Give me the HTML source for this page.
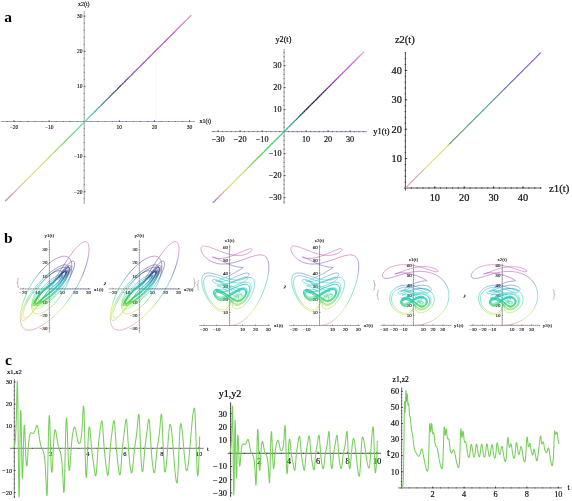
<!DOCTYPE html><html><head><meta charset="utf-8"><style>html,body{margin:0;padding:0;background:#fff;width:572px;height:501px;overflow:hidden} svg{will-change:transform}</style></head><body><svg width="572" height="501" viewBox="0 0 572 501" style="position:absolute;left:0;top:0;font-family:'Liberation Serif',serif">
<rect width="572" height="501" fill="#fff"/>
<text x="4.3" y="22.4" font-size="15.5" text-anchor="start" fill="#000" font-weight="bold" >a</text>
<text x="4" y="243" font-size="15.5" text-anchor="start" fill="#000" font-weight="bold" >b</text>
<text x="5" y="365" font-size="15.5" text-anchor="start" fill="#000" font-weight="bold" >c</text>
<line x1="1" y1="121.5" x2="195" y2="121.5" stroke="#999" stroke-width="0.9" />
<line x1="84.2" y1="121.5" x2="195" y2="121.5" stroke="#a0a0d4" stroke-width="0.9" />
<line x1="84.2" y1="11" x2="84.2" y2="204" stroke="#999" stroke-width="0.9" />
<path d="M6.98 121.9V121.1M14 121.9V121.1M21.02 121.9V121.1M28.04 121.9V121.1M35.06 121.9V121.1M42.08 121.9V121.1M49.1 121.9V121.1M56.12 121.9V121.1M63.14 121.9V121.1M70.16 121.9V121.1M77.18 121.9V121.1M84.2 121.9V121.1M91.22 121.9V121.1M98.24 121.9V121.1M105.26 121.9V121.1M112.28 121.9V121.1M119.3 121.9V121.1M126.32 121.9V121.1M133.34 121.9V121.1M140.36 121.9V121.1M147.38 121.9V121.1M154.4 121.9V121.1M161.42 121.9V121.1M168.44 121.9V121.1M175.46 121.9V121.1M182.48 121.9V121.1M189.5 121.9V121.1M83.8 198.72H84.6M83.8 191.7H84.6M83.8 184.68H84.6M83.8 177.66H84.6M83.8 170.64H84.6M83.8 163.62H84.6M83.8 156.6H84.6M83.8 149.58H84.6M83.8 142.56H84.6M83.8 135.54H84.6M83.8 128.52H84.6M83.8 121.5H84.6M83.8 114.48H84.6M83.8 107.46H84.6M83.8 100.44H84.6M83.8 93.42H84.6M83.8 86.4H84.6M83.8 79.38H84.6M83.8 72.36H84.6M83.8 65.34H84.6M83.8 58.32H84.6M83.8 51.3H84.6M83.8 44.28H84.6M83.8 37.26H84.6M83.8 30.24H84.6M83.8 23.22H84.6M83.8 16.2H84.6M14 121.5V120.2M49.1 121.5V120.2M119.3 121.5V120.2M154.4 121.5V120.2M189.5 121.5V120.2M84.2 191.7H85.5M84.2 156.6H85.5M84.2 86.4H85.5M84.2 51.3H85.5M84.2 16.2H85.5" stroke="#444" stroke-width="0.8" fill="none"/>
<text x="14" y="128.7" font-size="5.5" text-anchor="middle" fill="#111" font-weight="normal" stroke="#111" stroke-width="0.12" >&#8722;20</text>
<text x="49.1" y="128.7" font-size="5.5" text-anchor="middle" fill="#111" font-weight="normal" stroke="#111" stroke-width="0.12" >&#8722;10</text>
<text x="119.3" y="128.7" font-size="5.5" text-anchor="middle" fill="#111" font-weight="normal" stroke="#111" stroke-width="0.12" >10</text>
<text x="154.4" y="128.7" font-size="5.5" text-anchor="middle" fill="#111" font-weight="normal" stroke="#111" stroke-width="0.12" >20</text>
<text x="189.5" y="128.7" font-size="5.5" text-anchor="middle" fill="#111" font-weight="normal" stroke="#111" stroke-width="0.12" >30</text>
<text x="82.4" y="193.51" font-size="5.5" text-anchor="end" fill="#111" font-weight="normal" stroke="#111" stroke-width="0.12" >&#8722;20</text>
<text x="82.4" y="158.41" font-size="5.5" text-anchor="end" fill="#111" font-weight="normal" stroke="#111" stroke-width="0.12" >&#8722;10</text>
<text x="82.4" y="88.22" font-size="5.5" text-anchor="end" fill="#111" font-weight="normal" stroke="#111" stroke-width="0.12" >10</text>
<text x="82.4" y="53.12" font-size="5.5" text-anchor="end" fill="#111" font-weight="normal" stroke="#111" stroke-width="0.12" >20</text>
<text x="82.4" y="18.02" font-size="5.5" text-anchor="end" fill="#111" font-weight="normal" stroke="#111" stroke-width="0.12" >30</text>
<text x="83.8" y="6.2" font-size="6" text-anchor="middle" fill="#000" font-weight="normal" stroke="#000" stroke-width="0.13" >x2(t)</text>
<text x="199.4" y="123.4" font-size="6" text-anchor="start" fill="#000" font-weight="normal" stroke="#000" stroke-width="0.13" >x1(t)</text>
<line x1="5.23" y1="201.18" x2="7.55" y2="198.85" stroke="#c276ae" stroke-width="1.15" stroke-linecap="butt"/>
<line x1="7.55" y1="198.85" x2="9.88" y2="196.53" stroke="#c782ab" stroke-width="1.15" stroke-linecap="butt"/>
<line x1="9.88" y1="196.53" x2="12.2" y2="194.2" stroke="#cb8ea8" stroke-width="1.15" stroke-linecap="butt"/>
<line x1="12.2" y1="194.2" x2="14.53" y2="191.88" stroke="#d09aa5" stroke-width="1.15" stroke-linecap="butt"/>
<line x1="14.53" y1="191.88" x2="16.85" y2="189.55" stroke="#d4a7a2" stroke-width="1.15" stroke-linecap="butt"/>
<line x1="16.85" y1="189.55" x2="19.18" y2="187.22" stroke="#d8b29f" stroke-width="1.15" stroke-linecap="butt"/>
<line x1="19.18" y1="187.22" x2="21.5" y2="184.9" stroke="#daba98" stroke-width="1.15" stroke-linecap="butt"/>
<line x1="21.5" y1="184.9" x2="23.83" y2="182.57" stroke="#dcc391" stroke-width="1.15" stroke-linecap="butt"/>
<line x1="23.83" y1="182.57" x2="26.15" y2="180.25" stroke="#decc8b" stroke-width="1.15" stroke-linecap="butt"/>
<line x1="26.15" y1="180.25" x2="28.48" y2="177.92" stroke="#e0d484" stroke-width="1.15" stroke-linecap="butt"/>
<line x1="28.48" y1="177.92" x2="30.8" y2="175.6" stroke="#e2dd7d" stroke-width="1.15" stroke-linecap="butt"/>
<line x1="30.8" y1="175.6" x2="33.13" y2="173.27" stroke="#e3e477" stroke-width="1.15" stroke-linecap="butt"/>
<line x1="33.13" y1="173.27" x2="35.45" y2="170.95" stroke="#dde374" stroke-width="1.15" stroke-linecap="butt"/>
<line x1="35.45" y1="170.95" x2="37.78" y2="168.62" stroke="#d7e371" stroke-width="1.15" stroke-linecap="butt"/>
<line x1="37.78" y1="168.62" x2="40.11" y2="166.3" stroke="#d1e26e" stroke-width="1.15" stroke-linecap="butt"/>
<line x1="40.11" y1="166.3" x2="42.43" y2="163.97" stroke="#cce26b" stroke-width="1.15" stroke-linecap="butt"/>
<line x1="42.43" y1="163.97" x2="44.76" y2="161.65" stroke="#c6e168" stroke-width="1.15" stroke-linecap="butt"/>
<line x1="44.76" y1="161.65" x2="47.08" y2="159.32" stroke="#c0e164" stroke-width="1.15" stroke-linecap="butt"/>
<line x1="47.08" y1="159.32" x2="49.41" y2="156.99" stroke="#bae061" stroke-width="1.15" stroke-linecap="butt"/>
<line x1="49.41" y1="156.99" x2="51.73" y2="154.67" stroke="#b1df60" stroke-width="1.15" stroke-linecap="butt"/>
<line x1="51.73" y1="154.67" x2="54.06" y2="152.34" stroke="#a5de60" stroke-width="1.15" stroke-linecap="butt"/>
<line x1="54.06" y1="152.34" x2="56.38" y2="150.02" stroke="#99dd60" stroke-width="1.15" stroke-linecap="butt"/>
<line x1="56.38" y1="150.02" x2="58.71" y2="147.69" stroke="#8edc60" stroke-width="1.15" stroke-linecap="butt"/>
<line x1="58.71" y1="147.69" x2="61.03" y2="145.37" stroke="#82db60" stroke-width="1.15" stroke-linecap="butt"/>
<line x1="61.03" y1="145.37" x2="63.36" y2="143.04" stroke="#76da60" stroke-width="1.15" stroke-linecap="butt"/>
<line x1="63.36" y1="143.04" x2="65.68" y2="140.72" stroke="#6bd960" stroke-width="1.15" stroke-linecap="butt"/>
<line x1="65.68" y1="140.72" x2="68.01" y2="138.39" stroke="#60d861" stroke-width="1.15" stroke-linecap="butt"/>
<line x1="68.01" y1="138.39" x2="70.34" y2="136.07" stroke="#5dd869" stroke-width="1.15" stroke-linecap="butt"/>
<line x1="70.34" y1="136.07" x2="72.66" y2="133.74" stroke="#59d872" stroke-width="1.15" stroke-linecap="butt"/>
<line x1="72.66" y1="133.74" x2="74.99" y2="131.42" stroke="#56d87a" stroke-width="1.15" stroke-linecap="butt"/>
<line x1="74.99" y1="131.42" x2="77.31" y2="129.09" stroke="#53d883" stroke-width="1.15" stroke-linecap="butt"/>
<line x1="77.31" y1="129.09" x2="79.64" y2="126.77" stroke="#50d88b" stroke-width="1.15" stroke-linecap="butt"/>
<line x1="79.64" y1="126.77" x2="81.96" y2="124.44" stroke="#4dd894" stroke-width="1.15" stroke-linecap="butt"/>
<line x1="81.96" y1="124.44" x2="84.29" y2="122.11" stroke="#49d89c" stroke-width="1.15" stroke-linecap="butt"/>
<line x1="84.29" y1="122.11" x2="86.61" y2="119.79" stroke="#47d3a1" stroke-width="1.15" stroke-linecap="butt"/>
<line x1="86.61" y1="119.79" x2="88.94" y2="117.46" stroke="#45caa3" stroke-width="1.15" stroke-linecap="butt"/>
<line x1="88.94" y1="117.46" x2="91.26" y2="115.14" stroke="#44c2a4" stroke-width="1.15" stroke-linecap="butt"/>
<line x1="91.26" y1="115.14" x2="93.59" y2="112.81" stroke="#42b9a6" stroke-width="1.15" stroke-linecap="butt"/>
<line x1="93.59" y1="112.81" x2="95.91" y2="110.49" stroke="#40b0a8" stroke-width="1.15" stroke-linecap="butt"/>
<line x1="95.91" y1="110.49" x2="98.24" y2="108.16" stroke="#3ea4a6" stroke-width="1.15" stroke-linecap="butt"/>
<line x1="98.24" y1="108.16" x2="100.57" y2="105.84" stroke="#3c97a4" stroke-width="1.15" stroke-linecap="butt"/>
<line x1="100.57" y1="105.84" x2="102.89" y2="103.51" stroke="#3b8ba3" stroke-width="1.15" stroke-linecap="butt"/>
<line x1="102.89" y1="103.51" x2="105.22" y2="101.19" stroke="#397ea1" stroke-width="1.15" stroke-linecap="butt"/>
<line x1="105.22" y1="101.19" x2="107.54" y2="98.86" stroke="#377098" stroke-width="1.15" stroke-linecap="butt"/>
<line x1="107.54" y1="98.86" x2="109.87" y2="96.54" stroke="#346088" stroke-width="1.15" stroke-linecap="butt"/>
<line x1="109.87" y1="96.54" x2="112.19" y2="94.21" stroke="#315179" stroke-width="1.15" stroke-linecap="butt"/>
<line x1="112.19" y1="94.21" x2="114.52" y2="91.88" stroke="#314470" stroke-width="1.15" stroke-linecap="butt"/>
<line x1="114.52" y1="91.88" x2="116.84" y2="89.56" stroke="#343c70" stroke-width="1.15" stroke-linecap="butt"/>
<line x1="116.84" y1="89.56" x2="119.17" y2="87.23" stroke="#373470" stroke-width="1.15" stroke-linecap="butt"/>
<line x1="119.17" y1="87.23" x2="121.49" y2="84.91" stroke="#3f3277" stroke-width="1.15" stroke-linecap="butt"/>
<line x1="121.49" y1="84.91" x2="123.82" y2="82.58" stroke="#4d3685" stroke-width="1.15" stroke-linecap="butt"/>
<line x1="123.82" y1="82.58" x2="126.14" y2="80.26" stroke="#5c3a94" stroke-width="1.15" stroke-linecap="butt"/>
<line x1="126.14" y1="80.26" x2="128.47" y2="77.93" stroke="#6b3fa3" stroke-width="1.15" stroke-linecap="butt"/>
<line x1="128.47" y1="77.93" x2="130.8" y2="75.61" stroke="#7640ab" stroke-width="1.15" stroke-linecap="butt"/>
<line x1="130.8" y1="75.61" x2="133.12" y2="73.28" stroke="#7f40b0" stroke-width="1.15" stroke-linecap="butt"/>
<line x1="133.12" y1="73.28" x2="135.45" y2="70.96" stroke="#8840b4" stroke-width="1.15" stroke-linecap="butt"/>
<line x1="135.45" y1="70.96" x2="137.77" y2="68.63" stroke="#9140b9" stroke-width="1.15" stroke-linecap="butt"/>
<line x1="137.77" y1="68.63" x2="140.1" y2="66.31" stroke="#9a40bd" stroke-width="1.15" stroke-linecap="butt"/>
<line x1="140.1" y1="66.31" x2="142.42" y2="63.98" stroke="#a140c0" stroke-width="1.15" stroke-linecap="butt"/>
<line x1="142.42" y1="63.98" x2="144.75" y2="61.65" stroke="#a241c0" stroke-width="1.15" stroke-linecap="butt"/>
<line x1="144.75" y1="61.65" x2="147.07" y2="59.33" stroke="#a441c0" stroke-width="1.15" stroke-linecap="butt"/>
<line x1="147.07" y1="59.33" x2="149.4" y2="57" stroke="#a642c0" stroke-width="1.15" stroke-linecap="butt"/>
<line x1="149.4" y1="57" x2="151.72" y2="54.68" stroke="#a843c0" stroke-width="1.15" stroke-linecap="butt"/>
<line x1="151.72" y1="54.68" x2="154.05" y2="52.35" stroke="#aa43c0" stroke-width="1.15" stroke-linecap="butt"/>
<line x1="154.05" y1="52.35" x2="156.37" y2="50.03" stroke="#ab44c0" stroke-width="1.15" stroke-linecap="butt"/>
<line x1="156.37" y1="50.03" x2="158.7" y2="47.7" stroke="#ad44c0" stroke-width="1.15" stroke-linecap="butt"/>
<line x1="158.7" y1="47.7" x2="161.03" y2="45.38" stroke="#af45c0" stroke-width="1.15" stroke-linecap="butt"/>
<line x1="161.03" y1="45.38" x2="163.35" y2="43.05" stroke="#b146c0" stroke-width="1.15" stroke-linecap="butt"/>
<line x1="163.35" y1="43.05" x2="165.68" y2="40.73" stroke="#b246c0" stroke-width="1.15" stroke-linecap="butt"/>
<line x1="165.68" y1="40.73" x2="168" y2="38.4" stroke="#b447c0" stroke-width="1.15" stroke-linecap="butt"/>
<line x1="168" y1="38.4" x2="170.33" y2="36.08" stroke="#b647c0" stroke-width="1.15" stroke-linecap="butt"/>
<line x1="170.33" y1="36.08" x2="172.65" y2="33.75" stroke="#b848c0" stroke-width="1.15" stroke-linecap="butt"/>
<line x1="172.65" y1="33.75" x2="174.98" y2="31.42" stroke="#bc4fc0" stroke-width="1.15" stroke-linecap="butt"/>
<line x1="174.98" y1="31.42" x2="177.3" y2="29.1" stroke="#c158c0" stroke-width="1.15" stroke-linecap="butt"/>
<line x1="177.3" y1="29.1" x2="179.63" y2="26.77" stroke="#c660c0" stroke-width="1.15" stroke-linecap="butt"/>
<line x1="179.63" y1="26.77" x2="181.95" y2="24.45" stroke="#ca69c0" stroke-width="1.15" stroke-linecap="butt"/>
<line x1="181.95" y1="24.45" x2="184.28" y2="22.12" stroke="#cf72c0" stroke-width="1.15" stroke-linecap="butt"/>
<line x1="184.28" y1="22.12" x2="186.6" y2="19.8" stroke="#d47ac0" stroke-width="1.15" stroke-linecap="butt"/>
<line x1="186.6" y1="19.8" x2="188.93" y2="17.47" stroke="#d983c0" stroke-width="1.15" stroke-linecap="butt"/>
<line x1="188.93" y1="17.47" x2="191.25" y2="15.15" stroke="#de8cc0" stroke-width="1.15" stroke-linecap="butt"/>
<line x1="156.3" y1="55" x2="156.3" y2="121" stroke="#e2daf0" stroke-width="0.7" stroke-dasharray="0.7 1.3"/>
<line x1="211.5" y1="131.6" x2="367" y2="131.6" stroke="#999" stroke-width="0.9" />
<line x1="284.1" y1="131.6" x2="367" y2="131.6" stroke="#a0a0d4" stroke-width="0.9" />
<line x1="284.1" y1="48.8" x2="284.1" y2="204" stroke="#999" stroke-width="0.9" />
<path d="M213.7 132.1V131.1M218.1 132.1V131.1M222.5 132.1V131.1M226.9 132.1V131.1M231.3 132.1V131.1M235.7 132.1V131.1M240.1 132.1V131.1M244.5 132.1V131.1M248.9 132.1V131.1M253.3 132.1V131.1M257.7 132.1V131.1M262.1 132.1V131.1M266.5 132.1V131.1M270.9 132.1V131.1M275.3 132.1V131.1M279.7 132.1V131.1M284.1 132.1V131.1M288.5 132.1V131.1M292.9 132.1V131.1M297.3 132.1V131.1M301.7 132.1V131.1M306.1 132.1V131.1M310.5 132.1V131.1M314.9 132.1V131.1M319.3 132.1V131.1M323.7 132.1V131.1M328.1 132.1V131.1M332.5 132.1V131.1M336.9 132.1V131.1M341.3 132.1V131.1M345.7 132.1V131.1M350.1 132.1V131.1M354.5 132.1V131.1M358.9 132.1V131.1M363.3 132.1V131.1M283.6 202H284.6M283.6 197.6H284.6M283.6 193.2H284.6M283.6 188.8H284.6M283.6 184.4H284.6M283.6 180H284.6M283.6 175.6H284.6M283.6 171.2H284.6M283.6 166.8H284.6M283.6 162.4H284.6M283.6 158H284.6M283.6 153.6H284.6M283.6 149.2H284.6M283.6 144.8H284.6M283.6 140.4H284.6M283.6 136H284.6M283.6 131.6H284.6M283.6 127.2H284.6M283.6 122.8H284.6M283.6 118.4H284.6M283.6 114H284.6M283.6 109.6H284.6M283.6 105.2H284.6M283.6 100.8H284.6M283.6 96.4H284.6M283.6 92H284.6M283.6 87.6H284.6M283.6 83.2H284.6M283.6 78.8H284.6M283.6 74.4H284.6M283.6 70H284.6M283.6 65.6H284.6M283.6 61.2H284.6M283.6 56.8H284.6M283.6 52.4H284.6M218.1 131.6V130.1M240.1 131.6V130.1M262.1 131.6V130.1M306.1 131.6V130.1M328.1 131.6V130.1M350.1 131.6V130.1M284.1 197.6H285.6M284.1 175.6H285.6M284.1 153.6H285.6M284.1 109.6H285.6M284.1 87.6H285.6M284.1 65.6H285.6" stroke="#444" stroke-width="0.8" fill="none"/>
<text x="218.1" y="141.8" font-size="8.2" text-anchor="middle" fill="#111" font-weight="normal" stroke="#111" stroke-width="0.18" >&#8722;30</text>
<text x="240.1" y="141.8" font-size="8.2" text-anchor="middle" fill="#111" font-weight="normal" stroke="#111" stroke-width="0.18" >&#8722;20</text>
<text x="262.1" y="141.8" font-size="8.2" text-anchor="middle" fill="#111" font-weight="normal" stroke="#111" stroke-width="0.18" >&#8722;10</text>
<text x="306.1" y="141.8" font-size="8.2" text-anchor="middle" fill="#111" font-weight="normal" stroke="#111" stroke-width="0.18" >10</text>
<text x="328.1" y="141.8" font-size="8.2" text-anchor="middle" fill="#111" font-weight="normal" stroke="#111" stroke-width="0.18" >20</text>
<text x="350.1" y="141.8" font-size="8.2" text-anchor="middle" fill="#111" font-weight="normal" stroke="#111" stroke-width="0.18" >30</text>
<text x="281.5" y="200.31" font-size="8.2" text-anchor="end" fill="#111" font-weight="normal" stroke="#111" stroke-width="0.18" >&#8722;30</text>
<text x="281.5" y="178.31" font-size="8.2" text-anchor="end" fill="#111" font-weight="normal" stroke="#111" stroke-width="0.18" >&#8722;20</text>
<text x="281.5" y="156.31" font-size="8.2" text-anchor="end" fill="#111" font-weight="normal" stroke="#111" stroke-width="0.18" >&#8722;10</text>
<text x="281.5" y="112.31" font-size="8.2" text-anchor="end" fill="#111" font-weight="normal" stroke="#111" stroke-width="0.18" >10</text>
<text x="281.5" y="90.31" font-size="8.2" text-anchor="end" fill="#111" font-weight="normal" stroke="#111" stroke-width="0.18" >20</text>
<text x="281.5" y="68.31" font-size="8.2" text-anchor="end" fill="#111" font-weight="normal" stroke="#111" stroke-width="0.18" >30</text>
<text x="283.4" y="42" font-size="8.2" text-anchor="middle" fill="#000" font-weight="normal" stroke="#000" stroke-width="0.18" >y2(t)</text>
<text x="373.3" y="133.7" font-size="8.4" text-anchor="start" fill="#000" font-weight="normal" stroke="#000" stroke-width="0.18" >y1(t)</text>
<line x1="212.82" y1="202.88" x2="214.71" y2="200.99" stroke="#c070b0" stroke-width="1.35" stroke-linecap="butt"/>
<line x1="214.71" y1="200.99" x2="216.6" y2="199.1" stroke="#c47cad" stroke-width="1.35" stroke-linecap="butt"/>
<line x1="216.6" y1="199.1" x2="218.49" y2="197.21" stroke="#ca8aa9" stroke-width="1.35" stroke-linecap="butt"/>
<line x1="218.49" y1="197.21" x2="220.38" y2="195.32" stroke="#cf99a6" stroke-width="1.35" stroke-linecap="butt"/>
<line x1="220.38" y1="195.32" x2="222.27" y2="193.43" stroke="#d5a7a2" stroke-width="1.35" stroke-linecap="butt"/>
<line x1="222.27" y1="193.43" x2="224.16" y2="191.54" stroke="#d9b49d" stroke-width="1.35" stroke-linecap="butt"/>
<line x1="224.16" y1="191.54" x2="226.04" y2="189.66" stroke="#dcbf94" stroke-width="1.35" stroke-linecap="butt"/>
<line x1="226.04" y1="189.66" x2="227.93" y2="187.77" stroke="#decb8c" stroke-width="1.35" stroke-linecap="butt"/>
<line x1="227.93" y1="187.77" x2="229.82" y2="185.88" stroke="#e1d683" stroke-width="1.35" stroke-linecap="butt"/>
<line x1="229.82" y1="185.88" x2="231.71" y2="183.99" stroke="#e3e17a" stroke-width="1.35" stroke-linecap="butt"/>
<line x1="231.71" y1="183.99" x2="233.6" y2="182.1" stroke="#e0e477" stroke-width="1.35" stroke-linecap="butt"/>
<line x1="233.6" y1="182.1" x2="235.49" y2="180.21" stroke="#dbe376" stroke-width="1.35" stroke-linecap="butt"/>
<line x1="235.49" y1="180.21" x2="237.38" y2="178.32" stroke="#d6e275" stroke-width="1.35" stroke-linecap="butt"/>
<line x1="237.38" y1="178.32" x2="239.27" y2="176.43" stroke="#d1e274" stroke-width="1.35" stroke-linecap="butt"/>
<line x1="239.27" y1="176.43" x2="241.16" y2="174.54" stroke="#cce173" stroke-width="1.35" stroke-linecap="butt"/>
<line x1="241.16" y1="174.54" x2="243.05" y2="172.65" stroke="#c7e171" stroke-width="1.35" stroke-linecap="butt"/>
<line x1="243.05" y1="172.65" x2="244.94" y2="170.76" stroke="#c1e070" stroke-width="1.35" stroke-linecap="butt"/>
<line x1="244.94" y1="170.76" x2="246.83" y2="168.87" stroke="#b6de6d" stroke-width="1.35" stroke-linecap="butt"/>
<line x1="246.83" y1="168.87" x2="248.72" y2="166.98" stroke="#a8dc68" stroke-width="1.35" stroke-linecap="butt"/>
<line x1="248.72" y1="166.98" x2="250.61" y2="165.09" stroke="#9ada63" stroke-width="1.35" stroke-linecap="butt"/>
<line x1="250.61" y1="165.09" x2="252.49" y2="163.21" stroke="#8dd75f" stroke-width="1.35" stroke-linecap="butt"/>
<line x1="252.49" y1="163.21" x2="254.38" y2="161.32" stroke="#7fd55a" stroke-width="1.35" stroke-linecap="butt"/>
<line x1="254.38" y1="161.32" x2="256.27" y2="159.43" stroke="#71d356" stroke-width="1.35" stroke-linecap="butt"/>
<line x1="256.27" y1="159.43" x2="258.16" y2="157.54" stroke="#64d151" stroke-width="1.35" stroke-linecap="butt"/>
<line x1="258.16" y1="157.54" x2="260.05" y2="155.65" stroke="#5dd051" stroke-width="1.35" stroke-linecap="butt"/>
<line x1="260.05" y1="155.65" x2="261.94" y2="153.76" stroke="#59d053" stroke-width="1.35" stroke-linecap="butt"/>
<line x1="261.94" y1="153.76" x2="263.83" y2="151.87" stroke="#55d055" stroke-width="1.35" stroke-linecap="butt"/>
<line x1="263.83" y1="151.87" x2="265.72" y2="149.98" stroke="#51d057" stroke-width="1.35" stroke-linecap="butt"/>
<line x1="265.72" y1="149.98" x2="267.61" y2="148.09" stroke="#4dd059" stroke-width="1.35" stroke-linecap="butt"/>
<line x1="267.61" y1="148.09" x2="269.5" y2="146.2" stroke="#49d05b" stroke-width="1.35" stroke-linecap="butt"/>
<line x1="269.5" y1="146.2" x2="271.39" y2="144.31" stroke="#46d05d" stroke-width="1.35" stroke-linecap="butt"/>
<line x1="271.39" y1="144.31" x2="273.28" y2="142.42" stroke="#42d05f" stroke-width="1.35" stroke-linecap="butt"/>
<line x1="273.28" y1="142.42" x2="275.17" y2="140.53" stroke="#3fd064" stroke-width="1.35" stroke-linecap="butt"/>
<line x1="275.17" y1="140.53" x2="277.05" y2="138.65" stroke="#3ed06b" stroke-width="1.35" stroke-linecap="butt"/>
<line x1="277.05" y1="138.65" x2="278.94" y2="136.76" stroke="#3cd072" stroke-width="1.35" stroke-linecap="butt"/>
<line x1="278.94" y1="136.76" x2="280.83" y2="134.87" stroke="#3bd079" stroke-width="1.35" stroke-linecap="butt"/>
<line x1="280.83" y1="134.87" x2="282.72" y2="132.98" stroke="#3ad080" stroke-width="1.35" stroke-linecap="butt"/>
<line x1="282.72" y1="132.98" x2="284.61" y2="131.09" stroke="#38d086" stroke-width="1.35" stroke-linecap="butt"/>
<line x1="284.61" y1="131.09" x2="286.5" y2="129.2" stroke="#37c88b" stroke-width="1.35" stroke-linecap="butt"/>
<line x1="286.5" y1="129.2" x2="288.39" y2="127.31" stroke="#36bd8f" stroke-width="1.35" stroke-linecap="butt"/>
<line x1="288.39" y1="127.31" x2="290.28" y2="125.42" stroke="#34b293" stroke-width="1.35" stroke-linecap="butt"/>
<line x1="290.28" y1="125.42" x2="292.17" y2="123.53" stroke="#33a798" stroke-width="1.35" stroke-linecap="butt"/>
<line x1="292.17" y1="123.53" x2="294.06" y2="121.64" stroke="#319c9c" stroke-width="1.35" stroke-linecap="butt"/>
<line x1="294.06" y1="121.64" x2="295.95" y2="119.75" stroke="#3091a0" stroke-width="1.35" stroke-linecap="butt"/>
<line x1="295.95" y1="119.75" x2="297.84" y2="117.86" stroke="#2d8092" stroke-width="1.35" stroke-linecap="butt"/>
<line x1="297.84" y1="117.86" x2="299.73" y2="115.97" stroke="#2b6f83" stroke-width="1.35" stroke-linecap="butt"/>
<line x1="299.73" y1="115.97" x2="301.61" y2="114.09" stroke="#285d73" stroke-width="1.35" stroke-linecap="butt"/>
<line x1="301.61" y1="114.09" x2="303.5" y2="112.2" stroke="#254c64" stroke-width="1.35" stroke-linecap="butt"/>
<line x1="303.5" y1="112.2" x2="305.39" y2="110.31" stroke="#223b55" stroke-width="1.35" stroke-linecap="butt"/>
<line x1="305.39" y1="110.31" x2="307.28" y2="108.42" stroke="#202c47" stroke-width="1.35" stroke-linecap="butt"/>
<line x1="307.28" y1="108.42" x2="309.17" y2="106.53" stroke="#202a43" stroke-width="1.35" stroke-linecap="butt"/>
<line x1="309.17" y1="106.53" x2="311.06" y2="104.64" stroke="#20283f" stroke-width="1.35" stroke-linecap="butt"/>
<line x1="311.06" y1="104.64" x2="312.95" y2="102.75" stroke="#20263b" stroke-width="1.35" stroke-linecap="butt"/>
<line x1="312.95" y1="102.75" x2="314.84" y2="100.86" stroke="#202337" stroke-width="1.35" stroke-linecap="butt"/>
<line x1="314.84" y1="100.86" x2="316.73" y2="98.97" stroke="#202133" stroke-width="1.35" stroke-linecap="butt"/>
<line x1="316.73" y1="98.97" x2="318.62" y2="97.08" stroke="#242135" stroke-width="1.35" stroke-linecap="butt"/>
<line x1="318.62" y1="97.08" x2="320.51" y2="95.19" stroke="#322446" stroke-width="1.35" stroke-linecap="butt"/>
<line x1="320.51" y1="95.19" x2="322.4" y2="93.3" stroke="#402858" stroke-width="1.35" stroke-linecap="butt"/>
<line x1="322.4" y1="93.3" x2="324.29" y2="91.41" stroke="#4d2b69" stroke-width="1.35" stroke-linecap="butt"/>
<line x1="324.29" y1="91.41" x2="326.18" y2="89.53" stroke="#5b2f7a" stroke-width="1.35" stroke-linecap="butt"/>
<line x1="326.18" y1="89.53" x2="328.06" y2="87.64" stroke="#673387" stroke-width="1.35" stroke-linecap="butt"/>
<line x1="328.06" y1="87.64" x2="329.95" y2="85.75" stroke="#733893" stroke-width="1.35" stroke-linecap="butt"/>
<line x1="329.95" y1="85.75" x2="331.84" y2="83.86" stroke="#7e3c9e" stroke-width="1.35" stroke-linecap="butt"/>
<line x1="331.84" y1="83.86" x2="333.73" y2="81.97" stroke="#8a41aa" stroke-width="1.35" stroke-linecap="butt"/>
<line x1="333.73" y1="81.97" x2="335.62" y2="80.08" stroke="#9545b5" stroke-width="1.35" stroke-linecap="butt"/>
<line x1="335.62" y1="80.08" x2="337.51" y2="78.19" stroke="#a14ac1" stroke-width="1.35" stroke-linecap="butt"/>
<line x1="337.51" y1="78.19" x2="339.4" y2="76.3" stroke="#ac4ecc" stroke-width="1.35" stroke-linecap="butt"/>
<line x1="339.4" y1="76.3" x2="341.29" y2="74.41" stroke="#b253d0" stroke-width="1.35" stroke-linecap="butt"/>
<line x1="341.29" y1="74.41" x2="343.18" y2="72.52" stroke="#b557d0" stroke-width="1.35" stroke-linecap="butt"/>
<line x1="343.18" y1="72.52" x2="345.07" y2="70.63" stroke="#b85ad0" stroke-width="1.35" stroke-linecap="butt"/>
<line x1="345.07" y1="70.63" x2="346.96" y2="68.74" stroke="#bb5ed0" stroke-width="1.35" stroke-linecap="butt"/>
<line x1="346.96" y1="68.74" x2="348.85" y2="66.85" stroke="#be62d0" stroke-width="1.35" stroke-linecap="butt"/>
<line x1="348.85" y1="66.85" x2="350.74" y2="64.96" stroke="#c166d0" stroke-width="1.35" stroke-linecap="butt"/>
<line x1="350.74" y1="64.96" x2="352.62" y2="63.08" stroke="#c46ad0" stroke-width="1.35" stroke-linecap="butt"/>
<line x1="352.62" y1="63.08" x2="354.51" y2="61.19" stroke="#c76ed0" stroke-width="1.35" stroke-linecap="butt"/>
<line x1="354.51" y1="61.19" x2="356.4" y2="59.3" stroke="#cb75d0" stroke-width="1.35" stroke-linecap="butt"/>
<line x1="356.4" y1="59.3" x2="358.29" y2="57.41" stroke="#d27ed0" stroke-width="1.35" stroke-linecap="butt"/>
<line x1="358.29" y1="57.41" x2="360.18" y2="55.52" stroke="#d888d0" stroke-width="1.35" stroke-linecap="butt"/>
<line x1="360.18" y1="55.52" x2="362.07" y2="53.63" stroke="#de92d0" stroke-width="1.35" stroke-linecap="butt"/>
<line x1="362.07" y1="53.63" x2="363.96" y2="51.74" stroke="#e59bd0" stroke-width="1.35" stroke-linecap="butt"/>
<line x1="404" y1="188" x2="541.6" y2="188" stroke="#555" stroke-width="1" />
<line x1="405.4" y1="52.4" x2="405.4" y2="190.6" stroke="#555" stroke-width="1" />
<path d="M405.4 188.7V187.3M411.28 188.7V187.3M417.16 188.7V187.3M423.04 188.7V187.3M428.92 188.7V187.3M434.8 188.7V187.3M440.68 188.7V187.3M446.56 188.7V187.3M452.44 188.7V187.3M458.32 188.7V187.3M464.2 188.7V187.3M470.08 188.7V187.3M475.96 188.7V187.3M481.84 188.7V187.3M487.72 188.7V187.3M493.6 188.7V187.3M499.48 188.7V187.3M505.36 188.7V187.3M511.24 188.7V187.3M517.12 188.7V187.3M523 188.7V187.3M528.88 188.7V187.3M534.76 188.7V187.3M540.64 188.7V187.3M404.7 188H406.1M404.7 182.12H406.1M404.7 176.24H406.1M404.7 170.36H406.1M404.7 164.48H406.1M404.7 158.6H406.1M404.7 152.72H406.1M404.7 146.84H406.1M404.7 140.96H406.1M404.7 135.08H406.1M404.7 129.2H406.1M404.7 123.32H406.1M404.7 117.44H406.1M404.7 111.56H406.1M404.7 105.68H406.1M404.7 99.8H406.1M404.7 93.92H406.1M404.7 88.04H406.1M404.7 82.16H406.1M404.7 76.28H406.1M404.7 70.4H406.1M404.7 64.52H406.1M404.7 58.64H406.1M404.7 52.76H406.1M434.8 188V186.2M464.2 188V186.2M493.6 188V186.2M523 188V186.2M405.4 158.6H407.2M405.4 129.2H407.2M405.4 99.8H407.2M405.4 70.4H407.2" stroke="#222" stroke-width="0.8" fill="none"/>
<text x="434.8" y="201" font-size="10.3" text-anchor="middle" fill="#111" font-weight="normal" stroke="#111" stroke-width="0.23" >10</text>
<text x="464.2" y="201" font-size="10.3" text-anchor="middle" fill="#111" font-weight="normal" stroke="#111" stroke-width="0.23" >20</text>
<text x="493.6" y="201" font-size="10.3" text-anchor="middle" fill="#111" font-weight="normal" stroke="#111" stroke-width="0.23" >30</text>
<text x="523" y="201" font-size="10.3" text-anchor="middle" fill="#111" font-weight="normal" stroke="#111" stroke-width="0.23" >40</text>
<text x="401.9" y="162" font-size="10.3" text-anchor="end" fill="#111" font-weight="normal" stroke="#111" stroke-width="0.23" >10</text>
<text x="401.9" y="132.6" font-size="10.3" text-anchor="end" fill="#111" font-weight="normal" stroke="#111" stroke-width="0.23" >20</text>
<text x="401.9" y="103.2" font-size="10.3" text-anchor="end" fill="#111" font-weight="normal" stroke="#111" stroke-width="0.23" >30</text>
<text x="401.9" y="73.8" font-size="10.3" text-anchor="end" fill="#111" font-weight="normal" stroke="#111" stroke-width="0.23" >40</text>
<text x="404.8" y="42.8" font-size="10.5" text-anchor="middle" fill="#111" font-weight="normal" stroke="#111" stroke-width="0.23" >z2(t)</text>
<text x="549" y="191.6" font-size="10.8" text-anchor="start" fill="#111" font-weight="normal" stroke="#111" stroke-width="0.24" >z1(t)</text>
<line x1="405.4" y1="188" x2="407.09" y2="186.31" stroke="#e091af" stroke-width="1.1" stroke-linecap="butt"/>
<line x1="407.09" y1="186.31" x2="408.78" y2="184.62" stroke="#e093ad" stroke-width="1.1" stroke-linecap="butt"/>
<line x1="408.78" y1="184.62" x2="410.47" y2="182.93" stroke="#e094ac" stroke-width="1.1" stroke-linecap="butt"/>
<line x1="410.47" y1="182.93" x2="412.16" y2="181.24" stroke="#e096aa" stroke-width="1.1" stroke-linecap="butt"/>
<line x1="412.16" y1="181.24" x2="413.85" y2="179.55" stroke="#e098a8" stroke-width="1.1" stroke-linecap="butt"/>
<line x1="413.85" y1="179.55" x2="415.54" y2="177.86" stroke="#e099a7" stroke-width="1.1" stroke-linecap="butt"/>
<line x1="415.54" y1="177.86" x2="417.23" y2="176.17" stroke="#e09ba5" stroke-width="1.1" stroke-linecap="butt"/>
<line x1="417.23" y1="176.17" x2="418.92" y2="174.48" stroke="#e09da3" stroke-width="1.1" stroke-linecap="butt"/>
<line x1="418.92" y1="174.48" x2="420.61" y2="172.79" stroke="#e09ea2" stroke-width="1.1" stroke-linecap="butt"/>
<line x1="420.61" y1="172.79" x2="422.3" y2="171.09" stroke="#e0a0a0" stroke-width="1.1" stroke-linecap="butt"/>
<line x1="422.3" y1="171.09" x2="424" y2="169.4" stroke="#e0b78f" stroke-width="1.1" stroke-linecap="butt"/>
<line x1="424" y1="169.4" x2="425.69" y2="167.71" stroke="#e0cf7c" stroke-width="1.1" stroke-linecap="butt"/>
<line x1="425.69" y1="167.71" x2="427.38" y2="166.02" stroke="#e0e070" stroke-width="1.1" stroke-linecap="butt"/>
<line x1="427.38" y1="166.02" x2="429.07" y2="164.33" stroke="#dfe06e" stroke-width="1.1" stroke-linecap="butt"/>
<line x1="429.07" y1="164.33" x2="430.76" y2="162.64" stroke="#dfe06d" stroke-width="1.1" stroke-linecap="butt"/>
<line x1="430.76" y1="162.64" x2="432.45" y2="160.95" stroke="#dee06c" stroke-width="1.1" stroke-linecap="butt"/>
<line x1="432.45" y1="160.95" x2="434.14" y2="159.26" stroke="#dde06b" stroke-width="1.1" stroke-linecap="butt"/>
<line x1="434.14" y1="159.26" x2="435.83" y2="157.57" stroke="#dde069" stroke-width="1.1" stroke-linecap="butt"/>
<line x1="435.83" y1="157.57" x2="437.52" y2="155.88" stroke="#dce068" stroke-width="1.1" stroke-linecap="butt"/>
<line x1="437.52" y1="155.88" x2="439.21" y2="154.19" stroke="#dce067" stroke-width="1.1" stroke-linecap="butt"/>
<line x1="439.21" y1="154.19" x2="440.9" y2="152.5" stroke="#dbe066" stroke-width="1.1" stroke-linecap="butt"/>
<line x1="440.9" y1="152.5" x2="442.59" y2="150.81" stroke="#dae065" stroke-width="1.1" stroke-linecap="butt"/>
<line x1="442.59" y1="150.81" x2="444.28" y2="149.12" stroke="#dae063" stroke-width="1.1" stroke-linecap="butt"/>
<line x1="444.28" y1="149.12" x2="445.97" y2="147.43" stroke="#d9e062" stroke-width="1.1" stroke-linecap="butt"/>
<line x1="445.97" y1="147.43" x2="447.66" y2="145.74" stroke="#d8e061" stroke-width="1.1" stroke-linecap="butt"/>
<line x1="447.66" y1="145.74" x2="449.35" y2="144.05" stroke="#b1c156" stroke-width="1.1" stroke-linecap="butt"/>
<line x1="449.35" y1="144.05" x2="451.04" y2="142.36" stroke="#5f8242" stroke-width="1.1" stroke-linecap="butt"/>
<line x1="451.04" y1="142.36" x2="452.73" y2="140.67" stroke="#5d8545" stroke-width="1.1" stroke-linecap="butt"/>
<line x1="452.73" y1="140.67" x2="454.42" y2="138.98" stroke="#5c8949" stroke-width="1.1" stroke-linecap="butt"/>
<line x1="454.42" y1="138.98" x2="456.12" y2="137.28" stroke="#5a8d4d" stroke-width="1.1" stroke-linecap="butt"/>
<line x1="456.12" y1="137.28" x2="457.81" y2="135.59" stroke="#589050" stroke-width="1.1" stroke-linecap="butt"/>
<line x1="457.81" y1="135.59" x2="459.5" y2="133.9" stroke="#569454" stroke-width="1.1" stroke-linecap="butt"/>
<line x1="459.5" y1="133.9" x2="461.19" y2="132.21" stroke="#549858" stroke-width="1.1" stroke-linecap="butt"/>
<line x1="461.19" y1="132.21" x2="462.88" y2="130.52" stroke="#529b5b" stroke-width="1.1" stroke-linecap="butt"/>
<line x1="462.88" y1="130.52" x2="464.57" y2="128.83" stroke="#519f5f" stroke-width="1.1" stroke-linecap="butt"/>
<line x1="464.57" y1="128.83" x2="466.26" y2="127.14" stroke="#4fa064" stroke-width="1.1" stroke-linecap="butt"/>
<line x1="466.26" y1="127.14" x2="467.95" y2="125.45" stroke="#4ea069" stroke-width="1.1" stroke-linecap="butt"/>
<line x1="467.95" y1="125.45" x2="469.64" y2="123.76" stroke="#4ca06e" stroke-width="1.1" stroke-linecap="butt"/>
<line x1="469.64" y1="123.76" x2="471.33" y2="122.07" stroke="#4ba074" stroke-width="1.1" stroke-linecap="butt"/>
<line x1="471.33" y1="122.07" x2="473.02" y2="120.38" stroke="#4aa079" stroke-width="1.1" stroke-linecap="butt"/>
<line x1="473.02" y1="120.38" x2="474.71" y2="118.69" stroke="#48a07e" stroke-width="1.1" stroke-linecap="butt"/>
<line x1="474.71" y1="118.69" x2="476.4" y2="117" stroke="#47a083" stroke-width="1.1" stroke-linecap="butt"/>
<line x1="476.4" y1="117" x2="478.09" y2="115.31" stroke="#46a089" stroke-width="1.1" stroke-linecap="butt"/>
<line x1="478.09" y1="115.31" x2="479.78" y2="113.62" stroke="#45a08e" stroke-width="1.1" stroke-linecap="butt"/>
<line x1="479.78" y1="113.62" x2="481.47" y2="111.93" stroke="#43a093" stroke-width="1.1" stroke-linecap="butt"/>
<line x1="481.47" y1="111.93" x2="483.16" y2="110.24" stroke="#42a098" stroke-width="1.1" stroke-linecap="butt"/>
<line x1="483.16" y1="110.24" x2="484.85" y2="108.55" stroke="#41a09e" stroke-width="1.1" stroke-linecap="butt"/>
<line x1="484.85" y1="108.55" x2="486.54" y2="106.86" stroke="#419ea1" stroke-width="1.1" stroke-linecap="butt"/>
<line x1="486.54" y1="106.86" x2="488.23" y2="105.17" stroke="#4299a2" stroke-width="1.1" stroke-linecap="butt"/>
<line x1="488.23" y1="105.17" x2="489.92" y2="103.47" stroke="#4494a4" stroke-width="1.1" stroke-linecap="butt"/>
<line x1="489.92" y1="103.47" x2="491.62" y2="101.78" stroke="#4590a5" stroke-width="1.1" stroke-linecap="butt"/>
<line x1="491.62" y1="101.78" x2="493.31" y2="100.09" stroke="#478ba7" stroke-width="1.1" stroke-linecap="butt"/>
<line x1="493.31" y1="100.09" x2="495" y2="98.4" stroke="#4987a9" stroke-width="1.1" stroke-linecap="butt"/>
<line x1="495" y1="98.4" x2="496.69" y2="96.71" stroke="#4a82aa" stroke-width="1.1" stroke-linecap="butt"/>
<line x1="496.69" y1="96.71" x2="498.38" y2="95.02" stroke="#4c7dac" stroke-width="1.1" stroke-linecap="butt"/>
<line x1="498.38" y1="95.02" x2="500.07" y2="93.33" stroke="#4d79ad" stroke-width="1.1" stroke-linecap="butt"/>
<line x1="500.07" y1="93.33" x2="501.76" y2="91.64" stroke="#4f74af" stroke-width="1.1" stroke-linecap="butt"/>
<line x1="501.76" y1="91.64" x2="503.45" y2="89.95" stroke="#5070b0" stroke-width="1.1" stroke-linecap="butt"/>
<line x1="503.45" y1="89.95" x2="505.14" y2="88.26" stroke="#546cb2" stroke-width="1.1" stroke-linecap="butt"/>
<line x1="505.14" y1="88.26" x2="506.83" y2="86.57" stroke="#5868b4" stroke-width="1.1" stroke-linecap="butt"/>
<line x1="506.83" y1="86.57" x2="508.52" y2="84.88" stroke="#5b65b6" stroke-width="1.1" stroke-linecap="butt"/>
<line x1="508.52" y1="84.88" x2="510.21" y2="83.19" stroke="#5f61b8" stroke-width="1.1" stroke-linecap="butt"/>
<line x1="510.21" y1="83.19" x2="511.9" y2="81.5" stroke="#635db9" stroke-width="1.1" stroke-linecap="butt"/>
<line x1="511.9" y1="81.5" x2="513.59" y2="79.81" stroke="#665abb" stroke-width="1.1" stroke-linecap="butt"/>
<line x1="513.59" y1="79.81" x2="515.28" y2="78.12" stroke="#6a56bd" stroke-width="1.1" stroke-linecap="butt"/>
<line x1="515.28" y1="78.12" x2="516.97" y2="76.43" stroke="#6e52bf" stroke-width="1.1" stroke-linecap="butt"/>
<line x1="516.97" y1="76.43" x2="518.66" y2="74.74" stroke="#7150c0" stroke-width="1.1" stroke-linecap="butt"/>
<line x1="518.66" y1="74.74" x2="520.35" y2="73.05" stroke="#744fc0" stroke-width="1.1" stroke-linecap="butt"/>
<line x1="520.35" y1="73.05" x2="522.04" y2="71.36" stroke="#764ec0" stroke-width="1.1" stroke-linecap="butt"/>
<line x1="522.04" y1="71.36" x2="523.74" y2="69.66" stroke="#794ec0" stroke-width="1.1" stroke-linecap="butt"/>
<line x1="523.74" y1="69.66" x2="525.43" y2="67.97" stroke="#7b4dc0" stroke-width="1.1" stroke-linecap="butt"/>
<line x1="525.43" y1="67.97" x2="527.12" y2="66.28" stroke="#7e4cc0" stroke-width="1.1" stroke-linecap="butt"/>
<line x1="527.12" y1="66.28" x2="528.81" y2="64.59" stroke="#814cc0" stroke-width="1.1" stroke-linecap="butt"/>
<line x1="528.81" y1="64.59" x2="530.5" y2="62.9" stroke="#834bc0" stroke-width="1.1" stroke-linecap="butt"/>
<line x1="530.5" y1="62.9" x2="532.19" y2="61.21" stroke="#864bc0" stroke-width="1.1" stroke-linecap="butt"/>
<line x1="532.19" y1="61.21" x2="533.88" y2="59.52" stroke="#884ac0" stroke-width="1.1" stroke-linecap="butt"/>
<line x1="533.88" y1="59.52" x2="535.57" y2="57.83" stroke="#8b49c0" stroke-width="1.1" stroke-linecap="butt"/>
<line x1="535.57" y1="57.83" x2="537.26" y2="56.14" stroke="#8e49c0" stroke-width="1.1" stroke-linecap="butt"/>
<line x1="537.26" y1="56.14" x2="538.95" y2="54.45" stroke="#9048c0" stroke-width="1.1" stroke-linecap="butt"/>
<line x1="538.95" y1="54.45" x2="540.64" y2="52.76" stroke="#9048c0" stroke-width="1.1" stroke-linecap="butt"/>
<line x1="10.1" y1="448.3" x2="203.7" y2="448.3" stroke="#606060" stroke-width="0.85" />
<line x1="14.3" y1="379" x2="14.3" y2="498" stroke="#606060" stroke-width="0.85" />
<path d="M13.9 448.7V447.9M23.15 448.7V447.9M32.4 448.7V447.9M41.65 448.7V447.9M50.9 448.7V447.9M60.15 448.7V447.9M69.4 448.7V447.9M78.65 448.7V447.9M87.9 448.7V447.9M97.15 448.7V447.9M106.4 448.7V447.9M115.65 448.7V447.9M124.9 448.7V447.9M134.15 448.7V447.9M143.4 448.7V447.9M152.65 448.7V447.9M161.9 448.7V447.9M171.15 448.7V447.9M180.4 448.7V447.9M189.65 448.7V447.9M198.9 448.7V447.9M13.9 496.92H14.7M13.9 492.5H14.7M13.9 488.08H14.7M13.9 483.66H14.7M13.9 479.24H14.7M13.9 474.82H14.7M13.9 470.4H14.7M13.9 465.98H14.7M13.9 461.56H14.7M13.9 457.14H14.7M13.9 452.72H14.7M13.9 448.3H14.7M13.9 443.88H14.7M13.9 439.46H14.7M13.9 435.04H14.7M13.9 430.62H14.7M13.9 426.2H14.7M13.9 421.78H14.7M13.9 417.36H14.7M13.9 412.94H14.7M13.9 408.52H14.7M13.9 404.1H14.7M13.9 399.68H14.7M13.9 395.26H14.7M13.9 390.84H14.7M13.9 386.42H14.7M13.9 382H14.7M50.9 448.3V447M87.9 448.3V447M124.9 448.3V447M161.9 448.3V447M198.9 448.3V447M14.3 492.5H15.6M14.3 470.4H15.6M14.3 426.2H15.6M14.3 404.1H15.6M14.3 382H15.6" stroke="#222" stroke-width="0.8" fill="none"/>
<text x="50.9" y="455.5" font-size="6.5" text-anchor="middle" fill="#111" font-weight="normal" stroke="#111" stroke-width="0.14" >2</text>
<text x="87.9" y="455.5" font-size="6.5" text-anchor="middle" fill="#111" font-weight="normal" stroke="#111" stroke-width="0.14" >4</text>
<text x="124.9" y="455.5" font-size="6.5" text-anchor="middle" fill="#111" font-weight="normal" stroke="#111" stroke-width="0.14" >6</text>
<text x="161.9" y="455.5" font-size="6.5" text-anchor="middle" fill="#111" font-weight="normal" stroke="#111" stroke-width="0.14" >8</text>
<text x="198.9" y="455.5" font-size="6.5" text-anchor="middle" fill="#111" font-weight="normal" stroke="#111" stroke-width="0.14" >10</text>
<text x="12.3" y="494.64" font-size="6.5" text-anchor="end" fill="#111" font-weight="normal" stroke="#111" stroke-width="0.14" >&#8722;20</text>
<text x="12.3" y="472.55" font-size="6.5" text-anchor="end" fill="#111" font-weight="normal" stroke="#111" stroke-width="0.14" >&#8722;10</text>
<text x="12.3" y="428.34" font-size="6.5" text-anchor="end" fill="#111" font-weight="normal" stroke="#111" stroke-width="0.14" >10</text>
<text x="12.3" y="406.25" font-size="6.5" text-anchor="end" fill="#111" font-weight="normal" stroke="#111" stroke-width="0.14" >20</text>
<text x="12.3" y="384.14" font-size="6.5" text-anchor="end" fill="#111" font-weight="normal" stroke="#111" stroke-width="0.14" >30</text>
<text x="7" y="374.4" font-size="6.5" text-anchor="start" fill="#000" font-weight="normal" stroke="#000" stroke-width="0.14" >x1,x2</text>
<text x="207" y="451" font-size="6.5" text-anchor="start" fill="#000" font-weight="normal" stroke="#000" stroke-width="0.14" >t</text>
<path d="M13.9,448.3 14.0,447.8 14.1,447.4 14.2,447.0 14.3,446.5 14.5,446.0 14.5,445.6 14.6,445.1 14.7,444.6 14.8,444.1 14.9,443.6 15.0,443.1 15.0,442.5 15.1,442.1 15.1,441.6 15.2,441.0 15.3,440.5 15.3,439.9 15.4,439.2 15.4,438.8 15.4,438.3 15.5,437.8 15.5,437.3 15.5,436.8 15.6,436.2 15.6,435.6 15.7,435.0 15.7,434.3 15.7,433.7 15.8,433.0 15.8,432.2 15.8,431.5 15.9,430.7 15.9,429.8 16.0,428.9 16.0,428.5 16.0,428.0 16.0,427.6 16.0,427.1 16.0,426.6 16.1,426.1 16.1,425.6 16.1,425.0 16.1,424.5 16.1,424.0 16.2,423.4 16.2,422.9 16.2,422.3 16.2,421.7 16.2,421.1 16.2,420.5 16.3,419.9 16.3,419.2 16.3,418.6 16.3,418.0 16.3,417.3 16.4,416.6 16.4,415.9 16.4,415.2 16.4,414.5 16.4,413.8 16.5,413.1 16.5,412.4 16.5,411.6 16.5,410.9 16.5,410.1 16.5,409.3 16.6,408.5 16.6,407.8 16.6,407.0 16.6,406.2 16.6,405.3 16.7,404.5 16.7,403.7 16.7,402.9 16.7,402.0 16.7,401.2 16.7,400.4 16.8,399.5 16.8,398.7 16.8,397.9 16.8,397.0 16.8,396.2 16.9,395.4 16.9,394.6 16.9,393.7 16.9,392.9 16.9,392.2 17.0,391.4 17.0,390.6 17.0,389.9 17.0,389.1 17.0,388.4 17.0,387.7 17.1,387.0 17.1,386.4 17.1,385.8 17.1,385.2 17.1,384.6 17.2,384.1 17.2,383.6 17.2,383.1 17.2,382.4 17.3,381.7 17.3,381.2 17.5,381.8 17.5,382.5 17.5,382.9 17.5,383.5 17.5,384.0 17.6,384.7 17.6,385.4 17.6,386.1 17.6,387.0 17.6,387.9 17.7,388.8 17.7,389.8 17.7,390.9 17.7,392.0 17.7,393.2 17.7,394.5 17.8,395.8 17.8,397.1 17.8,398.5 17.8,399.9 17.8,401.4 17.9,403.0 17.9,404.5 17.9,406.1 17.9,407.8 17.9,409.5 18.0,411.2 18.0,412.9 18.0,414.7 18.0,416.5 18.0,418.3 18.0,420.1 18.1,422.0 18.1,423.8 18.1,425.7 18.1,427.6 18.1,429.5 18.2,431.4 18.2,433.3 18.2,435.2 18.2,437.1 18.2,439.0 18.2,440.9 18.3,442.7 18.3,444.6 18.3,446.5 18.3,448.4 18.3,450.2 18.4,452.0 18.4,453.9 18.4,455.7 18.4,457.4 18.4,459.2 18.5,460.9 18.5,462.6 18.5,464.3 18.5,466.0 18.5,467.6 18.5,469.2 18.6,470.8 18.6,472.3 18.6,473.8 18.6,475.3 18.6,476.8 18.7,478.2 18.7,479.5 18.7,480.8 18.7,482.1 18.7,483.4 18.7,484.6 18.8,485.7 18.8,486.8 18.8,487.9 18.8,488.9 18.8,489.8 18.9,490.7 18.9,491.6 18.9,492.4 18.9,493.1 18.9,493.8 19.0,494.4 19.0,495.0 19.0,495.5 19.0,496.3 19.1,496.9 19.2,496.4 19.3,495.6 19.3,495.1 19.3,494.5 19.3,493.9 19.3,493.2 19.4,492.5 19.4,491.7 19.4,490.8 19.4,489.9 19.4,489.0 19.4,488.0 19.5,486.9 19.5,485.8 19.5,484.7 19.5,483.5 19.5,482.3 19.6,481.0 19.6,479.7 19.6,478.4 19.6,477.0 19.6,475.7 19.7,474.2 19.7,472.8 19.7,471.3 19.7,469.9 19.7,468.4 19.7,466.9 19.8,465.3 19.8,463.8 19.8,462.3 19.8,460.7 19.8,459.2 19.9,457.6 19.9,456.1 19.9,454.5 19.9,453.0 19.9,451.4 19.9,449.9 20.0,448.3 20.0,446.8 20.0,445.3 20.0,443.8 20.0,442.4 20.1,440.9 20.1,439.5 20.1,438.0 20.1,436.6 20.1,435.3 20.2,433.9 20.2,432.6 20.2,431.3 20.2,430.0 20.2,428.8 20.2,427.6 20.3,426.4 20.3,425.2 20.3,424.1 20.3,423.1 20.3,422.0 20.4,421.0 20.4,420.0 20.4,419.1 20.4,418.2 20.4,417.4 20.4,416.6 20.5,415.9 20.5,415.1 20.5,414.5 20.5,413.9 20.5,413.3 20.6,412.8 20.6,412.3 20.6,411.5 20.7,410.8 20.7,410.3 20.9,411.0 20.9,411.6 20.9,412.5 20.9,412.9 21.0,413.5 21.0,414.0 21.0,414.6 21.0,415.3 21.0,416.0 21.1,416.7 21.1,417.5 21.1,418.3 21.1,419.1 21.1,419.9 21.2,420.8 21.2,421.8 21.2,422.7 21.2,423.7 21.2,424.7 21.2,425.7 21.3,426.7 21.3,427.8 21.3,428.9 21.3,430.0 21.3,431.1 21.4,432.2 21.4,433.3 21.4,434.5 21.4,435.6 21.4,436.8 21.4,437.9 21.5,439.1 21.5,440.3 21.5,441.4 21.5,442.6 21.5,443.8 21.6,444.9 21.6,446.1 21.6,447.2 21.6,448.4 21.6,449.5 21.7,450.7 21.7,451.8 21.7,452.9 21.7,454.0 21.7,455.1 21.7,456.1 21.8,457.2 21.8,458.2 21.8,459.2 21.8,460.2 21.8,461.2 21.9,462.2 21.9,463.1 21.9,464.0 21.9,464.9 21.9,465.8 21.9,466.6 22.0,467.4 22.0,468.2 22.0,469.0 22.0,469.7 22.0,470.5 22.1,471.1 22.1,471.8 22.1,472.4 22.1,473.0 22.1,473.6 22.2,474.1 22.2,474.6 22.2,475.1 22.2,475.9 22.3,476.6 22.3,477.2 22.3,477.7 22.4,478.2 22.6,477.6 22.6,477.1 22.6,476.5 22.7,475.8 22.7,475.0 22.7,474.1 22.8,473.6 22.8,473.1 22.8,472.6 22.8,472.0 22.8,471.4 22.9,470.8 22.9,470.2 22.9,469.6 22.9,468.9 22.9,468.2 22.9,467.5 23.0,466.8 23.0,466.1 23.0,465.4 23.0,464.6 23.0,463.9 23.1,463.1 23.1,462.3 23.1,461.5 23.1,460.7 23.1,459.9 23.1,459.1 23.2,458.3 23.2,457.5 23.2,456.7 23.2,455.9 23.2,455.1 23.3,454.2 23.3,453.4 23.3,452.6 23.3,451.8 23.3,451.0 23.4,450.1 23.4,449.3 23.4,448.5 23.4,447.7 23.4,446.9 23.4,446.2 23.5,445.4 23.5,444.6 23.5,443.8 23.5,443.1 23.5,442.3 23.6,441.6 23.6,440.9 23.6,440.2 23.6,439.5 23.6,438.8 23.6,438.1 23.7,437.5 23.7,436.8 23.7,436.2 23.7,435.6 23.7,435.0 23.8,434.4 23.8,433.8 23.8,433.2 23.8,432.7 23.8,432.2 23.9,431.7 23.9,431.2 23.9,430.7 23.9,430.3 23.9,429.4 24.0,428.6 24.0,427.9 24.1,427.3 24.1,426.7 24.1,426.3 24.2,425.7 24.3,425.2 24.5,425.7 24.6,426.3 24.6,427.0 24.6,427.5 24.7,428.1 24.7,428.8 24.8,429.5 24.8,430.2 24.8,431.0 24.9,431.8 24.9,432.7 24.9,433.6 25.0,434.1 25.0,434.5 25.0,435.0 25.0,435.5 25.0,436.0 25.1,436.5 25.1,437.0 25.1,437.5 25.1,438.0 25.1,438.5 25.1,439.0 25.2,439.5 25.2,440.0 25.2,440.6 25.2,441.1 25.2,441.6 25.3,442.1 25.3,442.7 25.3,443.2 25.3,443.7 25.3,444.2 25.4,444.8 25.4,445.3 25.4,445.8 25.4,446.3 25.4,446.8 25.4,447.3 25.5,447.8 25.5,448.4 25.5,448.9 25.5,449.4 25.5,449.8 25.6,450.3 25.6,450.8 25.6,451.3 25.6,451.8 25.6,452.2 25.6,452.7 25.7,453.2 25.7,453.6 25.7,454.5 25.8,455.4 25.8,456.2 25.8,457.0 25.9,457.8 25.9,458.5 25.9,459.2 26.0,459.9 26.0,460.6 26.1,461.2 26.1,461.8 26.1,462.3 26.2,462.8 26.2,463.3 26.3,463.9 26.3,464.5 26.4,464.9 26.4,465.4 26.6,465.9 26.9,465.6 27.0,465.0 27.1,464.5 27.1,464.0 27.2,463.5 27.2,462.9 27.3,462.3 27.3,461.7 27.4,461.2 27.4,460.7 27.4,460.3 27.5,459.8 27.5,459.3 27.6,458.8 27.6,458.3 27.6,457.7 27.7,457.2 27.7,456.7 27.7,456.1 27.8,455.6 27.8,455.0 27.8,454.5 27.9,454.0 27.9,453.4 28.0,452.9 28.0,452.3 28.0,451.8 28.1,451.3 28.1,450.7 28.1,450.2 28.2,449.7 28.2,449.2 28.3,448.7 28.3,448.2 28.3,447.7 28.4,447.2 28.4,446.7 28.4,446.3 28.5,445.8 28.5,445.3 28.6,444.7 28.6,444.0 28.7,443.4 28.7,442.8 28.8,442.2 28.8,441.7 28.9,441.1 29.0,440.6 29.0,440.1 29.1,439.7 29.1,439.2 29.2,438.6 29.3,438.1 29.3,437.6 29.4,437.1 29.5,436.6 29.6,436.1 29.7,435.6 29.8,435.1 29.9,434.6 30.1,434.1 30.3,433.7 30.5,433.3 30.8,432.9 31.2,432.8 31.6,432.8 32.0,433.0 32.5,433.2 32.9,433.3 33.3,433.3 33.7,433.0 34.0,432.6 34.2,432.2 34.5,431.8 34.6,431.4 34.8,431.0 35.0,430.5 35.1,430.1 35.3,429.6 35.4,429.2 35.6,428.7 35.7,428.2 35.9,427.7 36.0,427.2 36.2,426.8 36.3,426.4 36.5,426.0 36.8,425.6 37.2,425.6 37.5,426.0 37.6,426.5 37.7,426.9 37.8,427.4 37.9,427.9 38.0,428.4 38.1,428.9 38.2,429.4 38.3,429.8 38.3,430.3 38.4,430.8 38.5,431.3 38.6,431.9 38.6,432.4 38.7,433.0 38.8,433.5 38.9,434.1 38.9,434.7 39.0,435.2 39.1,435.8 39.2,436.3 39.2,436.9 39.3,437.4 39.4,438.0 39.4,438.5 39.5,439.0 39.6,439.5 39.7,440.0 39.7,440.5 39.8,441.0 39.9,441.4 40.0,441.9 40.1,442.5 40.2,443.0 40.3,443.4 40.4,443.9 40.5,444.4 40.6,444.8 40.7,445.3 40.8,445.8 40.9,446.2 41.1,446.7 41.3,447.2 41.4,447.6 41.6,448.0 41.8,448.5 42.0,448.9 42.2,449.3 42.5,449.7 42.7,450.1 42.9,450.6 43.1,451.0 43.2,451.5 43.4,451.9 43.5,452.4 43.6,452.9 43.8,453.3 43.9,453.8 44.0,454.2 44.1,454.7 44.1,455.2 44.2,455.7 44.3,456.1 44.4,456.6 44.4,457.2 44.5,457.8 44.6,458.2 44.6,458.7 44.7,459.2 44.7,459.7 44.8,460.3 44.9,460.9 44.9,461.5 45.0,462.2 45.0,462.8 45.1,463.3 45.1,463.8 45.1,464.3 45.2,464.8 45.2,465.3 45.2,465.9 45.3,466.4 45.3,467.0 45.4,467.6 45.4,468.2 45.4,468.8 45.5,469.5 45.5,470.2 45.5,470.8 45.6,471.5 45.6,472.2 45.6,473.0 45.7,473.7 45.7,474.5 45.8,475.3 45.8,476.1 45.8,476.9 45.9,477.7 45.9,478.5 45.9,479.4 46.0,480.2 46.0,481.1 46.1,481.9 46.1,482.8 46.1,483.7 46.2,484.5 46.2,485.4 46.2,486.2 46.3,487.1 46.3,487.9 46.3,488.7 46.4,489.5 46.4,490.3 46.5,491.0 46.5,491.7 46.5,492.4 46.6,493.0 46.6,493.6 46.6,494.1 46.7,494.6 46.7,495.2 46.8,495.7 47.0,495.2 47.1,494.6 47.1,494.0 47.2,493.4 47.2,492.6 47.2,491.8 47.3,491.3 47.3,490.8 47.3,490.3 47.3,489.7 47.3,489.2 47.3,488.6 47.4,488.0 47.4,487.4 47.4,486.7 47.4,486.0 47.4,485.3 47.5,484.6 47.5,483.9 47.5,483.2 47.5,482.4 47.5,481.6 47.6,480.8 47.6,480.0 47.6,479.1 47.6,478.3 47.6,477.4 47.6,476.6 47.7,475.7 47.7,474.8 47.7,473.9 47.7,473.0 47.7,472.0 47.8,471.1 47.8,470.2 47.8,469.2 47.8,468.2 47.8,467.3 47.8,466.3 47.9,465.3 47.9,464.4 47.9,463.4 47.9,462.4 47.9,461.4 48.0,460.5 48.0,459.5 48.0,458.5 48.0,457.5 48.0,456.5 48.1,455.6 48.1,454.6 48.1,453.6 48.1,452.7 48.1,451.7 48.1,450.7 48.2,449.8 48.2,448.9 48.2,447.9 48.2,447.0 48.2,446.1 48.3,445.1 48.3,444.2 48.3,443.3 48.3,442.4 48.3,441.6 48.3,440.7 48.4,439.8 48.4,439.0 48.4,438.1 48.4,437.3 48.4,436.5 48.5,435.7 48.5,434.9 48.5,434.1 48.5,433.3 48.5,432.6 48.6,431.8 48.6,431.1 48.6,430.4 48.6,429.6 48.6,429.0 48.6,428.3 48.7,427.6 48.7,427.0 48.7,426.3 48.7,425.7 48.7,425.1 48.8,424.5 48.8,423.9 48.8,423.4 48.8,422.8 48.8,422.3 48.8,421.8 48.9,421.3 48.9,420.8 48.9,420.4 48.9,419.5 49.0,418.8 49.0,418.0 49.1,417.4 49.1,416.9 49.1,416.4 49.2,415.8 49.3,415.4 49.5,415.9 49.5,416.4 49.5,416.9 49.6,417.5 49.6,418.1 49.7,418.8 49.7,419.5 49.7,420.4 49.8,421.3 49.8,421.7 49.8,422.2 49.8,422.7 49.8,423.2 49.9,423.7 49.9,424.3 49.9,424.8 49.9,425.4 49.9,425.9 50.0,426.5 50.0,427.1 50.0,427.7 50.0,428.3 50.0,428.9 50.0,429.5 50.1,430.2 50.1,430.8 50.1,431.5 50.1,432.1 50.1,432.8 50.2,433.4 50.2,434.1 50.2,434.7 50.2,435.4 50.2,436.1 50.3,436.8 50.3,437.4 50.3,438.1 50.3,438.8 50.3,439.5 50.3,440.1 50.4,440.8 50.4,441.5 50.4,442.2 50.4,442.9 50.4,443.5 50.5,444.2 50.5,444.9 50.5,445.5 50.5,446.2 50.5,446.9 50.5,447.5 50.6,448.2 50.6,448.8 50.6,449.5 50.6,450.1 50.6,450.7 50.7,451.4 50.7,452.0 50.7,452.6 50.7,453.2 50.7,453.8 50.8,454.4 50.8,455.0 50.8,455.6 50.8,456.1 50.8,456.7 50.8,457.3 50.9,457.8 50.9,458.4 50.9,458.9 50.9,459.4 50.9,459.9 51.0,460.4 51.0,460.9 51.0,461.4 51.0,461.9 51.0,462.4 51.0,462.8 51.1,463.3 51.1,464.2 51.1,465.0 51.2,465.8 51.2,466.5 51.3,467.3 51.3,467.9 51.3,468.5 51.4,469.1 51.4,469.7 51.4,470.2 51.5,470.8 51.5,471.3 51.6,471.9 51.7,472.3 52.0,472.0 52.1,471.5 52.1,471.0 52.2,470.4 52.2,469.8 52.3,469.3 52.3,468.8 52.3,468.3 52.4,467.7 52.4,467.1 52.5,466.5 52.5,465.9 52.5,465.2 52.6,464.5 52.6,463.8 52.6,463.1 52.7,462.4 52.7,461.7 52.8,460.9 52.8,460.2 52.8,459.4 52.9,458.6 52.9,457.8 52.9,457.1 53.0,456.3 53.0,455.5 53.0,454.7 53.1,453.9 53.1,453.2 53.2,452.4 53.2,451.6 53.2,450.9 53.3,450.1 53.3,449.4 53.3,448.6 53.4,447.9 53.4,447.2 53.5,446.5 53.5,445.8 53.5,445.1 53.6,444.5 53.6,443.8 53.6,443.2 53.7,442.5 53.7,441.9 53.7,441.3 53.8,440.8 53.8,440.2 53.9,439.6 53.9,439.1 53.9,438.6 54.0,438.1 54.0,437.6 54.0,437.1 54.1,436.6 54.1,436.0 54.2,435.4 54.2,434.8 54.3,434.2 54.4,433.7 54.4,433.2 54.5,432.7 54.5,432.2 54.6,431.7 54.7,431.2 54.8,430.7 55.0,430.2 55.2,429.8 55.5,430.2 55.7,430.6 55.8,431.1 55.9,431.6 56.0,432.1 56.1,432.6 56.2,433.2 56.3,433.7 56.3,434.1 56.4,434.6 56.5,435.1 56.6,435.6 56.6,436.1 56.7,436.7 56.8,437.2 56.9,437.7 56.9,438.2 57.0,438.7 57.1,439.2 57.2,439.7 57.2,440.2 57.3,440.7 57.4,441.2 57.4,441.7 57.5,442.1 57.6,442.6 57.7,443.2 57.8,443.7 57.9,444.1 58.0,444.6 58.1,445.1 58.2,445.6 58.3,446.1 58.4,446.5 58.6,447.0 58.7,447.5 58.8,448.0 59.0,448.4 59.1,448.8 59.3,449.3 59.5,449.8 59.6,450.2 59.8,450.7 60.0,451.1 60.1,451.6 60.3,452.0 60.4,452.5 60.5,452.9 60.6,453.4 60.8,453.9 60.9,454.4 61.0,454.9 61.1,455.4 61.1,455.9 61.2,456.3 61.3,456.8 61.4,457.3 61.4,457.9 61.5,458.4 61.6,458.9 61.6,459.3 61.7,459.8 61.7,460.3 61.8,460.9 61.9,461.4 61.9,462.0 62.0,462.7 62.0,463.3 62.1,464.0 62.1,464.4 62.1,464.9 62.2,465.4 62.2,465.9 62.3,466.4 62.3,466.9 62.3,467.5 62.4,468.0 62.4,468.6 62.4,469.2 62.5,469.8 62.5,470.4 62.6,471.0 62.6,471.7 62.6,472.3 62.7,473.0 62.7,473.7 62.7,474.4 62.8,475.1 62.8,475.8 62.9,476.5 62.9,477.2 62.9,478.0 63.0,478.7 63.0,479.5 63.0,480.2 63.1,481.0 63.1,481.7 63.1,482.5 63.2,483.2 63.2,484.0 63.3,484.7 63.3,485.4 63.3,486.2 63.4,486.9 63.4,487.5 63.4,488.2 63.5,488.8 63.5,489.4 63.6,489.9 63.6,490.5 63.6,490.9 63.7,491.5 63.7,492.1 63.8,492.5 64.1,492.1 64.1,491.6 64.1,491.1 64.2,490.5 64.2,489.9 64.3,489.2 64.3,488.4 64.3,487.5 64.3,487.0 64.4,486.5 64.4,486.0 64.4,485.5 64.4,484.9 64.4,484.4 64.5,483.8 64.5,483.2 64.5,482.6 64.5,482.0 64.5,481.3 64.6,480.6 64.6,480.0 64.6,479.3 64.6,478.6 64.6,477.9 64.6,477.1 64.7,476.4 64.7,475.6 64.7,474.9 64.7,474.1 64.7,473.3 64.8,472.5 64.8,471.7 64.8,470.9 64.8,470.1 64.8,469.3 64.8,468.5 64.9,467.6 64.9,466.8 64.9,466.0 64.9,465.1 64.9,464.3 65.0,463.4 65.0,462.6 65.0,461.7 65.0,460.9 65.0,460.0 65.1,459.2 65.1,458.3 65.1,457.5 65.1,456.6 65.1,455.8 65.1,454.9 65.2,454.1 65.2,453.2 65.2,452.4 65.2,451.6 65.2,450.7 65.3,449.9 65.3,449.1 65.3,448.3 65.3,447.5 65.3,446.7 65.3,445.9 65.4,445.1 65.4,444.3 65.4,443.5 65.4,442.8 65.4,442.0 65.5,441.3 65.5,440.5 65.5,439.8 65.5,439.1 65.5,438.4 65.6,437.6 65.6,436.9 65.6,436.3 65.6,435.6 65.6,434.9 65.6,434.2 65.7,433.6 65.7,433.0 65.7,432.3 65.7,431.7 65.7,431.1 65.8,430.5 65.8,429.9 65.8,429.4 65.8,428.8 65.8,428.2 65.8,427.7 65.9,427.2 65.9,426.7 65.9,426.2 65.9,425.7 65.9,425.2 66.0,424.8 66.0,423.9 66.0,423.0 66.1,422.3 66.1,421.6 66.1,420.9 66.2,420.3 66.2,419.8 66.3,419.3 66.3,418.7 66.4,418.2 66.5,417.8 66.7,418.3 66.7,418.7 66.8,419.3 66.8,419.8 66.8,420.3 66.9,420.9 66.9,421.5 67.0,422.2 67.0,422.9 67.0,423.7 67.1,424.5 67.1,425.4 67.1,426.3 67.2,426.7 67.2,427.2 67.2,427.7 67.2,428.2 67.2,428.7 67.3,429.2 67.3,429.7 67.3,430.2 67.3,430.7 67.3,431.2 67.3,431.8 67.4,432.3 67.4,432.8 67.4,433.4 67.4,433.9 67.4,434.5 67.5,435.0 67.5,435.6 67.5,436.1 67.5,436.7 67.5,437.2 67.5,437.8 67.6,438.4 67.6,438.9 67.6,439.5 67.6,440.1 67.6,440.6 67.7,441.2 67.7,441.7 67.7,442.3 67.7,442.9 67.7,443.4 67.8,444.0 67.8,444.5 67.8,445.1 67.8,445.6 67.8,446.2 67.8,446.7 67.9,447.3 67.9,447.8 67.9,448.3 67.9,448.9 67.9,449.4 68.0,449.9 68.0,450.4 68.0,450.9 68.0,451.4 68.0,451.9 68.0,452.4 68.1,452.9 68.1,453.4 68.1,453.9 68.1,454.4 68.1,454.9 68.2,455.3 68.2,455.8 68.2,456.2 68.2,457.1 68.3,458.0 68.3,458.8 68.3,459.7 68.4,460.4 68.4,461.2 68.5,461.9 68.5,462.7 68.5,463.3 68.6,464.0 68.6,464.6 68.6,465.2 68.7,465.8 68.7,466.3 68.8,466.8 68.8,467.3 68.8,467.9 68.9,468.5 69.0,469.0 69.0,469.6 69.1,470.1 69.3,470.5 69.5,470.2 69.6,469.7 69.7,469.2 69.8,468.6 69.8,468.1 69.9,467.5 69.9,466.9 70.0,466.3 70.0,465.6 70.1,465.2 70.1,464.7 70.2,464.2 70.2,463.7 70.2,463.2 70.3,462.6 70.3,462.1 70.3,461.5 70.4,461.0 70.4,460.4 70.5,459.9 70.5,459.3 70.5,458.7 70.6,458.2 70.6,457.6 70.6,457.0 70.7,456.4 70.7,455.9 70.8,455.3 70.8,454.7 70.8,454.1 70.9,453.6 70.9,453.0 70.9,452.4 71.0,451.9 71.0,451.3 71.0,450.8 71.1,450.3 71.1,449.7 71.2,449.2 71.2,448.7 71.2,448.2 71.3,447.7 71.3,447.2 71.3,446.7 71.4,446.2 71.4,445.7 71.5,445.3 71.5,444.8 71.5,444.4 71.6,443.7 71.6,443.1 71.7,442.4 71.7,441.8 71.8,441.2 71.9,440.7 71.9,440.1 72.0,439.6 72.0,439.0 72.1,438.5 72.1,438.0 72.2,437.6 72.2,437.1 72.3,436.6 72.4,436.1 72.5,435.5 72.5,435.0 72.6,434.4 72.7,433.9 72.7,433.5 72.8,433.0 72.9,432.5 73.0,432.0 73.1,431.5 73.2,431.0 73.3,430.6 73.4,430.0 73.5,429.6 73.6,429.1 73.7,428.7 73.9,428.2 74.0,427.7 74.3,427.3 74.7,427.1 75.0,427.4 75.2,427.8 75.3,428.3 75.4,428.7 75.6,429.2 75.7,429.7 75.8,430.1 75.9,430.6 75.9,431.1 76.0,431.6 76.1,432.1 76.2,432.6 76.3,433.2 76.4,433.7 76.5,434.3 76.6,434.8 76.7,435.4 76.8,435.9 76.9,436.5 77.0,437.0 77.1,437.5 77.2,438.0 77.2,438.5 77.3,438.9 77.4,439.4 77.5,439.9 77.7,440.4 77.8,440.8 77.9,441.3 78.0,441.8 78.2,442.2 78.4,442.6 78.6,443.1 78.9,443.4 79.3,443.5 79.7,443.3 79.9,442.9 80.1,442.5 80.3,442.0 80.4,441.5 80.6,441.0 80.7,440.6 80.8,440.1 80.9,439.6 80.9,439.1 81.0,438.6 81.1,438.1 81.2,437.6 81.2,437.0 81.3,436.4 81.4,436.0 81.4,435.5 81.5,434.9 81.5,434.4 81.6,433.8 81.6,433.2 81.7,432.6 81.8,432.0 81.8,431.3 81.9,430.8 81.9,430.4 81.9,429.9 82.0,429.4 82.0,428.9 82.0,428.3 82.1,427.8 82.1,427.2 82.1,426.7 82.2,426.1 82.2,425.5 82.3,424.9 82.3,424.3 82.3,423.7 82.4,423.0 82.4,422.4 82.4,421.7 82.5,421.1 82.5,420.4 82.6,419.7 82.6,419.0 82.6,418.3 82.7,417.6 82.7,417.0 82.7,416.3 82.8,415.6 82.8,414.9 82.8,414.2 82.9,413.5 82.9,412.8 83.0,412.2 83.0,411.5 83.0,410.9 83.1,410.3 83.1,409.7 83.1,409.2 83.2,408.6 83.2,408.1 83.3,407.7 83.3,407.0 83.4,406.5 83.4,406.0 83.8,406.5 83.8,407.1 83.8,407.6 83.9,408.2 83.9,408.8 84.0,409.5 84.0,410.3 84.0,411.2 84.1,411.6 84.1,412.1 84.1,412.6 84.1,413.1 84.1,413.6 84.1,414.2 84.2,414.7 84.2,415.3 84.2,415.8 84.2,416.4 84.2,417.0 84.3,417.7 84.3,418.3 84.3,418.9 84.3,419.6 84.3,420.3 84.3,420.9 84.4,421.6 84.4,422.3 84.4,423.0 84.4,423.8 84.4,424.5 84.5,425.2 84.5,425.9 84.5,426.7 84.5,427.4 84.5,428.2 84.6,429.0 84.6,429.7 84.6,430.5 84.6,431.3 84.6,432.0 84.6,432.8 84.7,433.6 84.7,434.4 84.7,435.2 84.7,435.9 84.7,436.7 84.8,437.5 84.8,438.3 84.8,439.1 84.8,439.9 84.8,440.6 84.8,441.4 84.9,442.2 84.9,443.0 84.9,443.7 84.9,444.5 84.9,445.3 85.0,446.0 85.0,446.8 85.0,447.5 85.0,448.3 85.0,449.0 85.1,449.7 85.1,450.5 85.1,451.2 85.1,451.9 85.1,452.6 85.1,453.3 85.2,454.0 85.2,454.7 85.2,455.4 85.2,456.0 85.2,456.7 85.3,457.4 85.3,458.0 85.3,458.7 85.3,459.3 85.3,459.9 85.3,460.5 85.4,461.2 85.4,461.8 85.4,462.3 85.4,462.9 85.4,463.5 85.5,464.1 85.5,464.6 85.5,465.2 85.5,465.7 85.5,466.2 85.6,466.7 85.6,467.2 85.6,467.7 85.6,468.2 85.6,468.7 85.6,469.1 85.7,470.0 85.7,470.9 85.8,471.7 85.8,472.4 85.8,473.1 85.9,473.8 85.9,474.4 85.9,474.9 86.0,475.4 86.0,475.9 86.1,476.5 86.1,476.9 86.2,477.4 86.5,476.9 86.5,476.3 86.6,475.7 86.6,475.2 86.7,474.7 86.7,474.2 86.8,473.6 86.8,473.0 86.8,472.3 86.9,471.6 86.9,470.8 86.9,470.0 87.0,469.2 87.0,468.4 87.0,467.5 87.1,466.6 87.1,466.2 87.1,465.7 87.1,465.3 87.2,464.8 87.2,464.3 87.2,463.8 87.2,463.4 87.2,462.9 87.3,462.4 87.3,461.9 87.3,461.4 87.3,460.9 87.3,460.4 87.3,459.9 87.4,459.4 87.4,458.9 87.4,458.4 87.4,457.9 87.4,457.4 87.5,456.9 87.5,456.4 87.5,455.9 87.5,455.4 87.5,454.9 87.5,454.4 87.6,453.9 87.6,453.5 87.6,453.0 87.6,452.5 87.6,452.0 87.7,451.5 87.7,451.0 87.7,450.5 87.7,450.0 87.7,449.6 87.8,449.1 87.8,448.6 87.8,448.1 87.8,447.7 87.8,447.2 87.8,446.8 87.9,446.3 87.9,445.9 87.9,445.0 88.0,444.1 88.0,443.2 88.0,442.4 88.1,441.6 88.1,440.8 88.1,440.0 88.2,439.2 88.2,438.5 88.3,437.8 88.3,437.1 88.3,436.4 88.4,435.7 88.4,435.1 88.4,434.5 88.5,433.9 88.5,433.4 88.5,432.8 88.6,432.3 88.6,431.8 88.7,431.3 88.7,430.7 88.8,430.1 88.8,429.5 88.9,429.0 89.0,428.4 89.0,427.9 89.1,427.5 89.3,427.0 89.6,427.4 89.7,427.9 89.8,428.4 89.9,429.0 90.0,429.5 90.0,430.0 90.1,430.5 90.1,431.1 90.2,431.6 90.2,432.2 90.3,432.8 90.3,433.4 90.4,434.1 90.5,434.8 90.5,435.4 90.5,435.9 90.6,436.3 90.6,436.8 90.7,437.3 90.7,437.7 90.7,438.2 90.8,438.6 90.8,439.1 90.8,439.6 90.9,440.0 90.9,440.5 91.0,441.0 91.0,441.4 91.0,441.9 91.1,442.3 91.1,442.8 91.2,443.5 91.2,444.1 91.3,444.8 91.3,445.4 91.4,446.0 91.4,446.7 91.5,447.3 91.5,447.9 91.6,448.4 91.7,449.0 91.7,449.6 91.8,450.1 91.8,450.6 91.9,451.2 91.9,451.7 92.0,452.2 92.0,452.7 92.1,453.2 92.2,453.6 92.2,454.1 92.3,454.5 92.3,455.1 92.4,455.7 92.5,456.3 92.6,456.8 92.6,457.3 92.7,457.9 92.8,458.4 92.9,458.9 92.9,459.4 93.0,459.9 93.1,460.5 93.2,461.0 93.2,461.5 93.3,462.0 93.4,462.5 93.5,463.0 93.5,463.5 93.6,464.0 93.7,464.6 93.7,465.1 93.8,465.6 93.9,466.2 94.0,466.7 94.0,467.2 94.1,467.8 94.2,468.3 94.3,468.9 94.3,469.4 94.4,470.0 94.5,470.5 94.6,471.1 94.6,471.6 94.7,472.1 94.8,472.6 94.9,473.1 94.9,473.5 95.0,474.0 95.1,474.5 95.2,475.0 95.4,475.5 95.6,475.8 95.9,475.5 96.0,474.9 96.1,474.4 96.2,473.9 96.2,473.4 96.3,472.9 96.4,472.4 96.4,471.9 96.5,471.3 96.5,470.7 96.6,470.0 96.6,469.4 96.7,468.9 96.7,468.4 96.7,468.0 96.8,467.5 96.8,467.0 96.9,466.5 96.9,465.9 96.9,465.4 97.0,464.9 97.0,464.4 97.0,463.8 97.1,463.3 97.1,462.7 97.2,462.2 97.2,461.6 97.2,461.1 97.3,460.5 97.3,460.0 97.3,459.4 97.4,458.8 97.4,458.3 97.4,457.7 97.5,457.2 97.5,456.7 97.6,456.1 97.6,455.6 97.6,455.0 97.7,454.5 97.7,454.0 97.7,453.5 97.8,453.0 97.8,452.5 97.9,452.0 97.9,451.5 97.9,451.0 98.0,450.5 98.0,450.0 98.0,449.5 98.1,449.1 98.1,448.6 98.1,448.2 98.2,447.5 98.3,446.8 98.3,446.2 98.4,445.6 98.4,445.0 98.5,444.4 98.5,443.8 98.6,443.2 98.6,442.6 98.7,442.1 98.8,441.5 98.8,441.0 98.9,440.5 98.9,440.0 99.0,439.5 99.0,439.0 99.1,438.5 99.1,438.0 99.2,437.5 99.3,437.0 99.3,436.6 99.4,436.1 99.4,435.6 99.5,435.2 99.5,434.7 99.6,434.2 99.6,433.8 99.7,433.3 99.8,432.9 99.8,432.4 99.9,432.0 99.9,431.5 100.0,431.1 100.0,430.6 100.1,430.2 100.1,429.7 100.2,429.3 100.3,428.8 100.3,428.2 100.4,427.6 100.5,427.1 100.6,426.5 100.6,425.9 100.7,425.4 100.8,424.8 100.9,424.3 100.9,423.8 101.0,423.3 101.1,422.9 101.2,422.3 101.3,421.9 101.4,421.4 101.5,421.0 102.0,421.1 102.1,421.6 102.2,422.2 102.3,422.7 102.3,423.2 102.4,423.7 102.4,424.2 102.5,424.8 102.6,425.3 102.6,426.0 102.7,426.6 102.7,427.3 102.8,427.7 102.8,428.2 102.8,428.7 102.9,429.2 102.9,429.7 102.9,430.2 103.0,430.7 103.0,431.3 103.1,431.8 103.1,432.3 103.1,432.9 103.2,433.4 103.2,434.0 103.2,434.5 103.3,435.1 103.3,435.7 103.3,436.2 103.4,436.8 103.4,437.3 103.5,437.9 103.5,438.5 103.5,439.0 103.6,439.6 103.6,440.1 103.6,440.7 103.7,441.2 103.7,441.7 103.8,442.3 103.8,442.8 103.8,443.3 103.9,443.8 103.9,444.3 103.9,444.8 104.0,445.3 104.0,445.8 104.1,446.3 104.1,446.8 104.1,447.3 104.2,447.7 104.2,448.2 104.2,448.7 104.3,449.1 104.3,449.8 104.4,450.4 104.4,451.1 104.5,451.7 104.6,452.3 104.6,452.9 104.7,453.5 104.7,454.0 104.8,454.6 104.8,455.1 104.9,455.7 104.9,456.2 105.0,456.7 105.0,457.2 105.1,457.7 105.2,458.2 105.2,458.7 105.3,459.2 105.3,459.7 105.4,460.2 105.4,460.6 105.5,461.1 105.5,461.6 105.6,462.0 105.7,462.5 105.7,462.9 105.8,463.4 105.8,463.8 105.9,464.3 105.9,464.7 106.0,465.2 106.0,465.6 106.1,466.1 106.2,466.7 106.3,467.3 106.3,467.9 106.4,468.4 106.5,469.0 106.5,469.6 106.6,470.2 106.7,470.7 106.8,471.3 106.8,471.8 106.9,472.3 107.0,472.8 107.1,473.3 107.2,473.8 107.3,474.3 107.4,474.8 107.5,475.2 107.7,475.6 108.0,475.2 108.1,474.7 108.2,474.2 108.3,473.7 108.4,473.2 108.4,472.7 108.5,472.2 108.5,471.7 108.6,471.1 108.7,470.5 108.7,469.9 108.8,469.2 108.8,468.8 108.8,468.3 108.9,467.8 108.9,467.4 109.0,466.9 109.0,466.4 109.0,465.9 109.1,465.3 109.1,464.8 109.1,464.3 109.2,463.8 109.2,463.2 109.2,462.7 109.3,462.1 109.3,461.6 109.4,461.0 109.4,460.5 109.4,460.0 109.5,459.4 109.5,458.9 109.5,458.3 109.6,457.8 109.6,457.2 109.7,456.7 109.7,456.2 109.7,455.6 109.8,455.1 109.8,454.6 109.8,454.1 109.9,453.6 109.9,453.1 110.0,452.6 110.0,452.1 110.0,451.6 110.1,451.1 110.1,450.6 110.1,450.1 110.2,449.7 110.2,449.2 110.2,448.8 110.3,448.1 110.4,447.4 110.4,446.8 110.5,446.2 110.5,445.6 110.6,445.0 110.6,444.4 110.7,443.8 110.7,443.2 110.8,442.7 110.9,442.1 110.9,441.6 111.0,441.1 111.0,440.6 111.1,440.1 111.1,439.6 111.2,439.1 111.2,438.6 111.3,438.1 111.4,437.6 111.4,437.2 111.5,436.7 111.5,436.2 111.6,435.8 111.6,435.3 111.7,434.9 111.7,434.4 111.8,434.0 111.9,433.5 111.9,433.1 112.0,432.6 112.0,432.2 112.1,431.7 112.1,431.3 112.2,430.8 112.2,430.4 112.3,429.9 112.4,429.4 112.4,429.0 112.5,428.5 112.5,428.1 112.6,427.6 112.7,427.1 112.7,426.5 112.8,425.9 112.9,425.3 112.9,424.8 113.0,424.2 113.1,423.7 113.2,423.2 113.2,422.7 113.3,422.2 113.4,421.7 113.5,421.2 113.7,420.8 114.1,420.8 114.3,421.3 114.4,421.9 114.4,422.4 114.5,422.9 114.6,423.4 114.6,423.9 114.7,424.5 114.7,425.1 114.8,425.7 114.8,426.4 114.9,426.8 114.9,427.3 114.9,427.8 115.0,428.2 115.0,428.8 115.1,429.3 115.1,429.8 115.1,430.3 115.2,430.9 115.2,431.4 115.2,432.0 115.3,432.5 115.3,433.1 115.4,433.6 115.4,434.2 115.4,434.8 115.5,435.3 115.5,435.9 115.5,436.5 115.6,437.1 115.6,437.6 115.7,438.2 115.7,438.8 115.7,439.3 115.8,439.9 115.8,440.5 115.8,441.0 115.9,441.6 115.9,442.1 115.9,442.7 116.0,443.2 116.0,443.7 116.1,444.3 116.1,444.8 116.1,445.3 116.2,445.8 116.2,446.3 116.2,446.8 116.3,447.3 116.3,447.8 116.4,448.3 116.4,448.7 116.4,449.2 116.5,449.7 116.5,450.1 116.6,450.8 116.6,451.4 116.7,452.1 116.7,452.7 116.8,453.3 116.8,453.9 116.9,454.5 116.9,455.0 117.0,455.6 117.1,456.2 117.1,456.7 117.2,457.2 117.2,457.7 117.3,458.3 117.3,458.8 117.4,459.3 117.4,459.7 117.5,460.2 117.6,460.7 117.6,461.2 117.7,461.7 117.7,462.1 117.8,462.6 117.8,463.1 117.9,463.5 117.9,464.0 118.0,464.4 118.1,464.9 118.1,465.3 118.2,465.9 118.3,466.5 118.3,467.1 118.4,467.7 118.5,468.2 118.6,468.8 118.6,469.4 118.7,469.9 118.8,470.4 118.9,471.0 118.9,471.5 119.0,472.0 119.1,472.4 119.2,473.0 119.3,473.5 119.4,473.9 119.5,474.4 119.6,474.8 120.1,474.8 120.2,474.3 120.3,473.9 120.4,473.3 120.5,472.8 120.5,472.2 120.6,471.7 120.6,471.2 120.7,470.7 120.8,470.1 120.8,469.5 120.9,468.9 120.9,468.2 121.0,467.5 121.0,467.1 121.1,466.6 121.1,466.1 121.1,465.7 121.2,465.2 121.2,464.7 121.2,464.2 121.3,463.7 121.3,463.2 121.3,462.7 121.4,462.1 121.4,461.6 121.5,461.1 121.5,460.6 121.5,460.1 121.6,459.6 121.6,459.0 121.6,458.5 121.7,458.0 121.7,457.5 121.8,457.0 121.8,456.5 121.8,456.0 121.9,455.5 121.9,455.0 121.9,454.5 122.0,454.0 122.0,453.5 122.1,453.1 122.1,452.6 122.1,452.1 122.2,451.7 122.2,451.2 122.3,450.5 122.3,449.9 122.4,449.2 122.4,448.6 122.5,448.0 122.5,447.4 122.6,446.8 122.6,446.2 122.7,445.6 122.8,445.1 122.8,444.5 122.9,444.0 122.9,443.5 123.0,443.0 123.0,442.5 123.1,442.0 123.1,441.5 123.2,441.0 123.3,440.5 123.3,440.1 123.4,439.6 123.4,439.1 123.5,438.7 123.5,438.2 123.6,437.8 123.7,437.2 123.7,436.6 123.8,436.0 123.9,435.4 124.0,434.8 124.0,434.2 124.1,433.8 124.1,433.3 124.2,432.9 124.3,432.4 124.3,432.0 124.4,431.5 124.4,431.0 124.5,430.6 124.5,430.1 124.6,429.6 124.6,429.2 124.7,428.7 124.8,428.2 124.8,427.7 124.9,427.3 124.9,426.8 125.0,426.3 125.0,425.8 125.1,425.4 125.1,424.9 125.2,424.4 125.3,424.0 125.3,423.4 125.4,422.8 125.5,422.3 125.5,421.8 125.6,421.3 125.7,420.7 125.8,420.3 125.9,419.8 126.1,419.4 126.4,419.7 126.5,420.2 126.6,420.7 126.7,421.2 126.8,421.7 126.8,422.2 126.9,422.8 126.9,423.4 127.0,424.0 127.0,424.5 127.0,425.0 127.1,425.4 127.1,426.0 127.2,426.5 127.2,427.0 127.2,427.6 127.3,428.1 127.3,428.7 127.3,429.3 127.4,429.9 127.4,430.5 127.5,431.1 127.5,431.7 127.5,432.3 127.6,432.9 127.6,433.6 127.6,434.2 127.7,434.8 127.7,435.5 127.7,436.1 127.8,436.8 127.8,437.4 127.9,438.1 127.9,438.7 127.9,439.3 128.0,440.0 128.0,440.6 128.0,441.2 128.1,441.8 128.1,442.5 128.2,443.1 128.2,443.7 128.2,444.3 128.3,444.9 128.3,445.5 128.3,446.0 128.4,446.6 128.4,447.2 128.5,447.7 128.5,448.3 128.5,448.8 128.6,449.4 128.6,449.9 128.6,450.4 128.7,450.9 128.7,451.4 128.7,451.9 128.8,452.4 128.8,452.9 128.9,453.4 128.9,453.8 128.9,454.3 129.0,454.7 129.0,455.4 129.1,456.1 129.1,456.7 129.2,457.3 129.2,457.9 129.3,458.5 129.4,459.1 129.4,459.7 129.5,460.2 129.5,460.7 129.6,461.3 129.6,461.8 129.7,462.3 129.7,462.8 129.8,463.3 129.9,463.8 129.9,464.3 130.0,464.7 130.0,465.2 130.1,465.6 130.2,466.2 130.2,466.8 130.3,467.4 130.4,467.9 130.4,468.4 130.5,468.9 130.6,469.4 130.7,469.9 130.8,470.4 130.9,470.9 130.9,471.4 131.1,471.9 131.2,472.4 131.4,472.9 131.8,473.0 132.0,472.5 132.1,472.0 132.2,471.6 132.3,471.0 132.4,470.5 132.4,470.0 132.5,469.4 132.6,468.9 132.6,468.4 132.7,467.9 132.7,467.4 132.8,466.9 132.8,466.3 132.9,465.7 132.9,465.2 133.0,464.6 133.1,464.0 133.1,463.4 133.2,462.7 133.2,462.1 133.3,461.5 133.3,460.9 133.4,460.2 133.4,459.6 133.5,459.0 133.6,458.4 133.6,457.8 133.7,457.2 133.7,456.6 133.8,456.0 133.8,455.4 133.9,454.8 133.9,454.2 134.0,453.7 134.1,453.1 134.1,452.6 134.2,452.0 134.2,451.5 134.3,451.0 134.3,450.5 134.4,450.0 134.4,449.6 134.5,449.1 134.6,448.6 134.6,448.2 134.7,447.6 134.8,447.0 134.8,446.5 134.9,445.9 135.0,445.4 135.1,444.9 135.1,444.4 135.2,443.9 135.3,443.4 135.4,442.9 135.4,442.4 135.5,442.0 135.6,441.5 135.6,441.0 135.7,440.5 135.8,440.0 135.9,439.6 135.9,439.1 136.0,438.6 136.1,438.0 136.2,437.5 136.2,437.0 136.3,436.4 136.4,435.9 136.5,435.3 136.5,434.8 136.6,434.4 136.6,433.9 136.7,433.4 136.7,433.0 136.8,432.4 136.9,431.9 136.9,431.4 137.0,430.9 137.0,430.3 137.1,429.7 137.1,429.2 137.2,428.6 137.2,428.0 137.3,427.4 137.4,426.8 137.4,426.1 137.5,425.5 137.5,424.8 137.6,424.2 137.6,423.5 137.7,422.9 137.7,422.2 137.8,421.6 137.8,420.9 137.9,420.3 138.0,419.6 138.0,419.0 138.1,418.4 138.1,417.8 138.2,417.3 138.2,416.8 138.3,416.3 138.3,415.8 138.4,415.3 138.5,414.8 138.6,414.3 138.9,414.7 139.0,415.1 139.1,415.7 139.1,416.3 139.2,416.9 139.2,417.4 139.3,417.9 139.3,418.4 139.3,419.0 139.4,419.6 139.4,420.3 139.5,421.0 139.5,421.7 139.5,422.4 139.6,423.2 139.6,423.9 139.6,424.8 139.7,425.6 139.7,426.4 139.8,427.3 139.8,428.2 139.8,429.1 139.8,429.6 139.9,430.0 139.9,430.5 139.9,430.9 139.9,431.4 139.9,431.9 140.0,432.4 140.0,432.8 140.0,433.3 140.0,433.8 140.0,434.3 140.1,434.7 140.1,435.2 140.1,435.7 140.1,436.2 140.1,436.7 140.1,437.1 140.2,437.6 140.2,438.1 140.2,438.6 140.2,439.0 140.2,439.5 140.3,440.0 140.3,440.5 140.3,441.0 140.3,441.4 140.3,441.9 140.3,442.4 140.4,442.8 140.4,443.3 140.4,443.8 140.4,444.2 140.4,444.7 140.5,445.1 140.5,445.6 140.5,446.1 140.5,446.5 140.6,447.4 140.6,448.3 140.6,449.1 140.7,450.0 140.7,450.8 140.7,451.7 140.8,452.5 140.8,453.3 140.8,454.1 140.9,454.8 140.9,455.6 141.0,456.3 141.0,457.1 141.0,457.8 141.1,458.5 141.1,459.1 141.1,459.8 141.2,460.4 141.2,461.1 141.3,461.7 141.3,462.3 141.3,462.8 141.4,463.4 141.4,464.0 141.4,464.5 141.5,465.0 141.5,465.5 141.6,466.0 141.6,466.4 141.6,467.1 141.7,467.7 141.8,468.3 141.8,468.8 141.9,469.3 141.9,469.8 142.0,470.3 142.1,470.8 142.2,471.3 142.3,471.8 142.7,471.6 142.8,471.1 142.9,470.6 143.0,470.1 143.1,469.6 143.1,469.1 143.2,468.6 143.3,468.1 143.3,467.6 143.4,467.0 143.4,466.4 143.5,465.8 143.5,465.1 143.6,464.5 143.6,463.8 143.7,463.3 143.7,462.9 143.8,462.4 143.8,462.0 143.8,461.5 143.9,461.0 143.9,460.5 143.9,460.1 144.0,459.6 144.0,459.1 144.0,458.6 144.1,458.2 144.1,457.7 144.2,457.2 144.2,456.7 144.2,456.3 144.3,455.8 144.3,455.3 144.3,454.9 144.4,454.4 144.4,454.0 144.5,453.5 144.5,452.8 144.6,452.2 144.6,451.5 144.7,450.9 144.7,450.3 144.8,449.7 144.8,449.1 144.9,448.5 145.0,447.9 145.0,447.4 145.1,446.8 145.1,446.3 145.2,445.8 145.2,445.2 145.3,444.7 145.3,444.2 145.4,443.8 145.5,443.3 145.5,442.8 145.6,442.4 145.6,441.9 145.7,441.3 145.8,440.7 145.8,440.2 145.9,439.6 146.0,439.0 146.1,438.5 146.1,437.9 146.2,437.4 146.3,436.8 146.4,436.3 146.4,435.8 146.5,435.2 146.6,434.7 146.7,434.1 146.7,433.5 146.8,433.0 146.9,432.4 147.0,431.8 147.0,431.2 147.1,430.8 147.1,430.3 147.2,429.8 147.2,429.4 147.3,428.9 147.4,428.5 147.4,428.0 147.5,427.5 147.5,427.0 147.6,426.6 147.6,426.1 147.7,425.6 147.7,425.2 147.8,424.7 147.9,424.3 147.9,423.8 148.0,423.2 148.1,422.6 148.1,422.1 148.2,421.6 148.3,421.1 148.4,420.6 148.5,420.1 148.6,419.6 148.8,419.2 149.1,419.6 149.2,420.1 149.3,420.5 149.3,421.0 149.4,421.5 149.4,422.0 149.5,422.6 149.6,423.2 149.6,423.8 149.7,424.3 149.7,424.7 149.7,425.2 149.8,425.7 149.8,426.3 149.8,426.8 149.9,427.3 149.9,427.9 149.9,428.5 150.0,429.1 150.0,429.7 150.1,430.3 150.1,430.9 150.1,431.5 150.2,432.1 150.2,432.8 150.2,433.4 150.3,434.1 150.3,434.7 150.4,435.3 150.4,436.0 150.4,436.6 150.5,437.3 150.5,437.9 150.5,438.6 150.6,439.2 150.6,439.9 150.7,440.5 150.7,441.1 150.7,441.8 150.8,442.4 150.8,443.0 150.8,443.6 150.9,444.2 150.9,444.8 150.9,445.4 151.0,446.0 151.0,446.6 151.1,447.2 151.1,447.7 151.1,448.3 151.2,448.8 151.2,449.4 151.2,449.9 151.3,450.4 151.3,451.0 151.4,451.5 151.4,452.0 151.4,452.5 151.5,453.0 151.5,453.4 151.5,453.9 151.6,454.4 151.6,454.8 151.7,455.3 151.7,455.9 151.8,456.6 151.8,457.2 151.9,457.8 151.9,458.4 152.0,459.0 152.0,459.6 152.1,460.2 152.2,460.7 152.2,461.3 152.3,461.8 152.3,462.3 152.4,462.8 152.4,463.3 152.5,463.8 152.5,464.3 152.6,464.7 152.7,465.2 152.7,465.7 152.8,466.3 152.9,466.8 152.9,467.4 153.0,467.9 153.1,468.4 153.1,468.9 153.2,469.4 153.3,469.9 153.4,470.4 153.5,470.9 153.6,471.4 153.7,471.9 153.8,472.3 154.0,472.8 154.4,472.8 154.6,472.3 154.7,471.8 154.8,471.3 154.9,470.8 155.0,470.3 155.1,469.7 155.1,469.2 155.2,468.7 155.2,468.2 155.3,467.7 155.4,467.2 155.4,466.6 155.5,466.1 155.5,465.5 155.6,464.9 155.6,464.4 155.7,463.8 155.7,463.2 155.8,462.5 155.9,461.9 155.9,461.3 156.0,460.7 156.0,460.1 156.1,459.5 156.1,458.9 156.2,458.3 156.2,457.7 156.3,457.1 156.4,456.5 156.4,455.9 156.5,455.3 156.5,454.7 156.6,454.2 156.6,453.6 156.7,453.1 156.7,452.6 156.8,452.0 156.8,451.5 156.9,451.0 157.0,450.5 157.0,450.1 157.1,449.6 157.1,449.1 157.2,448.7 157.3,448.1 157.3,447.5 157.4,447.0 157.5,446.5 157.6,445.9 157.6,445.4 157.7,444.9 157.8,444.4 157.8,443.9 157.9,443.5 158.0,443.0 158.1,442.5 158.1,442.0 158.2,441.6 158.3,441.1 158.4,440.6 158.4,440.2 158.5,439.7 158.6,439.2 158.7,438.7 158.7,438.2 158.8,437.7 158.9,437.1 159.0,436.6 159.0,436.0 159.1,435.5 159.2,434.9 159.2,434.4 159.3,433.9 159.3,433.4 159.4,432.9 159.5,432.4 159.5,431.9 159.6,431.4 159.6,430.8 159.7,430.3 159.7,429.7 159.8,429.1 159.8,428.5 159.9,427.9 160.0,427.3 160.0,426.7 160.1,426.0 160.1,425.4 160.2,424.7 160.2,424.0 160.3,423.4 160.3,422.7 160.4,422.3 160.4,421.6 160.5,420.9 160.5,420.3 160.6,419.6 160.7,419.0 160.7,418.3 160.8,417.7 160.8,417.2 160.9,416.6 160.9,416.1 161.0,415.6 161.1,415.1 161.1,414.6 161.2,414.1 161.6,414.5 161.7,415.0 161.8,415.5 161.8,416.0 161.9,416.7 161.9,417.2 161.9,417.7 162.0,418.3 162.0,418.9 162.0,419.5 162.1,420.2 162.1,420.9 162.2,421.6 162.2,422.4 162.2,423.2 162.3,424.0 162.3,424.8 162.3,425.7 162.4,426.6 162.4,427.5 162.4,427.9 162.5,428.4 162.5,428.8 162.5,429.3 162.5,429.8 162.5,430.3 162.5,430.7 162.6,431.2 162.6,431.7 162.6,432.2 162.6,432.7 162.6,433.1 162.7,433.6 162.7,434.1 162.7,434.6 162.7,435.1 162.7,435.6 162.8,436.1 162.8,436.6 162.8,437.1 162.8,437.6 162.8,438.1 162.8,438.5 162.9,439.0 162.9,439.5 162.9,440.0 162.9,440.5 162.9,441.0 163.0,441.5 163.0,442.0 163.0,442.4 163.0,442.9 163.0,443.4 163.0,443.9 163.1,444.3 163.1,444.8 163.1,445.3 163.1,445.7 163.1,446.2 163.2,446.7 163.2,447.1 163.2,447.6 163.2,448.0 163.3,448.9 163.3,449.8 163.3,450.7 163.4,451.5 163.4,452.4 163.4,453.2 163.5,454.0 163.5,454.8 163.5,455.6 163.6,456.3 163.6,457.1 163.7,457.8 163.7,458.5 163.7,459.2 163.8,459.9 163.8,460.6 163.8,461.2 163.9,461.8 163.9,462.5 164.0,463.1 164.0,463.6 164.0,464.2 164.1,464.7 164.1,465.3 164.1,465.8 164.2,466.2 164.2,466.7 164.2,467.2 164.3,467.8 164.4,468.4 164.4,469.0 164.5,469.5 164.5,470.0 164.6,470.5 164.7,471.0 164.8,471.5 164.9,472.0 165.3,471.7 165.5,471.2 165.6,470.4 165.8,469.5 165.9,468.3 166.1,467.1 166.2,465.6 166.4,464.1 166.5,462.4 166.7,460.6 166.8,458.8 167.0,456.9 167.1,454.9 167.3,452.8 167.4,450.8 167.6,448.7 167.7,446.6 167.9,444.5 168.0,442.5 168.2,440.5 168.3,438.5 168.5,436.6 168.6,434.8 168.8,433.1 168.9,431.5 169.1,430.0 169.2,428.7 169.4,427.5 169.5,426.5 169.7,425.7 169.8,425.0 170.0,424.6 170.4,424.6 170.7,425.5 170.9,426.1 171.0,426.9 171.2,427.8 171.3,428.8 171.5,430.0 171.6,431.2 171.8,432.6 171.9,434.0 172.1,435.5 172.2,437.1 172.4,438.8 172.5,440.5 172.7,442.3 172.8,444.1 173.0,446.0 173.1,447.9 173.3,449.8 173.4,451.7 173.6,453.6 173.7,455.6 173.9,457.5 174.0,459.4 174.2,461.3 174.3,463.2 174.5,465.0 174.6,466.8 174.8,468.5 174.9,470.2 175.1,471.8 175.2,473.3 175.4,474.7 175.5,476.1 175.7,477.4 175.8,478.5 176.0,479.5 176.1,480.5 176.3,481.2 176.4,481.9 176.6,482.4 176.9,483.0 177.2,482.5 177.3,481.5 177.5,480.1 177.6,478.2 177.8,476.0 177.9,473.4 178.1,470.5 178.2,467.3 178.4,464.0 178.5,460.6 178.7,457.0 178.8,453.4 179.0,449.8 179.1,446.3 179.3,442.8 179.4,439.5 179.6,436.3 179.7,433.4 179.9,430.8 180.0,428.5 180.2,426.6 180.3,425.1 180.5,424.1 180.6,423.6 181.1,424.2 181.2,424.7 181.4,425.3 181.5,426.1 181.7,427.1 181.8,428.1 182.0,429.2 182.1,430.5 182.3,431.8 182.4,433.2 182.6,434.7 182.7,436.3 182.9,437.9 183.0,439.6 183.2,441.3 183.3,443.0 183.5,444.7 183.6,446.5 183.8,448.3 183.9,450.0 184.1,451.8 184.2,453.5 184.4,455.2 184.5,456.8 184.7,458.4 184.8,460.0 185.0,461.5 185.1,462.8 185.3,464.2 185.4,465.4 185.6,466.5 185.7,467.5 185.9,468.4 186.0,469.1 186.2,469.8 186.3,470.2 186.6,470.7 187.1,470.2 187.4,469.3 187.5,468.7 187.7,467.9 187.8,467.0 188.0,466.1 188.1,465.0 188.3,463.9 188.4,462.7 188.6,461.4 188.7,460.0 188.9,458.6 189.0,457.1 189.2,455.6 189.3,454.0 189.5,452.3 189.6,450.6 189.8,448.9 189.9,447.2 190.1,445.4 190.2,443.6 190.4,441.8 190.5,440.0 190.7,438.2 190.8,436.4 191.0,434.6 191.1,432.8 191.3,431.1 191.4,429.3 191.6,427.6 191.7,425.9 191.9,424.3 192.0,422.7 192.2,421.2 192.3,419.7 192.5,418.3 192.6,417.0 192.8,415.7 192.9,414.5 193.1,413.4 193.2,412.3 193.4,411.4 193.5,410.6 193.7,409.9 193.8,409.3 194.0,408.8 194.3,408.1 194.7,409.1 194.9,410.9 195.0,413.2 195.2,416.2 195.3,419.7 195.5,423.6 195.6,427.9 195.8,432.4 195.9,437.1 196.1,441.8 196.2,446.6 196.4,451.3 196.5,455.8 196.7,460.1 196.8,464.0 197.0,467.6 197.1,470.6 197.3,473.0 197.4,474.8 197.6,475.8 198.0,474.6 198.2,473.2 198.3,471.4 198.5,469.1 198.6,466.3 198.8,463.2 198.9,459.6 199.1,455.7 199.2,451.4 199.4,446.8 199.5,441.9 199.7,436.6" fill="none" stroke="#74d058" stroke-width="1.05" stroke-linejoin="round"/>
<line x1="227.6" y1="453.3" x2="381" y2="453.3" stroke="#454545" stroke-width="0.9" />
<line x1="230.6" y1="402.7" x2="230.6" y2="497" stroke="#454545" stroke-width="0.9" />
<path d="M230 453.8V452.8M237.35 453.8V452.8M244.7 453.8V452.8M252.05 453.8V452.8M259.4 453.8V452.8M266.75 453.8V452.8M274.1 453.8V452.8M281.45 453.8V452.8M288.8 453.8V452.8M296.15 453.8V452.8M303.5 453.8V452.8M310.85 453.8V452.8M318.2 453.8V452.8M325.55 453.8V452.8M332.9 453.8V452.8M340.25 453.8V452.8M347.6 453.8V452.8M354.95 453.8V452.8M362.3 453.8V452.8M369.65 453.8V452.8M377 453.8V452.8M230.1 495.54H231.1M230.1 492.9H231.1M230.1 490.26H231.1M230.1 487.62H231.1M230.1 484.98H231.1M230.1 482.34H231.1M230.1 479.7H231.1M230.1 477.06H231.1M230.1 474.42H231.1M230.1 471.78H231.1M230.1 469.14H231.1M230.1 466.5H231.1M230.1 463.86H231.1M230.1 461.22H231.1M230.1 458.58H231.1M230.1 455.94H231.1M230.1 453.3H231.1M230.1 450.66H231.1M230.1 448.02H231.1M230.1 445.38H231.1M230.1 442.74H231.1M230.1 440.1H231.1M230.1 437.46H231.1M230.1 434.82H231.1M230.1 432.18H231.1M230.1 429.54H231.1M230.1 426.9H231.1M230.1 424.26H231.1M230.1 421.62H231.1M230.1 418.98H231.1M230.1 416.34H231.1M230.1 413.7H231.1M230.1 411.06H231.1M230.1 408.42H231.1M230.1 405.78H231.1M230.1 403.14H231.1M259.4 453.3V451.7M288.8 453.3V451.7M318.2 453.3V451.7M347.6 453.3V451.7M377 453.3V451.7M230.6 492.9H232.2M230.6 479.7H232.2M230.6 466.5H232.2M230.6 440.1H232.2M230.6 426.9H232.2M230.6 413.7H232.2" stroke="#222" stroke-width="0.8" fill="none"/>
<text x="259.4" y="463.6" font-size="8.5" text-anchor="middle" fill="#111" font-weight="normal" stroke="#111" stroke-width="0.19" >2</text>
<text x="288.8" y="463.6" font-size="8.5" text-anchor="middle" fill="#111" font-weight="normal" stroke="#111" stroke-width="0.19" >4</text>
<text x="318.2" y="463.6" font-size="8.5" text-anchor="middle" fill="#111" font-weight="normal" stroke="#111" stroke-width="0.19" >6</text>
<text x="347.6" y="463.6" font-size="8.5" text-anchor="middle" fill="#111" font-weight="normal" stroke="#111" stroke-width="0.19" >8</text>
<text x="377" y="463.6" font-size="8.5" text-anchor="middle" fill="#111" font-weight="normal" stroke="#111" stroke-width="0.19" >10</text>
<text x="227" y="495.71" font-size="8.5" text-anchor="end" fill="#111" font-weight="normal" stroke="#111" stroke-width="0.19" >&#8722;&#8202;30</text>
<text x="227" y="482.5" font-size="8.5" text-anchor="end" fill="#111" font-weight="normal" stroke="#111" stroke-width="0.19" >&#8722;&#8202;20</text>
<text x="227" y="469.31" font-size="8.5" text-anchor="end" fill="#111" font-weight="normal" stroke="#111" stroke-width="0.19" >&#8722;&#8202;10</text>
<text x="227" y="442.91" font-size="8.5" text-anchor="end" fill="#111" font-weight="normal" stroke="#111" stroke-width="0.19" >10</text>
<text x="227" y="429.71" font-size="8.5" text-anchor="end" fill="#111" font-weight="normal" stroke="#111" stroke-width="0.19" >20</text>
<text x="227" y="416.5" font-size="8.5" text-anchor="end" fill="#111" font-weight="normal" stroke="#111" stroke-width="0.19" >30</text>
<text x="230" y="397" font-size="10" text-anchor="middle" fill="#000" font-weight="normal" stroke="#000" stroke-width="0.22" >y1,y2</text>
<text x="387" y="456" font-size="10.5" text-anchor="start" fill="#000" font-weight="normal" stroke="#000" stroke-width="0.23" >t</text>
<path d="M230.0,452.0 230.2,451.5 230.3,451.1 230.4,450.6 230.5,450.1 230.6,449.6 230.7,449.1 230.7,448.6 230.8,448.1 230.9,447.6 230.9,447.0 231.0,446.6 231.0,446.1 231.1,445.5 231.1,444.9 231.1,444.3 231.2,443.7 231.2,443.2 231.2,442.7 231.3,442.2 231.3,441.7 231.3,441.1 231.4,440.6 231.4,440.0 231.4,439.3 231.5,438.7 231.5,438.0 231.5,437.3 231.5,436.5 231.6,435.7 231.6,434.9 231.6,434.1 231.7,433.2 231.7,432.3 231.7,431.9 231.7,431.4 231.7,430.9 231.7,430.4 231.8,429.9 231.8,429.4 231.8,428.9 231.8,428.4 231.8,427.9 231.8,427.3 231.9,426.8 231.9,426.2 231.9,425.7 231.9,425.1 231.9,424.6 231.9,424.0 231.9,423.4 232.0,422.8 232.0,422.2 232.0,421.6 232.0,421.0 232.0,420.4 232.0,419.8 232.0,419.2 232.1,418.6 232.1,418.0 232.1,417.4 232.1,416.8 232.1,416.1 232.1,415.5 232.1,414.9 232.2,414.3 232.2,413.8 232.2,413.2 232.2,412.6 232.2,412.0 232.2,411.5 232.2,410.9 232.3,410.4 232.3,409.9 232.3,409.4 232.3,408.9 232.3,408.5 232.4,407.7 232.4,406.9 232.4,406.3 232.4,405.9 232.6,406.6 232.6,407.4 232.6,407.9 232.7,408.5 232.7,409.1 232.7,409.8 232.7,410.5 232.7,411.3 232.7,412.2 232.7,413.1 232.8,414.1 232.8,415.1 232.8,416.2 232.8,417.4 232.8,418.6 232.8,419.8 232.9,421.1 232.9,422.5 232.9,423.9 232.9,425.3 232.9,426.8 232.9,428.3 232.9,429.8 233.0,431.4 233.0,433.0 233.0,434.6 233.0,436.2 233.0,437.8 233.0,439.5 233.0,441.1 233.1,442.8 233.1,444.5 233.1,446.1 233.1,447.8 233.1,449.4 233.1,451.1 233.1,452.7 233.2,454.3 233.2,455.9 233.2,457.5 233.2,459.0 233.2,460.6 233.2,462.1 233.2,463.6 233.3,465.0 233.3,466.4 233.3,467.8 233.3,469.2 233.3,470.6 233.3,471.9 233.4,473.1 233.4,474.4 233.4,475.6 233.4,476.8 233.4,477.9 233.4,479.0 233.4,480.1 233.5,481.1 233.5,482.1 233.5,483.1 233.5,484.1 233.5,485.0 233.5,485.8 233.5,486.7 233.6,487.4 233.6,488.2 233.6,488.9 233.6,489.6 233.6,490.3 233.6,490.9 233.6,491.4 233.7,492.0 233.7,492.5 233.7,492.9 233.7,493.7 233.7,494.3 233.8,494.9 233.9,494.3 233.9,493.6 234.0,492.7 234.0,492.2 234.0,491.7 234.0,491.0 234.0,490.4 234.0,489.7 234.1,488.9 234.1,488.1 234.1,487.2 234.1,486.3 234.1,485.3 234.1,484.3 234.1,483.2 234.2,482.1 234.2,481.0 234.2,479.8 234.2,478.6 234.2,477.4 234.2,476.1 234.2,474.8 234.3,473.5 234.3,472.1 234.3,470.8 234.3,469.4 234.3,468.0 234.3,466.6 234.4,465.2 234.4,463.7 234.4,462.3 234.4,460.9 234.4,459.5 234.4,458.0 234.4,456.6 234.5,455.2 234.5,453.8 234.5,452.4 234.5,451.1 234.5,449.7 234.5,448.4 234.5,447.1 234.6,445.8 234.6,444.5 234.6,443.2 234.6,442.0 234.6,440.8 234.6,439.7 234.6,438.5 234.7,437.4 234.7,436.3 234.7,435.3 234.7,434.3 234.7,433.3 234.7,432.3 234.7,431.4 234.8,430.5 234.8,429.7 234.8,428.9 234.8,428.1 234.8,427.3 234.8,426.6 234.9,425.9 234.9,425.3 234.9,424.7 234.9,424.1 234.9,423.6 234.9,423.1 234.9,422.6 235.0,421.9 235.0,421.2 235.0,420.7 235.1,420.2 235.2,420.7 235.2,421.1 235.2,421.8 235.3,422.6 235.3,423.0 235.3,423.5 235.3,424.0 235.3,424.6 235.3,425.2 235.4,425.8 235.4,426.5 235.4,427.2 235.4,427.9 235.4,428.7 235.4,429.5 235.4,430.3 235.5,431.2 235.5,432.0 235.5,432.9 235.5,433.9 235.5,434.8 235.5,435.8 235.5,436.7 235.6,437.7 235.6,438.7 235.6,439.8 235.6,440.8 235.6,441.8 235.6,442.9 235.6,443.9 235.7,445.0 235.7,446.0 235.7,447.1 235.7,448.2 235.7,449.2 235.7,450.3 235.7,451.3 235.8,452.3 235.8,453.4 235.8,454.4 235.8,455.4 235.8,456.4 235.8,457.4 235.9,458.3 235.9,459.3 235.9,460.2 235.9,461.1 235.9,462.0 235.9,462.9 235.9,463.8 236.0,464.6 236.0,465.4 236.0,466.2 236.0,467.0 236.0,467.7 236.0,468.5 236.0,469.2 236.1,469.8 236.1,470.5 236.1,471.1 236.1,471.7 236.1,472.3 236.1,472.9 236.1,473.4 236.2,473.9 236.2,474.4 236.2,474.9 236.2,475.7 236.2,476.4 236.3,477.0 236.3,477.5 236.4,478.1 236.6,477.5 236.6,477.0 236.6,476.4 236.6,475.8 236.7,475.0 236.7,474.1 236.7,473.6 236.7,473.1 236.7,472.6 236.8,472.1 236.8,471.6 236.8,471.0 236.8,470.4 236.8,469.9 236.8,469.3 236.9,468.6 236.9,468.0 236.9,467.4 236.9,466.7 236.9,466.1 236.9,465.4 236.9,464.7 237.0,464.0 237.0,463.3 237.0,462.6 237.0,461.9 237.0,461.2 237.0,460.5 237.0,459.8 237.1,459.1 237.1,458.4 237.1,457.7 237.1,457.0 237.1,456.3 237.1,455.6 237.1,454.9 237.2,454.2 237.2,453.5 237.2,452.9 237.2,452.2 237.2,451.5 237.2,450.9 237.2,450.2 237.3,449.6 237.3,449.0 237.3,448.3 237.3,447.7 237.3,447.1 237.3,446.6 237.3,446.0 237.4,445.4 237.4,444.9 237.4,444.3 237.4,443.8 237.4,443.3 237.4,442.8 237.5,442.3 237.5,441.9 237.5,441.4 237.5,440.6 237.5,439.8 237.6,439.0 237.6,438.3 237.6,437.7 237.7,437.1 237.7,436.6 237.7,436.0 237.8,435.5 237.8,435.0 238.0,435.4 238.1,436.0 238.1,436.6 238.2,437.1 238.2,437.6 238.2,438.1 238.3,438.7 238.3,439.3 238.3,440.0 238.3,440.7 238.4,441.4 238.4,442.1 238.4,442.9 238.5,443.7 238.5,444.5 238.5,445.3 238.6,446.1 238.6,447.0 238.6,447.8 238.6,448.6 238.7,449.5 238.7,450.3 238.7,451.1 238.8,452.0 238.8,452.8 238.8,453.6 238.8,454.3 238.9,455.1 238.9,455.8 238.9,456.5 239.0,457.2 239.0,457.9 239.0,458.6 239.1,459.2 239.1,459.8 239.1,460.4 239.1,460.9 239.2,461.4 239.2,461.9 239.2,462.4 239.3,463.0 239.3,463.6 239.4,464.2 239.4,464.6 239.5,465.1 239.5,465.6 239.7,466.1 239.9,465.6 240.0,465.1 240.1,464.6 240.1,464.1 240.2,463.6 240.2,463.1 240.3,462.6 240.3,462.1 240.4,461.5 240.4,461.0 240.5,460.4 240.5,459.8 240.5,459.3 240.6,458.7 240.6,458.1 240.7,457.5 240.7,456.9 240.8,456.3 240.8,455.7 240.8,455.2 240.9,454.6 240.9,454.1 241.0,453.6 241.0,453.0 241.1,452.5 241.1,452.0 241.2,451.6 241.2,451.1 241.3,450.5 241.3,450.0 241.4,449.5 241.4,449.0 241.5,448.5 241.6,448.0 241.6,447.5 241.7,447.1 241.8,446.6 241.9,446.1 242.0,445.6 242.2,445.1 242.3,444.7 242.5,444.3 242.8,443.9 243.3,443.8 243.7,444.0 244.1,444.2 244.5,444.4 245.0,444.4 245.4,444.2 245.7,443.9 246.0,443.5 246.2,443.1 246.4,442.7 246.6,442.3 246.7,441.8 246.9,441.4 247.1,441.0 247.2,440.5 247.4,440.1 247.6,439.7 247.9,439.3 248.3,439.6 248.5,440.1 248.6,440.5 248.8,441.0 248.9,441.5 248.9,441.9 249.0,442.4 249.1,442.9 249.2,443.4 249.3,443.9 249.4,444.3 249.4,444.8 249.5,445.2 249.6,445.7 249.7,446.2 249.7,446.6 249.8,447.1 249.9,447.6 250.0,448.1 250.1,448.6 250.2,449.0 250.3,449.5 250.4,450.0 250.5,450.5 250.6,450.9 250.7,451.4 250.9,451.8 251.1,452.2 251.3,452.7 251.5,453.1 251.7,453.4 252.0,453.8 252.3,454.2 252.5,454.6 252.8,455.0 253.0,455.4 253.2,455.8 253.4,456.3 253.5,456.7 253.6,457.2 253.7,457.6 253.8,458.1 253.9,458.6 254.0,459.1 254.1,459.6 254.2,460.1 254.2,460.6 254.3,461.1 254.3,461.6 254.4,462.2 254.5,462.8 254.5,463.2 254.5,463.7 254.6,464.2 254.6,464.8 254.7,465.3 254.7,465.9 254.8,466.5 254.8,467.2 254.9,467.8 254.9,468.3 254.9,468.8 254.9,469.2 255.0,469.7 255.0,470.2 255.0,470.8 255.1,471.3 255.1,471.8 255.1,472.4 255.2,472.9 255.2,473.5 255.2,474.1 255.2,474.6 255.3,475.2 255.3,475.8 255.3,476.4 255.4,477.0 255.4,477.6 255.4,478.2 255.4,478.8 255.5,479.4 255.5,479.9 255.5,480.5 255.6,481.0 255.6,481.6 255.6,482.1 255.7,482.6 255.7,483.0 255.7,483.6 255.8,484.2 255.8,484.7 255.9,485.2 256.0,484.7 256.1,484.2 256.1,483.5 256.2,482.9 256.2,482.2 256.2,481.5 256.3,480.7 256.3,479.8 256.3,479.3 256.3,478.8 256.3,478.3 256.3,477.7 256.4,477.2 256.4,476.6 256.4,476.0 256.4,475.4 256.4,474.8 256.4,474.2 256.4,473.5 256.5,472.9 256.5,472.2 256.5,471.5 256.5,470.8 256.5,470.1 256.5,469.4 256.5,468.7 256.6,467.9 256.6,467.2 256.6,466.5 256.6,465.7 256.6,465.0 256.6,464.2 256.7,463.4 256.7,462.7 256.7,461.9 256.7,461.2 256.7,460.4 256.7,459.6 256.7,458.9 256.8,458.1 256.8,457.4 256.8,456.6 256.8,455.9 256.8,455.2 256.8,454.4 256.8,453.7 256.9,453.0 256.9,452.3 256.9,451.6 256.9,450.9 256.9,450.2 256.9,449.5 256.9,448.8 257.0,448.2 257.0,447.5 257.0,446.9 257.0,446.3 257.0,445.6 257.0,445.0 257.0,444.4 257.1,443.8 257.1,443.2 257.1,442.7 257.1,442.1 257.1,441.6 257.1,441.0 257.2,440.5 257.2,440.0 257.2,439.5 257.2,439.0 257.2,438.5 257.2,438.0 257.2,437.6 257.3,436.7 257.3,435.9 257.3,435.1 257.4,434.3 257.4,433.6 257.4,432.9 257.4,432.3 257.5,431.8 257.5,431.3 257.5,430.8 257.6,430.2 257.6,429.7 257.7,429.2 257.9,429.7 258.0,430.2 258.0,430.8 258.0,431.3 258.1,431.8 258.1,432.4 258.1,433.1 258.2,433.8 258.2,434.5 258.2,435.3 258.2,436.2 258.3,437.1 258.3,437.5 258.3,438.0 258.3,438.4 258.3,438.9 258.3,439.4 258.4,439.9 258.4,440.4 258.4,440.9 258.4,441.4 258.4,441.9 258.4,442.4 258.4,442.9 258.5,443.4 258.5,444.0 258.5,444.5 258.5,445.0 258.5,445.5 258.5,446.1 258.5,446.6 258.6,447.1 258.6,447.6 258.6,448.2 258.6,448.7 258.6,449.2 258.6,449.7 258.7,450.2 258.7,450.8 258.7,451.3 258.7,451.8 258.7,452.3 258.7,452.8 258.7,453.3 258.8,453.8 258.8,454.3 258.8,454.7 258.8,455.2 258.8,455.7 258.8,456.1 258.8,456.6 258.9,457.0 258.9,457.9 258.9,458.8 258.9,459.6 259.0,460.4 259.0,461.2 259.0,461.9 259.1,462.7 259.1,463.3 259.1,464.0 259.2,464.6 259.2,465.2 259.2,465.8 259.2,466.3 259.3,466.8 259.3,467.3 259.3,467.9 259.4,468.5 259.4,469.0 259.5,469.5 259.6,470.1 259.7,470.5 259.9,470.0 260.0,469.5 260.0,469.0 260.1,468.5 260.1,468.0 260.1,467.4 260.2,466.8 260.2,466.1 260.3,465.6 260.3,465.1 260.3,464.6 260.4,464.1 260.4,463.6 260.4,463.1 260.4,462.5 260.5,462.0 260.5,461.4 260.5,460.8 260.6,460.3 260.6,459.7 260.6,459.1 260.6,458.6 260.7,458.0 260.7,457.4 260.7,456.9 260.8,456.3 260.8,455.7 260.8,455.2 260.9,454.7 260.9,454.1 260.9,453.6 260.9,453.1 261.0,452.6 261.0,452.1 261.0,451.6 261.1,451.2 261.1,450.7 261.1,450.0 261.2,449.4 261.2,448.8 261.3,448.2 261.3,447.6 261.4,447.1 261.4,446.6 261.4,446.1 261.5,445.7 261.5,445.1 261.6,444.6 261.7,444.1 261.7,443.6 261.8,443.1 261.9,442.6 262.0,442.2 262.1,441.7 262.6,441.6 262.8,442.0 262.9,442.5 263.0,443.0 263.1,443.5 263.2,443.9 263.3,444.4 263.4,444.9 263.5,445.4 263.6,445.9 263.6,446.5 263.7,447.0 263.8,447.5 263.9,448.0 264.0,448.5 264.1,449.0 264.2,449.4 264.3,449.9 264.4,450.4 264.5,450.9 264.6,451.3 264.8,451.8 264.9,452.2 265.1,452.7 265.2,453.1 265.4,453.6 265.6,454.0 265.9,454.4 266.1,454.8 266.3,455.2 266.5,455.6 266.7,456.0 266.8,456.5 267.0,457.0 267.1,457.5 267.2,458.0 267.3,458.5 267.4,458.9 267.5,459.4 267.6,459.9 267.6,460.4 267.7,460.9 267.8,461.4 267.8,461.8 267.9,462.4 268.0,462.9 268.0,463.5 268.1,463.9 268.1,464.4 268.1,464.9 268.2,465.4 268.2,466.0 268.3,466.5 268.3,467.1 268.4,467.7 268.4,468.4 268.5,469.0 268.5,469.7 268.5,470.1 268.6,470.6 268.6,471.1 268.6,471.6 268.6,472.0 268.7,472.5 268.7,473.0 268.7,473.5 268.8,474.0 268.8,474.6 268.8,475.1 268.9,475.6 268.9,476.1 268.9,476.6 268.9,477.1 269.0,477.6 269.0,478.1 269.0,478.6 269.1,479.0 269.1,479.5 269.1,480.1 269.2,480.7 269.2,481.3 269.3,481.8 269.3,482.3 269.4,482.7 269.6,482.2 269.6,481.8 269.7,481.2 269.7,480.7 269.7,480.1 269.7,479.5 269.8,478.8 269.8,478.1 269.8,477.3 269.9,476.4 269.9,475.9 269.9,475.5 269.9,475.0 269.9,474.5 269.9,473.9 270.0,473.4 270.0,472.9 270.0,472.3 270.0,471.8 270.0,471.2 270.0,470.6 270.0,470.0 270.1,469.4 270.1,468.8 270.1,468.2 270.1,467.6 270.1,467.0 270.1,466.3 270.1,465.7 270.2,465.1 270.2,464.4 270.2,463.8 270.2,463.1 270.2,462.5 270.2,461.9 270.2,461.2 270.3,460.6 270.3,459.9 270.3,459.3 270.3,458.6 270.3,458.0 270.3,457.3 270.4,456.7 270.4,456.1 270.4,455.5 270.4,454.8 270.4,454.2 270.4,453.6 270.4,453.0 270.5,452.4 270.5,451.8 270.5,451.2 270.5,450.6 270.5,450.1 270.5,449.5 270.5,448.9 270.6,448.4 270.6,447.8 270.6,447.3 270.6,446.8 270.6,446.3 270.6,445.7 270.6,445.2 270.7,444.7 270.7,444.3 270.7,443.8 270.7,443.3 270.7,442.9 270.7,442.4 270.8,441.5 270.8,440.7 270.8,439.9 270.9,439.1 270.9,438.4 270.9,437.7 270.9,437.0 271.0,436.4 271.0,435.8 271.0,435.2 271.1,434.7 271.1,434.2 271.1,433.7 271.2,433.1 271.2,432.6 271.3,432.1 271.3,431.6 271.6,432.0 271.6,432.6 271.7,433.2 271.7,433.8 271.8,434.3 271.8,434.8 271.8,435.3 271.9,435.9 271.9,436.6 271.9,437.2 271.9,437.9 272.0,438.6 272.0,439.4 272.0,440.1 272.1,440.9 272.1,441.7 272.1,442.5 272.1,443.3 272.2,444.2 272.2,445.0 272.2,445.8 272.3,446.7 272.3,447.5 272.3,448.4 272.4,449.2 272.4,450.1 272.4,450.9 272.4,451.7 272.5,452.5 272.5,453.3 272.5,454.0 272.6,454.8 272.6,455.5 272.6,456.3 272.6,457.0 272.7,457.6 272.7,458.3 272.7,459.0 272.8,459.6 272.8,460.2 272.8,460.8 272.9,461.3 272.9,461.9 272.9,462.4 272.9,462.9 273.0,463.4 273.0,463.8 273.0,464.4 273.1,465.0 273.1,465.6 273.2,466.1 273.2,466.5 273.3,467.1 273.3,467.5 273.4,468.0 273.6,468.5 273.8,468.1 273.9,467.6 274.0,467.1 274.0,466.6 274.1,466.1 274.2,465.5 274.2,465.0 274.2,464.5 274.3,464.0 274.3,463.4 274.4,462.9 274.4,462.3 274.5,461.7 274.5,461.1 274.6,460.5 274.6,459.9 274.6,459.3 274.7,458.7 274.7,458.1 274.8,457.5 274.8,456.9 274.9,456.3 274.9,455.8 275.0,455.2 275.0,454.6 275.0,454.1 275.1,453.6 275.1,453.1 275.2,452.6 275.2,452.1 275.3,451.6 275.3,451.2 275.4,450.6 275.4,450.1 275.5,449.5 275.5,449.0 275.6,448.5 275.7,448.1 275.7,447.6 275.8,447.0 275.9,446.6 276.0,446.1 276.0,445.6 276.1,445.1 276.2,444.7 276.3,444.2 276.4,443.7 276.5,443.2 276.7,442.8 276.8,442.3 276.9,441.9 277.1,441.5 277.2,441.0 277.5,440.6 277.8,440.3 278.2,440.5 278.4,440.9 278.5,441.4 278.7,441.8 278.8,442.3 278.9,442.7 279.0,443.2 279.1,443.7 279.2,444.2 279.3,444.7 279.4,445.2 279.5,445.7 279.6,446.2 279.7,446.7 279.8,447.1 279.9,447.6 280.1,448.1 280.2,448.6 280.3,449.0 280.5,449.5 280.7,449.9 280.9,450.3 281.3,450.6 281.7,450.6 282.1,450.3 282.3,449.9 282.5,449.4 282.6,449.0 282.8,448.5 282.9,448.1 283.0,447.6 283.1,447.1 283.2,446.6 283.2,446.2 283.3,445.7 283.4,445.2 283.4,444.7 283.5,444.2 283.6,443.7 283.6,443.2 283.7,442.6 283.7,442.1 283.8,441.7 283.8,441.2 283.8,440.7 283.9,440.2 283.9,439.6 284.0,439.0 284.0,438.5 284.1,437.9 284.1,437.2 284.2,436.6 284.2,435.9 284.2,435.3 284.3,434.8 284.3,434.4 284.3,433.9 284.4,433.4 284.4,433.0 284.4,432.5 284.4,432.0 284.5,431.6 284.5,431.1 284.5,430.6 284.6,430.2 284.6,429.7 284.6,429.1 284.7,428.4 284.7,427.8 284.8,427.3 284.8,426.8 284.9,426.3 284.9,425.8 285.0,425.3 285.2,425.8 285.3,426.3 285.3,426.8 285.3,427.3 285.4,427.8 285.4,428.4 285.4,429.1 285.4,429.8 285.5,430.5 285.5,431.3 285.5,432.2 285.6,433.1 285.6,433.5 285.6,434.0 285.6,434.5 285.6,435.0 285.6,435.5 285.7,436.0 285.7,436.6 285.7,437.1 285.7,437.6 285.7,438.2 285.7,438.7 285.7,439.3 285.8,439.9 285.8,440.4 285.8,441.0 285.8,441.6 285.8,442.2 285.8,442.8 285.8,443.3 285.9,443.9 285.9,444.5 285.9,445.1 285.9,445.7 285.9,446.3 285.9,446.9 285.9,447.5 286.0,448.0 286.0,448.6 286.0,449.2 286.0,449.8 286.0,450.3 286.0,450.9 286.1,451.5 286.1,452.0 286.1,452.6 286.1,453.1 286.1,453.7 286.1,454.2 286.1,454.8 286.2,455.3 286.2,455.8 286.2,456.3 286.2,456.8 286.2,457.3 286.2,457.8 286.2,458.3 286.3,458.8 286.3,459.3 286.3,459.8 286.3,460.2 286.3,460.7 286.3,461.6 286.4,462.4 286.4,463.3 286.4,464.1 286.5,464.8 286.5,465.6 286.5,466.3 286.6,467.0 286.6,467.6 286.6,468.2 286.6,468.8 286.7,469.4 286.7,469.9 286.7,470.4 286.8,470.9 286.8,471.5 286.8,472.1 286.9,472.6 286.9,473.1 287.0,473.6 287.3,473.2 287.4,472.6 287.4,472.1 287.5,471.5 287.5,470.9 287.6,470.4 287.6,469.9 287.6,469.4 287.6,468.8 287.7,468.2 287.7,467.6 287.7,467.0 287.8,466.3 287.8,465.6 287.8,464.9 287.8,464.2 287.9,463.5 287.9,462.8 287.9,462.1 288.0,461.3 288.0,460.6 288.0,459.9 288.1,459.1 288.1,458.4 288.1,457.6 288.1,456.9 288.2,456.2 288.2,455.5 288.2,454.8 288.3,454.1 288.3,453.4 288.3,452.7 288.3,452.1 288.4,451.5 288.4,450.8 288.4,450.2 288.5,449.6 288.5,449.0 288.5,448.5 288.6,447.9 288.6,447.4 288.6,446.9 288.6,446.4 288.7,445.9 288.7,445.5 288.7,444.8 288.8,444.2 288.8,443.6 288.9,443.0 288.9,442.5 289.0,442.1 289.0,441.5 289.1,441.0 289.1,440.5 289.2,440.0 289.3,439.6 289.4,439.2 289.8,439.5 289.9,440.0 290.0,440.5 290.0,441.0 290.1,441.5 290.2,442.0 290.2,442.5 290.3,443.1 290.3,443.6 290.4,444.1 290.4,444.6 290.5,445.0 290.5,445.5 290.5,446.0 290.6,446.5 290.6,446.9 290.7,447.4 290.7,447.9 290.8,448.4 290.8,448.8 290.9,449.3 290.9,449.8 290.9,450.2 291.0,450.8 291.1,451.4 291.1,451.9 291.2,452.5 291.2,453.0 291.3,453.5 291.4,454.0 291.4,454.4 291.5,455.0 291.6,455.5 291.6,456.0 291.7,456.5 291.8,456.9 291.9,457.5 292.0,458.0 292.0,458.4 292.1,458.9 292.2,459.3 292.3,459.8 292.4,460.3 292.5,460.8 292.6,461.3 292.7,461.8 292.8,462.4 292.9,462.8 293.0,463.3 293.1,463.7 293.2,464.2 293.3,464.7 293.4,465.2 293.5,465.7 293.5,466.2 293.6,466.7 293.7,467.2 293.8,467.7 293.9,468.2 294.0,468.6 294.1,469.1 294.2,469.6 294.3,470.1 294.5,470.5 294.8,470.1 295.0,469.6 295.0,469.1 295.1,468.6 295.2,468.2 295.2,467.7 295.3,467.1 295.4,466.5 295.4,466.1 295.4,465.6 295.5,465.1 295.5,464.5 295.6,464.0 295.6,463.5 295.7,462.9 295.7,462.4 295.8,461.8 295.8,461.3 295.8,460.7 295.9,460.1 295.9,459.6 296.0,459.0 296.0,458.5 296.1,457.9 296.1,457.4 296.1,456.9 296.2,456.4 296.2,455.9 296.3,455.4 296.3,454.9 296.4,454.4 296.4,454.0 296.5,453.4 296.5,452.8 296.6,452.3 296.6,451.7 296.7,451.2 296.8,450.7 296.8,450.3 296.9,449.8 297.0,449.3 297.0,448.7 297.1,448.2 297.2,447.8 297.3,447.3 297.3,446.8 297.4,446.4 297.5,445.9 297.6,445.3 297.7,444.8 297.8,444.3 297.8,443.8 297.9,443.3 298.0,442.7 298.1,442.2 298.2,441.7 298.3,441.2 298.4,440.7 298.4,440.3 298.5,439.7 298.6,439.2 298.7,438.7 298.8,438.2 298.9,437.8 299.0,437.3 299.1,436.8 299.2,436.3 299.7,436.4 299.8,436.9 299.9,437.4 300.0,438.0 300.0,438.4 300.1,438.9 300.1,439.5 300.2,440.1 300.2,440.6 300.3,441.1 300.3,441.6 300.4,442.1 300.4,442.6 300.5,443.2 300.5,443.7 300.5,444.3 300.6,444.8 300.6,445.4 300.7,446.0 300.7,446.5 300.8,447.1 300.8,447.7 300.9,448.2 300.9,448.8 300.9,449.3 301.0,449.8 301.0,450.3 301.1,450.9 301.1,451.4 301.2,451.8 301.2,452.3 301.3,452.8 301.3,453.4 301.4,453.9 301.4,454.5 301.5,455.0 301.5,455.5 301.6,456.0 301.7,456.5 301.7,456.9 301.8,457.5 301.9,458.0 301.9,458.5 302.0,459.0 302.1,459.5 302.2,459.9 302.2,460.4 302.3,460.9 302.4,461.4 302.5,462.0 302.6,462.5 302.7,463.0 302.8,463.5 302.9,464.0 302.9,464.5 303.0,465.1 303.1,465.6 303.2,466.1 303.3,466.6 303.4,467.2 303.5,467.7 303.6,468.1 303.6,468.6 303.7,469.1 303.9,469.5 304.0,470.0 304.2,470.4 304.5,470.0 304.6,469.5 304.7,469.0 304.8,468.5 304.8,468.1 304.9,467.6 304.9,467.0 305.0,466.4 305.0,466.0 305.1,465.5 305.1,465.0 305.2,464.5 305.2,464.0 305.3,463.4 305.3,462.9 305.4,462.3 305.4,461.8 305.4,461.2 305.5,460.7 305.5,460.1 305.6,459.6 305.6,459.0 305.7,458.5 305.7,458.0 305.7,457.4 305.8,456.9 305.8,456.4 305.9,455.9 305.9,455.4 306.0,455.0 306.0,454.5 306.1,454.1 306.1,453.5 306.2,452.9 306.2,452.4 306.3,451.8 306.4,451.3 306.4,450.9 306.5,450.4 306.5,450.0 306.6,449.4 306.7,448.9 306.7,448.4 306.8,447.9 306.9,447.5 307.0,447.0 307.1,446.5 307.1,446.0 307.2,445.4 307.3,444.9 307.4,444.4 307.5,443.9 307.6,443.4 307.7,442.9 307.8,442.3 307.9,441.8 307.9,441.4 308.0,440.9 308.1,440.5 308.1,440.0 308.2,439.6 308.3,439.0 308.4,438.5 308.5,438.0 308.6,437.5 308.7,437.0 308.8,436.6 308.9,436.1 309.4,436.3 309.5,436.7 309.6,437.2 309.6,437.8 309.7,438.2 309.7,438.7 309.8,439.3 309.9,439.8 309.9,440.2 309.9,440.7 310.0,441.3 310.0,441.8 310.1,442.3 310.1,442.9 310.2,443.5 310.2,444.0 310.2,444.6 310.3,445.2 310.3,445.8 310.4,446.4 310.4,446.9 310.5,447.5 310.5,448.1 310.6,448.6 310.6,449.2 310.6,449.7 310.7,450.3 310.7,450.8 310.8,451.3 310.8,451.8 310.9,452.3 310.9,452.8 311.0,453.2 311.0,453.7 311.1,454.3 311.1,454.8 311.2,455.4 311.2,455.9 311.3,456.4 311.3,456.9 311.4,457.3 311.5,457.9 311.6,458.4 311.6,458.9 311.7,459.4 311.8,459.9 311.8,460.4 311.9,460.8 312.0,461.3 312.1,461.8 312.2,462.3 312.3,462.8 312.3,463.3 312.4,463.9 312.5,464.4 312.6,464.9 312.7,465.4 312.8,465.9 312.9,466.4 313.0,466.9 313.1,467.4 313.1,467.9 313.2,468.3 313.3,468.8 313.5,469.3 313.6,469.7 314.1,469.8 314.2,469.3 314.3,468.8 314.3,468.4 314.4,467.8 314.5,467.4 314.5,466.8 314.6,466.3 314.7,465.7 314.7,465.3 314.7,464.8 314.8,464.3 314.8,463.8 314.9,463.3 314.9,462.8 315.0,462.3 315.0,461.8 315.1,461.3 315.1,460.7 315.1,460.2 315.2,459.7 315.2,459.2 315.3,458.7 315.3,458.2 315.4,457.7 315.4,457.2 315.5,456.7 315.5,456.2 315.5,455.8 315.6,455.3 315.6,454.7 315.7,454.2 315.8,453.6 315.8,453.1 315.9,452.6 315.9,452.1 316.0,451.6 316.1,451.2 316.1,450.6 316.2,450.1 316.3,449.6 316.3,449.2 316.4,448.7 316.5,448.2 316.6,447.7 316.7,447.2 316.8,446.7 316.8,446.2 316.9,445.7 317.0,445.2 317.1,444.7 317.2,444.2 317.3,443.7 317.4,443.2 317.5,442.7 317.5,442.3 317.6,441.8 317.7,441.3 317.7,440.8 317.8,440.4 317.9,439.9 318.0,439.4 318.0,438.9 318.1,438.4 318.2,437.9 318.3,437.5 318.3,436.9 318.4,436.5 318.5,435.9 318.7,435.5 318.9,435.1 319.1,435.5 319.2,436.0 319.3,436.5 319.4,436.9 319.4,437.4 319.5,438.0 319.5,438.5 319.6,438.9 319.6,439.5 319.7,440.0 319.7,440.6 319.7,441.2 319.8,441.8 319.8,442.4 319.9,443.0 319.9,443.7 320.0,444.3 320.0,445.0 320.1,445.6 320.1,446.3 320.1,446.9 320.2,447.6 320.2,448.2 320.3,448.9 320.3,449.5 320.4,450.1 320.4,450.7 320.4,451.3 320.5,451.9 320.5,452.5 320.6,453.0 320.6,453.5 320.7,454.1 320.7,454.6 320.8,455.1 320.8,455.5 320.8,456.0 320.9,456.6 321.0,457.1 321.0,457.7 321.1,458.2 321.1,458.7 321.2,459.2 321.3,459.7 321.3,460.1 321.4,460.7 321.5,461.2 321.5,461.7 321.6,462.2 321.7,462.6 321.8,463.1 321.8,463.5 321.9,464.1 322.0,464.6 322.1,465.0 322.2,465.5 322.3,466.0 322.4,466.5 322.5,467.0 322.6,467.4 322.7,467.8 322.8,468.3 323.1,468.7 323.4,468.4 323.6,467.9 323.7,467.5 323.8,467.0 323.8,466.5 323.9,466.0 324.0,465.5 324.1,465.0 324.1,464.5 324.2,464.0 324.2,463.5 324.3,462.9 324.3,462.4 324.4,461.8 324.5,461.3 324.5,460.7 324.6,460.2 324.6,459.6 324.7,459.1 324.8,458.5 324.8,458.0 324.9,457.5 324.9,457.0 325.0,456.5 325.1,456.0 325.1,455.6 325.2,455.0 325.3,454.5 325.3,454.0 325.4,453.5 325.5,453.1 325.6,452.6 325.7,452.1 325.7,451.6 325.8,451.1 325.9,450.6 326.0,450.2 326.1,449.7 326.2,449.2 326.3,448.8 326.4,448.3 326.5,447.8 326.7,447.3 326.8,446.8 326.8,446.4 326.9,445.9 327.0,445.4 327.1,444.9 327.2,444.4 327.3,443.9 327.3,443.4 327.4,442.9 327.5,442.4 327.5,441.9 327.6,441.4 327.7,440.9 327.7,440.4 327.8,439.9 327.8,439.4 327.9,438.8 327.9,438.3 328.0,437.7 328.1,437.2 328.1,436.6 328.2,436.0 328.2,435.5 328.3,434.9 328.4,434.4 328.4,433.9 328.5,433.4 328.5,432.9 328.6,432.4 328.7,431.9 328.8,431.5 329.1,431.9 329.1,432.4 329.2,432.9 329.2,433.3 329.3,433.8 329.3,434.4 329.4,435.1 329.4,435.5 329.4,436.0 329.5,436.5 329.5,437.0 329.5,437.6 329.5,438.1 329.6,438.7 329.6,439.3 329.6,439.9 329.7,440.6 329.7,441.2 329.7,441.9 329.8,442.5 329.8,443.2 329.8,443.9 329.8,444.5 329.9,445.2 329.9,445.9 329.9,446.6 330.0,447.3 330.0,447.9 330.0,448.6 330.0,449.3 330.1,449.9 330.1,450.6 330.1,451.2 330.2,451.8 330.2,452.5 330.2,453.1 330.3,453.7 330.3,454.2 330.3,454.8 330.3,455.4 330.4,455.9 330.4,456.5 330.4,457.0 330.5,457.5 330.5,458.0 330.5,458.5 330.5,459.0 330.6,459.4 330.6,460.1 330.7,460.7 330.7,461.4 330.8,461.9 330.8,462.5 330.8,463.0 330.9,463.5 330.9,464.0 331.0,464.5 331.0,465.1 331.1,465.6 331.2,466.1 331.2,466.5 331.3,467.0 331.4,467.6 331.5,468.1 331.6,468.5 332.0,468.3 332.1,467.8 332.2,467.3 332.3,466.8 332.4,466.2 332.4,465.7 332.5,465.2 332.5,464.7 332.6,464.1 332.7,463.5 332.7,463.0 332.7,462.6 332.8,462.1 332.8,461.6 332.9,461.1 332.9,460.6 333.0,460.2 333.0,459.7 333.0,459.2 333.1,458.7 333.1,458.2 333.2,457.8 333.2,457.3 333.3,456.9 333.3,456.3 333.4,455.7 333.4,455.1 333.5,454.6 333.6,454.1 333.6,453.6 333.7,453.1 333.7,452.6 333.8,452.1 333.9,451.6 333.9,451.1 334.0,450.6 334.1,450.1 334.2,449.7 334.3,449.2 334.3,448.7 334.4,448.2 334.5,447.7 334.6,447.2 334.7,446.8 334.8,446.3 334.9,445.9 335.0,445.4 335.0,444.9 335.1,444.5 335.2,444.0 335.3,443.5 335.4,443.0 335.5,442.4 335.6,442.0 335.6,441.5 335.7,441.0 335.8,440.6 335.9,440.1 335.9,439.6 336.0,439.1 336.1,438.6 336.1,438.1 336.2,437.6 336.3,437.2 336.4,436.7 336.5,436.2 336.6,435.7 336.7,435.3 337.1,435.4 337.2,435.9 337.3,436.4 337.4,436.9 337.4,437.4 337.5,438.0 337.5,438.5 337.6,439.0 337.6,439.5 337.7,440.1 337.7,440.6 337.8,441.2 337.8,441.8 337.8,442.5 337.9,443.1 337.9,443.8 338.0,444.4 338.0,445.1 338.1,445.8 338.1,446.4 338.1,447.1 338.2,447.7 338.2,448.4 338.3,449.0 338.3,449.7 338.4,450.3 338.4,450.9 338.5,451.5 338.5,452.1 338.5,452.6 338.6,453.2 338.6,453.7 338.7,454.2 338.7,454.8 338.8,455.2 338.8,455.7 338.9,456.2 338.9,456.8 339.0,457.3 339.0,457.9 339.1,458.4 339.1,458.9 339.2,459.4 339.3,459.9 339.3,460.3 339.4,460.9 339.5,461.4 339.5,461.9 339.6,462.4 339.7,462.8 339.8,463.3 339.9,463.8 339.9,464.3 340.0,464.8 340.1,465.3 340.2,465.8 340.3,466.2 340.4,466.7 340.5,467.2 340.6,467.6 340.7,468.1 340.9,468.5 341.4,468.4 341.5,467.9 341.6,467.5 341.7,467.0 341.8,466.6 341.9,466.1 341.9,465.5 342.0,465.1 342.1,464.6 342.1,464.1 342.2,463.6 342.2,463.0 342.3,462.5 342.4,462.0 342.4,461.4 342.5,460.9 342.5,460.3 342.6,459.8 342.6,459.3 342.7,458.7 342.8,458.2 342.8,457.7 342.9,457.2 342.9,456.7 343.0,456.3 343.1,455.8 343.1,455.3 343.2,454.7 343.3,454.2 343.4,453.8 343.4,453.3 343.5,452.8 343.6,452.3 343.7,451.8 343.8,451.4 343.9,450.9 344.0,450.4 344.1,449.9 344.2,449.5 344.3,449.0 344.4,448.6 344.5,448.1 344.6,447.6 344.7,447.1 344.8,446.6 344.9,446.2 345.0,445.7 345.1,445.2 345.1,444.7 345.2,444.2 345.3,443.7 345.4,443.2 345.4,442.7 345.5,442.2 345.6,441.8 345.6,441.3 345.7,440.8 345.7,440.3 345.8,439.7 345.9,439.2 345.9,438.6 346.0,438.1 346.0,437.5 346.1,436.9 346.1,436.3 346.2,435.7 346.3,435.2 346.3,434.6 346.4,434.0 346.4,433.5 346.5,433.0 346.6,432.6 346.6,432.1 346.7,431.6 346.9,431.2 347.1,431.7 347.1,432.2 347.2,432.7 347.2,433.2 347.3,433.7 347.3,434.3 347.4,435.0 347.4,435.4 347.4,435.9 347.5,436.5 347.5,437.0 347.5,437.6 347.6,438.2 347.6,438.8 347.6,439.4 347.6,440.0 347.7,440.7 347.7,441.3 347.7,442.0 347.8,442.7 347.8,443.4 347.8,444.1 347.8,444.8 347.9,445.5 347.9,446.2 347.9,446.9 348.0,447.6 348.0,448.3 348.0,448.9 348.1,449.6 348.1,450.3 348.1,450.9 348.1,451.6 348.2,452.2 348.2,452.9 348.2,453.5 348.3,454.1 348.3,454.7 348.3,455.3 348.3,455.8 348.4,456.4 348.4,457.0 348.4,457.5 348.5,458.0 348.5,458.5 348.5,459.0 348.6,459.5 348.6,459.9 348.6,460.4 348.7,461.0 348.7,461.7 348.7,462.3 348.8,462.8 348.8,463.4 348.9,463.9 348.9,464.4 349.0,464.8 349.0,465.4 349.1,466.0 349.1,466.5 349.2,466.9 349.3,467.4 349.4,467.9 349.5,468.3 349.6,468.8 350.0,468.4 350.1,468.0 350.1,467.4 350.2,466.9 350.3,466.5 350.3,466.0 350.4,465.5 350.5,464.9 350.5,464.3 350.7,462.5 350.8,460.9 351.0,459.3 351.1,457.6 351.3,455.8 351.4,454.1 351.6,452.4 351.7,450.6 351.9,449.0 352.0,447.4 352.2,445.8 352.3,444.4 352.5,443.0 352.6,441.8 352.8,440.8 352.9,439.9 353.1,439.2 353.2,438.7 353.5,438.3 353.8,438.7 354.1,439.6 354.3,440.2 354.4,441.0 354.6,441.8 354.7,442.8 354.9,443.8 355.0,444.9 355.2,446.1 355.3,447.4 355.5,448.7 355.6,450.0 355.8,451.4 355.9,452.9 356.1,454.3 356.2,455.8 356.4,457.3 356.5,458.7 356.7,460.2 356.8,461.7 357.0,463.1 357.1,464.5 357.3,465.8 357.4,467.2 357.6,468.4 357.7,469.6 357.9,470.7 358.0,471.8 358.2,472.7 358.3,473.6 358.5,474.4 358.6,475.0 358.8,475.6 359.1,476.3 359.5,475.7 359.7,474.7 359.8,473.2 360.0,471.4 360.1,469.3 360.3,466.9 360.4,464.3 360.6,461.6 360.7,458.7 360.9,455.9 361.0,453.0 361.2,450.3 361.3,447.6 361.5,445.1 361.6,442.9 361.8,440.9 361.9,439.3 362.1,438.0 362.2,437.2 362.7,437.1 363.0,437.6 363.3,438.4 363.4,439.0 363.6,439.6 363.7,440.2 363.9,440.9 364.0,441.7 364.2,442.5 364.3,443.4 364.5,444.3 364.6,445.2 364.8,446.2 364.9,447.2 365.1,448.2 365.2,449.2 365.4,450.3 365.5,451.3 365.7,452.4 365.8,453.4 366.0,454.5 366.1,455.5 366.3,456.6 366.4,457.6 366.6,458.6 366.7,459.6 366.9,460.5 367.0,461.4 367.2,462.3 367.3,463.1 367.5,463.9 367.6,464.6 367.8,465.2 367.9,465.9 368.1,466.4 368.2,466.9 368.5,467.6 368.8,467.9 369.3,467.4 369.4,466.7 369.6,465.8 369.7,464.6 369.9,463.2 370.0,461.7 370.2,459.9 370.3,458.1 370.5,456.1 370.6,454.0 370.8,451.9 370.9,449.7 371.1,447.5 371.2,445.3 371.4,443.1 371.5,441.0 371.7,438.9 371.8,436.9 372.0,435.0 372.1,433.3 372.3,431.7 372.4,430.3 372.6,429.1 372.7,428.1 372.9,427.3 373.0,426.9 373.3,427.3 373.5,429.1 373.6,431.9 373.8,435.6 373.9,439.8 374.1,444.5 374.2,449.4 374.4,454.3 374.5,459.1 374.7,463.4 374.8,467.1 375.0,470.1 375.1,472.0 375.3,472.8 375.6,472.3 375.7,471.6 375.9,470.6 376.0,469.3 376.2,467.7 376.3,465.7 376.5,463.4 376.6,460.7 376.8,457.5 376.9,454.0 377.1,450.1 377.2,445.7 377.4,440.8" fill="none" stroke="#74d058" stroke-width="1.05" stroke-linejoin="round"/>
<line x1="398.1" y1="487.9" x2="562" y2="487.9" stroke="#8a8a8a" stroke-width="1.2" />
<line x1="401.6" y1="388" x2="401.6" y2="488" stroke="#8a8a8a" stroke-width="1.2" />
<path d="M401.3 488.35V487.45M409.15 488.35V487.45M417 488.35V487.45M424.85 488.35V487.45M432.7 488.35V487.45M440.55 488.35V487.45M448.4 488.35V487.45M456.25 488.35V487.45M464.1 488.35V487.45M471.95 488.35V487.45M479.8 488.35V487.45M487.65 488.35V487.45M495.5 488.35V487.45M503.35 488.35V487.45M511.2 488.35V487.45M519.05 488.35V487.45M526.9 488.35V487.45M534.75 488.35V487.45M542.6 488.35V487.45M550.45 488.35V487.45M558.3 488.35V487.45M401.15 487.9H402.05M401.15 484.68H402.05M401.15 481.46H402.05M401.15 478.24H402.05M401.15 475.02H402.05M401.15 471.8H402.05M401.15 468.58H402.05M401.15 465.36H402.05M401.15 462.14H402.05M401.15 458.92H402.05M401.15 455.7H402.05M401.15 452.48H402.05M401.15 449.26H402.05M401.15 446.04H402.05M401.15 442.82H402.05M401.15 439.6H402.05M401.15 436.38H402.05M401.15 433.16H402.05M401.15 429.94H402.05M401.15 426.72H402.05M401.15 423.5H402.05M401.15 420.28H402.05M401.15 417.06H402.05M401.15 413.84H402.05M401.15 410.62H402.05M401.15 407.4H402.05M401.15 404.18H402.05M401.15 400.96H402.05M401.15 397.74H402.05M401.15 394.52H402.05M401.15 391.3H402.05M401.15 388.08H402.05M432.7 487.9V486.6M464.1 487.9V486.6M495.5 487.9V486.6M526.9 487.9V486.6M558.3 487.9V486.6M401.6 471.8H402.9M401.6 455.7H402.9M401.6 439.6H402.9M401.6 423.5H402.9M401.6 407.4H402.9M401.6 391.3H402.9" stroke="#222" stroke-width="0.8" fill="none"/>
<text x="432.7" y="496.7" font-size="8.3" text-anchor="middle" fill="#111" font-weight="normal" stroke="#111" stroke-width="0.18" >2</text>
<text x="464.1" y="496.7" font-size="8.3" text-anchor="middle" fill="#111" font-weight="normal" stroke="#111" stroke-width="0.18" >4</text>
<text x="495.5" y="496.7" font-size="8.3" text-anchor="middle" fill="#111" font-weight="normal" stroke="#111" stroke-width="0.18" >6</text>
<text x="526.9" y="496.7" font-size="8.3" text-anchor="middle" fill="#111" font-weight="normal" stroke="#111" stroke-width="0.18" >8</text>
<text x="558.3" y="496.7" font-size="8.3" text-anchor="middle" fill="#111" font-weight="normal" stroke="#111" stroke-width="0.18" >10</text>
<text x="399.1" y="474.54" font-size="8.3" text-anchor="end" fill="#111" font-weight="normal" stroke="#111" stroke-width="0.18" >10</text>
<text x="399.1" y="458.44" font-size="8.3" text-anchor="end" fill="#111" font-weight="normal" stroke="#111" stroke-width="0.18" >20</text>
<text x="399.1" y="442.34" font-size="8.3" text-anchor="end" fill="#111" font-weight="normal" stroke="#111" stroke-width="0.18" >30</text>
<text x="399.1" y="426.24" font-size="8.3" text-anchor="end" fill="#111" font-weight="normal" stroke="#111" stroke-width="0.18" >40</text>
<text x="399.1" y="410.14" font-size="8.3" text-anchor="end" fill="#111" font-weight="normal" stroke="#111" stroke-width="0.18" >50</text>
<text x="399.1" y="394.04" font-size="8.3" text-anchor="end" fill="#111" font-weight="normal" stroke="#111" stroke-width="0.18" >60</text>
<text x="392.6" y="382.3" font-size="7.6" text-anchor="start" fill="#000" font-weight="normal" stroke="#000" stroke-width="0.17" >z1,z2</text>
<text x="567.6" y="490" font-size="7.5" text-anchor="start" fill="#000" font-weight="normal" stroke="#000" stroke-width="0.16" >t</text>
<path d="M401.3,487.9 401.8,487.9 402.2,487.7 402.4,487.3 402.6,486.8 402.7,486.3 402.8,485.8 402.9,485.2 403.0,484.7 403.0,484.2 403.1,483.6 403.1,483.0 403.1,482.5 403.2,482.0 403.2,481.4 403.2,480.8 403.3,480.1 403.3,479.3 403.3,478.5 403.4,477.6 403.4,477.2 403.4,476.7 403.4,476.2 403.4,475.6 403.4,475.1 403.5,474.5 403.5,473.9 403.5,473.3 403.5,472.6 403.5,472.0 403.5,471.3 403.5,470.6 403.6,469.8 403.6,469.0 403.6,468.2 403.6,467.4 403.6,466.5 403.6,465.7 403.7,464.7 403.7,463.8 403.7,462.8 403.7,461.8 403.7,460.8 403.7,459.7 403.7,458.6 403.8,457.5 403.8,456.3 403.8,455.1 403.8,453.9 403.8,452.7 403.8,451.4 403.9,450.1 403.9,448.8 403.9,447.4 403.9,446.0 403.9,444.6 403.9,443.2 404.0,441.8 404.0,440.3 404.0,438.9 404.0,437.4 404.0,435.9 404.0,434.4 404.0,432.9 404.1,431.4 404.1,429.9 404.1,428.4 404.1,427.0 404.1,425.5 404.1,424.0 404.2,422.6 404.2,421.2 404.2,419.8 404.2,418.4 404.2,417.1 404.2,415.8 404.3,414.5 404.3,413.3 404.3,412.2 404.3,411.0 404.3,410.0 404.3,409.0 404.3,408.0 404.4,407.1 404.4,406.3 404.4,405.5 404.4,404.8 404.4,404.1 404.4,403.5 404.5,403.0 404.5,402.6 404.5,401.9 404.5,401.4 404.7,402.1 404.7,402.7 404.7,403.4 404.8,404.3 404.8,405.2 404.8,405.7 404.8,406.1 404.8,406.6 404.9,407.1 404.9,407.6 404.9,408.0 404.9,408.5 404.9,409.3 405.0,410.1 405.0,410.8 405.0,411.4 405.1,411.9 405.1,412.3 405.2,411.7 405.3,411.2 405.3,410.5 405.3,409.7 405.4,409.2 405.4,408.7 405.4,408.2 405.4,407.6 405.4,407.0 405.4,406.4 405.4,405.8 405.5,405.2 405.5,404.5 405.5,403.8 405.5,403.2 405.5,402.5 405.5,401.8 405.6,401.1 405.6,400.4 405.6,399.7 405.6,399.0 405.6,398.3 405.6,397.6 405.6,397.0 405.7,396.3 405.7,395.7 405.7,395.1 405.7,394.5 405.7,394.0 405.7,393.5 405.8,393.0 405.8,392.1 405.8,391.4 405.9,390.9 405.9,390.4 406.0,390.9 406.1,391.4 406.1,392.0 406.1,392.7 406.2,393.5 406.2,394.3 406.2,395.2 406.3,396.0 406.3,396.9 406.3,397.7 406.4,398.5 406.4,399.2 406.4,399.8 406.4,400.4 406.5,400.9 406.5,401.4 406.7,400.9 406.8,400.2 406.8,399.7 406.9,399.1 406.9,398.5 406.9,397.9 407.0,397.2 407.0,396.6 407.0,396.0 407.0,395.5 407.1,395.0 407.1,394.3 407.2,393.9 407.4,394.4 407.4,395.1 407.5,395.6 407.5,396.2 407.5,396.8 407.6,397.5 407.6,398.1 407.6,398.8 407.7,399.5 407.7,400.2 407.7,400.9 407.8,401.6 407.8,402.2 407.8,402.8 407.8,403.3 407.9,403.8 407.9,404.4 408.0,404.9 408.1,405.4 408.3,404.9 408.4,404.4 408.4,403.9 408.6,403.5 408.8,403.9 408.8,404.4 408.9,405.0 408.9,405.6 408.9,406.0 409.0,406.5 409.0,407.0 409.0,407.6 409.1,408.1 409.1,408.7 409.1,409.2 409.2,409.8 409.2,410.3 409.2,410.9 409.3,411.4 409.3,411.9 409.3,412.4 409.4,412.9 409.4,413.5 409.4,414.1 409.5,414.6 409.6,415.2 409.6,415.6 409.7,416.1 410.0,416.5 410.2,416.9 410.3,417.4 410.4,417.9 410.5,418.4 410.5,419.0 410.6,419.5 410.6,420.0 410.7,420.6 410.7,421.2 410.8,421.8 410.8,422.4 410.9,423.1 410.9,423.7 411.0,424.3 411.0,424.9 411.0,425.6 411.1,426.1 411.1,426.7 411.2,427.2 411.2,427.7 411.3,428.2 411.3,428.8 411.4,429.3 411.5,429.7 411.6,430.2 411.6,430.7 411.8,431.2 411.9,431.7 412.0,432.2 412.1,432.6 412.3,433.1 412.4,433.6 412.4,434.1 412.5,434.6 412.6,435.2 412.7,435.6 412.7,436.1 412.8,436.7 412.9,437.2 412.9,437.8 413.0,438.3 413.0,438.9 413.1,439.5 413.2,440.1 413.2,440.7 413.3,441.3 413.4,441.8 413.4,442.4 413.5,443.0 413.5,443.5 413.6,444.0 413.7,444.5 413.7,445.0 413.8,445.5 413.9,446.0 414.0,446.5 414.0,447.0 414.1,447.5 414.2,448.0 414.3,448.4 414.4,448.9 414.5,449.4 414.6,449.8 414.8,450.3 414.9,450.7 415.1,451.1 415.3,451.5 415.5,452.0 415.8,452.4 416.0,452.7 416.2,453.1 416.5,453.5 416.7,453.9 417.0,454.3 417.2,454.7 417.4,455.1 417.7,455.5 418.0,455.9 418.3,456.2 418.7,456.3 419.1,456.1 419.4,455.8 419.6,455.3 419.8,454.9 419.9,454.5 420.1,454.0 420.2,453.5 420.3,453.0 420.4,452.6 420.5,452.1 420.7,451.6 420.8,451.2 420.9,450.7 421.0,450.3 421.1,449.8 421.3,449.4 421.5,449.0 422.0,449.1 422.2,449.5 422.3,450.0 422.4,450.4 422.6,450.9 422.7,451.4 422.8,451.8 422.9,452.3 423.0,452.8 423.0,453.3 423.1,453.9 423.2,454.4 423.3,454.8 423.4,455.3 423.5,455.7 423.5,456.2 423.6,456.6 423.7,457.1 423.8,457.5 423.9,458.1 424.0,458.6 424.1,459.1 424.2,459.6 424.3,460.1 424.3,460.6 424.4,461.1 424.5,461.6 424.6,462.0 424.7,462.5 424.8,463.0 424.9,463.4 425.0,463.9 425.1,464.4 425.2,464.9 425.4,465.4 425.5,465.8 425.6,466.3 425.7,466.7 425.8,467.2 425.9,467.7 426.1,468.1 426.2,468.6 426.3,469.0 426.5,469.5 426.6,469.9 426.8,470.3 427.0,470.8 427.3,471.1 427.7,470.8 427.8,470.3 427.9,469.8 428.0,469.3 428.0,468.8 428.1,468.2 428.1,467.7 428.2,467.1 428.2,466.4 428.3,466.0 428.3,465.5 428.3,465.0 428.4,464.4 428.4,463.8 428.4,463.2 428.5,462.5 428.5,461.8 428.5,461.1 428.6,460.3 428.6,459.5 428.6,458.6 428.6,458.1 428.6,457.7 428.7,457.2 428.7,456.7 428.7,456.2 428.7,455.7 428.7,455.2 428.7,454.7 428.8,454.2 428.8,453.6 428.8,453.1 428.8,452.5 428.8,451.9 428.8,451.4 428.9,450.8 428.9,450.2 428.9,449.6 428.9,449.0 428.9,448.3 428.9,447.7 428.9,447.1 429.0,446.5 429.0,445.8 429.0,445.2 429.0,444.5 429.0,443.9 429.0,443.2 429.1,442.6 429.1,441.9 429.1,441.2 429.1,440.6 429.1,439.9 429.1,439.3 429.2,438.6 429.2,438.0 429.2,437.3 429.2,436.7 429.2,436.0 429.2,435.4 429.2,434.8 429.3,434.2 429.3,433.6 429.3,433.0 429.3,432.4 429.3,431.8 429.3,431.3 429.4,430.7 429.4,430.2 429.4,429.7 429.4,429.2 429.4,428.7 429.4,428.3 429.5,427.4 429.5,426.6 429.5,425.9 429.6,425.3 429.6,424.7 429.6,424.3 429.7,423.8 429.8,423.3 429.9,423.8 430.0,424.4 430.0,425.0 430.0,425.6 430.1,426.1 430.1,426.5 430.1,427.0 430.2,427.5 430.2,428.0 430.2,428.5 430.3,429.0 430.3,429.4 430.3,430.0 430.4,430.6 430.4,431.1 430.5,431.6 430.6,432.1 430.8,431.7 430.9,431.2 430.9,430.7 431.0,430.2 431.0,429.6 431.1,429.0 431.1,428.4 431.1,427.7 431.2,427.1 431.2,426.4 431.3,425.8 431.3,425.2 431.4,424.7 431.4,424.2 431.5,423.6 431.8,424.1 431.9,424.6 431.9,425.1 432.0,425.6 432.0,426.1 432.1,426.7 432.1,427.4 432.2,428.0 432.2,428.6 432.3,429.2 432.3,429.8 432.4,430.4 432.4,431.0 432.4,431.5 432.5,431.9 432.6,432.5 432.6,432.9 432.7,433.4 432.9,433.9 433.2,433.5 433.3,433.0 433.5,432.6 433.8,433.0 433.9,433.5 434.0,434.0 434.1,434.4 434.1,434.9 434.2,435.5 434.3,436.0 434.3,436.5 434.4,436.9 434.4,437.4 434.5,437.9 434.5,438.4 434.6,438.8 434.6,439.3 434.6,439.8 434.7,440.2 434.8,440.8 434.8,441.4 434.9,441.9 434.9,442.4 435.0,442.9 435.1,443.4 435.2,443.9 435.3,444.4 435.4,444.9 435.5,445.3 435.7,445.8 435.9,446.1 436.3,446.4 436.7,446.7 436.9,447.1 437.0,447.5 437.2,448.0 437.3,448.5 437.4,449.0 437.5,449.5 437.6,449.9 437.7,450.4 437.8,450.9 437.8,451.4 437.9,451.8 438.0,452.3 438.1,452.8 438.2,453.2 438.2,453.7 438.3,454.2 438.4,454.7 438.5,455.1 438.6,455.6 438.6,456.1 438.7,456.5 438.8,457.0 438.9,457.5 438.9,457.9 439.0,458.3 439.1,458.9 439.2,459.4 439.3,459.9 439.4,460.4 439.5,460.9 439.6,461.4 439.7,461.9 439.8,462.3 439.9,462.8 440.0,463.2 440.1,463.7 440.2,464.2 440.3,464.7 440.4,465.1 440.5,465.6 440.6,466.0 440.8,466.5 440.9,467.0 441.1,467.4 441.2,467.9 441.4,468.3 441.6,468.7 442.1,468.5 442.2,468.1 442.3,467.6 442.4,467.1 442.5,466.6 442.5,466.0 442.6,465.6 442.6,465.1 442.7,464.5 442.7,463.8 442.7,463.4 442.8,462.9 442.8,462.4 442.8,461.8 442.9,461.3 442.9,460.7 442.9,460.0 443.0,459.3 443.0,458.6 443.0,457.9 443.1,457.1 443.1,456.3 443.1,455.5 443.2,454.6 443.2,453.7 443.2,453.2 443.2,452.8 443.2,452.3 443.3,451.8 443.3,451.3 443.3,450.8 443.3,450.3 443.3,449.8 443.3,449.3 443.3,448.7 443.4,448.2 443.4,447.7 443.4,447.1 443.4,446.6 443.4,446.1 443.4,445.5 443.5,445.0 443.5,444.4 443.5,443.9 443.5,443.3 443.5,442.7 443.5,442.2 443.5,441.6 443.6,441.1 443.6,440.5 443.6,440.0 443.6,439.4 443.6,438.9 443.6,438.4 443.7,437.8 443.7,437.3 443.7,436.8 443.7,436.3 443.7,435.7 443.7,435.3 443.8,434.8 443.8,434.3 443.8,433.8 443.8,433.4 443.8,432.5 443.9,431.7 443.9,430.9 443.9,430.2 444.0,429.5 444.0,428.9 444.0,428.4 444.1,428.0 444.1,427.4 444.2,426.9 444.4,427.4 444.5,428.0 444.5,428.5 444.6,429.1 444.6,429.8 444.6,430.4 444.7,431.1 444.7,431.7 444.8,432.4 444.8,433.0 444.9,433.5 444.9,434.0 445.0,434.6 445.1,435.1 445.4,434.8 445.5,434.3 445.6,433.7 445.6,433.3 445.7,432.8 445.7,432.3 445.7,431.8 445.8,431.3 445.8,430.8 445.9,430.3 446.0,429.7 446.0,429.2 446.1,428.8 446.5,429.1 446.5,429.6 446.6,430.2 446.6,430.6 446.7,431.1 446.7,431.7 446.8,432.2 446.8,432.8 446.9,433.3 446.9,433.9 447.0,434.4 447.0,434.9 447.1,435.4 447.1,435.9 447.2,436.4 447.2,437.0 447.3,437.5 447.4,438.0 447.5,438.5 447.6,439.0 448.0,439.0 448.3,438.6 448.7,438.8 448.9,439.3 448.9,439.7 449.0,440.2 449.1,440.7 449.2,441.2 449.2,441.7 449.3,442.2 449.4,442.7 449.4,443.2 449.5,443.8 449.6,444.3 449.6,444.8 449.7,445.4 449.8,445.9 449.8,446.4 449.9,446.9 449.9,447.4 450.0,447.9 450.1,448.4 450.1,448.9 450.2,449.4 450.3,449.9 450.4,450.4 450.5,450.9 450.6,451.3 450.7,451.8 450.8,452.2 451.0,452.7 451.2,453.1 451.6,453.2 451.9,452.8 452.1,452.4 452.3,452.0 452.5,451.5 452.7,451.1 452.8,450.6 453.0,450.2 453.3,449.9 453.8,449.9 454.0,450.3 454.2,450.7 454.3,451.2 454.4,451.6 454.6,452.1 454.7,452.6 454.8,453.1 454.9,453.6 455.0,454.1 455.1,454.5 455.2,455.0 455.3,455.5 455.4,456.0 455.5,456.4 455.6,456.9 455.7,457.4 455.7,457.9 455.8,458.4 455.9,458.8 456.0,459.3 456.1,459.8 456.2,460.2 456.3,460.7 456.4,461.1 456.5,461.6 456.6,462.1 456.7,462.6 456.8,463.1 457.0,463.5 457.1,464.0 457.2,464.5 457.3,464.9 457.4,465.4 457.6,465.9 457.7,466.3 457.9,466.7 458.1,467.2 458.3,467.5 458.7,467.4 458.9,466.9 459.0,466.4 459.1,465.9 459.2,465.4 459.2,464.9 459.3,464.4 459.3,463.9 459.4,463.4 459.4,462.8 459.5,462.1 459.5,461.6 459.5,461.1 459.5,460.6 459.6,460.1 459.6,459.5 459.6,458.9 459.7,458.2 459.7,457.5 459.7,456.8 459.8,456.1 459.8,455.4 459.8,454.6 459.9,453.7 459.9,452.9 459.9,452.0 460.0,451.1 460.0,450.7 460.0,450.2 460.0,449.8 460.0,449.3 460.0,448.8 460.0,448.3 460.1,447.8 460.1,447.4 460.1,446.9 460.1,446.4 460.1,445.9 460.1,445.4 460.2,444.9 460.2,444.4 460.2,443.9 460.2,443.4 460.2,442.9 460.2,442.4 460.3,441.9 460.3,441.4 460.3,440.9 460.3,440.4 460.3,439.9 460.3,439.4 460.3,438.9 460.4,438.5 460.4,438.0 460.4,437.5 460.4,437.1 460.4,436.6 460.5,435.7 460.5,434.9 460.5,434.1 460.6,433.3 460.6,432.6 460.6,432.0 460.6,431.4 460.7,430.8 460.7,430.3 460.8,429.7 460.8,429.2 460.9,428.7 461.1,429.2 461.2,429.7 461.2,430.2 461.3,430.8 461.3,431.3 461.4,432.0 461.4,432.6 461.4,433.2 461.5,433.8 461.5,434.4 461.6,434.9 461.6,435.4 461.7,435.9 461.7,436.4 461.8,437.0 461.9,437.4 462.2,436.9 462.3,436.5 462.3,436.0 462.4,435.5 462.5,434.9 462.5,434.4 462.6,433.8 462.6,433.2 462.7,432.7 462.8,432.2 462.8,431.7 463.0,431.3 463.3,431.7 463.3,432.2 463.4,432.7 463.5,433.2 463.5,433.8 463.6,434.3 463.6,434.8 463.7,435.3 463.7,435.8 463.8,436.3 463.8,436.8 463.8,437.3 463.9,437.8 463.9,438.3 464.0,438.8 464.1,439.3 464.1,439.9 464.2,440.3 464.3,440.9 464.3,441.3 464.4,441.8 464.6,442.2 465.1,442.2 465.4,441.8 465.7,442.0 465.9,442.5 466.0,443.0 466.1,443.4 466.2,443.9 466.3,444.4 466.4,444.9 466.4,445.5 466.5,445.9 466.6,446.4 466.6,446.9 466.7,447.3 466.8,447.8 466.8,448.3 466.9,448.8 466.9,449.3 467.0,449.7 467.1,450.2 467.1,450.7 467.2,451.1 467.3,451.7 467.3,452.2 467.4,452.7 467.5,453.2 467.6,453.7 467.7,454.1 467.8,454.6 467.9,455.1 468.0,455.6 468.1,456.0 468.2,456.5 468.4,456.9 468.6,457.3 469.0,457.4 469.2,457.0 469.4,456.6 469.5,456.2 469.6,455.7 469.7,455.2 469.8,454.7 469.8,454.2 469.9,453.6 470.0,453.2 470.0,452.7 470.1,452.2 470.2,451.6 470.2,451.1 470.3,450.5 470.3,450.0 470.4,449.4 470.5,448.8 470.5,448.3 470.6,447.7 470.7,447.2 470.7,446.7 470.8,446.2 470.9,445.7 470.9,445.2 471.0,444.8 471.2,444.3 471.6,444.4 471.7,444.9 471.8,445.4 471.9,445.9 472.0,446.3 472.1,446.9 472.2,447.4 472.2,447.9 472.3,448.4 472.3,448.8 472.4,449.3 472.5,449.8 472.5,450.2 472.6,450.7 472.7,451.2 472.7,451.6 472.8,452.2 472.9,452.7 473.0,453.2 473.0,453.7 473.1,454.1 473.2,454.6 473.3,455.1 473.4,455.6 473.5,456.0 473.7,456.5 473.9,456.9 474.4,456.8 474.5,456.4 474.7,455.9 474.8,455.4 474.9,454.9 474.9,454.4 475.0,453.9 475.1,453.4 475.2,452.9 475.2,452.4 475.3,451.9 475.3,451.3 475.4,450.8 475.5,450.2 475.5,449.7 475.6,449.1 475.7,448.5 475.7,448.0 475.8,447.5 475.8,446.9 475.9,446.5 476.0,446.0 476.0,445.5 476.1,445.0 476.2,444.5 476.4,444.1 476.8,444.3 476.9,444.8 477.0,445.2 477.1,445.7 477.1,446.2 477.2,446.7 477.3,447.3 477.4,447.7 477.4,448.2 477.5,448.7 477.6,449.1 477.6,449.6 477.7,450.1 477.7,450.6 477.8,451.0 477.9,451.5 477.9,452.0 478.0,452.5 478.1,453.0 478.2,453.5 478.3,454.0 478.4,454.5 478.4,454.9 478.6,455.4 478.7,455.9 478.8,456.3 479.1,456.7 479.5,456.6 479.7,456.2 479.8,455.7 479.9,455.2 480.0,454.7 480.1,454.2 480.2,453.7 480.2,453.2 480.3,452.7 480.4,452.2 480.4,451.7 480.5,451.2 480.6,450.6 480.6,450.1 480.7,449.6 480.7,449.0 480.8,448.5 480.9,447.9 480.9,447.4 481.0,446.9 481.1,446.5 481.1,445.9 481.2,445.4 481.3,444.9 481.4,444.5 481.6,444.1 481.9,444.5 482.0,445.0 482.1,445.4 482.2,445.9 482.3,446.4 482.4,447.0 482.5,447.5 482.5,448.0 482.6,448.4 482.6,448.9 482.7,449.4 482.8,449.9 482.8,450.3 482.9,450.8 483.0,451.2 483.0,451.7 483.1,452.2 483.2,452.8 483.3,453.3 483.3,453.7 483.4,454.2 483.5,454.7 483.6,455.2 483.7,455.7 483.8,456.1 484.0,456.6 484.2,457.0 484.6,457.1 484.8,456.7 484.9,456.2 485.1,455.7 485.2,455.3 485.2,454.8 485.3,454.3 485.4,453.7 485.5,453.3 485.5,452.8 485.6,452.2 485.6,451.7 485.7,451.2 485.8,450.6 485.8,450.0 485.9,449.4 486.0,448.8 486.0,448.3 486.1,447.7 486.1,447.2 486.2,446.6 486.3,446.1 486.3,445.7 486.4,445.1 486.5,444.7 486.6,444.2 486.7,443.8 487.1,444.1 487.2,444.6 487.3,445.1 487.4,445.5 487.5,446.0 487.6,446.6 487.6,447.0 487.7,447.5 487.8,448.0 487.8,448.5 487.9,448.9 487.9,449.4 488.0,449.9 488.1,450.4 488.1,450.8 488.2,451.3 488.3,451.8 488.4,452.3 488.4,452.8 488.5,453.3 488.6,453.8 488.7,454.3 488.8,454.7 488.9,455.2 489.0,455.6 489.2,456.0 489.4,456.4 489.8,456.1 490.0,455.6 490.1,455.1 490.2,454.6 490.3,454.1 490.4,453.7 490.5,453.1 490.6,452.6 490.6,452.1 490.7,451.7 490.7,451.2 490.8,450.7 490.9,450.2 490.9,449.7 491.0,449.2 491.1,448.7 491.1,448.2 491.2,447.7 491.2,447.2 491.3,446.7 491.4,446.2 491.5,445.7 491.6,445.2 491.8,444.7 492.2,445.0 492.3,445.4 492.4,445.9 492.5,446.4 492.6,446.9 492.6,447.4 492.7,447.9 492.8,448.5 492.9,448.9 492.9,449.4 493.0,449.9 493.1,450.3 493.1,450.8 493.2,451.2 493.2,451.7 493.3,452.2 493.4,452.8 493.5,453.3 493.6,453.8 493.6,454.3 493.7,454.7 493.8,455.3 493.9,455.7 494.0,456.2 494.1,456.6 494.2,457.1 494.4,457.6 494.6,458.0 495.1,457.9 495.2,457.4 495.4,457.0 495.5,456.5 495.5,456.0 495.6,455.5 495.7,454.9 495.8,454.5 495.8,454.0 495.9,453.4 496.0,452.8 496.0,452.2 496.1,451.8 496.1,451.3 496.2,450.8 496.2,450.3 496.3,449.8 496.3,449.3 496.3,448.8 496.4,448.3 496.4,447.8 496.5,447.3 496.5,446.8 496.6,446.4 496.6,445.9 496.7,445.3 496.8,444.8 496.8,444.3 496.9,443.8 497.0,443.3 497.1,442.8 497.5,443.0 497.6,443.4 497.7,444.0 497.8,444.5 497.9,445.0 497.9,445.5 498.0,446.0 498.1,446.5 498.1,447.0 498.2,447.5 498.3,448.0 498.3,448.5 498.4,449.0 498.5,449.4 498.5,449.9 498.6,450.4 498.7,450.9 498.7,451.4 498.8,451.9 498.9,452.4 499.0,452.9 499.1,453.4 499.2,453.8 499.4,454.3 499.8,454.5 500.1,454.1 500.2,453.6 500.3,453.1 500.4,452.6 500.5,452.1 500.6,451.6 500.7,451.1 500.8,450.6 500.9,450.2 501.0,449.7 501.0,449.2 501.1,448.8 501.2,448.3 501.3,447.8 501.4,447.3 501.5,446.8 501.7,446.4 502.2,446.5 502.3,447.0 502.4,447.5 502.5,447.9 502.6,448.4 502.7,448.9 502.8,449.3 502.8,449.8 502.9,450.3 503.0,450.9 503.1,451.4 503.2,451.9 503.2,452.5 503.3,453.0 503.4,453.5 503.5,454.0 503.6,454.5 503.6,455.1 503.7,455.5 503.8,456.0 503.9,456.5 503.9,456.9 504.0,457.5 504.1,458.0 504.2,458.4 504.3,458.9 504.4,459.4 504.5,459.8 504.7,460.3 504.8,460.8 505.0,461.2 505.2,461.6 505.6,461.3 505.8,460.9 505.9,460.4 506.0,459.9 506.1,459.3 506.1,458.8 506.2,458.3 506.3,457.7 506.3,457.2 506.4,456.7 506.4,456.2 506.5,455.6 506.5,455.0 506.6,454.4 506.6,453.7 506.6,453.2 506.7,452.7 506.7,452.3 506.7,451.8 506.8,451.3 506.8,450.7 506.8,450.2 506.9,449.7 506.9,449.1 506.9,448.6 506.9,448.0 507.0,447.5 507.0,446.9 507.0,446.4 507.1,445.8 507.1,445.3 507.1,444.8 507.2,444.2 507.2,443.7 507.2,443.2 507.3,442.7 507.3,442.2 507.3,441.7 507.4,441.3 507.4,440.6 507.4,440.0 507.5,439.5 507.5,439.0 507.6,438.5 507.7,438.0 507.8,437.5 508.1,437.9 508.2,438.5 508.2,438.9 508.3,439.4 508.3,440.0 508.4,440.6 508.5,441.0 508.5,441.5 508.5,441.9 508.6,442.4 508.6,442.8 508.7,443.4 508.8,444.0 508.8,444.5 508.9,445.0 509.0,445.5 509.0,446.0 509.1,446.5 509.2,446.9 509.4,447.3 509.8,447.0 509.9,446.6 510.0,446.1 510.1,445.7 510.3,445.2 510.4,444.8 510.5,444.3 510.7,443.9 511.1,444.0 511.2,444.5 511.4,445.0 511.5,445.5 511.5,445.9 511.6,446.4 511.7,446.9 511.8,447.5 511.8,447.9 511.9,448.4 512.0,448.8 512.0,449.3 512.1,449.8 512.1,450.2 512.2,450.7 512.3,451.1 512.3,451.6 512.4,452.1 512.5,452.7 512.6,453.2 512.6,453.7 512.7,454.2 512.8,454.6 512.9,455.2 513.0,455.7 513.1,456.1 513.2,456.6 513.3,457.1 513.5,457.6 513.6,458.0 513.9,458.4 514.3,458.1 514.4,457.7 514.6,457.2 514.7,456.7 514.8,456.2 514.8,455.7 514.9,455.1 515.0,454.6 515.0,454.1 515.1,453.6 515.2,453.0 515.2,452.6 515.3,452.1 515.3,451.6 515.4,451.1 515.4,450.6 515.5,450.1 515.5,449.6 515.5,449.1 515.6,448.6 515.6,448.1 515.7,447.6 515.7,447.1 515.8,446.6 515.8,446.1 515.9,445.7 515.9,445.1 516.0,444.6 516.1,444.1 516.1,443.6 516.2,443.0 516.4,442.6 516.8,442.9 516.9,443.4 517.0,443.9 517.0,444.4 517.1,445.0 517.2,445.5 517.2,445.9 517.3,446.4 517.4,446.9 517.4,447.5 517.5,448.0 517.6,448.5 517.6,449.0 517.7,449.4 517.7,449.9 517.8,450.4 517.9,450.9 518.0,451.4 518.0,451.9 518.1,452.4 518.2,452.8 518.3,453.3 518.5,453.8 518.7,454.2 519.1,454.2 519.3,453.7 519.5,453.3 519.6,452.8 519.7,452.3 519.8,451.8 519.9,451.3 520.0,450.8 520.0,450.3 520.1,449.9 520.2,449.4 520.3,449.0 520.4,448.5 520.5,448.0 520.6,447.5 520.7,447.0 520.9,446.6 521.3,446.6 521.5,447.0 521.6,447.5 521.7,448.0 521.8,448.5 521.9,449.0 522.0,449.4 522.0,449.9 522.1,450.4 522.2,450.9 522.3,451.4 522.3,452.0 522.4,452.5 522.5,453.0 522.6,453.6 522.7,454.1 522.7,454.6 522.8,455.1 522.9,455.6 523.0,456.1 523.1,456.5 523.1,457.0 523.2,457.5 523.3,458.0 523.4,458.5 523.5,459.0 523.6,459.5 523.7,459.9 523.9,460.4 524.0,460.9 524.2,461.3 524.4,461.7 524.8,461.7 525.0,461.2 525.1,460.7 525.2,460.2 525.3,459.7 525.3,459.3 525.4,458.7 525.5,458.2 525.5,457.7 525.6,457.2 525.6,456.6 525.7,456.1 525.7,455.5 525.8,454.8 525.8,454.2 525.8,453.7 525.9,453.2 525.9,452.7 525.9,452.2 526.0,451.7 526.0,451.2 526.0,450.7 526.1,450.1 526.1,449.6 526.1,449.0 526.1,448.4 526.2,447.9 526.2,447.3 526.2,446.7 526.3,446.2 526.3,445.6 526.3,445.1 526.4,444.5 526.4,444.0 526.4,443.4 526.5,442.9 526.5,442.4 526.5,441.9 526.6,441.4 526.6,440.9 526.6,440.3 526.7,439.7 526.7,439.1 526.8,438.6 526.8,438.1 526.9,437.6 527.0,437.1 527.3,437.5 527.4,438.1 527.4,438.5 527.5,439.1 527.6,439.6 527.6,440.2 527.7,440.7 527.7,441.1 527.8,441.6 527.8,442.0 527.9,442.5 527.9,443.1 528.0,443.7 528.0,444.2 528.1,444.7 528.2,445.1 528.3,445.6 528.3,446.1 528.5,446.6 528.9,446.6 529.1,446.2 529.2,445.7 529.3,445.2 529.4,444.7 529.5,444.3 529.7,443.8 529.8,443.4 530.3,444.3 530.5,445.5 530.6,446.7 530.8,448.0 530.9,449.2 531.1,450.1 531.2,450.7 531.4,451.3 531.5,451.9 531.7,452.5 531.8,453.0 532.0,453.6 532.1,454.0 532.4,454.7 532.9,454.9 533.0,454.4 533.2,453.5 533.3,452.4 533.5,451.3 533.6,450.3 533.8,449.5 533.9,449.0 534.4,449.8 534.5,450.5 534.7,451.2 534.8,452.0 535.0,452.8 535.1,453.5 535.3,454.2 535.4,454.9 535.6,455.7 535.7,456.6 535.9,457.4 536.0,458.2 536.2,459.0 536.3,459.7 536.5,460.3 536.6,460.7 537.1,460.8 537.2,460.3 537.4,459.6 537.5,458.7 537.7,457.7 537.8,456.6 538.0,455.3 538.1,454.0 538.3,452.7 538.4,451.4 538.6,450.1 538.7,448.9 538.9,447.8 539.0,446.7 539.2,445.4 539.3,444.0 539.5,442.6 539.6,441.2 539.8,439.8 539.9,438.6 540.1,437.5 540.2,436.6 540.4,436.0 540.8,436.5 541.0,437.7 541.1,439.2 541.3,440.8 541.4,442.3 541.6,443.4 541.7,444.0 542.2,443.6 542.5,442.9 542.8,442.2 543.1,441.7 543.5,442.5 543.7,443.2 543.8,444.0 544.0,445.0 544.1,446.0 544.3,447.1 544.4,448.0 544.6,448.9 544.7,449.6 544.9,450.1 545.2,450.7 545.5,451.4 545.8,451.9 546.1,452.3 546.5,452.6 547.0,452.1 547.1,451.6 547.3,451.1 547.4,450.6 547.6,450.0 547.7,449.4 547.9,448.9 548.0,448.4 548.3,447.8 548.8,448.2 548.9,448.9 549.1,449.7 549.2,450.7 549.4,451.8 549.5,453.0 549.7,454.2 549.8,455.4 550.0,456.6 550.1,457.7 550.3,458.7 550.4,459.5 550.6,460.2 550.7,460.9 550.9,461.7 551.0,462.4 551.2,463.1 551.3,463.8 551.5,464.4 551.6,464.9 551.8,465.3 552.1,465.9 552.5,465.0 552.7,464.1 552.8,462.9 553.0,461.6 553.1,460.1 553.3,458.6 553.4,456.9 553.6,454.2 553.7,450.3 553.9,445.9 554.0,441.3 554.2,437.0 554.3,433.5 554.5,431.3 554.6,430.8 554.9,431.5 555.1,432.1 555.2,432.8 555.4,433.4 555.5,434.0 555.8,434.4 556.1,433.9 556.4,433.1 556.6,432.6 556.9,432.1 557.2,432.5 557.3,433.3 557.5,434.5 557.6,435.9 557.8,437.4 557.9,438.7 558.1,439.9 558.2,440.7 558.4,441.4 558.5,442.0 558.7,442.7 558.8,443.2 559.0,443.8 559.1,444.2" fill="none" stroke="#74d058" stroke-width="1.05" stroke-linejoin="round"/>
<line x1="19.6" y1="288.9" x2="90.4" y2="288.9" stroke="#999" stroke-width="0.7" />
<line x1="49.3" y1="288.9" x2="90.4" y2="288.9" stroke="#a0a0d4" stroke-width="0.7" />
<line x1="49.3" y1="240" x2="49.3" y2="333" stroke="#999" stroke-width="0.7" />
<path d="M20.59 289.2V288.6M23.2 289.2V288.6M25.81 289.2V288.6M28.42 289.2V288.6M31.03 289.2V288.6M33.64 289.2V288.6M36.25 289.2V288.6M38.86 289.2V288.6M41.47 289.2V288.6M44.08 289.2V288.6M46.69 289.2V288.6M49.3 289.2V288.6M51.91 289.2V288.6M54.52 289.2V288.6M57.13 289.2V288.6M59.74 289.2V288.6M62.35 289.2V288.6M64.96 289.2V288.6M67.57 289.2V288.6M70.18 289.2V288.6M72.79 289.2V288.6M75.4 289.2V288.6M78.01 289.2V288.6M80.62 289.2V288.6M83.23 289.2V288.6M85.84 289.2V288.6M88.45 289.2V288.6M49 330.66H49.6M49 328.05H49.6M49 325.44H49.6M49 322.83H49.6M49 320.22H49.6M49 317.61H49.6M49 315H49.6M49 312.39H49.6M49 309.78H49.6M49 307.17H49.6M49 304.56H49.6M49 301.95H49.6M49 299.34H49.6M49 296.73H49.6M49 294.12H49.6M49 291.51H49.6M49 288.9H49.6M49 286.29H49.6M49 283.68H49.6M49 281.07H49.6M49 278.46H49.6M49 275.85H49.6M49 273.24H49.6M49 270.63H49.6M49 268.02H49.6M49 265.41H49.6M49 262.8H49.6M49 260.19H49.6M49 257.58H49.6M49 254.97H49.6M49 252.36H49.6M49 249.75H49.6M49 247.14H49.6M49 244.53H49.6M49 241.92H49.6M23.2 288.9V287.9M36.25 288.9V287.9M62.35 288.9V287.9M75.4 288.9V287.9M88.45 288.9V287.9M49.3 328.05H50.3M49.3 315H50.3M49.3 301.95H50.3M49.3 275.85H50.3M49.3 262.8H50.3M49.3 249.75H50.3" stroke="#444" stroke-width="0.6" fill="none"/>
<text x="23.2" y="294.2" font-size="5" text-anchor="middle" fill="#111" font-weight="normal" stroke="#111" stroke-width="0.11" >&#8722;20</text>
<text x="36.25" y="294.2" font-size="5" text-anchor="middle" fill="#111" font-weight="normal" stroke="#111" stroke-width="0.11" >&#8722;10</text>
<text x="62.35" y="294.2" font-size="5" text-anchor="middle" fill="#111" font-weight="normal" stroke="#111" stroke-width="0.11" >10</text>
<text x="75.4" y="294.2" font-size="5" text-anchor="middle" fill="#111" font-weight="normal" stroke="#111" stroke-width="0.11" >20</text>
<text x="88.45" y="294.2" font-size="5" text-anchor="middle" fill="#111" font-weight="normal" stroke="#111" stroke-width="0.11" >30</text>
<text x="47.6" y="329.7" font-size="5" text-anchor="end" fill="#111" font-weight="normal" stroke="#111" stroke-width="0.11" >&#8722;30</text>
<text x="47.6" y="316.65" font-size="5" text-anchor="end" fill="#111" font-weight="normal" stroke="#111" stroke-width="0.11" >&#8722;20</text>
<text x="47.6" y="303.6" font-size="5" text-anchor="end" fill="#111" font-weight="normal" stroke="#111" stroke-width="0.11" >&#8722;10</text>
<text x="47.6" y="277.5" font-size="5" text-anchor="end" fill="#111" font-weight="normal" stroke="#111" stroke-width="0.11" >10</text>
<text x="47.6" y="264.45" font-size="5" text-anchor="end" fill="#111" font-weight="normal" stroke="#111" stroke-width="0.11" >20</text>
<text x="47.6" y="251.4" font-size="5" text-anchor="end" fill="#111" font-weight="normal" stroke="#111" stroke-width="0.11" >30</text>
<text x="49.3" y="236.9" font-size="5" text-anchor="middle" fill="#111" font-weight="normal" stroke="#111" stroke-width="0.11" >y1(t)</text>
<text x="94.1" y="290.55" font-size="4.8" text-anchor="start" fill="#111" font-weight="normal" stroke="#111" stroke-width="0.11" >x1(t)</text>
<defs><g id="b1" fill="none" stroke-width="0.55" stroke-linejoin="round"><path d="M-0.0,-1.3 0.5,-1.7 0.9,-2.2 1.3,-2.7 1.6,-3.1M27.7,-2.2 26.8,-0.6M-19.3,-2.2 -18.6,-3.6M17.3,-3.0 16.7,-2.0 16.2,-1.0M-10.5,-1.8 -10.1,-2.4 -9.6,-3.0M10.0,-2.9 9.5,-2.1 8.9,-1.3 8.7,-0.9M-3.3,-1.2 -2.9,-1.7 -2.4,-2.1 -1.9,-2.6 -1.4,-3.0 -1.3,-3.1M5.1,-3.0 4.6,-2.6 4.1,-2.2 3.6,-1.8 3.0,-1.5 2.7,-1.2M-14.0,-1.7 -13.5,-2.4 -12.9,-3.1M12.9,-3.0 12.5,-2.5 12.2,-2.0 11.8,-1.5 11.4,-1.0M-5.2,-1.4 -4.7,-1.9 -4.3,-2.3 -3.8,-2.8 -3.3,-3.2M5.1,-3.0 4.6,-2.6 4.1,-2.2 3.7,-1.8 3.2,-1.4 2.9,-1.2M-12.4,-1.5 -11.9,-2.1 -11.4,-2.6 -10.9,-3.2M11.3,-2.8 10.7,-2.0 10.1,-1.2 9.8,-0.8M-3.6,-1.2 -3.1,-1.7 -2.6,-2.1 -2.1,-2.5 -1.6,-2.9 -1.5,-3.1M4.1,-3.0 3.5,-2.7 2.9,-2.6 2.8,-3.0M14.9,-2.9 14.5,-2.4 14.1,-1.8 13.6,-1.2 13.2,-0.7M-7.2,-1.2 -6.6,-1.8 -6.0,-2.4 -5.4,-3.0M6.8,-2.9 6.3,-2.3 5.7,-1.8 5.2,-1.2 5.0,-1.1M-3.1,-1.3 -2.5,-1.8 -1.9,-2.3 -1.3,-2.8 -0.9,-3.1M7.6,-2.9 7.1,-2.4 6.6,-1.9 6.1,-1.4 5.8,-1.1M-3.0,-1.3 -2.4,-1.8 -1.8,-2.3 -1.2,-2.8 -0.8,-3.1M7.8,-3.0 7.3,-2.5 6.8,-2.0 6.3,-1.5 6.0,-1.1M-2.7,-1.3 -2.1,-1.8 -1.6,-2.2 -1.1,-2.6 -0.6,-3.0M8.3,-2.9 7.8,-2.3 7.2,-1.8 6.6,-1.2 6.4,-1.0M-1.6,-1.2 -1.1,-1.6 -0.7,-2.0 -0.1,-2.4 0.4,-2.8 0.7,-3.0M10.8,-3.0 10.2,-2.4 9.7,-1.8 9.1,-1.1M-2.4,-1.2 -1.9,-1.7 -1.4,-2.1 -0.9,-2.5 -0.5,-2.9 -0.2,-3.0M8.4,-3.0 7.8,-2.4 7.3,-1.8 6.7,-1.2 6.5,-1.0M-1.5,-1.2 -1.0,-1.6 -0.5,-2.0 0.0,-2.5 0.5,-2.9 0.8,-3.1M10.9,-3.0 10.4,-2.3 9.8,-1.7 9.2,-1.0M-2.6,-1.3 -2.0,-1.7 -1.5,-2.2 -1.0,-2.6 -0.5,-3.0 -0.4,-3.1M8.0,-3.0 7.4,-2.5 6.9,-2.0 6.4,-1.5 6.1,-1.1M-2.5,-1.2 -2.0,-1.7 -1.5,-2.1 -1.0,-2.5 -0.5,-2.8 -0.2,-3.1M8.8,-2.9 8.4,-2.5 8.0,-2.0 7.6,-1.6 7.1,-1.2M-1.1,-1.2 -0.6,-1.6 -0.1,-2.0 0.4,-2.4 0.9,-2.8 1.2,-3.0M12.1,-3.0 11.4,-2.3 10.8,-1.5 10.5,-1.1" stroke="#27c1ba"/><path d="M1.6,-3.1 2.0,-3.7 2.3,-4.2 2.7,-4.8 2.8,-4.9M28.6,-3.8 27.7,-2.2M-18.6,-3.6 -17.8,-4.9 -17.0,-6.2M17.7,-4.0 17.3,-3.0M-9.6,-3.0 -9.2,-3.7 -8.7,-4.3 -8.3,-4.9M10.9,-4.6 10.5,-3.8 10.0,-2.9M-1.3,-3.1 -0.8,-3.5 -0.2,-4.0 0.4,-4.5 0.9,-4.9M7.1,-4.8 6.7,-4.4 6.2,-3.9 5.7,-3.5 5.2,-3.1 5.1,-3.0M-12.9,-3.1 -12.3,-3.7 -11.8,-4.4 -11.2,-5.1M13.9,-4.6 13.5,-4.0 13.2,-3.5 12.9,-3.0M-3.3,-3.2 -2.9,-3.6 -2.4,-4.1 -2.0,-4.5 -1.3,-5.0M7.0,-4.8 6.6,-4.4 6.1,-3.9 5.6,-3.5 5.2,-3.1 5.1,-3.0M-10.9,-3.2 -10.4,-3.8 -9.9,-4.3 -9.4,-4.9 -8.9,-5.4M12.7,-4.9 12.2,-4.0 11.6,-3.2 11.3,-2.8M-1.5,-3.1 -1.0,-3.5 -0.5,-3.9 0.1,-4.3 0.7,-4.8 0.8,-4.9M6.6,-4.8 6.1,-4.4 5.6,-4.0 5.1,-3.7 4.6,-3.3 4.1,-3.0M2.8,-3.0 3.1,-3.6 3.4,-4.2 3.7,-4.7 3.8,-4.9M16.2,-4.6 15.7,-4.1 15.3,-3.5 14.9,-2.9M-5.4,-3.0 -4.8,-3.6 -4.2,-4.2 -3.6,-4.8 -3.3,-5.0M8.4,-4.7 8.0,-4.3 7.6,-3.8 7.2,-3.4 6.8,-2.9M-0.9,-3.1 -0.3,-3.6 0.2,-4.0 0.7,-4.4 1.2,-4.8 1.4,-4.9M9.4,-4.8 8.9,-4.3 8.4,-3.8 8.0,-3.3 7.6,-2.9M-0.8,-3.1 -0.3,-3.5 0.3,-3.9 0.8,-4.3 1.3,-4.7 1.5,-4.9M9.5,-4.8 9.0,-4.2 8.5,-3.7 8.0,-3.2 7.8,-3.0M-0.6,-3.0 -0.1,-3.4 0.4,-3.8 1.0,-4.3 1.6,-4.7 1.8,-4.9M10.0,-4.8 9.4,-4.2 8.9,-3.5 8.3,-2.9M0.7,-3.0 1.2,-3.4 1.6,-3.8 2.1,-4.2 2.6,-4.7 2.8,-4.9M12.1,-4.6 11.6,-4.0 11.1,-3.3 10.8,-3.0M-0.2,-3.0 0.3,-3.5 0.9,-3.9 1.4,-4.3 1.9,-4.8 2.1,-4.9M10.1,-4.9 9.5,-4.2 9.0,-3.6 8.4,-3.0M0.8,-3.1 1.2,-3.5 1.8,-3.9 2.3,-4.4 2.8,-4.8 2.9,-4.9M12.3,-4.7 11.8,-4.0 11.2,-3.3 10.9,-3.0M-0.4,-3.1 0.1,-3.5 0.7,-3.9 1.2,-4.4 1.8,-4.8 1.9,-4.9M9.5,-4.7 9.0,-4.1 8.5,-3.6 8.0,-3.0M-0.2,-3.1 0.4,-3.6 0.9,-4.0 1.5,-4.4 2.0,-4.8 2.1,-4.9M10.4,-4.7 10.0,-4.3 9.6,-3.8 9.2,-3.4 8.8,-2.9M1.2,-3.0 1.7,-3.5 2.2,-3.9 2.7,-4.4 3.2,-4.9M13.3,-4.6 12.7,-3.8 12.1,-3.0" stroke="#29b9be"/><path d="M2.8,-4.9 3.2,-5.5 3.5,-6.1 3.9,-6.7 4.0,-6.8M29.4,-5.5 28.6,-3.8M-17.0,-6.2 -16.2,-7.5M18.7,-6.1 18.2,-5.1 17.7,-4.0M-8.3,-4.9 -7.8,-5.5 -7.4,-6.1 -6.9,-6.7 -6.4,-7.2M11.9,-6.7 11.5,-5.8 11.1,-5.0 10.9,-4.6M0.9,-4.9 1.5,-5.3 2.0,-5.7 2.5,-6.1 3.1,-6.5 3.6,-6.8M9.1,-6.7 8.6,-6.3 8.1,-5.8 7.6,-5.3 7.1,-4.8M-11.2,-5.1 -10.6,-5.7 -10.1,-6.3 -9.5,-7.0M15.1,-6.6 14.8,-6.1 14.5,-5.6 14.2,-5.1 13.9,-4.6M-1.3,-5.0 -0.6,-5.6 0.0,-6.1 0.6,-6.6 0.9,-6.8M8.7,-6.7 8.2,-6.2 7.8,-5.6 7.3,-5.2 7.0,-4.8M-8.9,-5.4 -8.4,-5.9 -7.9,-6.4 -7.4,-7.0M13.8,-6.5 13.3,-5.7 12.7,-4.9M0.8,-4.9 1.4,-5.4 1.9,-5.8 2.5,-6.2 3.0,-6.6 3.2,-6.7M8.5,-6.7 8.1,-6.2 7.6,-5.8 7.2,-5.4 6.7,-4.9 6.6,-4.8M3.8,-4.9 4.2,-5.4 4.6,-6.0 5.0,-6.6 5.1,-6.8M17.3,-6.4 16.9,-5.8 16.6,-5.2 16.2,-4.6M-3.3,-5.0 -2.8,-5.6 -2.2,-6.1 -1.6,-6.6 -1.3,-6.8M9.8,-6.6 9.4,-6.0 8.9,-5.3 8.5,-4.9 8.4,-4.7M1.4,-4.9 1.9,-5.3 2.3,-5.7 2.9,-6.1 3.5,-6.6 3.7,-6.8M11.0,-6.7 10.5,-6.1 10.1,-5.6 9.6,-5.0 9.4,-4.8M1.5,-4.9 2.0,-5.3 2.5,-5.8 3.1,-6.2 3.6,-6.7 3.7,-6.7M11.1,-6.7 10.6,-6.1 10.1,-5.5 9.7,-5.0 9.5,-4.8M1.8,-4.9 2.3,-5.3 2.8,-5.8 3.3,-6.2 3.8,-6.6 4.0,-6.8M11.6,-6.7 11.1,-6.1 10.5,-5.4 10.0,-4.8M2.8,-4.9 3.3,-5.3 3.8,-5.8 4.3,-6.3 4.7,-6.8M13.7,-6.6 13.2,-6.0 12.7,-5.3 12.1,-4.6M2.1,-4.9 2.6,-5.3 3.1,-5.7 3.6,-6.1 4.1,-6.6 4.3,-6.7M11.5,-6.6 11.0,-5.9 10.5,-5.3 10.1,-4.9M2.9,-4.9 3.4,-5.4 3.9,-5.9 4.4,-6.4 4.7,-6.7M13.9,-6.7 13.4,-6.0 12.8,-5.3 12.3,-4.7M1.9,-4.9 2.4,-5.3 2.9,-5.7 3.4,-6.1 3.9,-6.5 4.1,-6.7M11.1,-6.6 10.7,-6.0 10.2,-5.5 9.7,-4.9 9.5,-4.7M2.1,-4.9 2.6,-5.3 3.0,-5.7 3.5,-6.1 4.1,-6.6 4.2,-6.7M12.0,-6.6 11.6,-6.2 11.2,-5.7 10.8,-5.2 10.4,-4.7M3.2,-4.9 3.6,-5.3 4.0,-5.8 4.5,-6.3 4.8,-6.7M14.8,-6.6 14.2,-5.8 13.6,-5.0 13.3,-4.6" stroke="#2bacba"/><path d="M4.0,-6.8 4.4,-7.5 4.7,-8.1 5.1,-8.7M30.2,-7.1 29.4,-5.5M-16.2,-7.5 -15.3,-8.7M19.5,-8.2 19.1,-7.2 18.7,-6.1M-6.4,-7.2 -5.9,-7.8 -5.4,-8.3 -5.0,-8.9M12.6,-8.3 12.3,-7.5 11.9,-6.7M3.6,-6.8 4.1,-7.1 4.7,-7.5 5.3,-7.8 5.9,-8.2 6.5,-8.5 6.7,-8.6M10.6,-8.5 10.2,-8.0 9.7,-7.4 9.3,-7.0 9.1,-6.7M-9.5,-7.0 -8.9,-7.6 -8.3,-8.2 -7.8,-8.8M16.0,-8.2 15.4,-7.2 15.1,-6.6M0.9,-6.8 1.5,-7.2 2.1,-7.7 2.6,-8.1 3.2,-8.5 3.4,-8.6M10.0,-8.5 9.6,-8.0 9.2,-7.4 8.9,-6.9 8.7,-6.7M-7.4,-7.0 -6.9,-7.5 -6.4,-8.0 -5.9,-8.5 -5.4,-8.9M14.8,-8.2 14.3,-7.4 13.8,-6.5M3.2,-6.7 3.7,-7.1 4.3,-7.5 4.8,-7.9 5.4,-8.3 5.8,-8.6M10.2,-8.5 9.8,-8.0 9.3,-7.5 8.9,-7.0 8.5,-6.7M5.1,-6.8 5.4,-7.3 5.8,-7.8 6.2,-8.4 6.3,-8.6M18.5,-8.1 18.1,-7.5 17.7,-6.9 17.3,-6.4M-1.3,-6.8 -0.7,-7.3 -0.2,-7.8 0.4,-8.2 0.9,-8.6M11.1,-8.5 10.7,-7.9 10.3,-7.2 9.8,-6.6M3.7,-6.8 4.2,-7.2 4.7,-7.6 5.2,-8.0 5.7,-8.5 5.9,-8.6M12.4,-8.5 12.0,-8.0 11.6,-7.4 11.1,-6.9 11.0,-6.7M3.7,-6.7 4.3,-7.2 4.8,-7.6 5.3,-8.0 5.7,-8.4 5.9,-8.6M12.4,-8.4 12.0,-7.8 11.5,-7.3 11.1,-6.7M4.0,-6.8 4.5,-7.2 5.0,-7.6 5.4,-8.0 5.9,-8.4 6.1,-8.6M12.9,-8.4 12.4,-7.8 11.9,-7.1 11.6,-6.7M4.7,-6.8 5.2,-7.2 5.6,-7.7 6.1,-8.2 6.4,-8.6M14.8,-8.3 14.4,-7.6 13.9,-7.0 13.7,-6.6M4.3,-6.7 4.8,-7.2 5.3,-7.7 5.8,-8.1 6.3,-8.6M13.0,-8.6 12.5,-7.9 12.0,-7.2 11.5,-6.6M4.7,-6.7 5.2,-7.2 5.6,-7.7 6.0,-8.2 6.4,-8.6M15.1,-8.4 14.6,-7.7 14.1,-7.0 13.9,-6.7M4.1,-6.7 4.7,-7.2 5.2,-7.7 5.7,-8.1 6.2,-8.6M12.5,-8.4 12.1,-7.8 11.6,-7.2 11.1,-6.6M4.2,-6.7 4.8,-7.2 5.3,-7.7 5.8,-8.2 6.2,-8.6M13.2,-8.3 12.7,-7.6 12.3,-7.1 12.0,-6.6M4.8,-6.7 5.3,-7.2 5.7,-7.8 6.1,-8.3 6.4,-8.6M15.9,-8.2 15.4,-7.4 14.8,-6.6" stroke="#2d9eb6"/><path d="M5.1,-8.7 5.5,-9.3 5.9,-10.0 6.2,-10.4M31.8,-10.4 31.0,-8.7 30.2,-7.1M-15.3,-8.7 -14.5,-9.9 -13.6,-11.2M20.2,-10.3 19.9,-9.3 19.5,-8.2M-5.0,-8.9 -4.5,-9.4 -4.0,-9.9 -3.5,-10.4 -3.0,-10.8M13.2,-10.3 13.0,-9.5 12.7,-8.7 12.6,-8.3M6.7,-8.6 7.2,-8.8 7.8,-9.1 8.4,-9.3 9.0,-9.4 9.4,-9.9 9.7,-10.4 9.7,-10.4M12.0,-10.4 11.6,-9.9 11.3,-9.3 10.8,-8.8 10.6,-8.5M-7.8,-8.8 -7.2,-9.4 -6.6,-9.9 -6.0,-10.5M17.0,-10.3 16.5,-9.2 16.0,-8.2M3.4,-8.6 3.9,-9.0 4.5,-9.3 5.1,-9.7 5.7,-10.1 6.3,-10.4M10.8,-10.3 10.6,-9.7 10.3,-9.1 10.0,-8.5M-5.4,-8.9 -4.9,-9.4 -4.4,-9.9 -3.9,-10.3 -3.4,-10.8M15.8,-10.3 15.4,-9.4 15.0,-8.6 14.8,-8.2M5.8,-8.6 6.3,-9.0 6.9,-9.4 7.4,-9.8 8.0,-10.2 8.3,-10.4M11.6,-10.4 11.2,-9.8 10.8,-9.3 10.4,-8.8 10.2,-8.5M6.3,-8.6 6.7,-9.2 7.1,-9.7 7.5,-10.3 7.6,-10.4M19.5,-9.8 19.2,-9.3 18.8,-8.7 18.5,-8.1M0.9,-8.6 1.4,-9.0 2.0,-9.4 2.5,-9.8 3.0,-10.1 3.5,-10.5M12.1,-10.4 11.8,-9.8 11.5,-9.2 11.2,-8.6 11.1,-8.5M5.9,-8.6 6.4,-9.1 6.8,-9.5 7.3,-9.9 7.8,-10.3 7.8,-10.4M13.7,-10.4 13.3,-9.8 12.9,-9.3 12.6,-8.7 12.4,-8.5M5.9,-8.6 6.4,-9.0 6.8,-9.5 7.3,-9.9 7.8,-10.3 7.9,-10.5M13.7,-10.3 13.3,-9.7 13.0,-9.2 12.6,-8.6 12.4,-8.4M6.1,-8.6 6.6,-9.1 7.0,-9.5 7.4,-9.9 7.9,-10.4 8.0,-10.5M14.2,-10.4 13.8,-9.7 13.3,-9.1 12.9,-8.4M6.4,-8.6 6.8,-9.1 7.2,-9.5 7.6,-10.1 7.9,-10.5M16.1,-10.3 15.7,-9.7 15.3,-9.0 14.8,-8.3M6.3,-8.6 6.8,-9.1 7.2,-9.6 7.7,-10.1 8.1,-10.5M14.2,-10.3 13.8,-9.6 13.3,-9.0 13.0,-8.6M6.4,-8.6 6.7,-9.1 7.2,-9.5 7.6,-10.1 7.9,-10.5M16.2,-10.1 15.7,-9.5 15.3,-8.8 15.1,-8.4M6.2,-8.6 6.7,-9.1 7.2,-9.5 7.7,-10.0 8.1,-10.4M13.8,-10.3 13.5,-9.8 13.1,-9.2 12.6,-8.6 12.5,-8.4M6.2,-8.6 6.7,-9.1 7.1,-9.6 7.6,-10.0 8.0,-10.5M14.5,-10.2 14.1,-9.5 13.6,-8.8 13.2,-8.3M6.4,-8.6 6.8,-9.1 7.2,-9.6 7.6,-10.2 7.8,-10.4M17.2,-10.2 16.7,-9.4 16.2,-8.6 15.9,-8.2" stroke="#2f91b1"/><path d="M6.2,-10.4 6.6,-11.2 7.0,-11.7 7.3,-12.3M32.5,-12.0 31.8,-10.4M-13.6,-11.2 -12.7,-12.3M20.6,-11.3 20.2,-10.3M-3.0,-10.8 -2.5,-11.3 -2.1,-11.7 -1.6,-12.2 -1.1,-12.6M13.6,-12.1 13.5,-11.4 13.3,-10.7 13.2,-10.3M9.7,-10.4 10.1,-10.9 10.5,-11.4 10.9,-11.9 11.3,-12.3M13.1,-12.2 12.8,-11.7 12.5,-11.1 12.1,-10.5 12.0,-10.4M-6.0,-10.5 -5.4,-11.1 -4.9,-11.6 -4.3,-12.1 -3.7,-12.6M17.6,-11.8 17.2,-10.8 17.0,-10.3M6.3,-10.4 6.9,-10.7 7.5,-11.0 8.1,-11.3 8.7,-11.5 9.4,-11.7 10.0,-11.8 10.6,-11.6 10.9,-11.1 10.9,-10.5 10.8,-10.3M-3.4,-10.8 -2.9,-11.2 -2.4,-11.6 -1.9,-12.1 -1.4,-12.5M16.5,-11.9 16.2,-11.1 15.8,-10.3M8.3,-10.4 8.8,-10.8 9.4,-11.2 9.9,-11.5 10.4,-11.9 10.9,-12.2 10.9,-12.3M12.5,-12.2 12.3,-11.6 12.0,-11.0 11.6,-10.5 11.6,-10.4M7.6,-10.4 8.0,-11.0 8.4,-11.6 8.9,-12.3M20.8,-12.1 20.5,-11.6 20.2,-11.0 19.8,-10.4 19.5,-9.8M3.5,-10.5 4.2,-11.0 4.9,-11.4 5.6,-11.8 6.2,-12.2 6.4,-12.3M12.6,-12.2 12.5,-11.6 12.3,-10.9 12.1,-10.4M7.8,-10.4 8.3,-10.9 8.7,-11.3 9.2,-11.7 9.6,-12.2 9.7,-12.3M14.7,-12.1 14.3,-11.4 14.0,-10.9 13.7,-10.4M7.9,-10.5 8.4,-10.9 8.8,-11.4 9.3,-11.8 9.7,-12.2 9.8,-12.3M14.9,-12.2 14.5,-11.6 14.2,-11.0 13.8,-10.5 13.7,-10.3M8.0,-10.5 8.4,-10.9 8.8,-11.4 9.3,-11.8 9.7,-12.3M15.3,-12.2 15.0,-11.6 14.6,-11.0 14.2,-10.4M7.9,-10.5 8.4,-11.0 8.9,-11.6 9.3,-12.1 9.5,-12.3M17.1,-11.9 16.7,-11.3 16.3,-10.6 16.1,-10.3M8.1,-10.5 8.6,-10.9 9.0,-11.4 9.4,-11.8 9.8,-12.3M15.3,-12.1 15.0,-11.5 14.6,-10.9 14.2,-10.3M7.9,-10.5 8.4,-11.1 8.8,-11.5 9.2,-12.0 9.4,-12.3M17.4,-12.1 17.0,-11.5 16.6,-10.8 16.2,-10.1M8.1,-10.4 8.6,-10.9 9.1,-11.5 9.5,-11.9 9.9,-12.3M14.9,-12.2 14.6,-11.6 14.3,-11.1 14.0,-10.5 13.8,-10.3M8.0,-10.5 8.4,-10.9 8.9,-11.4 9.3,-11.9 9.7,-12.3M15.6,-12.1 15.2,-11.4 14.8,-10.7 14.5,-10.2M7.8,-10.4 8.2,-10.9 8.6,-11.4 9.0,-12.0 9.3,-12.4M18.3,-12.2 17.9,-11.4 17.4,-10.6 17.2,-10.2" stroke="#2f7ea6"/><path d="M7.3,-12.3 7.7,-12.9 8.0,-13.5 8.4,-14.1M33.2,-13.7 32.5,-12.0M-12.7,-12.3 -11.9,-13.5 -11.0,-14.6M21.2,-13.4 20.9,-12.4 20.6,-11.3M-1.1,-12.6 -0.6,-13.0 -0.1,-13.4 0.3,-13.8 0.8,-14.1M13.7,-13.8 13.7,-13.2 13.7,-12.5 13.6,-12.1M11.3,-12.3 11.7,-12.7 12.2,-13.2 12.6,-13.5 13.2,-13.8 13.5,-13.3 13.3,-12.7 13.1,-12.2M-3.7,-12.6 -3.1,-13.2 -2.6,-13.7 -2.0,-14.1M18.4,-13.8 18.0,-12.8 17.6,-11.8M-1.4,-12.5 -1.0,-12.9 -0.5,-13.3 0.0,-13.7 0.5,-14.0 1.0,-14.4M17.2,-13.8 17.0,-13.0 16.7,-12.3 16.5,-11.9M10.9,-12.3 11.4,-12.6 12.0,-12.8 12.5,-12.5 12.5,-12.2M8.9,-12.3 9.3,-12.8 9.6,-13.4 10.0,-13.9 10.3,-14.3M21.7,-13.8 21.4,-13.3 21.1,-12.7 20.8,-12.1M6.4,-12.3 7.0,-12.6 7.6,-12.9 8.1,-13.2 8.8,-13.5 9.5,-13.7 10.2,-13.9 10.8,-14.0 11.4,-14.0 12.0,-13.9 12.5,-13.4 12.6,-12.7 12.6,-12.2M9.7,-12.3 10.2,-12.7 10.6,-13.1 11.1,-13.6 11.5,-14.0 11.7,-14.2M15.7,-14.1 15.4,-13.5 15.1,-12.9 14.8,-12.3 14.7,-12.1M9.8,-12.3 10.2,-12.8 10.7,-13.2 11.1,-13.7 11.6,-14.1M15.7,-14.0 15.5,-13.4 15.2,-12.7 14.9,-12.2M9.7,-12.3 10.2,-12.8 10.6,-13.3 11.1,-13.8 11.5,-14.2M16.2,-14.0 15.9,-13.3 15.6,-12.8 15.3,-12.2M9.5,-12.3 9.9,-12.8 10.3,-13.4 10.7,-13.9 11.0,-14.2M18.1,-13.8 17.8,-13.2 17.5,-12.6 17.1,-11.9M9.8,-12.3 10.3,-12.8 10.7,-13.3 11.2,-13.8 11.5,-14.2M16.3,-14.0 15.9,-13.3 15.6,-12.7 15.3,-12.1M9.4,-12.3 9.8,-12.8 10.2,-13.3 10.6,-13.8 11.0,-14.2M18.4,-14.1 18.1,-13.4 17.7,-12.8 17.4,-12.1M9.9,-12.3 10.3,-12.8 10.8,-13.2 11.2,-13.7 11.6,-14.1M15.8,-14.0 15.6,-13.3 15.2,-12.7 14.9,-12.2M9.7,-12.3 10.1,-12.8 10.6,-13.3 11.1,-13.9 11.4,-14.2M16.6,-13.9 16.3,-13.3 16.0,-12.7 15.6,-12.1M9.3,-12.4 9.7,-12.9 10.2,-13.5 10.7,-14.1M19.1,-13.7 18.7,-13.0 18.3,-12.2" stroke="#2d6998"/><path d="M8.4,-14.1 8.8,-14.8 9.3,-15.5 9.7,-16.2M33.9,-15.3 33.2,-13.7M-11.0,-14.6 -10.1,-15.7 -9.2,-16.8M21.7,-15.4 21.4,-14.4 21.2,-13.4M0.8,-14.1 1.7,-14.8 2.6,-15.4 3.5,-16.0M13.4,-15.8 13.6,-15.0 13.7,-14.1 13.7,-13.8M-2.0,-14.1 -1.4,-14.6 -0.9,-15.1 -0.3,-15.5 0.2,-16.0M18.9,-15.6 18.7,-14.7 18.4,-13.8M1.0,-14.4 1.9,-15.1 2.8,-15.8 3.3,-16.1M17.8,-15.9 17.7,-15.2 17.5,-14.5 17.2,-13.8M10.3,-14.3 10.7,-14.9 11.2,-15.5 11.6,-16.1M22.4,-15.5 21.9,-14.4 21.7,-13.8M11.7,-14.2 12.1,-14.6 12.6,-15.1 13.1,-15.5 13.6,-15.9 13.7,-16.0M16.2,-15.9 16.1,-15.2 15.9,-14.6 15.7,-14.1M11.6,-14.1 12.0,-14.5 12.5,-15.0 13.0,-15.4 13.5,-15.9 13.7,-16.0M16.4,-15.9 16.2,-15.3 16.0,-14.7 15.7,-14.0M11.5,-14.2 12.0,-14.6 12.4,-15.1 12.9,-15.6 13.4,-16.0M16.9,-15.8 16.7,-15.1 16.4,-14.5 16.2,-14.0M11.0,-14.2 11.4,-14.7 11.9,-15.3 12.4,-15.8 12.5,-16.0M19.0,-15.8 18.7,-15.0 18.4,-14.4 18.1,-13.8M11.5,-14.2 12.0,-14.6 12.5,-15.1 12.9,-15.6 13.4,-16.0M17.0,-15.8 16.7,-15.1 16.5,-14.5 16.3,-14.0M11.0,-14.2 11.4,-14.8 11.9,-15.4 12.4,-15.9 12.5,-16.1M19.2,-15.8 18.9,-15.3 18.7,-14.7 18.4,-14.1M11.6,-14.1 12.1,-14.5 12.5,-15.0 13.0,-15.5 13.5,-15.9 13.6,-16.0M16.5,-15.9 16.3,-15.2 16.1,-14.5 15.8,-14.0M11.4,-14.2 11.9,-14.7 12.4,-15.2 12.9,-15.7 13.1,-16.0M17.4,-15.9 17.2,-15.2 16.9,-14.5 16.6,-13.9M10.7,-14.1 11.2,-14.7 11.5,-15.2 11.9,-15.7 12.2,-16.0M20.1,-15.9 19.8,-15.2 19.5,-14.5 19.1,-13.7" stroke="#2a5589"/><path d="M9.7,-16.2 10.2,-17.0 10.7,-17.7 10.9,-18.1M34.5,-16.9 33.9,-15.3M-9.2,-16.8 -8.2,-17.8M22.0,-17.3 21.9,-16.4 21.7,-15.4M3.5,-16.0 4.4,-16.5 5.2,-16.9 6.0,-17.3 6.8,-17.6 7.5,-17.8M12.0,-17.7 12.6,-17.2 13.0,-16.7 13.4,-16.0 13.4,-15.8M0.2,-16.0 0.8,-16.4 1.3,-16.8 1.9,-17.3 2.4,-17.6 2.9,-18.0M19.4,-17.8 19.2,-16.9 19.0,-16.1 18.9,-15.6M3.3,-16.1 4.2,-16.8 5.0,-17.3 5.9,-17.9M18.0,-17.8 18.0,-16.9 17.9,-16.2 17.8,-15.9M11.6,-16.1 12.1,-16.7 12.6,-17.4 12.9,-17.8M23.3,-17.6 22.9,-16.5 22.4,-15.5M13.7,-16.0 14.2,-16.4 14.8,-16.8 15.4,-17.0 16.0,-17.0 16.3,-16.4 16.2,-15.9M13.7,-16.0 14.1,-16.4 14.7,-16.8 15.2,-17.1 15.8,-17.2 16.4,-16.9 16.4,-16.2 16.4,-15.9M13.4,-16.0 13.8,-16.4 14.4,-16.9 14.9,-17.3 15.4,-17.7 15.7,-17.8M17.0,-17.8 17.1,-17.1 17.1,-16.4 16.9,-15.8M12.5,-16.0 13.0,-16.5 13.5,-17.1 14.0,-17.6 14.2,-17.9M19.7,-17.6 19.4,-16.9 19.1,-16.1 19.0,-15.8M13.4,-16.0 13.8,-16.4 14.4,-16.9 14.9,-17.3 15.5,-17.7 15.6,-17.8M17.1,-17.8 17.2,-17.2 17.1,-16.5 17.0,-15.8M12.5,-16.1 13.0,-16.7 13.5,-17.2 14.1,-17.8M19.8,-17.7 19.6,-16.9 19.3,-16.1 19.2,-15.8M13.6,-16.0 14.1,-16.4 14.6,-16.8 15.2,-17.2 15.8,-17.4 16.4,-17.3 16.6,-16.7 16.5,-16.0 16.5,-15.9M13.1,-16.0 13.6,-16.4 14.1,-16.9 14.6,-17.3 15.0,-17.7 15.1,-17.8M17.8,-17.7 17.7,-17.0 17.5,-16.4 17.4,-15.9M12.2,-16.0 12.6,-16.5 13.0,-17.0 13.5,-17.5 13.7,-17.9M20.8,-17.6 20.5,-16.9 20.3,-16.3 20.1,-15.9" stroke="#28407b"/><path d="M10.9,-18.1 11.4,-19.0 12.0,-19.8M35.1,-18.5 34.5,-16.9M-8.2,-17.8 -7.3,-18.8 -6.4,-19.8M22.3,-19.2 22.2,-18.3 22.0,-17.3M7.5,-17.8 8.2,-18.0 8.9,-18.1 9.5,-18.2 10.4,-18.2 11.2,-18.1 11.8,-17.8 12.0,-17.7M2.9,-18.0 3.5,-18.4 4.0,-18.8 4.5,-19.1 5.0,-19.5 5.5,-19.8M19.5,-19.3 19.5,-18.5 19.4,-17.8M5.9,-17.9 6.7,-18.4 7.5,-18.9 8.3,-19.3 9.1,-19.7M17.9,-19.5 18.0,-18.8 18.1,-18.0 18.0,-17.8M12.9,-17.8 13.5,-18.5 14.0,-19.2 14.5,-19.9M24.0,-19.5 23.7,-18.6 23.3,-17.6M15.7,-17.8 16.3,-18.0 16.9,-17.8 17.0,-17.8M14.2,-17.9 14.8,-18.5 15.3,-19.0 15.8,-19.5 16.0,-19.7M20.1,-19.6 20.0,-18.9 19.9,-18.3 19.7,-17.6M15.6,-17.8 16.2,-18.1 16.8,-18.1 17.1,-17.8M14.1,-17.8 14.6,-18.4 15.1,-18.9 15.6,-19.4 15.9,-19.7M20.3,-19.6 20.2,-18.8 20.0,-18.1 19.8,-17.7M15.1,-17.8 15.7,-18.2 16.3,-18.6 16.9,-18.8 17.5,-18.7 17.8,-18.1 17.8,-17.7M13.7,-17.9 14.2,-18.4 14.6,-18.9 15.1,-19.3 15.4,-19.7M21.4,-19.6 21.2,-18.8 21.0,-18.2 20.8,-17.6" stroke="#313b80"/><path d="M12.0,-19.8 12.5,-20.7 13.1,-21.7M35.7,-20.1 35.1,-18.5M-6.4,-19.8 -5.5,-20.7 -4.6,-21.6M22.5,-21.0 22.4,-20.1 22.3,-19.2M5.5,-19.8 6.5,-20.4 7.5,-21.0 8.4,-21.5M19.3,-21.2 19.4,-20.6 19.5,-20.0 19.5,-19.3M9.1,-19.7 9.8,-20.1 10.5,-20.5 11.2,-20.7 11.8,-21.0 12.5,-21.2 13.1,-21.4 13.6,-21.5M16.2,-21.5 16.9,-21.1 17.4,-20.6 17.8,-19.9 17.9,-19.5M14.5,-19.9 15.1,-20.6 15.5,-21.0 15.9,-21.5M24.6,-21.3 24.3,-20.4 24.0,-19.5M16.0,-19.7 16.6,-20.1 17.1,-20.5 17.6,-21.0 18.2,-21.3 18.7,-21.5M19.7,-21.4 20.1,-20.9 20.2,-20.2 20.1,-19.6M15.9,-19.7 16.4,-20.1 16.9,-20.6 17.4,-21.0 18.0,-21.4 18.3,-21.5M20.1,-21.5 20.3,-20.8 20.4,-20.1 20.3,-19.6M15.4,-19.7 15.8,-20.1 16.3,-20.6 16.7,-21.0 17.2,-21.5 17.3,-21.6M21.7,-21.4 21.6,-20.8 21.5,-20.1 21.4,-19.6" stroke="#3c3a89"/><path d="M13.1,-21.7 13.7,-22.6 14.4,-23.6M36.7,-23.2 36.2,-21.7 35.7,-20.1M-4.6,-21.6 -3.7,-22.5 -2.7,-23.4M22.5,-22.7 22.5,-21.9 22.5,-21.0M8.4,-21.5 9.3,-22.0 10.2,-22.5 11.0,-22.8 11.8,-23.2 12.6,-23.5M18.2,-23.2 18.7,-22.7 19.1,-22.0 19.3,-21.2M13.6,-21.5 14.4,-21.6 15.1,-21.7 15.8,-21.6 16.2,-21.5M15.9,-21.5 16.3,-21.9 16.7,-22.4 17.1,-22.9 17.5,-23.3 17.7,-23.5M25.0,-23.3 24.9,-22.5 24.7,-21.7 24.6,-21.3M18.7,-21.5 19.3,-21.6 19.7,-21.4M18.3,-21.5 18.9,-21.8 19.5,-21.8 20.1,-21.5 20.1,-21.5M17.3,-21.6 17.9,-22.1 18.5,-22.5 19.0,-22.9 19.7,-23.2 19.9,-23.3M21.1,-23.3 21.5,-22.7 21.7,-22.1 21.7,-21.4" stroke="#473992"/><path d="M14.4,-23.6 14.7,-24.1 15.0,-24.6 15.4,-25.1 15.7,-25.7M37.2,-24.7 36.7,-23.2M-2.7,-23.4 -1.8,-24.2 -0.9,-24.9 -0.0,-25.7M22.4,-25.1 22.4,-24.3 22.5,-23.5 22.5,-22.7M12.6,-23.5 13.3,-23.7 14.1,-23.9 14.7,-24.0 15.3,-24.0 16.2,-24.0 17.0,-23.9 17.7,-23.6 18.2,-23.2M17.7,-23.5 18.3,-24.2 18.9,-24.8 19.3,-25.2M25.2,-24.9 25.2,-24.3 25.1,-23.6 25.0,-23.3M19.9,-23.3 20.6,-23.5 21.1,-23.3" stroke="#52389b"/><path d="M15.7,-25.7 16.1,-26.2 16.4,-26.8 16.8,-27.3M37.6,-26.2 37.2,-24.7M-0.0,-25.7 0.9,-26.4 1.8,-27.1M22.1,-26.5 22.3,-25.8 22.4,-25.1M19.3,-25.2 19.9,-25.7 20.5,-26.2 21.1,-26.7 21.7,-27.1M24.9,-26.9 25.1,-26.2 25.2,-25.4 25.2,-24.9" stroke="#6239a3"/><path d="M16.8,-27.3 17.2,-27.9 17.5,-28.4 17.9,-29.0M37.9,-27.7 37.6,-26.2M1.8,-27.1 2.6,-27.7 3.5,-28.3 4.4,-28.8 5.2,-29.4M21.5,-28.4 21.7,-27.8 21.9,-27.2 22.1,-26.5M21.7,-27.1 22.3,-27.4 23.0,-27.7 23.6,-27.8 24.2,-27.6 24.8,-27.2 24.9,-26.9" stroke="#773ba9"/><path d="M17.9,-29.0 18.3,-29.6 18.7,-30.1 19.1,-30.7M38.6,-30.5 38.3,-29.1 37.9,-27.7M5.2,-29.4 6.1,-29.9 6.9,-30.3 7.7,-30.7M20.3,-30.4 21.0,-29.5 21.5,-28.4" stroke="#8c3db0"/><path d="M19.1,-30.7 19.5,-31.3 19.9,-31.9 20.4,-32.5 20.8,-33.1M38.9,-31.8 38.6,-30.5M7.7,-30.7 8.5,-31.1 9.3,-31.4 10.1,-31.7 10.8,-32.0 11.5,-32.2 12.2,-32.4 12.9,-32.5 13.6,-32.6M17.2,-32.4 18.2,-32.1 19.2,-31.5 20.0,-30.8 20.3,-30.4" stroke="#a13fb6"/><path d="M20.8,-33.1 21.2,-33.7 21.7,-34.3 22.1,-34.9M39.3,-34.3 39.1,-33.1 38.9,-31.8M13.6,-32.6 14.3,-32.7 14.9,-32.7 15.5,-32.7 16.7,-32.6 17.2,-32.4" stroke="#ad42b7"/><path d="M22.1,-34.9 22.6,-35.5 23.0,-36.1 23.5,-36.7M39.4,-35.5 39.3,-34.3" stroke="#b446b5"/><path d="M23.5,-36.7 23.9,-37.3 24.4,-37.9 24.9,-38.5M39.6,-37.7 39.6,-36.6 39.4,-35.5" stroke="#bc4ab3"/><path d="M24.9,-38.5 25.4,-39.1 25.8,-39.7 26.3,-40.2M39.7,-39.7 39.7,-38.8 39.6,-37.7" stroke="#c34eb1"/><path d="M26.3,-40.2 26.8,-40.8 27.3,-41.4 27.8,-41.9M39.6,-41.5 39.7,-40.6 39.7,-39.7" stroke="#c952af"/><path d="M27.8,-41.9 28.3,-42.4 28.8,-42.9 29.3,-43.4 29.8,-43.9M39.4,-43.0 39.6,-42.3 39.6,-41.5" stroke="#cb57ad"/><path d="M29.8,-43.9 30.3,-44.3 30.8,-44.7 31.2,-45.1 31.7,-45.5M38.7,-45.4 39.1,-44.3 39.3,-43.7 39.4,-43.0" stroke="#cd5cab"/><path d="M31.7,-45.5 32.7,-46.2 33.6,-46.7 34.5,-47.1 35.4,-47.3 36.2,-47.3 36.9,-47.1 37.6,-46.8 38.2,-46.2 38.7,-45.4" stroke="#cf61a9"/><path d="M26.8,-0.6 25.8,1.0M-20.8,0.5 -20.1,-0.9 -19.3,-2.2M16.2,-1.0 15.7,0.1 15.1,1.1M-11.8,0.2 -11.4,-0.4 -10.9,-1.1 -10.5,-1.8M8.7,-0.9 8.1,-0.1 7.6,0.6 7.3,1.0M-5.1,0.6 -4.6,0.1 -4.1,-0.4 -3.7,-0.9 -3.3,-1.2M2.7,-1.2 2.1,-0.8 1.6,-0.5 1.1,-0.1 0.6,0.2 0.1,0.6 -0.0,0.7M-15.6,0.4 -15.1,-0.3 -14.6,-1.0 -14.0,-1.7M11.4,-1.0 11.1,-0.5 10.7,-0.0 10.3,0.5 9.9,0.9M-7.0,0.6 -6.5,0.1 -6.1,-0.4 -5.6,-0.9 -5.2,-1.4M2.9,-1.2 2.3,-0.8 1.8,-0.4 1.3,-0.0 0.8,0.3 0.3,0.7M-13.8,0.3 -13.4,-0.3 -12.9,-0.9 -12.4,-1.5M9.8,-0.8 9.1,-0.0 8.5,0.7M-5.5,0.6 -5.0,0.1 -4.5,-0.4 -4.0,-0.9 -3.6,-1.2M13.2,-0.7 12.8,-0.2 12.3,0.4 11.9,0.9M-8.6,0.4 -8.0,-0.2 -7.5,-0.9 -7.2,-1.2M5.0,-1.1 4.5,-0.6 3.9,-0.1 3.4,0.4 3.0,0.8M-5.3,0.7 -4.8,0.2 -4.3,-0.2 -3.8,-0.6 -3.4,-1.0 -3.1,-1.3M5.8,-1.1 5.3,-0.7 4.8,-0.2 4.4,0.2 3.9,0.6 3.7,0.8M-5.1,0.6 -4.6,0.2 -4.2,-0.3 -3.7,-0.7 -3.3,-1.1 -3.0,-1.3M6.0,-1.1 5.5,-0.7 5.0,-0.2 4.5,0.2 4.0,0.7M-4.8,0.6 -4.2,0.1 -3.7,-0.5 -3.1,-0.9 -2.7,-1.3M6.4,-1.0 5.9,-0.5 5.3,0.1 4.7,0.6 4.5,0.8M-3.8,0.6 -3.3,0.1 -2.7,-0.3 -2.2,-0.7 -1.7,-1.1 -1.6,-1.2M9.1,-1.1 8.6,-0.5 8.0,0.1 7.4,0.7 7.2,0.9M-4.6,0.6 -4.0,0.1 -3.5,-0.3 -2.9,-0.8 -2.4,-1.2M6.5,-1.0 5.9,-0.5 5.4,0.1 4.8,0.6 4.6,0.8M-3.8,0.6 -3.3,0.2 -2.7,-0.3 -2.2,-0.7 -1.7,-1.1 -1.5,-1.2M9.2,-1.0 8.7,-0.4 8.1,0.2 7.5,0.8M-4.7,0.6 -4.1,0.0 -3.5,-0.5 -3.0,-0.9 -2.6,-1.3M6.1,-1.1 5.5,-0.6 5.0,-0.2 4.5,0.3 4.0,0.8M-4.7,0.6 -4.1,0.1 -3.6,-0.3 -3.0,-0.8 -2.5,-1.2M7.1,-1.2 6.5,-0.6 5.9,0.1 5.3,0.6 5.1,0.8M-3.4,0.7 -2.9,0.3 -2.4,-0.2 -1.9,-0.6 -1.4,-1.0 -1.1,-1.2M10.5,-1.1 9.8,-0.4 9.1,0.4 8.8,0.7" stroke="#25c3ad"/><path d="M25.8,1.0 24.9,2.6M-21.5,1.9 -20.8,0.5M15.1,1.1 14.5,2.1 14.0,3.0M-12.9,2.3 -12.6,1.6 -12.2,0.9 -11.8,0.2M7.3,1.0 6.7,1.8 6.1,2.5 5.8,2.9M-6.6,2.4 -6.2,1.9 -5.7,1.3 -5.3,0.8 -5.1,0.6M-0.0,0.7 -0.5,1.1 -0.9,1.5 -1.3,2.0 -1.7,2.5 -1.7,2.5M-16.7,1.8 -16.2,1.1 -15.6,0.4M9.9,0.9 9.6,1.4 9.2,1.9 8.8,2.3 8.4,2.8M-8.5,2.4 -8.1,1.9 -7.7,1.4 -7.2,0.8 -7.0,0.6M0.3,0.7 -0.1,1.1 -0.6,1.5 -1.0,1.9 -1.5,2.3 -1.6,2.5M-15.2,2.1 -14.8,1.5 -14.3,0.9 -13.8,0.3M8.5,0.7 7.8,1.5 7.2,2.2 6.9,2.6M-7.2,2.4 -6.7,1.9 -6.2,1.3 -5.6,0.8 -5.5,0.6M11.9,0.9 11.4,1.4 11.0,2.0 10.5,2.5 10.1,3.0M-10.0,2.2 -9.5,1.5 -8.9,0.8 -8.6,0.4M3.0,0.8 2.5,1.2 2.0,1.7 1.5,2.1 1.0,2.5 0.9,2.6M-7.0,2.4 -6.6,1.9 -6.1,1.4 -5.6,1.0 -5.3,0.7M3.7,0.8 3.3,1.2 2.8,1.6 2.2,2.1 1.6,2.6M-7.0,2.4 -6.6,2.0 -6.1,1.5 -5.6,1.0 -5.1,0.6M4.0,0.7 3.5,1.1 3.0,1.5 2.5,1.9 2.1,2.3 1.8,2.6M-6.8,2.4 -6.3,2.0 -5.9,1.6 -5.4,1.1 -5.0,0.7 -4.8,0.6M4.5,0.8 4.0,1.3 3.4,1.7 2.9,2.2 2.6,2.5M-6.0,2.5 -5.5,2.0 -5.0,1.6 -4.5,1.2 -4.1,0.8 -3.8,0.6M7.2,0.9 6.6,1.5 6.0,2.1 5.5,2.6M-6.5,2.5 -6.0,1.9 -5.4,1.4 -4.8,0.9 -4.6,0.6M4.6,0.8 4.0,1.3 3.5,1.8 2.9,2.2 2.6,2.5M-5.9,2.5 -5.4,2.0 -4.9,1.6 -4.5,1.2 -3.9,0.7 -3.8,0.6M7.5,0.8 6.9,1.4 6.3,2.0 5.8,2.5M-6.6,2.4 -6.1,2.0 -5.7,1.5 -5.3,1.1 -4.7,0.6M4.0,0.8 3.5,1.2 3.0,1.6 2.5,2.0 2.1,2.4 1.9,2.6M-6.5,2.4 -6.1,2.0 -5.5,1.4 -4.9,0.9 -4.7,0.6M5.1,0.8 4.4,1.4 3.8,2.0 3.2,2.5 3.0,2.7M-5.5,2.4 -4.9,1.9 -4.4,1.5 -3.9,1.1 -3.4,0.7M8.8,0.7 8.1,1.4 7.5,2.1 6.8,2.8" stroke="#23c5a1"/><path d="M24.9,2.6 23.9,4.1 22.9,5.7M-22.2,3.3 -21.5,1.9M14.0,3.0 13.4,4.0 12.7,5.0M-13.7,3.7 -13.3,3.0 -12.9,2.3M5.8,2.9 5.2,3.6 4.6,4.2 4.3,4.6M-8.0,4.3 -7.6,3.8 -7.2,3.2 -6.8,2.6 -6.6,2.4M-1.7,2.5 -2.1,3.0 -2.4,3.5 -2.8,4.1 -3.0,4.4M-18.2,4.0 -17.7,3.3 -17.2,2.6 -16.7,1.8M8.4,2.8 7.6,3.7 6.8,4.6M-9.8,4.1 -9.4,3.5 -9.0,3.0 -8.5,2.4M-1.6,2.5 -2.0,3.0 -2.4,3.5 -2.8,4.0 -3.1,4.4M-16.6,4.0 -16.1,3.4 -15.7,2.7 -15.2,2.1M6.9,2.6 6.2,3.3 5.5,4.0 4.9,4.6M-8.6,4.2 -8.1,3.6 -7.7,3.0 -7.2,2.4M10.1,3.0 9.6,3.5 9.1,4.0 8.7,4.5M-11.6,4.3 -11.1,3.6 -10.6,2.9 -10.0,2.2M0.9,2.6 0.4,3.0 -0.2,3.4 -0.7,3.9 -1.3,4.3 -1.4,4.4M-8.8,4.2 -8.4,3.7 -7.9,3.2 -7.4,2.7 -7.0,2.4M1.6,2.6 1.0,3.0 0.5,3.5 -0.1,3.9 -0.6,4.4M-8.8,4.3 -8.3,3.8 -7.8,3.3 -7.4,2.8 -7.0,2.4M1.8,2.6 1.2,3.1 0.6,3.5 0.0,4.0 -0.5,4.4M-8.6,4.3 -8.2,3.8 -7.7,3.4 -7.3,2.9 -6.8,2.4M2.6,2.5 2.0,3.0 1.5,3.4 1.0,3.8 0.5,4.2 0.2,4.5M-7.8,4.3 -7.3,3.8 -6.8,3.3 -6.3,2.8 -6.0,2.5M5.5,2.6 4.9,3.1 4.3,3.7 3.8,4.2 3.5,4.4M-8.2,4.3 -7.8,3.8 -7.4,3.4 -6.9,2.9 -6.5,2.5M2.6,2.5 2.0,3.0 1.5,3.4 1.0,3.9 0.5,4.3 0.3,4.4M-7.8,4.3 -7.3,3.9 -6.8,3.4 -6.4,2.9 -5.9,2.5M5.8,2.5 5.2,3.1 4.6,3.6 4.0,4.1 3.7,4.4M-8.3,4.2 -7.9,3.8 -7.4,3.3 -7.0,2.8 -6.6,2.4M1.9,2.6 1.4,3.0 0.8,3.4 0.2,3.9 -0.3,4.4M-8.4,4.3 -8.0,3.8 -7.5,3.4 -7.1,2.9 -6.7,2.5 -6.5,2.4M3.0,2.7 2.4,3.2 1.9,3.7 1.3,4.1 0.9,4.5M-7.4,4.3 -7.0,3.8 -6.5,3.4 -6.0,2.9 -5.5,2.4M6.8,2.8 6.1,3.5 5.5,4.1 5.1,4.4" stroke="#21c794"/><path d="M22.9,5.7 21.9,7.2M-23.4,6.1 -22.8,4.7 -22.2,3.3M12.7,5.0 12.1,5.9 11.5,6.8M-14.7,5.7 -14.3,5.0 -14.0,4.4 -13.7,3.7M4.3,4.6 3.6,5.2 3.0,5.8 2.4,6.4M-9.1,6.1 -8.7,5.5 -8.4,4.9 -8.0,4.3M-3.0,4.4 -3.4,4.9 -3.8,5.5 -4.1,6.0 -4.3,6.3M-19.2,5.5 -18.7,4.8 -18.2,4.0M6.8,4.6 6.0,5.4 5.2,6.2M-11.1,6.0 -10.8,5.5 -10.4,4.9 -10.0,4.4 -9.8,4.1M-3.1,4.4 -3.5,4.9 -3.8,5.4 -4.2,6.0 -4.4,6.2M-17.9,5.9 -17.5,5.3 -17.0,4.6 -16.6,4.0M4.9,4.6 4.2,5.3 3.5,5.9 3.2,6.2M-10.1,6.1 -9.7,5.5 -9.2,4.9 -8.8,4.4 -8.6,4.2M8.7,4.5 8.2,5.0 7.8,5.5 7.3,5.9 6.8,6.4M-12.8,6.1 -12.4,5.4 -11.9,4.7 -11.6,4.3M-1.4,4.4 -1.9,4.8 -2.4,5.2 -2.9,5.5 -3.4,6.0 -3.8,6.3M-10.4,6.0 -10.0,5.5 -9.5,4.9 -9.0,4.4 -8.8,4.2M-0.6,4.4 -1.1,4.8 -1.6,5.2 -2.1,5.5 -2.6,5.9 -2.9,6.2M-10.4,6.0 -9.9,5.5 -9.4,5.0 -9.0,4.4 -8.8,4.3M-0.5,4.4 -1.1,4.8 -1.6,5.3 -2.1,5.7 -2.6,6.0 -2.8,6.2M-10.3,6.1 -9.8,5.6 -9.4,5.1 -8.9,4.6 -8.6,4.3M0.2,4.5 -0.3,4.9 -0.8,5.2 -1.4,5.7 -2.0,6.2 -2.1,6.3M-9.5,6.1 -9.0,5.6 -8.5,5.0 -8.0,4.5 -7.8,4.3M3.5,4.4 3.0,4.9 2.4,5.4 1.9,5.8 1.3,6.3M-9.8,6.1 -9.4,5.7 -9.0,5.2 -8.6,4.7 -8.2,4.3M0.3,4.4 -0.2,4.8 -0.6,5.2 -1.3,5.7 -1.9,6.1 -2.0,6.3M-9.5,6.1 -9.0,5.6 -8.5,5.1 -8.1,4.6 -7.8,4.3M3.7,4.4 3.2,4.9 2.6,5.4 2.1,5.9 1.5,6.3M-10.0,6.2 -9.6,5.7 -9.2,5.2 -8.7,4.7 -8.3,4.2M-0.3,4.4 -0.9,4.8 -1.4,5.3 -2.0,5.7 -2.5,6.1 -2.7,6.3M-10.1,6.2 -9.7,5.7 -9.3,5.2 -8.8,4.8 -8.4,4.3M0.9,4.5 0.3,4.9 -0.2,5.3 -0.7,5.8 -1.3,6.2 -1.4,6.3M-9.2,6.1 -8.7,5.6 -8.3,5.2 -7.9,4.7 -7.4,4.3M5.1,4.4 4.5,5.0 3.8,5.7 3.1,6.2" stroke="#24c984"/><path d="M21.9,7.2 20.9,8.7M-24.0,7.5 -23.4,6.1M11.5,6.8 10.8,7.7 10.2,8.6M-15.5,7.8 -15.2,7.1 -15.0,6.4 -14.7,5.7M2.4,6.4 1.8,7.0 1.2,7.5 0.6,8.0M-10.0,8.0 -9.6,7.2 -9.4,6.7 -9.1,6.1M-4.3,6.3 -4.7,6.8 -5.1,7.4 -5.5,8.0 -5.6,8.1M-20.6,7.8 -20.1,7.0 -19.7,6.3 -19.2,5.5M5.2,6.2 4.4,7.0 3.6,7.8 3.2,8.2M-12.3,8.0 -12.0,7.4 -11.6,6.9 -11.3,6.3 -11.1,6.0M-4.4,6.2 -4.8,6.8 -5.2,7.3 -5.6,7.9 -5.7,8.1M-19.1,7.8 -18.7,7.2 -18.3,6.5 -17.9,5.9M3.2,6.2 2.6,6.8 1.9,7.4 1.3,7.9 0.9,8.2M-11.2,7.9 -10.9,7.3 -10.5,6.7 -10.1,6.1M6.8,6.4 6.4,6.8 5.9,7.3 5.4,7.7 5.0,8.2M-14.0,7.9 -13.5,7.2 -13.1,6.5 -12.8,6.1M-3.8,6.3 -4.3,6.7 -4.8,7.1 -5.3,7.5 -5.7,8.0 -5.9,8.1M-11.9,7.9 -11.5,7.3 -11.0,6.8 -10.6,6.2 -10.4,6.0M-2.9,6.2 -3.5,6.6 -4.0,7.1 -4.6,7.5 -5.1,8.0 -5.2,8.0M-12.0,8.0 -11.5,7.5 -11.1,6.9 -10.7,6.4 -10.4,6.0M-2.8,6.2 -3.3,6.6 -3.9,7.1 -4.4,7.5 -5.0,8.0 -5.1,8.0M-11.8,8.0 -11.4,7.5 -11.0,7.0 -10.5,6.5 -10.3,6.1M-2.1,6.3 -2.7,6.7 -3.3,7.2 -3.8,7.6 -4.3,8.0 -4.5,8.1M-11.1,8.0 -10.6,7.5 -10.2,6.9 -9.7,6.4 -9.5,6.1M1.3,6.3 0.8,6.7 0.3,7.1 -0.2,7.6 -0.8,8.0 -1.0,8.2M-11.1,7.9 -10.7,7.3 -10.3,6.8 -9.9,6.3 -9.8,6.1M-2.0,6.3 -2.6,6.7 -3.2,7.2 -3.7,7.6 -4.3,8.0 -4.4,8.1M-11.0,8.0 -10.6,7.5 -10.2,7.0 -9.7,6.4 -9.5,6.1M1.5,6.3 1.0,6.8 0.4,7.2 -0.1,7.7 -0.6,8.1M-11.3,8.0 -11.0,7.5 -10.6,7.0 -10.2,6.5 -10.0,6.2M-2.7,6.3 -3.2,6.7 -3.7,7.0 -4.3,7.5 -4.8,8.0 -4.9,8.0M-11.6,8.0 -11.2,7.5 -10.8,7.0 -10.4,6.5 -10.1,6.2M-1.4,6.3 -1.9,6.7 -2.4,7.1 -2.9,7.5 -3.5,7.9 -3.7,8.0M-10.7,7.9 -10.3,7.5 -9.9,7.0 -9.5,6.5 -9.2,6.1M3.1,6.2 2.5,6.8 1.8,7.4 1.2,7.9 0.9,8.2" stroke="#29cb71"/><path d="M20.9,8.7 19.9,10.1M-24.6,8.9 -24.0,7.5M10.2,8.6 9.5,9.5 8.8,10.3M-16.0,9.2 -15.8,8.5 -15.5,7.8M0.6,8.0 -0.0,8.5 -0.6,9.0 -1.2,9.4 -1.8,9.8 -2.1,10.0M-10.5,9.8 -10.3,9.2 -10.1,8.5 -10.0,8.0M-5.6,8.1 -6.0,8.6 -6.3,9.2 -6.8,9.8 -6.9,10.0M-21.5,9.3 -21.0,8.5 -20.6,7.8M3.2,8.2 2.4,8.9 1.6,9.6 1.2,9.9M-13.1,9.7 -12.7,8.8 -12.4,8.3 -12.3,8.0M-5.7,8.1 -6.2,8.7 -6.5,9.2 -6.9,9.8 -7.0,9.9M-20.2,9.7 -19.9,9.1 -19.5,8.5 -19.1,7.8M0.9,8.2 0.3,8.7 -0.3,9.2 -0.9,9.7 -1.3,9.9M-12.2,9.8 -12.0,9.3 -11.7,8.7 -11.4,8.1 -11.2,7.9M5.0,8.2 4.5,8.6 4.1,9.0 3.6,9.4 3.2,9.8 2.7,10.2M-14.9,9.7 -14.6,9.0 -14.2,8.3 -14.0,7.9M-5.9,8.1 -6.3,8.5 -6.8,9.0 -7.3,9.4 -7.7,9.8 -7.8,9.9M-13.2,9.7 -12.8,9.2 -12.4,8.6 -12.0,8.1 -11.9,7.9M-5.2,8.0 -5.7,8.5 -6.2,8.9 -6.6,9.3 -7.1,9.7 -7.3,9.9M-13.2,9.8 -12.9,9.3 -12.5,8.8 -12.1,8.2 -12.0,8.0M-5.1,8.0 -5.6,8.5 -6.1,8.9 -6.6,9.3 -7.0,9.8 -7.2,9.9M-13.0,9.7 -12.6,9.2 -12.3,8.7 -11.9,8.2 -11.8,8.0M-4.5,8.1 -5.0,8.5 -5.4,8.9 -6.0,9.3 -6.6,9.8 -6.8,9.9M-12.4,9.8 -12.0,9.2 -11.6,8.7 -11.2,8.2 -11.1,8.0M-1.0,8.2 -1.5,8.5 -2.0,8.9 -2.5,9.3 -3.2,9.8 -3.4,10.0M-12.4,9.8 -12.0,9.2 -11.6,8.5 -11.1,7.9M-4.4,8.1 -4.9,8.5 -5.4,8.9 -5.9,9.2 -6.4,9.7 -6.8,10.0M-12.3,9.8 -11.9,9.2 -11.6,8.7 -11.1,8.2 -11.0,8.0M-0.6,8.1 -1.2,8.5 -1.7,8.9 -2.2,9.2 -2.7,9.6 -3.1,10.0M-12.5,9.8 -12.1,9.2 -11.7,8.5 -11.3,8.0M-4.9,8.0 -5.5,8.5 -6.0,8.9 -6.5,9.4 -7.0,9.8 -7.2,10.0M-12.9,9.8 -12.4,9.1 -12.1,8.6 -11.7,8.1 -11.6,8.0M-3.7,8.0 -4.3,8.5 -4.9,8.9 -5.4,9.3 -6.0,9.7 -6.2,9.9M-12.1,9.9 -11.7,9.3 -11.3,8.7 -10.9,8.2 -10.7,7.9M0.9,8.2 0.2,8.7 -0.4,9.2 -1.0,9.6 -1.6,10.1" stroke="#2fcd5f"/><path d="M19.9,10.1 18.8,11.6 17.7,13.0M-25.1,10.3 -24.6,8.9M8.8,10.3 8.2,11.2 7.5,12.0M-16.7,11.3 -16.5,10.6 -16.3,9.9 -16.0,9.2M-2.1,10.0 -2.6,10.4 -3.1,10.7 -3.7,11.0 -4.4,11.5 -5.1,11.8M-10.3,11.7 -10.5,11.0 -10.5,10.3 -10.5,9.8M-6.9,10.0 -7.3,10.6 -7.7,11.2 -8.0,11.7 -8.2,11.9M-22.7,11.5 -22.3,10.8 -21.9,10.0 -21.5,9.3M1.2,9.9 0.5,10.6 -0.3,11.2 -1.1,11.8M-13.8,11.7 -13.6,11.0 -13.3,10.2 -13.1,9.7M-7.0,9.9 -7.4,10.5 -7.9,11.2 -8.2,11.7 -8.4,11.8M-21.3,11.6 -21.0,11.0 -20.6,10.4 -20.2,9.7M-1.3,9.9 -1.9,10.4 -2.4,10.8 -3.0,11.2 -3.6,11.6 -3.9,11.8M-12.9,11.6 -12.7,10.9 -12.4,10.2 -12.2,9.8M2.7,10.2 1.8,11.0 0.9,11.8M-15.8,11.5 -15.5,10.8 -15.1,10.1 -14.9,9.7M-7.8,9.9 -8.2,10.4 -8.7,10.9 -9.1,11.3 -9.5,11.7M-14.4,11.6 -14.0,10.9 -13.7,10.4 -13.3,9.9 -13.2,9.7M-7.3,9.9 -7.7,10.3 -8.2,10.8 -8.6,11.2 -9.1,11.6 -9.3,11.8M-14.4,11.7 -14.0,11.1 -13.7,10.5 -13.4,10.0 -13.2,9.8M-7.2,9.9 -7.7,10.4 -8.2,10.8 -8.6,11.2 -9.1,11.6 -9.2,11.8M-14.2,11.7 -13.8,11.0 -13.4,10.4 -13.0,9.7M-6.8,9.9 -7.4,10.4 -7.9,10.8 -8.4,11.2 -8.9,11.6 -9.1,11.8M-13.5,11.7 -13.2,11.1 -12.8,10.4 -12.5,9.9 -12.4,9.8M-3.4,10.0 -4.1,10.4 -4.7,10.9 -5.4,11.3 -6.0,11.8M-13.4,11.6 -13.1,11.1 -12.8,10.5 -12.5,9.9 -12.4,9.8M-6.8,10.0 -7.3,10.4 -7.9,10.8 -8.4,11.2 -8.9,11.6 -9.1,11.8M-13.5,11.6 -13.1,11.0 -12.7,10.4 -12.4,9.9 -12.3,9.8M-3.1,10.0 -3.8,10.5 -4.5,11.0 -5.2,11.4 -5.8,11.9M-13.4,11.6 -13.2,11.0 -12.8,10.4 -12.5,9.8M-7.2,10.0 -7.7,10.4 -8.1,10.8 -8.6,11.2 -9.1,11.6 -9.2,11.8M-14.0,11.6 -13.7,11.0 -13.3,10.4 -12.9,9.8M-6.2,9.9 -6.7,10.3 -7.2,10.7 -7.8,11.1 -8.4,11.5 -8.7,11.8M-13.2,11.6 -12.8,11.0 -12.5,10.5 -12.1,9.9M-1.6,10.1 -2.2,10.6 -2.8,11.0 -3.3,11.4 -3.9,11.8" stroke="#34cf4c"/><path d="M17.7,13.0 16.6,14.4M-26.1,13.1 -25.6,11.7 -25.1,10.3M7.5,12.0 6.8,12.8 6.1,13.5 5.4,14.3M-17.2,13.3 -17.0,12.6 -16.9,11.9 -16.7,11.3M-5.1,11.8 -5.8,12.1 -6.5,12.3 -7.1,12.5 -7.8,12.7 -8.4,12.7 -9.1,12.6 -9.7,12.3 -10.2,11.9 -10.3,11.7M-8.2,11.9 -8.6,12.5 -9.0,13.1 -9.4,13.7M-23.4,13.0 -23.1,12.3 -22.7,11.5M-1.1,11.8 -1.8,12.3 -2.5,12.9 -3.2,13.3 -3.6,13.6M-14.2,13.5 -14.1,12.9 -14.0,12.2 -13.8,11.7M-8.4,11.8 -8.7,12.4 -9.1,12.9 -9.5,13.5 -9.7,13.7M-22.3,13.5 -22.0,12.9 -21.6,12.3 -21.3,11.6M-3.9,11.8 -4.4,12.1 -5.0,12.5 -5.5,12.8 -6.2,13.2 -6.9,13.6M-13.1,13.5 -13.1,12.9 -13.1,12.2 -12.9,11.6M0.9,11.8 0.0,12.5 -0.8,13.2 -1.7,13.8M-16.5,13.5 -16.3,12.9 -16.1,12.2 -15.8,11.5M-9.5,11.7 -10.0,12.2 -10.5,12.7 -10.9,13.2 -11.3,13.7M-15.4,13.5 -15.1,12.9 -14.8,12.3 -14.4,11.6M-9.3,11.8 -9.7,12.2 -10.1,12.7 -10.6,13.1 -11.0,13.5 -11.1,13.6M-15.4,13.6 -15.1,13.0 -14.8,12.4 -14.4,11.7M-9.2,11.8 -9.7,12.2 -10.1,12.6 -10.6,13.1 -11.1,13.5 -11.2,13.6M-15.2,13.5 -14.8,12.9 -14.5,12.3 -14.2,11.7M-9.1,11.8 -9.5,12.2 -10.1,12.6 -10.6,13.0 -11.1,13.4 -11.3,13.6M-14.4,13.5 -14.2,12.9 -13.8,12.2 -13.5,11.7M-6.0,11.8 -6.6,12.2 -7.2,12.5 -7.7,12.9 -8.2,13.2 -8.9,13.6M-14.0,13.5 -13.8,12.9 -13.6,12.3 -13.4,11.6M-9.1,11.8 -9.5,12.2 -10.1,12.6 -10.6,13.0 -11.1,13.4 -11.3,13.6M-14.4,13.5 -14.1,12.9 -13.8,12.3 -13.5,11.7 -13.5,11.6M-5.8,11.9 -6.5,12.3 -7.1,12.6 -7.6,13.0 -8.2,13.3 -8.7,13.7M-14.1,13.5 -13.9,12.8 -13.7,12.2 -13.4,11.6M-9.2,11.8 -9.7,12.2 -10.1,12.6 -10.6,13.1 -11.2,13.6 -11.2,13.6M-15.0,13.5 -14.7,12.8 -14.4,12.3 -14.1,11.7 -14.0,11.6M-8.7,11.8 -9.2,12.2 -9.7,12.5 -10.3,12.9 -10.8,13.3 -11.3,13.6M-14.0,13.5 -13.8,12.9 -13.5,12.3 -13.2,11.7 -13.2,11.6M-3.9,11.8 -4.4,12.2 -5.0,12.5 -5.5,12.9 -6.0,13.2 -6.8,13.7" stroke="#41d13f"/><path d="M16.6,14.4 15.6,15.7M-26.5,14.5 -26.1,13.1M5.4,14.3 4.7,15.0 4.1,15.7M-17.5,15.2 -17.4,14.5 -17.3,13.9 -17.2,13.3M-9.4,13.7 -9.9,14.4 -10.4,15.1 -10.7,15.5M-24.5,15.2 -24.1,14.5 -23.8,13.7 -23.4,13.0M-3.6,13.6 -4.3,14.0 -5.0,14.4 -5.6,14.8 -6.3,15.2 -6.9,15.5M-14.2,15.4 -14.3,14.7 -14.3,13.9 -14.2,13.5M-9.7,13.7 -10.1,14.3 -10.5,14.9 -11.0,15.5M-23.1,15.4 -22.9,14.7 -22.6,14.1 -22.3,13.5M-6.9,13.6 -7.6,14.0 -8.3,14.2 -8.9,14.5 -9.4,14.7 -10.1,14.9 -10.8,15.0 -11.5,15.0 -12.1,14.9 -12.7,14.6 -13.0,14.0 -13.1,13.5M-1.7,13.8 -2.5,14.4 -3.4,15.0 -4.2,15.6M-17.0,15.3 -16.8,14.4 -16.6,13.8 -16.5,13.5M-11.3,13.7 -11.8,14.1 -12.3,14.6 -12.8,15.1 -13.2,15.5M-16.1,15.4 -15.9,14.7 -15.7,14.1 -15.4,13.5M-11.1,13.6 -11.6,14.0 -12.1,14.5 -12.6,15.0 -13.1,15.4M-16.0,15.4 -15.8,14.7 -15.6,14.1 -15.4,13.6M-11.2,13.6 -11.7,14.1 -12.2,14.6 -12.7,15.0 -13.2,15.4 -13.2,15.4M-15.8,15.3 -15.6,14.7 -15.4,14.0 -15.2,13.5M-11.3,13.6 -11.9,14.1 -12.4,14.4 -12.9,14.8 -13.5,15.1 -14.1,15.3 -14.6,15.0 -14.6,14.4 -14.5,13.7 -14.4,13.5M-8.9,13.6 -9.6,13.9 -10.1,14.3 -10.7,14.5 -11.3,14.8 -11.9,15.0 -12.5,15.1 -13.2,15.2 -13.7,14.9 -14.0,14.4 -14.0,13.7 -14.0,13.5M-11.3,13.6 -11.8,14.0 -12.3,14.4 -12.9,14.7 -13.4,15.0 -14.0,15.2 -14.5,14.9 -14.6,14.3 -14.4,13.6 -14.4,13.5M-8.7,13.7 -9.4,14.0 -10.0,14.4 -10.6,14.6 -11.3,14.9 -11.9,15.1 -12.5,15.3 -13.1,15.3 -13.7,15.1 -14.1,14.6 -14.1,14.0 -14.1,13.5M-11.2,13.6 -11.7,14.1 -12.2,14.5 -12.7,14.9 -13.2,15.3 -13.4,15.4M-15.6,15.4 -15.4,14.7 -15.2,14.1 -15.0,13.6 -15.0,13.5M-11.3,13.6 -11.8,13.9 -12.4,14.3 -12.9,14.5 -13.5,14.6 -14.0,14.2 -14.0,13.6 -14.0,13.5M-6.8,13.7 -7.5,14.1 -8.2,14.5 -8.8,14.9 -9.4,15.2 -9.8,15.4" stroke="#5ad63d"/><path d="M15.6,15.7 14.5,17.1 13.3,18.3M-26.9,15.9 -26.5,14.5M4.1,15.7 3.4,16.4 2.7,17.0 2.0,17.6M-17.6,17.0 -17.6,15.8 -17.5,15.2M-10.7,15.5 -11.2,16.2 -11.6,16.7 -11.9,17.3 -12.1,17.5M-25.1,16.6 -24.8,15.9 -24.5,15.2M-6.9,15.5 -7.5,15.8 -8.0,16.1 -8.9,16.4 -9.6,16.7 -10.3,16.9 -11.0,17.0 -11.6,17.0 -12.3,17.0 -12.9,16.8 -13.5,16.5 -13.9,15.9 -14.2,15.4M-11.0,15.5 -11.5,16.2 -12.0,16.9 -12.3,17.3M-23.9,17.1 -23.7,16.5 -23.4,15.9 -23.1,15.4M-4.2,15.6 -5.0,16.1 -5.7,16.7 -6.5,17.1 -6.9,17.4M-17.3,17.1 -17.2,16.4 -17.1,15.6 -17.0,15.3M-13.2,15.5 -13.7,15.9 -14.2,16.3 -14.8,16.7 -15.3,16.9 -15.9,17.0 -16.3,16.4 -16.2,15.8 -16.1,15.4M-13.1,15.4 -13.6,15.8 -14.1,16.2 -14.7,16.6 -15.2,16.8 -15.8,16.8 -16.1,16.3 -16.1,15.6 -16.0,15.4M-13.2,15.4 -13.8,15.8 -14.3,16.2 -14.9,16.5 -15.5,16.5 -15.8,16.0 -15.8,15.3M-13.4,15.4 -13.9,15.8 -14.5,16.1 -15.1,16.3 -15.5,15.8 -15.6,15.4M-9.8,15.4 -10.4,15.7 -11.1,16.0 -11.8,16.2 -12.4,16.4 -13.0,16.5 -13.1,16.5" stroke="#73da3b"/><path d="M13.3,18.3 12.2,19.6M-27.6,18.6 -27.3,17.3 -26.9,15.9M2.0,17.6 1.3,18.2 0.6,18.8 -0.1,19.4M-17.6,18.6 -17.7,17.5 -17.6,17.0M-12.1,17.5 -12.5,18.0 -12.9,18.6 -13.3,19.1M-25.9,18.7 -25.7,18.0 -25.4,17.3 -25.1,16.6M-12.3,17.3 -12.9,18.0 -13.2,18.5 -13.6,19.0 -13.8,19.3M-24.6,18.8 -24.1,17.7 -23.9,17.1M-6.9,17.4 -7.6,17.8 -8.3,18.2 -9.0,18.5 -9.6,18.9 -10.3,19.2M-16.9,19.1 -17.1,18.4 -17.2,17.8 -17.3,17.1" stroke="#8bde39"/><path d="M12.2,19.6 11.1,20.8 10.0,22.0M-27.9,20.0 -27.6,18.6M-0.1,19.4 -0.7,19.9 -1.4,20.4 -2.1,20.9 -2.7,21.3M-17.3,20.6 -17.5,19.6 -17.6,18.6M-13.3,19.1 -13.7,19.7 -14.1,20.2 -14.6,20.8 -14.8,21.1M-26.6,20.6 -26.4,20.0 -26.2,19.3 -25.9,18.7M-13.8,19.3 -14.2,19.8 -14.6,20.3 -15.0,20.8 -15.2,21.0M-25.3,20.9 -24.9,19.9 -24.6,18.8M-10.3,19.2 -10.9,19.5 -11.5,19.7 -12.3,20.0 -13.1,20.2 -13.8,20.3 -14.4,20.4 -15.2,20.3 -15.9,20.1 -16.4,19.8 -16.8,19.3 -16.9,19.1" stroke="#a0df3a"/><path d="M10.0,22.0 8.9,23.2M-28.4,22.5 -28.2,21.3 -27.9,20.0M-2.7,21.3 -3.4,21.7 -4.0,22.1 -4.6,22.5 -5.2,22.8M-16.5,22.6 -16.9,21.8 -17.2,21.0 -17.3,20.6M-14.8,21.1 -15.2,21.7 -15.7,22.3 -16.2,22.8M-27.2,22.5 -27.0,21.9 -26.8,21.3 -26.6,20.6M-15.2,21.0 -15.6,21.5 -16.0,22.0 -16.4,22.5 -16.9,23.0M-25.7,22.4 -25.4,21.4 -25.3,20.9" stroke="#b1dd3e"/><path d="M8.9,23.2 7.8,24.3 6.6,25.4M-28.6,23.8 -28.4,22.5M-5.2,22.8 -5.9,23.2 -6.5,23.5 -7.0,23.7 -7.6,24.0 -8.2,24.2 -9.3,24.5 -9.8,24.7M-14.2,24.5 -14.9,24.2 -15.5,23.7 -16.1,23.2 -16.5,22.6M-16.2,22.8 -16.6,23.4 -17.1,24.0 -17.6,24.6 -17.8,24.9M-27.6,24.2 -27.3,23.0 -27.2,22.5M-16.9,23.0 -17.3,23.5 -17.7,24.0 -18.2,24.5 -18.4,24.8M-26.1,24.5 -26.0,23.7 -25.8,22.8 -25.7,22.4" stroke="#c2db42"/><path d="M6.6,25.4 5.5,26.5M-28.8,26.2 -28.7,25.0 -28.6,23.8M-9.8,24.7 -10.8,24.8 -11.8,24.9 -12.7,24.9 -13.5,24.8 -14.2,24.5M-17.8,24.9 -18.3,25.5 -18.8,26.0 -19.3,26.6M-28.0,26.2 -27.8,25.2 -27.6,24.2M-18.4,24.8 -18.9,25.2 -19.3,25.7 -19.7,26.1 -20.2,26.5M-26.2,26.2 -26.2,25.6 -26.2,24.9 -26.1,24.5" stroke="#d2d947"/><path d="M5.5,26.5 4.4,27.5 3.3,28.5M-28.9,27.4 -28.8,26.2M-19.3,26.6 -19.9,27.2 -20.4,27.7 -20.9,28.2 -21.1,28.4M-28.1,28.3 -28.1,27.5 -28.0,26.6 -28.0,26.2M-20.2,26.5 -20.9,27.1 -21.5,27.7 -22.1,28.1 -22.6,28.4M-25.8,28.3 -26.1,27.6 -26.2,26.8 -26.2,26.2" stroke="#d8ce4d"/><path d="M3.3,28.5 2.2,29.5 1.1,30.4M-29.0,29.6 -29.0,28.5 -28.9,27.4M-21.1,28.4 -21.6,28.9 -22.2,29.4 -22.7,29.8 -23.2,30.2 -23.4,30.4M-27.9,30.1 -28.0,29.3 -28.1,28.6 -28.1,28.3M-22.6,28.4 -23.2,28.7 -23.7,29.0 -24.4,29.1 -25.0,29.0 -25.6,28.6 -25.8,28.3" stroke="#d8bf54"/><path d="M1.1,30.4 -0.0,31.3 -1.1,32.2M-28.8,31.6 -28.9,30.6 -29.0,29.6M-23.4,30.4 -24.1,30.8 -24.8,31.2 -25.4,31.4 -26.1,31.5 -26.8,31.4 -27.3,31.0 -27.7,30.5 -27.9,30.1" stroke="#d8b15c"/><path d="M-1.1,32.2 -2.2,33.0 -3.3,33.8 -4.3,34.5M-28.6,33.5 -28.7,32.6 -28.8,31.6" stroke="#d8a263"/><path d="M-4.3,34.5 -5.4,35.2 -6.4,35.9M-28.1,35.2 -28.4,34.4 -28.6,33.5" stroke="#d7936e"/><path d="M-6.4,35.9 -7.5,36.5 -8.5,37.1 -9.5,37.7M-27.2,37.3 -27.6,36.7 -27.9,35.9 -28.1,35.2" stroke="#d5867e"/><path d="M-9.5,37.7 -10.4,38.2 -11.4,38.7 -12.4,39.2 -13.3,39.6M-26.0,39.0 -26.5,38.5 -26.9,37.9 -27.2,37.3" stroke="#d3788f"/><path d="M-13.3,39.6 -14.2,39.9 -15.1,40.3 -16.0,40.5 -16.8,40.8 -17.6,41.0 -18.4,41.1 -19.2,41.2 -20.0,41.2 -20.7,41.3 -21.4,41.2 -22.1,41.1 -22.7,41.0 -23.4,40.8 -24.0,40.5 -24.5,40.2 -25.1,39.9 -25.6,39.5 -26.0,39.0" stroke="#d16ba0"/></g></defs>
<use href="#b1" transform="translate(49.3,288.9)"/>
<line x1="108.4" y1="288.9" x2="180.4" y2="288.9" stroke="#999" stroke-width="0.7" />
<line x1="139.3" y1="288.9" x2="180.4" y2="288.9" stroke="#a0a0d4" stroke-width="0.7" />
<line x1="139.3" y1="240" x2="139.3" y2="333" stroke="#999" stroke-width="0.7" />
<path d="M110.59 289.2V288.6M113.2 289.2V288.6M115.81 289.2V288.6M118.42 289.2V288.6M121.03 289.2V288.6M123.64 289.2V288.6M126.25 289.2V288.6M128.86 289.2V288.6M131.47 289.2V288.6M134.08 289.2V288.6M136.69 289.2V288.6M139.3 289.2V288.6M141.91 289.2V288.6M144.52 289.2V288.6M147.13 289.2V288.6M149.74 289.2V288.6M152.35 289.2V288.6M154.96 289.2V288.6M157.57 289.2V288.6M160.18 289.2V288.6M162.79 289.2V288.6M165.4 289.2V288.6M168.01 289.2V288.6M170.62 289.2V288.6M173.23 289.2V288.6M175.84 289.2V288.6M178.45 289.2V288.6M139 330.66H139.6M139 328.05H139.6M139 325.44H139.6M139 322.83H139.6M139 320.22H139.6M139 317.61H139.6M139 315H139.6M139 312.39H139.6M139 309.78H139.6M139 307.17H139.6M139 304.56H139.6M139 301.95H139.6M139 299.34H139.6M139 296.73H139.6M139 294.12H139.6M139 291.51H139.6M139 288.9H139.6M139 286.29H139.6M139 283.68H139.6M139 281.07H139.6M139 278.46H139.6M139 275.85H139.6M139 273.24H139.6M139 270.63H139.6M139 268.02H139.6M139 265.41H139.6M139 262.8H139.6M139 260.19H139.6M139 257.58H139.6M139 254.97H139.6M139 252.36H139.6M139 249.75H139.6M139 247.14H139.6M139 244.53H139.6M139 241.92H139.6M113.2 288.9V287.9M126.25 288.9V287.9M152.35 288.9V287.9M165.4 288.9V287.9M178.45 288.9V287.9M139.3 328.05H140.3M139.3 315H140.3M139.3 301.95H140.3M139.3 275.85H140.3M139.3 262.8H140.3M139.3 249.75H140.3" stroke="#444" stroke-width="0.6" fill="none"/>
<text x="113.2" y="294.2" font-size="5" text-anchor="middle" fill="#111" font-weight="normal" stroke="#111" stroke-width="0.11" >&#8722;20</text>
<text x="126.25" y="294.2" font-size="5" text-anchor="middle" fill="#111" font-weight="normal" stroke="#111" stroke-width="0.11" >&#8722;10</text>
<text x="152.35" y="294.2" font-size="5" text-anchor="middle" fill="#111" font-weight="normal" stroke="#111" stroke-width="0.11" >10</text>
<text x="165.4" y="294.2" font-size="5" text-anchor="middle" fill="#111" font-weight="normal" stroke="#111" stroke-width="0.11" >20</text>
<text x="178.45" y="294.2" font-size="5" text-anchor="middle" fill="#111" font-weight="normal" stroke="#111" stroke-width="0.11" >30</text>
<text x="137.6" y="329.7" font-size="5" text-anchor="end" fill="#111" font-weight="normal" stroke="#111" stroke-width="0.11" >&#8722;30</text>
<text x="137.6" y="316.65" font-size="5" text-anchor="end" fill="#111" font-weight="normal" stroke="#111" stroke-width="0.11" >&#8722;20</text>
<text x="137.6" y="303.6" font-size="5" text-anchor="end" fill="#111" font-weight="normal" stroke="#111" stroke-width="0.11" >&#8722;10</text>
<text x="137.6" y="277.5" font-size="5" text-anchor="end" fill="#111" font-weight="normal" stroke="#111" stroke-width="0.11" >10</text>
<text x="137.6" y="264.45" font-size="5" text-anchor="end" fill="#111" font-weight="normal" stroke="#111" stroke-width="0.11" >20</text>
<text x="137.6" y="251.4" font-size="5" text-anchor="end" fill="#111" font-weight="normal" stroke="#111" stroke-width="0.11" >30</text>
<text x="139.3" y="236.9" font-size="5" text-anchor="middle" fill="#111" font-weight="normal" stroke="#111" stroke-width="0.11" >y2(t)</text>
<text x="184.1" y="290.55" font-size="4.8" text-anchor="start" fill="#111" font-weight="normal" stroke="#111" stroke-width="0.11" >x2(t)</text>
<use href="#b1" transform="translate(139.3,288.9)"/>
<line x1="199" y1="325.5" x2="270.2" y2="325.5" stroke="#999" stroke-width="0.7" />
<line x1="229.6" y1="244.7" x2="229.6" y2="326" stroke="#999" stroke-width="0.7" />
<path d="M201.22 325.8V325.2M203.8 325.8V325.2M206.38 325.8V325.2M208.96 325.8V325.2M211.54 325.8V325.2M214.12 325.8V325.2M216.7 325.8V325.2M219.28 325.8V325.2M221.86 325.8V325.2M224.44 325.8V325.2M227.02 325.8V325.2M229.6 325.8V325.2M232.18 325.8V325.2M234.76 325.8V325.2M237.34 325.8V325.2M239.92 325.8V325.2M242.5 325.8V325.2M245.08 325.8V325.2M247.66 325.8V325.2M250.24 325.8V325.2M252.82 325.8V325.2M255.4 325.8V325.2M257.98 325.8V325.2M260.56 325.8V325.2M263.14 325.8V325.2M265.72 325.8V325.2M268.3 325.8V325.2M229.3 325.5H229.9M229.3 322.88H229.9M229.3 320.26H229.9M229.3 317.64H229.9M229.3 315.02H229.9M229.3 312.4H229.9M229.3 309.78H229.9M229.3 307.16H229.9M229.3 304.54H229.9M229.3 301.92H229.9M229.3 299.3H229.9M229.3 296.68H229.9M229.3 294.06H229.9M229.3 291.44H229.9M229.3 288.82H229.9M229.3 286.2H229.9M229.3 283.58H229.9M229.3 280.96H229.9M229.3 278.34H229.9M229.3 275.72H229.9M229.3 273.1H229.9M229.3 270.48H229.9M229.3 267.86H229.9M229.3 265.24H229.9M229.3 262.62H229.9M229.3 260H229.9M229.3 257.38H229.9M229.3 254.76H229.9M229.3 252.14H229.9M229.3 249.52H229.9M229.3 246.9H229.9M203.8 325.5V324.5M216.7 325.5V324.5M242.5 325.5V324.5M255.4 325.5V324.5M268.3 325.5V324.5M229.6 312.4H230.6M229.6 299.3H230.6M229.6 286.2H230.6M229.6 273.1H230.6M229.6 260H230.6M229.6 246.9H230.6" stroke="#444" stroke-width="0.6" fill="none"/>
<text x="203.8" y="330.8" font-size="5" text-anchor="middle" fill="#111" font-weight="normal" stroke="#111" stroke-width="0.11" >&#8722;20</text>
<text x="216.7" y="330.8" font-size="5" text-anchor="middle" fill="#111" font-weight="normal" stroke="#111" stroke-width="0.11" >&#8722;10</text>
<text x="242.5" y="330.8" font-size="5" text-anchor="middle" fill="#111" font-weight="normal" stroke="#111" stroke-width="0.11" >10</text>
<text x="255.4" y="330.8" font-size="5" text-anchor="middle" fill="#111" font-weight="normal" stroke="#111" stroke-width="0.11" >20</text>
<text x="268.3" y="330.8" font-size="5" text-anchor="middle" fill="#111" font-weight="normal" stroke="#111" stroke-width="0.11" >30</text>
<text x="227.9" y="314.05" font-size="5" text-anchor="end" fill="#111" font-weight="normal" stroke="#111" stroke-width="0.11" >10</text>
<text x="227.9" y="300.95" font-size="5" text-anchor="end" fill="#111" font-weight="normal" stroke="#111" stroke-width="0.11" >20</text>
<text x="227.9" y="287.85" font-size="5" text-anchor="end" fill="#111" font-weight="normal" stroke="#111" stroke-width="0.11" >30</text>
<text x="227.9" y="274.75" font-size="5" text-anchor="end" fill="#111" font-weight="normal" stroke="#111" stroke-width="0.11" >40</text>
<text x="227.9" y="261.65" font-size="5" text-anchor="end" fill="#111" font-weight="normal" stroke="#111" stroke-width="0.11" >50</text>
<text x="227.9" y="248.55" font-size="5" text-anchor="end" fill="#111" font-weight="normal" stroke="#111" stroke-width="0.11" >60</text>
<text x="229.6" y="241.6" font-size="5" text-anchor="middle" fill="#111" font-weight="normal" stroke="#111" stroke-width="0.11" >z1(t)</text>
<text x="273.9" y="327.15" font-size="4.8" text-anchor="start" fill="#111" font-weight="normal" stroke="#111" stroke-width="0.11" >x1(t)</text>
<defs><g id="b3" fill="none" stroke-width="0.55" stroke-linejoin="round"><path d="M-0.0,-0.0 0.6,-0.0 1.2,-0.0 1.9,-0.1 2.5,-0.1 3.1,-0.2 3.7,-0.3 4.3,-0.5 5.0,-0.6 5.7,-0.8 6.3,-1.0 6.9,-1.2 7.6,-1.5 8.1,-1.7" stroke="#d8708b"/><path d="M8.1,-1.7 8.7,-2.0 9.4,-2.3 10.1,-2.6 10.8,-3.0 11.6,-3.5" stroke="#d87c80"/><path d="M11.6,-3.5 12.1,-3.8 12.7,-4.2 13.3,-4.6 13.9,-5.1" stroke="#d88876"/><path d="M13.9,-5.1 14.5,-5.5 15.2,-6.1 15.9,-6.7" stroke="#d8946c"/><path d="M15.9,-6.7 16.6,-7.3 17.3,-8.0 17.7,-8.4" stroke="#d8a263"/><path d="M17.7,-8.4 18.5,-9.1 19.3,-10.0" stroke="#d8b15c"/><path d="M19.3,-10.0 19.7,-10.4 20.1,-10.9 20.5,-11.4 21.0,-11.9" stroke="#d8bf54"/><path d="M21.0,-11.9 21.4,-12.4 21.9,-13.0 22.3,-13.5" stroke="#d8ce4d"/><path d="M22.3,-13.5 22.7,-14.1 23.2,-14.7 23.7,-15.3M-2.6,-14.9 -3.1,-14.5 -3.6,-14.2 -4.2,-13.9 -4.9,-13.8 -5.5,-13.7 -6.2,-13.7 -6.8,-13.7 -7.5,-13.8 -8.1,-13.9 -8.8,-14.1 -9.3,-14.3 -9.9,-14.6 -10.6,-14.9 -10.8,-15.0" stroke="#d2d847"/><path d="M23.7,-15.3 24.1,-16.0 24.6,-16.7M-1.4,-16.6 -1.7,-16.0 -2.0,-15.5 -2.5,-15.0 -2.6,-14.9M-10.8,-15.0 -11.4,-15.4 -12.0,-15.7 -12.6,-16.1 -13.2,-16.5 -13.4,-16.6M-3.4,-16.5 -3.9,-16.2 -4.5,-15.9 -5.1,-15.7 -5.7,-15.6 -6.4,-15.6 -7.0,-15.6 -7.7,-15.7 -8.4,-15.8 -9.0,-16.0 -9.7,-16.2 -10.3,-16.5 -10.6,-16.6M5.9,-16.6 6.6,-16.5 7.2,-16.5 7.8,-16.6" stroke="#bfd845"/><path d="M24.6,-16.7 25.1,-17.4 25.6,-18.1 26.0,-18.8M-0.6,-18.2 -0.9,-17.6 -1.1,-17.0 -1.4,-16.6M-13.4,-16.6 -14.0,-17.1 -14.6,-17.6 -15.3,-18.2M-1.9,-18.2 -2.3,-17.6 -2.7,-17.1 -3.2,-16.7 -3.4,-16.5M-10.6,-16.6 -11.2,-16.9 -11.9,-17.3 -12.4,-17.7 -12.9,-18.0 -13.3,-18.3M3.4,-18.2 3.8,-17.7 4.2,-17.3 4.8,-16.9 5.4,-16.7 5.9,-16.6M7.8,-16.6 8.4,-16.7 9.0,-16.9 9.7,-17.1 10.3,-17.4 10.9,-17.7 11.5,-18.0 12.0,-18.3" stroke="#acd843"/><path d="M26.0,-18.8 26.5,-19.6 27.0,-20.4M-0.0,-19.9 -0.2,-19.3 -0.4,-18.7 -0.6,-18.2M-15.3,-18.2 -15.7,-18.7 -16.2,-19.1 -16.7,-19.6 -17.2,-20.1M-1.0,-19.9 -1.3,-19.3 -1.6,-18.7 -1.9,-18.2 -1.9,-18.2M-13.3,-18.3 -13.8,-18.7 -14.4,-19.2 -15.0,-19.8 -15.2,-19.9M2.8,-19.8 2.9,-19.2 3.1,-18.6 3.4,-18.2M12.0,-18.3 12.6,-18.7 13.1,-19.1 13.7,-19.5 14.2,-19.9" stroke="#99d841"/><path d="M27.0,-20.4 27.5,-21.2 28.0,-22.1M0.7,-21.5 0.4,-20.9 0.2,-20.4 -0.0,-19.9M-17.2,-20.1 -17.6,-20.6 -18.1,-21.2 -18.6,-21.8M-0.2,-21.5 -0.4,-20.9 -0.7,-20.4 -1.0,-19.9M-15.2,-19.9 -15.8,-20.5 -16.3,-21.0 -16.7,-21.4 -16.9,-21.7M2.8,-21.5 2.8,-20.9 2.8,-20.3 2.8,-19.8M14.2,-19.9 14.8,-20.4 15.3,-21.0 15.9,-21.6M6.5,-21.5 7.2,-21.4 7.9,-21.4 8.5,-21.4 9.2,-21.5 9.4,-21.6M5.9,-21.5 6.5,-21.3 7.2,-21.2 7.8,-21.2 8.5,-21.2 9.2,-21.3 9.8,-21.5 10.0,-21.6M3.5,-21.5 4.0,-21.1 4.5,-20.8 5.1,-20.5 5.6,-20.3 6.2,-20.1 6.8,-20.0 7.4,-19.9 8.1,-20.0 8.8,-20.1 9.4,-20.2 10.1,-20.4 10.7,-20.7 11.3,-21.0 11.9,-21.4 12.2,-21.6" stroke="#86d746"/><path d="M28.0,-22.1 28.5,-22.9 28.9,-23.8M1.5,-23.2 1.2,-22.6 0.9,-22.1 0.7,-21.5M-18.6,-21.8 -19.1,-22.5 -19.6,-23.1 -19.9,-23.5M0.7,-23.1 0.4,-22.6 0.1,-22.0 -0.2,-21.5M-16.9,-21.7 -17.3,-22.2 -17.8,-22.7 -18.2,-23.2M3.2,-23.1 3.0,-22.5 2.9,-21.9 2.8,-21.5M15.9,-21.6 16.5,-22.2 16.9,-22.7 17.3,-23.1 17.5,-23.4M3.5,-23.1 4.0,-22.8 4.5,-22.4 5.1,-22.1 5.7,-21.8 6.3,-21.6 6.5,-21.5M9.4,-21.6 10.0,-21.7 10.6,-22.0 11.2,-22.3 11.7,-22.6 12.3,-23.0 12.7,-23.3M3.2,-23.2 3.7,-22.8 4.2,-22.4 4.7,-22.1 5.3,-21.8 5.9,-21.5M10.0,-21.6 10.6,-21.8 11.2,-22.1 11.8,-22.4 12.4,-22.8 12.9,-23.2M1.9,-23.1 2.3,-22.7 2.8,-22.2 3.2,-21.8 3.5,-21.5M12.2,-21.6 12.7,-21.9 13.3,-22.4 13.9,-22.9 14.3,-23.3" stroke="#71d553"/><path d="M28.9,-23.8 29.4,-24.8 29.9,-25.7M2.5,-24.8 2.2,-24.3 1.8,-23.7 1.5,-23.2M-19.9,-23.5 -20.4,-24.2 -20.9,-25.0M1.7,-24.8 1.3,-24.3 1.0,-23.7 0.7,-23.1M-18.2,-23.2 -18.6,-23.8 -19.1,-24.4 -19.5,-25.0M4.0,-24.8 3.7,-24.2 3.4,-23.7 3.2,-23.1M17.5,-23.4 17.9,-23.9 18.3,-24.4 18.7,-25.0M-7.5,-24.8 -8.1,-24.7 -8.7,-24.7 -9.3,-24.8 -9.9,-24.9M5.8,-24.8 6.4,-24.6 7.0,-24.4 7.6,-24.3 8.2,-24.2 8.8,-24.3 9.4,-24.3 10.1,-24.5 10.7,-24.7 11.1,-24.9M1.5,-24.8 2.0,-24.4 2.5,-24.0 3.0,-23.5 3.5,-23.1M12.7,-23.3 13.2,-23.6 13.7,-24.1 14.2,-24.6 14.6,-24.9M5.5,-24.8 6.0,-24.5 6.7,-24.3 7.3,-24.1 8.0,-24.0 8.6,-24.0 9.3,-24.1 9.9,-24.2 10.5,-24.4 11.1,-24.7 11.5,-24.9M1.4,-24.8 1.8,-24.4 2.3,-23.9 2.8,-23.5 3.2,-23.2M12.9,-23.2 13.4,-23.6 13.9,-24.1 14.4,-24.6 14.7,-24.9M7.0,-24.8 7.6,-24.7 8.3,-24.6 8.9,-24.6 9.6,-24.7 10.1,-24.8 10.3,-24.9M4.4,-24.8 5.0,-24.5 5.6,-24.2 6.2,-24.0 6.8,-23.8 7.4,-23.7 8.0,-23.6 8.6,-23.6 9.2,-23.7 9.8,-23.8 10.5,-24.0 11.1,-24.3 11.6,-24.6 12.1,-24.9M0.3,-24.8 0.8,-24.3 1.2,-23.8 1.7,-23.3 1.9,-23.1M14.3,-23.3 14.7,-23.7 15.2,-24.1 15.6,-24.6 15.9,-25.0" stroke="#5cd35f"/><path d="M29.9,-25.7 30.4,-26.7M8.7,-26.5 8.9,-25.9 9.5,-25.7 10.1,-25.8 10.7,-26.0 11.2,-26.4 11.3,-26.5M3.8,-26.5 3.4,-26.0 3.0,-25.4 2.6,-24.9 2.5,-24.8M-20.9,-25.0 -21.4,-25.8 -21.9,-26.6M2.8,-26.4 2.4,-25.9 2.1,-25.4 1.7,-24.8 1.7,-24.8M-19.5,-25.0 -20.0,-25.7 -20.4,-26.4 -20.6,-26.7M5.1,-26.4 4.7,-25.9 4.3,-25.4 4.0,-24.9 4.0,-24.8M18.7,-25.0 19.1,-25.6 19.5,-26.2 19.9,-26.8M-4.2,-26.5 -4.8,-26.1 -5.4,-25.8 -5.9,-25.5 -6.5,-25.2 -7.1,-25.0 -7.5,-24.8M-9.9,-24.9 -10.5,-25.1 -11.1,-25.3 -11.6,-25.6 -12.2,-26.0 -12.7,-26.4 -12.8,-26.5M4.3,-26.5 4.9,-26.2 5.5,-25.9 6.0,-25.7 6.7,-25.4 7.3,-25.3 7.9,-25.2 8.6,-25.1 9.2,-25.2 9.8,-25.3 10.4,-25.4 11.0,-25.7 11.6,-26.0 12.1,-26.3 12.4,-26.5M-4.5,-26.5 -5.1,-26.2 -5.7,-25.9 -6.3,-25.7 -6.9,-25.5 -7.6,-25.4 -8.2,-25.3 -8.8,-25.3 -9.4,-25.3 -10.0,-25.4 -10.6,-25.6 -11.2,-25.9 -11.8,-26.3 -12.3,-26.5M4.0,-26.5 4.6,-26.1 5.2,-25.8 5.8,-25.6 6.4,-25.3 7.0,-25.2 7.7,-25.0 8.3,-25.0 8.9,-25.0 9.5,-25.0 10.1,-25.2 10.7,-25.4 11.4,-25.7 11.9,-26.0 12.4,-26.4 12.7,-26.6M-5.2,-26.5 -5.8,-26.2 -6.4,-26.0 -7.1,-25.8 -7.7,-25.7 -8.3,-25.6 -9.0,-25.6 -9.6,-25.7 -10.2,-25.8 -10.8,-26.0 -11.4,-26.3 -11.8,-26.5M2.8,-26.5 3.4,-26.1 4.0,-25.8 4.5,-25.4 5.1,-25.1 5.7,-24.9 5.8,-24.8M11.1,-24.9 11.6,-25.2 12.2,-25.5 12.7,-26.0 13.2,-26.4 13.4,-26.5M-0.3,-26.5 0.2,-26.0 0.7,-25.6 1.2,-25.1 1.5,-24.8M14.6,-24.9 15.1,-25.5 15.6,-26.1 16.0,-26.6M2.8,-26.5 3.4,-26.1 3.9,-25.7 4.4,-25.4 5.0,-25.1 5.5,-24.8M11.5,-24.9 12.0,-25.2 12.6,-25.6 13.0,-26.0 13.5,-26.5 13.6,-26.6M-0.4,-26.4 0.1,-26.0 0.6,-25.5 1.1,-25.1 1.4,-24.8M14.7,-24.9 15.2,-25.4 15.6,-25.9 16.0,-26.4 16.1,-26.6M3.7,-26.5 4.3,-26.1 4.8,-25.8 5.4,-25.5 6.0,-25.2 6.6,-25.0 7.0,-24.8M10.3,-24.9 10.9,-25.1 11.5,-25.4 12.0,-25.8 12.5,-26.1 13.0,-26.5M-6.0,-26.5 -6.6,-26.3 -7.2,-26.1 -7.9,-26.0 -8.5,-25.9 -9.1,-26.0 -9.7,-26.0 -10.3,-26.2 -10.9,-26.4 -11.3,-26.5M2.1,-26.4 2.6,-26.0 3.2,-25.6 3.7,-25.3 4.3,-24.9 4.4,-24.8M12.1,-24.9 12.6,-25.3 13.1,-25.7 13.6,-26.2 14.0,-26.6M-1.3,-26.5 -0.9,-26.0 -0.4,-25.5 0.0,-25.1 0.3,-24.8M15.9,-25.0 16.4,-25.5 16.8,-26.1 17.1,-26.5" stroke="#47d16c"/><path d="M30.4,-26.7 30.9,-27.7 31.4,-28.7M9.0,-28.2 8.9,-27.6 8.8,-27.0 8.7,-26.5M11.3,-26.5 11.8,-27.0 12.2,-27.5 12.6,-28.0 12.7,-28.2M5.4,-28.1 5.0,-27.7 4.6,-27.3 4.1,-26.8 3.8,-26.5M-21.9,-26.6 -22.4,-27.5 -22.9,-28.3M4.2,-28.1 3.8,-27.7 3.4,-27.2 3.0,-26.7 2.8,-26.4M-20.6,-26.7 -21.0,-27.5 -21.5,-28.2M6.5,-28.1 6.1,-27.7 5.6,-27.2 5.2,-26.6 5.1,-26.4M19.9,-26.8 20.3,-27.5 20.7,-28.1 20.9,-28.5M-2.1,-28.1 -2.6,-27.7 -3.1,-27.3 -3.6,-26.9 -4.1,-26.5 -4.2,-26.5M-12.8,-26.5 -13.3,-27.0 -13.7,-27.5 -14.2,-28.1 -14.2,-28.2M1.6,-28.1 2.2,-27.7 2.8,-27.3 3.3,-27.0 3.8,-26.7 4.3,-26.5M12.4,-26.5 12.9,-26.9 13.4,-27.4 13.9,-27.9 14.1,-28.2M-1.7,-28.1 -2.3,-27.8 -2.9,-27.4 -3.5,-27.1 -4.0,-26.8 -4.5,-26.5M-12.3,-26.5 -12.8,-26.9 -13.2,-27.4 -13.7,-27.9 -13.9,-28.2M1.4,-28.1 1.9,-27.7 2.5,-27.4 3.1,-27.0 3.6,-26.7 4.0,-26.5M12.7,-26.6 13.2,-27.0 13.7,-27.5 14.1,-28.0 14.2,-28.2M-2.2,-28.1 -2.8,-27.8 -3.4,-27.4 -3.9,-27.1 -4.5,-26.8 -5.1,-26.5 -5.2,-26.5M-11.8,-26.5 -12.4,-26.9 -12.8,-27.3 -13.3,-27.8 -13.7,-28.2M0.4,-28.2 1.0,-27.7 1.6,-27.4 2.1,-27.0 2.6,-26.6 2.8,-26.5M13.4,-26.5 13.8,-27.0 14.3,-27.5 14.7,-28.1 14.8,-28.2M-4.9,-28.1 -5.5,-27.9 -6.1,-27.7 -6.7,-27.5 -7.4,-27.3 -8.0,-27.2 -8.7,-27.2 -9.3,-27.2 -10.0,-27.2 -10.6,-27.4 -11.1,-27.6 -11.7,-27.9 -12.1,-28.2M-2.2,-28.1 -1.7,-27.7 -1.2,-27.3 -0.7,-26.9 -0.3,-26.5M16.0,-26.6 16.4,-27.1 16.7,-27.7 17.1,-28.2M0.7,-28.2 1.2,-27.7 1.7,-27.4 2.2,-27.0 2.7,-26.6 2.8,-26.5M13.6,-26.6 14.0,-27.1 14.5,-27.6 14.9,-28.2 15.0,-28.3M-5.2,-28.2 -5.8,-27.9 -6.4,-27.7 -7.0,-27.5 -7.7,-27.4 -8.3,-27.3 -9.0,-27.3 -9.6,-27.3 -10.2,-27.4 -10.8,-27.6 -11.4,-27.8 -11.9,-28.1 -12.0,-28.2M-2.3,-28.1 -1.8,-27.7 -1.3,-27.3 -0.8,-26.9 -0.4,-26.4M16.1,-26.6 16.5,-27.1 16.9,-27.6 17.2,-28.2M1.3,-28.2 1.9,-27.8 2.4,-27.4 2.9,-27.0 3.4,-26.6 3.7,-26.5M13.0,-26.5 13.5,-27.0 13.9,-27.4 14.3,-27.9 14.5,-28.2M-2.7,-28.1 -3.3,-27.8 -3.9,-27.5 -4.4,-27.2 -5.0,-26.9 -5.6,-26.6 -6.0,-26.5M-11.3,-26.5 -11.8,-26.9 -12.4,-27.3 -12.9,-27.6 -13.3,-28.1 -13.4,-28.2M-0.2,-28.1 0.4,-27.7 0.9,-27.3 1.5,-26.9 2.0,-26.5 2.1,-26.4M14.0,-26.6 14.5,-27.1 14.9,-27.6 15.2,-28.1 15.3,-28.2M-3.1,-28.1 -2.6,-27.7 -2.2,-27.3 -1.7,-26.8 -1.3,-26.5M17.1,-26.5 17.6,-27.2 18.0,-27.9 18.3,-28.3" stroke="#3bd079"/><path d="M31.4,-28.7 31.8,-29.7 32.3,-30.8M8.5,-29.8 8.9,-29.3 9.1,-28.7 9.0,-28.2M12.7,-28.2 13.0,-28.8 13.2,-29.3 13.3,-29.8M7.4,-29.8 6.9,-29.4 6.4,-29.0 6.0,-28.6 5.5,-28.2 5.4,-28.1M-22.9,-28.3 -23.4,-29.3 -23.8,-30.2M5.8,-29.8 5.4,-29.3 4.9,-28.9 4.5,-28.4 4.2,-28.1M-21.5,-28.2 -21.9,-29.0 -22.3,-29.8 -22.5,-30.2M4.9,-29.8 5.5,-29.5 6.1,-29.2 6.6,-28.9 7.2,-28.7 7.9,-28.5 8.5,-28.3 9.1,-28.2 9.7,-28.2 10.3,-28.3 10.9,-28.4 11.4,-28.7 11.9,-29.2 12.2,-29.7 12.3,-29.8M8.5,-29.8 8.0,-29.4 7.5,-29.0 7.0,-28.6 6.5,-28.1M20.9,-28.5 21.3,-29.2 21.6,-29.9M0.0,-29.8 -0.5,-29.3 -1.1,-28.9 -1.6,-28.5 -2.1,-28.1M-14.2,-28.2 -14.6,-28.7 -14.9,-29.2 -15.2,-29.7 -15.2,-29.9M-1.0,-29.8 -0.4,-29.4 0.1,-29.1 0.6,-28.7 1.1,-28.4 1.6,-28.1M14.1,-28.2 14.4,-28.7 14.8,-29.2 15.1,-29.8 15.2,-29.9M0.7,-29.7 0.2,-29.4 -0.3,-29.0 -0.9,-28.7 -1.5,-28.3 -1.7,-28.1M-13.9,-28.2 -14.4,-28.7 -14.7,-29.2 -15.0,-29.8 -15.1,-29.9M-1.1,-29.7 -0.5,-29.4 -0.0,-29.0 0.5,-28.7 1.1,-28.3 1.4,-28.1M14.2,-28.2 14.6,-28.7 14.9,-29.2 15.2,-29.8 15.3,-29.9M0.4,-29.8 -0.1,-29.4 -0.7,-29.1 -1.2,-28.8 -1.7,-28.4 -2.2,-28.1M-13.7,-28.2 -14.1,-28.7 -14.5,-29.3 -14.8,-29.9M-1.8,-29.7 -1.3,-29.4 -0.8,-29.0 -0.3,-28.7 0.3,-28.2 0.4,-28.2M14.8,-28.2 15.2,-28.8 15.6,-29.4 15.8,-29.9M-1.7,-29.8 -2.3,-29.4 -2.8,-29.1 -3.4,-28.9 -4.0,-28.5 -4.7,-28.3 -4.9,-28.1M-12.1,-28.2 -12.6,-28.5 -13.0,-29.0 -13.4,-29.4 -13.7,-29.9M-4.2,-29.8 -3.7,-29.4 -3.1,-28.9 -2.6,-28.5 -2.2,-28.1M17.1,-28.2 17.4,-28.8 17.8,-29.4 18.0,-29.8M-1.4,-29.7 -0.9,-29.4 -0.3,-28.9 0.2,-28.5 0.7,-28.2M15.0,-28.3 15.4,-28.9 15.7,-29.5 15.9,-29.9M-1.9,-29.8 -2.4,-29.5 -3.0,-29.2 -3.5,-28.9 -4.2,-28.6 -4.8,-28.3 -5.2,-28.2M-12.0,-28.2 -12.5,-28.6 -12.9,-29.0 -13.3,-29.4 -13.6,-29.8M-4.3,-29.7 -3.8,-29.3 -3.2,-28.9 -2.7,-28.5 -2.3,-28.1M17.2,-28.2 17.6,-28.8 18.0,-29.4 18.2,-29.9M-0.9,-29.8 -0.4,-29.4 0.2,-29.0 0.8,-28.6 1.3,-28.2M14.5,-28.2 14.8,-28.8 15.2,-29.3 15.5,-29.9M-0.0,-29.7 -0.6,-29.4 -1.2,-29.0 -1.7,-28.7 -2.3,-28.3 -2.7,-28.1M-13.4,-28.2 -13.8,-28.6 -14.1,-29.2 -14.5,-29.7 -14.6,-29.9M-2.5,-29.8 -2.0,-29.4 -1.5,-29.0 -0.9,-28.6 -0.3,-28.2 -0.2,-28.1M15.3,-28.2 15.7,-28.8 16.0,-29.3 16.3,-29.9M-4.1,-29.8 -4.7,-29.5 -5.4,-29.3 -6.0,-29.0 -6.7,-28.9 -7.3,-28.7 -8.0,-28.6 -8.6,-28.5 -9.2,-28.5 -9.9,-28.6 -10.6,-28.7 -11.1,-28.9 -11.8,-29.2 -12.3,-29.5 -12.7,-29.8M-5.1,-29.8 -4.6,-29.4 -4.1,-29.0 -3.6,-28.6 -3.1,-28.1M18.3,-28.3 18.7,-29.0 19.1,-29.8 19.2,-30.0" stroke="#34d086"/><path d="M32.3,-30.8 32.8,-31.8M6.6,-31.5 7.1,-31.1 7.6,-30.7 8.0,-30.3 8.5,-29.9 8.5,-29.8M13.3,-29.8 13.3,-30.4 13.2,-31.0 12.8,-31.5M10.4,-31.4 9.7,-31.2 9.2,-30.9 8.6,-30.6 8.0,-30.2 7.5,-29.8 7.4,-29.8M-23.8,-30.2 -24.3,-31.2 -24.5,-31.7M7.7,-31.5 7.2,-31.0 6.7,-30.6 6.3,-30.2 5.8,-29.8M-22.5,-30.2 -22.9,-31.0 -23.3,-31.9M2.2,-31.5 2.7,-31.1 3.3,-30.7 3.9,-30.4 4.5,-30.1 4.9,-29.8M12.3,-29.8 12.4,-30.5 12.0,-30.9 11.4,-31.0 10.8,-30.9 10.2,-30.7 9.6,-30.4 9.0,-30.1 8.5,-29.8M21.6,-29.9 22.0,-30.7 22.4,-31.4 22.5,-31.8M2.2,-31.4 1.7,-31.1 1.2,-30.7 0.7,-30.3 0.1,-29.8 0.0,-29.8M-15.2,-29.9 -15.5,-30.4 -15.7,-31.0 -15.9,-31.6M-3.5,-31.4 -2.9,-31.0 -2.3,-30.6 -1.7,-30.3 -1.1,-29.9 -1.0,-29.8M15.2,-29.9 15.4,-30.4 15.7,-31.0 15.8,-31.6M3.4,-31.4 2.8,-31.1 2.2,-30.7 1.6,-30.3 1.0,-29.9 0.7,-29.7M-15.1,-29.9 -15.3,-30.4 -15.6,-31.1 -15.7,-31.5M-3.7,-31.4 -3.1,-31.1 -2.5,-30.7 -1.9,-30.3 -1.4,-29.9 -1.1,-29.7M15.3,-29.9 15.6,-30.5 15.8,-31.1 16.0,-31.5M3.0,-31.4 2.3,-31.0 1.7,-30.6 1.2,-30.3 0.6,-29.9 0.4,-29.8M-14.8,-29.9 -15.1,-30.5 -15.3,-31.1 -15.5,-31.5M-4.3,-31.4 -3.8,-31.1 -3.2,-30.7 -2.6,-30.3 -2.1,-29.9 -1.8,-29.7M15.8,-29.9 16.1,-30.6 16.4,-31.3 16.5,-31.5M1.2,-31.4 0.5,-31.0 -0.2,-30.6 -0.8,-30.3 -1.4,-29.9 -1.7,-29.8M-13.7,-29.9 -14.0,-30.4 -14.3,-31.0 -14.4,-31.5M-6.6,-31.4 -6.0,-31.1 -5.4,-30.6 -4.8,-30.2 -4.2,-29.8M18.0,-29.8 18.3,-30.5 18.6,-31.1 18.8,-31.5M-3.7,-31.4 -3.2,-31.0 -2.7,-30.7 -2.1,-30.3 -1.6,-29.9 -1.4,-29.7M15.9,-29.9 16.2,-30.6 16.5,-31.3 16.6,-31.6M1.0,-31.4 0.3,-31.0 -0.3,-30.6 -0.9,-30.3 -1.6,-29.9 -1.9,-29.8M-13.6,-29.8 -14.0,-30.4 -14.2,-31.0 -14.4,-31.5M-6.8,-31.5 -6.2,-31.1 -5.6,-30.7 -5.0,-30.3 -4.4,-29.8 -4.3,-29.7M18.2,-29.9 18.5,-30.5 18.8,-31.2 19.0,-31.6M-3.1,-31.4 -2.5,-31.0 -2.0,-30.6 -1.5,-30.2 -1.0,-29.9 -0.9,-29.8M15.5,-29.9 15.8,-30.5 16.0,-31.1 16.1,-31.5M2.7,-31.4 2.0,-31.0 1.4,-30.7 0.8,-30.3 0.2,-29.9 -0.0,-29.7M-14.6,-29.9 -14.9,-30.5 -15.1,-31.1 -15.2,-31.5M-4.9,-31.4 -4.3,-31.1 -3.8,-30.7 -3.2,-30.3 -2.7,-29.9 -2.5,-29.8M16.3,-29.9 16.6,-30.5 16.9,-31.1 17.0,-31.6M-0.7,-31.4 -1.4,-31.0 -2.1,-30.7 -2.7,-30.4 -3.3,-30.1 -3.9,-29.8 -4.1,-29.8M-12.7,-29.8 -13.1,-30.3 -13.5,-30.8 -13.7,-31.4 -13.8,-31.5M-7.4,-31.5 -6.9,-31.1 -6.4,-30.7 -5.8,-30.4 -5.3,-30.0 -5.1,-29.8M19.2,-30.0 19.6,-30.8 19.9,-31.6" stroke="#2cd092"/><path d="M32.8,-31.8 33.2,-32.9 33.7,-34.1M4.4,-33.1 4.9,-32.8 5.4,-32.4 5.9,-32.0 6.4,-31.6 6.6,-31.5M12.8,-31.5 12.2,-31.7 11.6,-31.8 11.0,-31.6 10.4,-31.4M-24.5,-31.7 -24.9,-32.7 -25.2,-33.2M9.9,-33.1 9.4,-32.8 8.9,-32.4 8.3,-32.0 7.8,-31.6 7.7,-31.5M-23.3,-31.9 -23.6,-32.7 -23.8,-33.2M-0.2,-33.0 0.4,-32.6 0.9,-32.3 1.5,-31.9 2.0,-31.5 2.2,-31.5M22.5,-31.8 22.8,-32.6 23.2,-33.4M4.4,-33.1 3.9,-32.7 3.3,-32.3 2.8,-31.9 2.3,-31.5 2.2,-31.4M-15.9,-31.6 -16.0,-32.2 -16.1,-32.9 -16.1,-33.2M-6.3,-33.1 -5.7,-32.7 -5.0,-32.4 -4.4,-32.0 -3.8,-31.6 -3.5,-31.4M15.8,-31.6 16.0,-32.2 16.1,-32.9 16.1,-33.2M6.1,-33.1 5.4,-32.7 4.8,-32.3 4.1,-31.9 3.5,-31.5 3.4,-31.4M-15.7,-31.5 -15.9,-32.2 -15.9,-32.8 -16.0,-33.1M-6.3,-33.0 -5.7,-32.7 -5.1,-32.3 -4.4,-31.9 -3.8,-31.5 -3.7,-31.4M16.0,-31.5 16.1,-32.1 16.2,-32.8 16.2,-33.2M5.7,-33.1 5.1,-32.7 4.4,-32.3 3.8,-31.9 3.1,-31.5 3.0,-31.4M-15.5,-31.5 -15.6,-32.1 -15.6,-32.8 -15.6,-33.2M-7.0,-33.0 -6.4,-32.7 -5.8,-32.3 -5.2,-32.0 -4.6,-31.6 -4.3,-31.4M16.5,-31.5 16.7,-32.2 16.8,-32.9 16.9,-33.1M4.1,-33.1 3.6,-32.8 3.1,-32.5 2.5,-32.2 2.0,-31.9 1.3,-31.5 1.2,-31.4M-14.4,-31.5 -14.5,-32.2 -14.4,-32.8 -14.3,-33.2M-9.6,-33.1 -9.0,-32.8 -8.4,-32.5 -7.8,-32.2 -7.2,-31.8 -6.6,-31.4M18.8,-31.5 19.0,-32.2 19.3,-32.9 19.4,-33.3M-7.4,-33.1 -8.2,-33.0 -8.8,-33.0 -9.4,-33.0 -10.2,-33.0 -10.8,-33.1 -11.0,-33.1M-6.2,-33.1 -5.6,-32.7 -5.1,-32.3 -4.5,-32.0 -4.0,-31.6 -3.7,-31.4M16.6,-31.6 16.8,-32.3 16.9,-32.9 17.0,-33.2M4.0,-33.1 3.4,-32.8 2.9,-32.5 2.4,-32.2 1.8,-31.9 1.2,-31.5 1.0,-31.4M-14.4,-31.5 -14.4,-32.2 -14.3,-32.8 -14.1,-33.1M-9.7,-33.1 -9.1,-32.8 -8.6,-32.5 -8.0,-32.2 -7.4,-31.8 -6.8,-31.5M19.0,-31.6 19.2,-32.3 19.5,-33.0 19.5,-33.3M-5.6,-33.1 -5.1,-32.7 -4.5,-32.3 -3.9,-32.0 -3.4,-31.6 -3.1,-31.4M16.1,-31.5 16.3,-32.1 16.4,-32.7 16.4,-33.2M5.5,-33.1 4.8,-32.7 4.1,-32.3 3.5,-31.9 2.8,-31.5 2.7,-31.4M-15.2,-31.5 -15.4,-32.2 -15.4,-32.8 -15.3,-33.2M-7.7,-33.1 -7.2,-32.8 -6.6,-32.5 -6.0,-32.1 -5.5,-31.8 -4.9,-31.4M17.0,-31.6 17.2,-32.2 17.4,-32.8 17.5,-33.3M2.4,-33.1 1.8,-32.8 1.3,-32.5 0.7,-32.2 0.2,-31.9 -0.4,-31.6 -0.7,-31.4M-13.8,-31.5 -13.9,-32.1 -13.7,-32.7 -13.4,-33.2M-10.8,-33.1 -10.2,-32.9 -9.6,-32.7 -9.0,-32.3 -8.4,-32.1 -7.9,-31.7 -7.4,-31.5M19.9,-31.6 20.3,-32.4 20.5,-33.2" stroke="#25d09f"/><path d="M33.7,-34.1 34.1,-35.2M2.2,-34.7 2.7,-34.4 3.3,-33.9 3.9,-33.5 4.4,-33.1M-25.2,-33.2 -25.6,-34.2 -25.9,-35.3M7.2,-34.8 7.8,-34.6 8.4,-34.4 9.1,-34.2 9.7,-34.1 10.3,-34.0 10.2,-33.3 9.9,-33.1M-23.8,-33.2 -24.1,-34.0 -24.5,-34.9M-2.7,-34.7 -2.1,-34.3 -1.5,-33.9 -0.8,-33.4 -0.2,-33.0M23.2,-33.4 23.4,-34.2 23.7,-35.0M6.7,-34.7 6.2,-34.3 5.6,-34.0 5.1,-33.6 4.6,-33.2 4.4,-33.1M-16.1,-33.2 -16.0,-33.9 -15.8,-34.5 -15.6,-34.8M-9.7,-34.8 -9.1,-34.5 -8.4,-34.2 -7.8,-33.9 -7.1,-33.6 -6.5,-33.2 -6.3,-33.1M16.1,-33.2 16.0,-33.8 15.9,-34.4 15.7,-34.8M9.3,-34.7 8.7,-34.4 8.0,-34.1 7.4,-33.8 6.7,-33.4 6.1,-33.1M-16.0,-33.1 -15.9,-33.8 -15.7,-34.4 -15.4,-34.8M-9.8,-34.8 -9.2,-34.5 -8.6,-34.2 -7.9,-33.9 -7.3,-33.6 -6.6,-33.2 -6.3,-33.0M16.2,-33.2 16.2,-33.8 16.1,-34.5 15.9,-34.8M9.1,-34.8 8.4,-34.5 7.7,-34.1 7.1,-33.8 6.4,-33.4 5.7,-33.1M-15.6,-33.2 -15.5,-33.8 -15.2,-34.4 -14.8,-34.8M-10.7,-34.8 -10.0,-34.5 -9.4,-34.2 -8.8,-34.0 -8.2,-33.7 -7.6,-33.4 -7.0,-33.0M16.9,-33.1 16.9,-33.8 16.9,-34.4 16.8,-34.9M7.1,-34.7 6.5,-34.4 6.0,-34.1 5.4,-33.8 4.9,-33.5 4.3,-33.2 4.1,-33.1M-14.3,-33.2 -13.8,-33.6 -13.2,-33.9 -12.6,-33.9 -11.9,-33.9 -11.3,-33.7 -10.6,-33.5 -10.0,-33.3 -9.6,-33.1M19.4,-33.3 19.6,-34.0 19.7,-34.7 19.8,-34.9M-1.7,-34.7 -2.4,-34.4 -3.1,-34.2 -3.8,-34.0 -4.5,-33.8 -5.1,-33.6 -5.7,-33.4 -6.3,-33.3 -7.1,-33.2 -7.4,-33.1M-11.0,-33.1 -11.6,-33.3 -12.2,-33.5 -12.8,-33.9 -13.3,-34.3 -13.7,-34.8 -13.7,-34.8M-9.0,-34.7 -8.5,-34.5 -8.0,-34.2 -7.4,-33.8 -6.9,-33.5 -6.3,-33.2 -6.2,-33.1M17.0,-33.2 17.0,-33.9 17.0,-34.5 16.9,-34.8M7.0,-34.7 6.4,-34.4 5.9,-34.1 5.3,-33.8 4.7,-33.5 4.2,-33.2 4.0,-33.1M-14.1,-33.1 -13.7,-33.6 -13.1,-33.8 -12.4,-33.8 -11.8,-33.8 -11.1,-33.6 -10.5,-33.4 -9.8,-33.1 -9.7,-33.1M19.5,-33.3 19.7,-33.9 19.9,-34.6 19.9,-34.9M-2.6,-34.7 -3.3,-34.5 -4.0,-34.3 -4.7,-34.1 -5.3,-33.9 -6.0,-33.7 -6.6,-33.6 -7.4,-33.5 -8.1,-33.4 -8.8,-33.4 -9.4,-33.3 -10.0,-33.4 -10.8,-33.5 -11.4,-33.6 -12.0,-33.8 -12.6,-34.1 -13.1,-34.4 -13.5,-34.8M-8.4,-34.7 -7.8,-34.4 -7.2,-34.1 -6.6,-33.7 -6.1,-33.4 -5.6,-33.1M16.4,-33.2 16.4,-33.8 16.3,-34.5 16.1,-34.8M8.6,-34.7 7.9,-34.4 7.2,-34.0 6.5,-33.7 5.8,-33.3 5.5,-33.1M-15.3,-33.2 -15.2,-33.8 -14.8,-34.3 -14.3,-34.7 -14.0,-34.8M-11.8,-34.8 -11.2,-34.6 -10.5,-34.4 -9.9,-34.1 -9.3,-33.9 -8.7,-33.6 -8.2,-33.4 -7.7,-33.1M17.5,-33.3 17.6,-34.0 17.6,-34.7 17.6,-34.8M5.6,-34.8 5.0,-34.5 4.4,-34.1 3.8,-33.8 3.2,-33.5 2.6,-33.2 2.4,-33.1M-13.4,-33.2 -12.8,-33.4 -12.2,-33.4 -11.6,-33.3 -11.0,-33.2 -10.8,-33.1M20.5,-33.2 20.8,-34.1 21.0,-34.9" stroke="#20cfaa"/><path d="M34.1,-35.2 34.5,-36.3 35.0,-37.5M0.1,-36.3 0.6,-35.9 1.2,-35.5 1.7,-35.1 2.2,-34.7M-25.9,-35.3 -26.3,-36.4 -26.5,-36.9M3.4,-36.4 4.1,-36.0 4.7,-35.7 5.4,-35.5 6.0,-35.2 6.5,-35.0 7.2,-34.8M-24.5,-34.9 -24.7,-35.8 -25.0,-36.7M-5.2,-36.3 -4.6,-35.9 -3.9,-35.5 -3.2,-35.0 -2.7,-34.7M23.7,-35.0 24.0,-35.8 24.2,-36.6M9.5,-36.4 8.9,-36.1 8.3,-35.7 7.8,-35.4 7.3,-35.0 6.7,-34.7M-15.6,-34.8 -15.1,-35.3 -14.5,-35.5 -13.9,-35.7 -13.2,-35.7 -12.6,-35.6 -11.9,-35.5 -11.2,-35.3 -10.6,-35.1 -10.0,-34.9 -9.7,-34.8M15.7,-34.8 15.2,-35.3 14.6,-35.6 14.0,-35.8 13.3,-35.8 12.7,-35.8 12.0,-35.6 11.3,-35.5 10.7,-35.3 10.1,-35.0 9.5,-34.8 9.3,-34.7M-15.4,-34.8 -14.9,-35.3 -14.4,-35.5 -13.7,-35.6 -13.0,-35.6 -12.4,-35.5 -11.7,-35.4 -11.0,-35.2 -10.4,-35.0 -9.8,-34.8M15.9,-34.8 15.6,-35.3 15.1,-35.7 14.4,-35.9 13.8,-36.0 13.1,-36.0 12.4,-35.9 11.7,-35.7 11.1,-35.6 10.5,-35.4 9.9,-35.1 9.2,-34.9 9.1,-34.8M-14.8,-34.8 -14.2,-35.1 -13.6,-35.2 -13.0,-35.2 -12.3,-35.2 -11.6,-35.0 -11.0,-34.8 -10.7,-34.8M16.8,-34.9 16.6,-35.5 16.3,-36.0 15.9,-36.4 15.8,-36.5M11.1,-36.4 10.4,-36.2 9.7,-35.9 9.0,-35.6 8.4,-35.3 7.9,-35.1 7.3,-34.8 7.1,-34.7M19.8,-34.9 19.9,-35.5 19.9,-36.2 19.9,-36.6M2.4,-36.4 1.6,-36.1 0.8,-35.7 0.0,-35.4 -0.7,-35.1 -1.5,-34.8 -1.7,-34.7M-13.7,-34.8 -13.8,-35.4 -13.4,-35.9 -12.8,-36.0 -12.1,-35.9 -11.6,-35.8 -10.9,-35.5 -10.3,-35.3 -9.7,-35.0 -9.0,-34.7M16.9,-34.8 16.7,-35.5 16.4,-36.0 16.0,-36.4 15.9,-36.5M10.9,-36.4 10.2,-36.1 9.4,-35.9 8.9,-35.6 8.3,-35.4 7.8,-35.1 7.2,-34.8 7.0,-34.7M19.9,-34.9 20.0,-35.5 20.1,-36.2 20.1,-36.6M1.5,-36.3 0.7,-36.0 -0.1,-35.7 -0.9,-35.4 -1.6,-35.1 -2.4,-34.8 -2.6,-34.7M-13.5,-34.8 -13.9,-35.3 -13.9,-36.0 -13.3,-36.3 -12.7,-36.3 -12.1,-36.2 -11.4,-36.1 -10.8,-35.9 -10.2,-35.6 -9.6,-35.3 -8.9,-35.0 -8.4,-34.7M16.1,-34.8 15.8,-35.4 15.3,-35.8 14.7,-36.1 14.0,-36.2 13.4,-36.2 12.8,-36.1 12.1,-36.0 11.5,-35.8 10.9,-35.7 10.2,-35.4 9.6,-35.2 8.9,-34.9 8.6,-34.7M-14.0,-34.8 -13.4,-34.9 -12.7,-34.9 -12.0,-34.8 -11.8,-34.8M17.6,-34.8 17.5,-35.5 17.3,-36.1 17.1,-36.5M9.1,-36.4 8.5,-36.2 7.9,-35.9 7.3,-35.6 6.6,-35.3 6.0,-35.0 5.6,-34.8M21.0,-34.9 21.2,-35.7 21.3,-36.5M-3.8,-36.4 -4.7,-36.2 -5.4,-36.0 -6.2,-35.9 -6.9,-35.8 -7.6,-35.7 -8.3,-35.6 -8.9,-35.6 -9.5,-35.6 -10.3,-35.7 -11.0,-35.8 -11.6,-35.9 -12.2,-36.1 -12.9,-36.3 -13.0,-36.4" stroke="#20cdb0"/><path d="M35.0,-37.5 35.4,-38.7M-2.2,-38.1 -1.6,-37.6 -1.0,-37.1 -0.4,-36.7 0.1,-36.3M-26.5,-36.9 -26.8,-38.0 -26.9,-38.5M0.0,-38.1 0.6,-37.8 1.3,-37.4 1.8,-37.1 2.4,-36.8 3.0,-36.5 3.4,-36.4M-25.0,-36.7 -25.2,-37.6 -25.4,-38.1M-8.0,-38.1 -7.4,-37.7 -6.8,-37.3 -6.1,-36.9 -5.4,-36.4 -5.2,-36.3M24.2,-36.6 24.4,-37.4 24.6,-38.3M4.8,-38.0 5.5,-37.8 6.1,-37.7 6.8,-37.5 7.5,-37.3 8.2,-37.2 8.9,-37.1 9.5,-37.1 10.2,-37.0 10.9,-37.1 11.5,-37.1 12.1,-37.3 11.4,-37.3 10.9,-37.1 10.3,-36.8 9.7,-36.5 9.5,-36.4M15.8,-36.5 15.2,-36.7 14.5,-36.9 13.9,-36.9 13.2,-36.9 12.6,-36.8 11.9,-36.7 11.3,-36.5 11.1,-36.4M19.9,-36.6 19.9,-37.4 19.8,-38.1M6.0,-38.0 5.4,-37.8 4.8,-37.5 4.3,-37.3 3.7,-37.0 3.2,-36.8 2.4,-36.4M15.9,-36.5 15.3,-36.8 14.7,-37.0 14.0,-37.0 13.3,-37.0 12.7,-36.9 12.1,-36.8 11.4,-36.6 10.9,-36.4M20.1,-36.6 20.1,-37.2 20.0,-38.0 20.0,-38.2M5.4,-38.1 4.8,-37.8 4.3,-37.6 3.7,-37.3 3.1,-37.1 2.6,-36.8 2.0,-36.6 1.5,-36.3M17.1,-36.5 16.7,-37.0 16.1,-37.4 15.6,-37.6 14.9,-37.8 14.2,-37.8 13.6,-37.8 12.9,-37.7 12.2,-37.5 11.5,-37.3 10.7,-37.1 10.1,-36.8 9.5,-36.6 9.1,-36.4M21.3,-36.5 21.4,-37.3 21.5,-38.1 21.5,-38.3M0.9,-38.0 0.2,-37.7 -0.4,-37.5 -1.0,-37.3 -1.6,-37.1 -2.2,-36.9 -2.7,-36.7 -3.6,-36.5 -3.8,-36.4" stroke="#20cbb7"/><path d="M35.4,-38.7 35.8,-39.9M-4.4,-39.7 -3.8,-39.3 -3.1,-38.8 -2.5,-38.3 -2.2,-38.1M-26.9,-38.5 -27.2,-39.6 -27.3,-40.1M-2.8,-39.7 -2.2,-39.3 -1.5,-38.9 -0.8,-38.6 -0.2,-38.2 0.0,-38.1M-25.4,-38.1 -25.5,-39.0 -25.7,-39.9M-8.2,-39.7 -8.8,-39.7 -9.5,-39.6 -10.2,-39.6 -10.8,-39.6 -11.4,-39.6 -12.1,-39.8M-11.3,-39.7 -10.8,-39.5 -10.1,-39.2 -9.6,-38.9 -9.0,-38.6 -8.4,-38.2 -8.0,-38.1M24.6,-38.3 24.7,-39.1 24.8,-39.8M0.4,-39.7 1.2,-39.4 1.9,-39.1 2.7,-38.8 3.4,-38.5 4.2,-38.3 4.8,-38.0M19.8,-38.1 19.6,-38.8 19.3,-39.4 19.0,-39.8M9.9,-39.7 9.0,-39.3 8.2,-39.0 7.6,-38.8 7.1,-38.5 6.5,-38.3 6.0,-38.0M20.0,-38.2 19.8,-38.9 19.5,-39.5 19.4,-39.8M9.4,-39.7 8.8,-39.5 8.3,-39.3 7.7,-39.1 7.1,-38.8 6.6,-38.6 6.0,-38.3 5.4,-38.1M21.5,-38.3 21.4,-39.0 21.3,-39.7 21.3,-39.9M5.1,-39.7 4.4,-39.4 3.7,-39.1 3.1,-38.9 2.4,-38.6 1.8,-38.3 1.2,-38.1 0.9,-38.0" stroke="#20c9bd"/><path d="M35.8,-39.9 36.1,-41.1 36.5,-42.3M-6.6,-41.4 -6.0,-40.9 -5.3,-40.4 -4.7,-40.0 -4.4,-39.7M-27.3,-40.1 -27.5,-41.2 -27.5,-41.7M-5.8,-41.3 -5.1,-41.0 -4.4,-40.6 -3.7,-40.2 -3.1,-39.8 -2.8,-39.7M-25.7,-39.9 -25.8,-40.8 -25.9,-41.6M-2.1,-41.3 -2.7,-41.1 -3.6,-40.8 -4.4,-40.6 -5.2,-40.4 -5.9,-40.2 -6.6,-40.0 -7.3,-39.9 -8.0,-39.8 -8.2,-39.7M-12.1,-39.8 -12.7,-39.9 -12.0,-40.0 -11.4,-39.8 -11.3,-39.7M24.8,-39.8 24.9,-40.6 24.9,-41.4 24.9,-41.7M-4.9,-41.4 -5.7,-41.3 -6.4,-41.2 -7.1,-41.1 -7.9,-41.1 -8.5,-41.1 -9.2,-41.1 -9.8,-41.1 -10.5,-41.2 -11.3,-41.3 -12.2,-41.5M-3.0,-41.3 -2.4,-41.0 -1.9,-40.7 -1.3,-40.5 -0.7,-40.2 -0.2,-40.0 0.4,-39.7M19.0,-39.8 18.6,-40.2 18.0,-40.6 17.4,-40.8 16.7,-41.0 16.0,-41.1 15.3,-41.0 14.7,-41.0 14.0,-40.9 13.3,-40.7 12.5,-40.5 11.7,-40.3 10.9,-40.0 10.1,-39.8 9.9,-39.7M19.4,-39.8 18.9,-40.3 18.4,-40.7 17.8,-41.0 17.2,-41.2 16.4,-41.3 15.8,-41.3 15.1,-41.3 14.4,-41.2 13.7,-41.1 12.9,-40.9 12.2,-40.7 11.4,-40.4 10.5,-40.2 9.7,-39.9 9.4,-39.7M21.3,-39.9 21.1,-40.5 20.8,-41.1 20.7,-41.4M9.4,-41.4 8.7,-41.1 8.0,-40.9 7.4,-40.6 6.7,-40.4 6.1,-40.1 5.4,-39.8 5.1,-39.7" stroke="#21c7c1"/><path d="M36.5,-42.3 36.8,-43.5M-8.6,-43.0 -8.2,-42.6 -7.7,-42.2 -7.1,-41.8 -6.6,-41.4M-27.5,-41.7 -27.7,-42.7 -27.7,-43.2M-8.9,-43.0 -8.2,-42.7 -7.6,-42.3 -6.9,-42.0 -6.2,-41.6 -5.8,-41.3M-25.9,-41.6 -25.9,-42.4 -25.9,-43.2M4.1,-43.0 5.0,-42.9 5.8,-42.8 6.6,-42.7 7.4,-42.7 8.2,-42.6 9.0,-42.6 9.7,-42.7 10.4,-42.7 11.1,-42.8 11.7,-42.9 12.3,-43.1M1.9,-43.0 1.2,-42.7 0.6,-42.4 -0.0,-42.2 -0.6,-41.9 -1.2,-41.7 -1.8,-41.4 -2.1,-41.3M24.9,-41.7 24.9,-42.4 24.8,-43.1M1.3,-43.0 0.5,-42.7 -0.4,-42.4 -1.3,-42.2 -2.1,-42.0 -2.9,-41.8 -3.7,-41.6 -4.5,-41.5 -4.9,-41.4M-12.2,-41.5 -12.9,-41.7 -13.6,-41.9 -14.3,-42.2 -14.9,-42.5 -15.4,-42.9 -15.7,-43.1M-6.5,-42.9 -5.9,-42.7 -5.3,-42.4 -4.8,-42.1 -4.2,-41.8 -3.6,-41.5 -3.0,-41.3M20.7,-41.4 20.2,-42.0 19.6,-42.5 18.9,-42.9 18.3,-43.1 18.1,-43.1M14.9,-43.0 14.0,-42.9 13.5,-42.7 12.9,-42.6 12.2,-42.4 11.6,-42.2 11.0,-42.0 10.3,-41.8 9.7,-41.5 9.4,-41.4" stroke="#23c5c3"/><path d="M36.8,-43.5 37.2,-44.7M-10.3,-44.7 -10.0,-44.2 -9.5,-43.8 -9.1,-43.4 -8.6,-43.0M-27.7,-43.2 -27.8,-44.2 -27.8,-45.2M-4.9,-44.6 -5.6,-44.5 -6.2,-44.4 -6.8,-44.3 -7.7,-44.1 -8.5,-44.0 -9.3,-44.0 -10.0,-44.0 -10.7,-44.0 -11.3,-44.0 -12.0,-44.1 -12.6,-44.2 -13.2,-44.4 -13.8,-44.7 -14.0,-44.7M-12.5,-44.7 -12.0,-44.5 -11.3,-44.2 -10.6,-43.9 -10.1,-43.6 -9.5,-43.3 -8.9,-43.0M-25.9,-43.2 -25.9,-44.0 -25.8,-44.7M-2.4,-44.7 -1.4,-44.4 -0.5,-44.1 0.5,-43.9 1.4,-43.6 2.3,-43.4 3.2,-43.2 4.1,-43.0M12.3,-43.1 12.9,-43.2 13.7,-43.5 14.5,-43.8 15.2,-44.2 15.8,-44.6 16.2,-44.8M5.5,-44.6 4.8,-44.3 4.2,-44.0 3.5,-43.7 2.8,-43.4 2.2,-43.1 1.9,-43.0M24.8,-43.1 24.7,-43.8 24.6,-44.4 24.4,-45.0M6.3,-44.7 5.4,-44.3 4.5,-44.0 3.6,-43.7 2.7,-43.4 1.8,-43.1 1.3,-43.0M-15.7,-43.1 -16.2,-43.6 -16.6,-44.0 -16.9,-44.6 -17.0,-44.8M-10.2,-44.6 -9.4,-44.3 -8.8,-44.0 -8.2,-43.8 -7.7,-43.5 -7.1,-43.2 -6.5,-42.9M18.1,-43.1 17.4,-43.2 16.7,-43.2 16.0,-43.2 15.2,-43.1 14.9,-43.0" stroke="#25c3c5"/><path d="M37.2,-44.7 37.5,-45.9 37.8,-47.2M-8.3,-46.3 -9.0,-46.1 -9.6,-45.8 -10.2,-45.4 -10.4,-44.9 -10.3,-44.7M-27.8,-45.2 -27.7,-46.1 -27.7,-46.5M0.8,-46.3 1.8,-46.1 2.9,-45.9 3.9,-45.7 4.9,-45.6 5.9,-45.5 6.9,-45.4 7.8,-45.4 8.7,-45.4 9.6,-45.4 10.5,-45.5 11.3,-45.6 12.1,-45.8 12.8,-45.9 13.5,-46.1 14.2,-46.4M0.5,-46.3 -0.3,-46.1 -1.1,-45.8 -1.8,-45.5 -2.5,-45.3 -3.2,-45.1 -3.9,-44.9 -4.6,-44.7 -4.9,-44.6M-14.0,-44.7 -13.3,-45.0 -12.7,-44.7 -12.5,-44.7M-25.8,-44.7 -25.7,-45.4 -25.5,-46.1 -25.4,-46.4M-6.8,-46.2 -5.8,-45.9 -4.9,-45.5 -3.9,-45.2 -2.9,-44.9 -2.4,-44.7M16.2,-44.8 16.7,-45.2 17.2,-45.8 17.5,-46.3 17.6,-46.5M9.3,-46.3 8.7,-46.0 8.1,-45.8 7.4,-45.5 6.8,-45.2 6.1,-44.9 5.5,-44.6M24.4,-45.0 24.1,-45.7 23.6,-46.4M10.8,-46.3 9.9,-46.0 9.0,-45.7 8.1,-45.4 7.2,-45.0 6.3,-44.7M-17.0,-44.8 -17.0,-45.5 -16.6,-45.9 -16.0,-46.1 -15.3,-46.1 -14.6,-46.1 -13.8,-45.9 -13.1,-45.7 -12.5,-45.5 -11.7,-45.2 -11.0,-44.9 -10.2,-44.6" stroke="#27c1c7"/><path d="M37.8,-47.2 38.0,-48.4M-4.1,-48.0 -4.8,-47.7 -5.5,-47.4 -6.2,-47.2 -6.8,-46.9 -7.5,-46.6 -8.2,-46.4 -8.3,-46.3M-27.7,-46.5 -27.6,-47.4 -27.4,-48.1M-4.8,-48.0 -3.7,-47.6 -2.5,-47.2 -1.4,-46.9 -0.3,-46.6 0.8,-46.3M14.2,-46.4 14.9,-46.7 15.5,-46.9 16.0,-47.2 16.5,-47.6 17.2,-48.1M4.4,-47.9 3.6,-47.6 2.8,-47.2 2.0,-46.9 1.2,-46.6 0.5,-46.3M-25.4,-46.4 -25.1,-47.0 -24.8,-47.5 -24.3,-48.2M-11.8,-48.0 -10.8,-47.7 -9.8,-47.3 -8.8,-47.0 -7.8,-46.6 -6.8,-46.2M17.6,-46.5 17.8,-47.1 17.8,-47.7 17.5,-48.0M13.9,-48.0 13.1,-47.8 12.3,-47.5 11.7,-47.3 11.2,-47.1 10.6,-46.8 10.0,-46.6 9.3,-46.3M23.6,-46.4 23.1,-47.0 22.4,-47.5 21.7,-47.8 20.8,-48.1M16.8,-48.0 16.0,-47.8 15.2,-47.7 14.3,-47.4 13.5,-47.2 12.6,-46.9 11.7,-46.6 10.8,-46.3" stroke="#30b5cb"/><path d="M38.0,-48.4 38.3,-49.6 38.5,-50.8M-0.6,-49.7 -1.2,-49.4 -1.8,-49.1 -2.3,-48.8 -3.1,-48.5 -3.9,-48.1 -4.1,-48.0M-27.4,-48.1 -27.2,-48.9 -26.9,-49.6 -26.7,-49.9M-9.4,-49.5 -8.8,-49.3 -8.2,-49.1 -7.7,-48.9 -7.1,-48.7 -6.5,-48.5 -6.0,-48.3 -5.4,-48.2 -4.8,-48.0M17.2,-48.1 17.8,-48.6 18.3,-49.1 18.7,-49.7 18.8,-49.9M8.3,-49.6 7.5,-49.3 6.7,-48.9 5.9,-48.6 5.2,-48.2 4.4,-47.9M-24.3,-48.2 -23.6,-48.8 -22.9,-49.2 -22.3,-49.4 -21.7,-49.6 -21.1,-49.7M-18.5,-49.7 -17.7,-49.6 -16.8,-49.4 -16.0,-49.2 -15.1,-49.0 -14.1,-48.7 -13.2,-48.5 -12.3,-48.1 -11.8,-48.0M17.5,-48.0 16.9,-48.3 16.2,-48.4 15.4,-48.4 14.8,-48.3 14.1,-48.1 13.9,-48.0M20.8,-48.1 20.2,-48.2 19.6,-48.2 18.9,-48.2 18.2,-48.2 17.5,-48.1 16.8,-48.0" stroke="#3da4cf"/><path d="M38.5,-50.8 38.7,-52.0M2.4,-51.2 1.8,-50.9 1.2,-50.6 0.6,-50.3 -0.0,-50.0 -0.6,-49.7M-26.7,-49.9 -26.3,-50.4 -25.9,-51.0 -25.4,-51.4M-14.4,-51.2 -13.3,-50.9 -12.2,-50.5 -11.1,-50.1 -10.0,-49.7 -9.4,-49.5M18.8,-49.9 19.2,-50.5 19.3,-51.1 19.3,-51.4M12.4,-51.3 11.7,-51.0 10.9,-50.7 10.2,-50.4 9.5,-50.1 8.7,-49.8 8.3,-49.6M-21.1,-49.7 -20.4,-49.8 -19.6,-49.8 -18.9,-49.7 -18.5,-49.7" stroke="#4490ca"/><path d="M38.7,-52.0 38.9,-53.1M5.4,-52.9 4.8,-52.6 4.2,-52.2 3.6,-51.9 3.0,-51.6 2.4,-51.2M-25.4,-51.4 -24.8,-51.8 -24.2,-52.1 -23.5,-52.3 -22.8,-52.4 -22.0,-52.5 -21.2,-52.5 -20.3,-52.5 -19.4,-52.4 -18.5,-52.3 -17.5,-52.1 -16.5,-51.8 -15.5,-51.5 -14.4,-51.2M19.3,-51.4 19.0,-52.0 18.5,-52.3 17.8,-52.5 17.0,-52.5 16.3,-52.4 15.5,-52.3 14.6,-52.0 14.0,-51.8 13.4,-51.6 12.7,-51.4 12.4,-51.3" stroke="#4a79c2"/><path d="M38.9,-53.1 39.0,-54.3 39.1,-55.4M8.3,-54.6 7.8,-54.3 7.2,-53.9 6.6,-53.6 6.0,-53.3 5.4,-52.9" stroke="#4f63b9"/><path d="M39.1,-55.4 39.2,-56.5M11.0,-56.2 10.3,-55.8 9.6,-55.4 8.8,-54.9 8.3,-54.6" stroke="#575bb6"/><path d="M39.2,-56.5 39.2,-57.6 39.2,-58.7M13.6,-58.0 13.1,-57.5 12.4,-57.1 11.8,-56.7 11.2,-56.3 11.0,-56.2" stroke="#5f54b4"/><path d="M39.2,-58.7 39.2,-59.7M3.9,-59.6 4.7,-59.4 5.5,-59.2 6.3,-59.0 7.1,-58.8 7.8,-58.6 8.5,-58.5 9.1,-58.4 9.7,-58.3 10.5,-58.2 11.3,-58.2 11.9,-58.1 12.6,-58.1 13.2,-58.1 13.6,-58.0" stroke="#684eb2"/><path d="M39.2,-59.7 39.2,-60.7 39.1,-61.6M-0.6,-61.2 0.3,-60.9 1.3,-60.5 2.2,-60.2 3.0,-59.9 3.9,-59.6" stroke="#7048b0"/><path d="M39.1,-61.6 39.0,-62.5 38.8,-63.4M3.2,-62.7 2.1,-62.5 1.1,-62.2 -0.0,-62.0 -1.1,-61.9 -2.2,-61.7 -3.2,-61.6 -4.3,-61.5 -5.3,-61.5 -6.4,-61.5 -7.4,-61.5 -8.4,-61.5 -9.4,-61.6 -10.3,-61.7 -11.3,-61.8 -12.2,-62.0 -13.1,-62.2 -14.0,-62.4 -14.9,-62.7 -15.8,-63.0M-4.4,-62.9 -3.5,-62.5 -2.5,-62.0 -1.6,-61.6 -0.6,-61.2" stroke="#8148b2"/><path d="M38.8,-63.4 38.6,-64.2 38.4,-65.0M8.8,-64.3 7.7,-63.9 6.6,-63.6 5.4,-63.3 4.3,-63.0 3.2,-62.7M-15.8,-63.0 -16.6,-63.3 -17.4,-63.7 -18.2,-64.0 -19.0,-64.4 -19.7,-64.9M-7.7,-64.5 -6.8,-64.0 -5.9,-63.6 -4.9,-63.1 -4.4,-62.9" stroke="#9248b4"/><path d="M38.4,-65.0 38.1,-65.7 37.8,-66.4M14.3,-66.1 13.2,-65.7 12.1,-65.4 11.0,-65.0 9.9,-64.6 8.8,-64.3M-19.7,-64.9 -20.5,-65.3 -21.2,-65.8 -21.8,-66.3M-11.2,-66.2 -10.4,-65.8 -9.5,-65.4 -8.6,-64.9 -7.7,-64.5" stroke="#a248b6"/><path d="M37.8,-66.4 37.5,-67.0 37.1,-67.6 36.7,-68.2M18.6,-67.7 17.5,-67.3 16.5,-66.9 15.4,-66.5 14.3,-66.1M-21.8,-66.3 -22.5,-66.8 -23.1,-67.3 -23.7,-67.8 -24.2,-68.4M-4.0,-67.8 -4.6,-67.7 -5.2,-67.6 -5.8,-67.5 -6.4,-67.4 -7.5,-67.2 -8.6,-67.1 -9.7,-67.1 -10.7,-67.1 -11.6,-67.1 -12.5,-67.2 -13.3,-67.2 -14.1,-67.4 -14.8,-67.5 -15.4,-67.7 -16.1,-67.9M-14.8,-67.9 -14.2,-67.6 -13.5,-67.3 -12.8,-67.0 -12.0,-66.6 -11.2,-66.2" stroke="#b148b8"/><path d="M36.7,-68.2 36.3,-68.6 35.8,-69.1 35.3,-69.4 34.7,-69.7M23.6,-69.3 22.7,-69.0 21.7,-68.7 20.7,-68.4 19.6,-68.0 18.6,-67.7M-24.2,-68.4 -24.8,-69.0 -25.3,-69.5 -25.7,-70.1M2.0,-69.5 1.3,-69.3 0.6,-69.0 -0.1,-68.8 -0.7,-68.6 -1.4,-68.4 -2.0,-68.3 -2.7,-68.1 -3.3,-67.9 -4.0,-67.8M-16.1,-67.9 -16.7,-68.2 -17.3,-68.5 -16.7,-68.6 -16.1,-68.4 -15.3,-68.1 -14.8,-67.9" stroke="#b74ab6"/><path d="M34.7,-69.7 34.1,-70.0 33.5,-70.2 32.8,-70.4 32.1,-70.5 31.4,-70.6 30.7,-70.6 29.9,-70.6 29.1,-70.5 28.2,-70.4 27.4,-70.2 26.5,-70.1 25.5,-69.8 24.6,-69.6 23.6,-69.3M-25.7,-70.1 -26.2,-70.7 -26.6,-71.2M-0.0,-71.2 0.9,-71.0 1.7,-70.8 2.6,-70.6 3.5,-70.5 4.3,-70.4 5.2,-70.3 6.0,-70.2 6.8,-70.1 7.6,-70.1 8.4,-70.1 9.2,-70.1 9.9,-70.1 10.7,-70.1 11.4,-70.2 12.1,-70.3 12.8,-70.4 13.5,-70.5 14.1,-70.7 14.7,-70.8 15.3,-71.0 15.9,-71.2 16.5,-71.4M6.1,-71.0 5.4,-70.8 4.7,-70.5 4.0,-70.2 3.3,-70.0 2.6,-69.7 2.0,-69.5" stroke="#be4db3"/><path d="M-26.6,-71.2 -26.9,-71.8 -27.3,-72.4 -27.6,-72.9M-5.4,-72.8 -4.5,-72.5 -3.6,-72.2 -2.7,-71.9 -1.8,-71.7 -0.9,-71.4 -0.0,-71.2M16.5,-71.4 17.5,-71.8 18.5,-72.3 19.4,-72.8 19.7,-73.0M10.1,-72.8 9.4,-72.5 8.7,-72.2 8.1,-71.9 7.4,-71.6 6.7,-71.3 6.1,-71.0" stroke="#c44fb1"/><path d="M-27.6,-72.9 -27.8,-73.5 -28.2,-74.5 -28.4,-75.0M-9.9,-74.4 -9.1,-74.1 -8.2,-73.7 -7.3,-73.4 -6.3,-73.1 -5.4,-72.8M19.7,-73.0 20.4,-73.5 21.0,-74.0 21.5,-74.5 21.7,-74.8M13.8,-74.4 13.2,-74.1 12.6,-73.9 12.0,-73.6 11.3,-73.3 10.7,-73.0 10.1,-72.8" stroke="#c952af"/><path d="M-28.4,-75.0 -28.6,-76.0 -28.6,-76.4M-14.3,-76.2 -13.5,-75.8 -12.6,-75.5 -11.7,-75.1 -10.8,-74.8 -9.9,-74.4M21.7,-74.8 22.1,-75.4 22.3,-76.1 22.2,-76.3M18.0,-76.1 17.1,-75.7 16.0,-75.3 14.9,-74.9 14.4,-74.6 13.8,-74.4" stroke="#cb57ad"/><path d="M-28.6,-76.4 -28.6,-77.2 -28.4,-77.9M-18.3,-77.7 -17.6,-77.4 -16.8,-77.1 -16.0,-76.8 -15.1,-76.5 -14.3,-76.2M22.2,-76.3 21.6,-76.7 20.9,-76.8 20.0,-76.7 19.3,-76.5 18.4,-76.2 18.0,-76.1" stroke="#cd5cab"/><path d="M-28.4,-77.9 -28.1,-78.5 -27.6,-78.9 -27.0,-79.3 -26.2,-79.4 -25.3,-79.5 -24.3,-79.4 -23.2,-79.2 -22.5,-79.1 -21.9,-78.9 -21.2,-78.7 -20.5,-78.5 -19.8,-78.3 -19.1,-78.0 -18.3,-77.7" stroke="#cf61a9"/></g></defs>
<use href="#b3" transform="translate(229.6,325.5)"/>
<line x1="288.9" y1="325.5" x2="360.1" y2="325.5" stroke="#999" stroke-width="0.7" />
<line x1="319.5" y1="244.7" x2="319.5" y2="326" stroke="#999" stroke-width="0.7" />
<path d="M291.12 325.8V325.2M293.7 325.8V325.2M296.28 325.8V325.2M298.86 325.8V325.2M301.44 325.8V325.2M304.02 325.8V325.2M306.6 325.8V325.2M309.18 325.8V325.2M311.76 325.8V325.2M314.34 325.8V325.2M316.92 325.8V325.2M319.5 325.8V325.2M322.08 325.8V325.2M324.66 325.8V325.2M327.24 325.8V325.2M329.82 325.8V325.2M332.4 325.8V325.2M334.98 325.8V325.2M337.56 325.8V325.2M340.14 325.8V325.2M342.72 325.8V325.2M345.3 325.8V325.2M347.88 325.8V325.2M350.46 325.8V325.2M353.04 325.8V325.2M355.62 325.8V325.2M358.2 325.8V325.2M319.2 325.5H319.8M319.2 322.88H319.8M319.2 320.26H319.8M319.2 317.64H319.8M319.2 315.02H319.8M319.2 312.4H319.8M319.2 309.78H319.8M319.2 307.16H319.8M319.2 304.54H319.8M319.2 301.92H319.8M319.2 299.3H319.8M319.2 296.68H319.8M319.2 294.06H319.8M319.2 291.44H319.8M319.2 288.82H319.8M319.2 286.2H319.8M319.2 283.58H319.8M319.2 280.96H319.8M319.2 278.34H319.8M319.2 275.72H319.8M319.2 273.1H319.8M319.2 270.48H319.8M319.2 267.86H319.8M319.2 265.24H319.8M319.2 262.62H319.8M319.2 260H319.8M319.2 257.38H319.8M319.2 254.76H319.8M319.2 252.14H319.8M319.2 249.52H319.8M319.2 246.9H319.8M293.7 325.5V324.5M306.6 325.5V324.5M332.4 325.5V324.5M345.3 325.5V324.5M358.2 325.5V324.5M319.5 312.4H320.5M319.5 299.3H320.5M319.5 286.2H320.5M319.5 273.1H320.5M319.5 260H320.5M319.5 246.9H320.5" stroke="#444" stroke-width="0.6" fill="none"/>
<text x="293.7" y="330.8" font-size="5" text-anchor="middle" fill="#111" font-weight="normal" stroke="#111" stroke-width="0.11" >&#8722;20</text>
<text x="306.6" y="330.8" font-size="5" text-anchor="middle" fill="#111" font-weight="normal" stroke="#111" stroke-width="0.11" >&#8722;10</text>
<text x="332.4" y="330.8" font-size="5" text-anchor="middle" fill="#111" font-weight="normal" stroke="#111" stroke-width="0.11" >10</text>
<text x="345.3" y="330.8" font-size="5" text-anchor="middle" fill="#111" font-weight="normal" stroke="#111" stroke-width="0.11" >20</text>
<text x="358.2" y="330.8" font-size="5" text-anchor="middle" fill="#111" font-weight="normal" stroke="#111" stroke-width="0.11" >30</text>
<text x="317.8" y="314.05" font-size="5" text-anchor="end" fill="#111" font-weight="normal" stroke="#111" stroke-width="0.11" >10</text>
<text x="317.8" y="300.95" font-size="5" text-anchor="end" fill="#111" font-weight="normal" stroke="#111" stroke-width="0.11" >20</text>
<text x="317.8" y="287.85" font-size="5" text-anchor="end" fill="#111" font-weight="normal" stroke="#111" stroke-width="0.11" >30</text>
<text x="317.8" y="274.75" font-size="5" text-anchor="end" fill="#111" font-weight="normal" stroke="#111" stroke-width="0.11" >40</text>
<text x="317.8" y="261.65" font-size="5" text-anchor="end" fill="#111" font-weight="normal" stroke="#111" stroke-width="0.11" >50</text>
<text x="317.8" y="248.55" font-size="5" text-anchor="end" fill="#111" font-weight="normal" stroke="#111" stroke-width="0.11" >60</text>
<text x="319.5" y="241.6" font-size="5" text-anchor="middle" fill="#111" font-weight="normal" stroke="#111" stroke-width="0.11" >z2(t)</text>
<text x="363.8" y="327.15" font-size="4.8" text-anchor="start" fill="#111" font-weight="normal" stroke="#111" stroke-width="0.11" >x2(t)</text>
<use href="#b3" transform="translate(319.5,325.5)"/>
<line x1="380.5" y1="325.3" x2="451.5" y2="325.3" stroke="#999" stroke-width="0.7" />
<line x1="413.4" y1="263.6" x2="413.4" y2="326" stroke="#999" stroke-width="0.7" />
<path d="M382.04 325.6V325M384 325.6V325M385.96 325.6V325M387.92 325.6V325M389.88 325.6V325M391.84 325.6V325M393.8 325.6V325M395.76 325.6V325M397.72 325.6V325M399.68 325.6V325M401.64 325.6V325M403.6 325.6V325M405.56 325.6V325M407.52 325.6V325M409.48 325.6V325M411.44 325.6V325M413.4 325.6V325M415.36 325.6V325M417.32 325.6V325M419.28 325.6V325M421.24 325.6V325M423.2 325.6V325M425.16 325.6V325M427.12 325.6V325M429.08 325.6V325M431.04 325.6V325M433 325.6V325M434.96 325.6V325M436.92 325.6V325M438.88 325.6V325M440.84 325.6V325M442.8 325.6V325M444.76 325.6V325M446.72 325.6V325M448.68 325.6V325M450.64 325.6V325M413.1 325.3H413.7M413.1 323.3H413.7M413.1 321.3H413.7M413.1 319.3H413.7M413.1 317.3H413.7M413.1 315.3H413.7M413.1 313.3H413.7M413.1 311.3H413.7M413.1 309.3H413.7M413.1 307.3H413.7M413.1 305.3H413.7M413.1 303.3H413.7M413.1 301.3H413.7M413.1 299.3H413.7M413.1 297.3H413.7M413.1 295.3H413.7M413.1 293.3H413.7M413.1 291.3H413.7M413.1 289.3H413.7M413.1 287.3H413.7M413.1 285.3H413.7M413.1 283.3H413.7M413.1 281.3H413.7M413.1 279.3H413.7M413.1 277.3H413.7M413.1 275.3H413.7M413.1 273.3H413.7M413.1 271.3H413.7M413.1 269.3H413.7M413.1 267.3H413.7M413.1 265.3H413.7M384 325.3V324.3M393.8 325.3V324.3M403.6 325.3V324.3M423.2 325.3V324.3M433 325.3V324.3M442.8 325.3V324.3M413.4 315.3H414.4M413.4 305.3H414.4M413.4 295.3H414.4M413.4 285.3H414.4M413.4 275.3H414.4M413.4 265.3H414.4" stroke="#444" stroke-width="0.6" fill="none"/>
<text x="384" y="330.6" font-size="5" text-anchor="middle" fill="#111" font-weight="normal" stroke="#111" stroke-width="0.11" >&#8722;30</text>
<text x="393.8" y="330.6" font-size="5" text-anchor="middle" fill="#111" font-weight="normal" stroke="#111" stroke-width="0.11" >&#8722;20</text>
<text x="403.6" y="330.6" font-size="5" text-anchor="middle" fill="#111" font-weight="normal" stroke="#111" stroke-width="0.11" >&#8722;10</text>
<text x="423.2" y="330.6" font-size="5" text-anchor="middle" fill="#111" font-weight="normal" stroke="#111" stroke-width="0.11" >10</text>
<text x="433" y="330.6" font-size="5" text-anchor="middle" fill="#111" font-weight="normal" stroke="#111" stroke-width="0.11" >20</text>
<text x="442.8" y="330.6" font-size="5" text-anchor="middle" fill="#111" font-weight="normal" stroke="#111" stroke-width="0.11" >30</text>
<text x="411.7" y="316.95" font-size="5" text-anchor="end" fill="#111" font-weight="normal" stroke="#111" stroke-width="0.11" >10</text>
<text x="411.7" y="306.95" font-size="5" text-anchor="end" fill="#111" font-weight="normal" stroke="#111" stroke-width="0.11" >20</text>
<text x="411.7" y="296.95" font-size="5" text-anchor="end" fill="#111" font-weight="normal" stroke="#111" stroke-width="0.11" >30</text>
<text x="411.7" y="286.95" font-size="5" text-anchor="end" fill="#111" font-weight="normal" stroke="#111" stroke-width="0.11" >40</text>
<text x="411.7" y="276.95" font-size="5" text-anchor="end" fill="#111" font-weight="normal" stroke="#111" stroke-width="0.11" >50</text>
<text x="411.7" y="266.95" font-size="5" text-anchor="end" fill="#111" font-weight="normal" stroke="#111" stroke-width="0.11" >60</text>
<text x="413.4" y="260.5" font-size="5" text-anchor="middle" fill="#111" font-weight="normal" stroke="#111" stroke-width="0.11" >z1(t)</text>
<text x="454" y="326.95" font-size="4.8" text-anchor="start" fill="#111" font-weight="normal" stroke="#111" stroke-width="0.11" >y1(t)</text>
<defs><g id="b5" fill="none" stroke-width="0.55" stroke-linejoin="round"><path d="M1.0,-0.0 1.6,-0.0 2.2,-0.0 2.8,-0.1 3.4,-0.1 4.0,-0.2 4.7,-0.2 5.4,-0.3 6.1,-0.4 6.7,-0.5 7.3,-0.6 8.0,-0.8 8.8,-0.9 9.5,-1.1 10.1,-1.2 10.4,-1.3" stroke="#d8708b"/><path d="M10.4,-1.3 11.1,-1.5 11.9,-1.7 12.7,-2.0 13.3,-2.2 13.9,-2.4 14.6,-2.7" stroke="#d87c80"/><path d="M14.6,-2.7 15.2,-2.9 15.9,-3.2 16.6,-3.5 17.4,-3.9" stroke="#d88876"/><path d="M17.4,-3.9 18.1,-4.2 18.9,-4.6 19.7,-5.1" stroke="#d8946c"/><path d="M19.7,-5.1 20.5,-5.6 21.3,-6.1 21.8,-6.4" stroke="#d8a263"/><path d="M21.8,-6.4 22.6,-7.0 23.5,-7.6" stroke="#d8b15c"/><path d="M23.5,-7.6 24.4,-8.3 25.3,-9.1" stroke="#d8bf54"/><path d="M25.3,-9.1 25.8,-9.5 26.2,-9.9 26.7,-10.3" stroke="#d8ce4d"/><path d="M26.7,-10.3 27.1,-10.8 27.6,-11.2 28.0,-11.7M-2.8,-11.4 -3.4,-11.0 -4.0,-10.8 -4.6,-10.6 -5.2,-10.5 -5.8,-10.5 -6.5,-10.4 -7.1,-10.4 -7.9,-10.5 -8.5,-10.6 -9.2,-10.7 -9.8,-10.8 -10.5,-11.0 -11.1,-11.2 -11.8,-11.4" stroke="#d2d847"/><path d="M28.0,-11.7 28.5,-12.2 28.9,-12.7M-1.6,-12.6 -1.9,-12.1 -2.4,-11.7 -2.8,-11.4M-11.8,-11.4 -12.6,-11.7 -13.2,-12.0 -13.7,-12.3 -14.4,-12.6 -14.6,-12.7M-3.6,-12.6 -4.2,-12.4 -4.7,-12.2 -5.4,-12.0 -6.1,-11.9 -6.7,-11.9 -7.3,-11.9 -8.0,-11.9 -8.6,-12.0 -9.3,-12.1 -10.0,-12.3 -10.6,-12.4 -11.2,-12.6 -11.3,-12.7M6.1,-12.6 6.7,-12.6 7.4,-12.6 8.1,-12.6 8.2,-12.7" stroke="#bfd845"/><path d="M28.9,-12.7 29.4,-13.3 29.8,-13.8 30.2,-14.4M-0.9,-13.9 -1.2,-13.3 -1.5,-12.8 -1.6,-12.6M-14.6,-12.7 -15.2,-13.1 -15.8,-13.5 -16.5,-13.9M-2.2,-13.9 -2.6,-13.4 -3.1,-13.0 -3.6,-12.7 -3.6,-12.6M-11.3,-12.7 -12.0,-12.9 -12.7,-13.2 -13.4,-13.6 -13.9,-13.9 -14.1,-14.0M3.2,-13.9 3.7,-13.5 4.2,-13.2 4.8,-12.9 5.4,-12.8 6.0,-12.7 6.1,-12.6M8.2,-12.7 8.9,-12.8 9.5,-12.9 10.2,-13.0 10.9,-13.3 11.5,-13.5 12.1,-13.7 12.6,-14.0" stroke="#acd843"/><path d="M30.2,-14.4 30.6,-15.0 31.1,-15.6M-0.5,-15.2 -0.7,-14.6 -0.9,-14.0 -0.9,-13.9M-16.5,-13.9 -17.2,-14.4 -17.8,-15.0 -18.3,-15.3M-1.4,-15.2 -1.7,-14.6 -2.0,-14.1 -2.2,-13.9M-14.1,-14.0 -14.6,-14.3 -15.2,-14.7 -15.8,-15.1 -16.0,-15.2M2.3,-15.1 2.6,-14.6 3.0,-14.1 3.2,-13.9M12.6,-14.0 13.2,-14.3 13.9,-14.7 14.4,-15.0 14.7,-15.2" stroke="#99d841"/><path d="M31.1,-15.6 31.5,-16.2 31.8,-16.9M-0.1,-16.4 -0.3,-15.8 -0.5,-15.2 -0.5,-15.2M-18.3,-15.3 -18.7,-15.8 -19.1,-16.2 -19.6,-16.7M-0.8,-16.4 -1.1,-15.8 -1.3,-15.3 -1.4,-15.2M-16.0,-15.2 -16.5,-15.7 -17.1,-16.2 -17.5,-16.5M2.0,-16.4 2.1,-15.8 2.3,-15.2 2.3,-15.1M14.7,-15.2 15.3,-15.6 15.8,-16.0 16.3,-16.5M6.7,-16.4 7.3,-16.3 8.0,-16.3 8.6,-16.4 9.3,-16.5M6.1,-16.4 6.7,-16.3 7.3,-16.2 8.0,-16.2 8.6,-16.2 9.2,-16.3 9.9,-16.5M4.0,-16.4 4.5,-16.1 5.1,-15.8 5.6,-15.5 6.2,-15.4 6.8,-15.3 7.5,-15.2 8.1,-15.2 8.8,-15.3 9.4,-15.4 10.0,-15.6 10.7,-15.8 11.3,-16.0 11.9,-16.3 12.2,-16.5" stroke="#86d746"/><path d="M31.8,-16.9 32.2,-17.5 32.6,-18.2M0.3,-17.7 0.1,-17.1 -0.1,-16.5 -0.1,-16.4M-19.6,-16.7 -20.0,-17.2 -20.4,-17.7 -20.6,-17.9M-0.3,-17.7 -0.6,-17.1 -0.8,-16.5 -0.8,-16.4M-17.5,-16.5 -18.0,-17.1 -18.6,-17.7M2.0,-17.7 1.9,-17.1 2.0,-16.4M16.3,-16.5 16.8,-16.9 17.3,-17.5 17.7,-17.8M4.2,-17.7 4.7,-17.3 5.3,-16.9 5.9,-16.7 6.5,-16.5 6.7,-16.4M9.3,-16.5 9.9,-16.6 10.5,-16.8 11.1,-17.1 11.8,-17.4 12.3,-17.7M3.9,-17.7 4.4,-17.3 5.0,-16.9 5.5,-16.6 6.1,-16.4M9.9,-16.5 10.5,-16.7 11.1,-16.9 11.7,-17.2 12.3,-17.6 12.5,-17.7M2.7,-17.7 3.2,-17.2 3.6,-16.8 4.0,-16.4M12.2,-16.5 12.8,-16.8 13.3,-17.2 13.8,-17.5 14.0,-17.8" stroke="#71d553"/><path d="M32.6,-18.2 32.9,-18.9 33.3,-19.6M0.8,-18.9 0.6,-18.4 0.3,-17.8 0.3,-17.7M-20.6,-17.9 -21.0,-18.5 -21.4,-19.1M0.2,-18.9 -0.0,-18.4 -0.3,-17.8 -0.3,-17.7M-18.6,-17.7 -19.1,-18.4 -19.6,-19.1M2.2,-18.9 2.1,-18.4 2.0,-17.7 2.0,-17.7M17.7,-17.8 18.1,-18.4 18.6,-19.1M-7.3,-19.0 -8.0,-18.9 -8.6,-18.9 -9.2,-19.0M6.3,-18.9 6.9,-18.7 7.5,-18.6 8.1,-18.5 8.7,-18.5 9.3,-18.6 9.9,-18.8 10.4,-19.0M2.8,-19.0 3.3,-18.5 3.7,-18.1 4.2,-17.7M12.3,-17.7 12.8,-18.1 13.4,-18.6 13.9,-19.0M5.9,-18.9 6.5,-18.7 7.1,-18.5 7.7,-18.4 8.4,-18.3 9.0,-18.4 9.7,-18.6 10.3,-18.8 10.7,-19.0M2.7,-18.9 3.1,-18.5 3.6,-18.0 3.9,-17.7M12.5,-17.7 13.0,-18.1 13.6,-18.6 14.0,-19.0M7.0,-19.0 7.7,-18.8 8.3,-18.8 8.9,-18.8 9.5,-18.9 9.7,-19.0M5.2,-19.0 5.8,-18.6 6.3,-18.4 6.9,-18.2 7.5,-18.1 8.1,-18.0 8.8,-18.0 9.4,-18.2 10.0,-18.3 10.7,-18.6 11.2,-18.9 11.4,-19.0M1.7,-18.9 2.1,-18.4 2.5,-18.0 2.7,-17.7M14.0,-17.8 14.5,-18.2 15.0,-18.7 15.4,-19.1" stroke="#5cd35f"/><path d="M33.3,-19.6 33.6,-20.4M6.7,-20.2 7.1,-19.8 7.7,-19.6 8.3,-19.7 8.8,-19.9 9.4,-20.2 9.4,-20.2M1.5,-20.2 1.2,-19.6 0.9,-19.1 0.8,-18.9M-21.4,-19.1 -21.7,-19.7 -22.1,-20.3M0.9,-20.2 0.6,-19.6 0.3,-19.0 0.2,-18.9M-19.6,-19.1 -20.1,-19.9 -20.4,-20.4M2.8,-20.2 2.5,-19.6 2.3,-19.0 2.2,-18.9M18.6,-19.1 19.0,-19.7 19.5,-20.5M-5.0,-20.2 -5.5,-19.8 -6.0,-19.5 -6.6,-19.2 -7.2,-19.0 -7.3,-19.0M-9.2,-19.0 -9.8,-19.2 -10.4,-19.4 -10.9,-19.8 -11.4,-20.2 -11.4,-20.3M5.5,-20.2 6.0,-19.9 6.6,-19.6 7.1,-19.4 7.8,-19.2 8.4,-19.2 9.1,-19.2 9.7,-19.4 10.3,-19.6 10.8,-19.9 11.3,-20.2M-5.7,-20.2 -6.2,-19.9 -6.8,-19.6 -7.4,-19.4 -8.0,-19.3 -8.7,-19.3 -9.3,-19.4 -9.9,-19.6 -10.5,-19.8 -11.0,-20.2 -11.1,-20.3M5.3,-20.2 5.8,-19.9 6.3,-19.6 6.9,-19.3 7.6,-19.1 8.2,-19.1 8.9,-19.1 9.5,-19.2 10.1,-19.4 10.7,-19.7 11.2,-20.0 11.5,-20.3M-6.2,-20.2 -6.8,-19.9 -7.3,-19.7 -8.0,-19.6 -8.6,-19.6 -9.2,-19.6 -9.9,-19.8 -10.4,-20.0 -10.8,-20.3M4.3,-20.2 4.8,-19.8 5.4,-19.5 5.9,-19.1 6.3,-18.9M10.4,-19.0 11.0,-19.3 11.5,-19.6 12.0,-20.1 12.1,-20.3M1.7,-20.2 2.1,-19.7 2.5,-19.3 2.8,-19.0M13.9,-19.0 14.3,-19.6 14.8,-20.2 14.9,-20.3M4.2,-20.2 4.6,-19.8 5.1,-19.4 5.6,-19.1 5.9,-18.9M10.7,-19.0 11.3,-19.4 11.8,-19.8 12.2,-20.2 12.3,-20.3M1.6,-20.2 2.0,-19.7 2.4,-19.3 2.7,-18.9M14.0,-19.0 14.5,-19.5 14.9,-20.0 15.0,-20.3M4.8,-20.2 5.4,-19.8 5.9,-19.5 6.5,-19.2 7.0,-19.0M9.7,-19.0 10.3,-19.2 10.8,-19.5 11.3,-19.9 11.7,-20.2M-6.8,-20.2 -7.3,-20.0 -8.0,-19.8 -8.6,-19.8 -9.2,-19.9 -9.8,-20.0 -10.4,-20.3M3.7,-20.2 4.2,-19.8 4.7,-19.4 5.2,-19.0 5.2,-19.0M11.4,-19.0 11.9,-19.4 12.4,-19.9 12.8,-20.3M0.7,-20.2 1.1,-19.7 1.5,-19.2 1.7,-18.9M15.4,-19.1 15.8,-19.6 16.2,-20.3" stroke="#47d16c"/><path d="M33.6,-20.4 33.9,-21.1 34.2,-21.9M6.8,-21.5 6.6,-20.9 6.6,-20.3 6.7,-20.2M9.4,-20.2 9.8,-20.7 10.1,-21.2 10.3,-21.5M2.5,-21.5 2.1,-21.0 1.7,-20.5 1.5,-20.2M-22.1,-20.3 -22.4,-21.0 -22.7,-21.6M1.7,-21.5 1.4,-20.9 1.0,-20.4 0.9,-20.2M-20.4,-20.4 -20.7,-21.0 -20.9,-21.5M3.7,-21.5 3.3,-21.0 2.9,-20.4 2.8,-20.2M19.5,-20.5 19.8,-21.2 20.0,-21.7M-3.7,-21.4 -4.2,-21.0 -4.6,-20.6 -5.0,-20.2M-11.4,-20.3 -11.9,-20.7 -12.2,-21.3 -12.3,-21.5M3.8,-21.4 4.3,-21.0 4.8,-20.7 5.3,-20.3 5.5,-20.2M11.3,-20.2 11.7,-20.7 12.1,-21.2 12.3,-21.5M-3.9,-21.5 -4.4,-21.1 -4.9,-20.7 -5.5,-20.3 -5.7,-20.2M-11.1,-20.3 -11.6,-20.7 -12.0,-21.2 -12.2,-21.5M3.6,-21.5 4.1,-21.0 4.6,-20.7 5.1,-20.3 5.3,-20.2M11.5,-20.3 11.9,-20.7 12.3,-21.3 12.4,-21.5M-4.3,-21.5 -4.8,-21.1 -5.4,-20.7 -5.9,-20.4 -6.2,-20.2M-10.8,-20.3 -11.2,-20.7 -11.7,-21.2 -11.9,-21.5M2.9,-21.5 3.4,-21.1 3.8,-20.7 4.3,-20.2M12.1,-20.3 12.6,-20.8 12.9,-21.3 13.0,-21.5M-6.4,-21.5 -6.9,-21.2 -7.5,-21.0 -8.2,-20.8 -8.8,-20.7 -9.4,-20.8 -10.0,-21.0 -10.5,-21.3 -10.8,-21.5M0.6,-21.5 1.0,-21.0 1.4,-20.5 1.7,-20.2M14.9,-20.3 15.2,-20.8 15.5,-21.4 15.6,-21.5M2.8,-21.5 3.3,-21.1 3.7,-20.6 4.2,-20.2M12.3,-20.3 12.7,-20.8 13.0,-21.4 13.1,-21.6M-6.6,-21.5 -7.1,-21.2 -7.7,-21.0 -8.4,-20.9 -9.0,-20.8 -9.6,-20.9 -10.2,-21.2 -10.7,-21.5M0.4,-21.5 0.9,-21.0 1.3,-20.5 1.6,-20.2M15.0,-20.3 15.4,-20.8 15.7,-21.4 15.7,-21.5M3.4,-21.5 3.8,-21.1 4.3,-20.6 4.8,-20.2 4.8,-20.2M11.7,-20.2 12.1,-20.7 12.5,-21.2 12.6,-21.6M-4.7,-21.5 -5.2,-21.1 -5.8,-20.7 -6.3,-20.4 -6.8,-20.2M-10.4,-20.3 -10.9,-20.6 -11.3,-21.1 -11.7,-21.5M2.3,-21.4 2.8,-21.0 3.3,-20.6 3.7,-20.2M12.8,-20.3 13.1,-20.8 13.5,-21.4 13.6,-21.5M-0.3,-21.5 0.1,-21.0 0.5,-20.5 0.7,-20.2M16.2,-20.3 16.6,-20.9 16.9,-21.6" stroke="#3bd079"/><path d="M34.2,-21.9 34.4,-22.7 34.7,-23.5M7.0,-22.7 7.0,-22.1 6.8,-21.6 6.8,-21.5M10.3,-21.5 10.4,-22.1 10.3,-22.7 10.3,-22.8M3.8,-22.7 3.3,-22.3 2.8,-21.8 2.5,-21.5M-22.7,-21.6 -22.9,-22.3 -23.1,-23.1M2.8,-22.7 2.4,-22.3 1.9,-21.8 1.7,-21.5M-20.9,-21.5 -21.1,-22.1 -21.3,-22.7 -21.4,-23.0M6.0,-22.8 6.5,-22.4 7.0,-22.1 7.6,-21.8 8.2,-21.6 8.8,-21.5 9.3,-21.8 9.6,-22.3 9.6,-22.8M5.1,-22.7 4.6,-22.4 4.1,-22.0 3.7,-21.5 3.7,-21.5M20.0,-21.7 20.3,-22.6 20.4,-22.8M-2.4,-22.7 -2.9,-22.2 -3.3,-21.8 -3.7,-21.4M-12.3,-21.5 -12.6,-22.1 -12.7,-22.8M2.3,-22.7 2.8,-22.3 3.2,-21.9 3.8,-21.5 3.8,-21.4M12.3,-21.5 12.6,-22.1 12.8,-22.8M-2.5,-22.7 -2.9,-22.3 -3.4,-21.9 -3.9,-21.5M-12.2,-21.5 -12.5,-22.1 -12.6,-22.7 -12.6,-22.8M2.2,-22.7 2.6,-22.3 3.1,-21.9 3.6,-21.5M12.4,-21.5 12.7,-22.1 12.9,-22.6 12.9,-22.8M-2.7,-22.7 -3.2,-22.3 -3.7,-22.0 -4.2,-21.5 -4.3,-21.5M-11.9,-21.5 -12.2,-22.1 -12.4,-22.7 -12.4,-22.8M1.5,-22.7 2.0,-22.3 2.4,-21.9 2.9,-21.5M13.0,-21.5 13.3,-22.1 13.5,-22.7 13.5,-22.8M-4.5,-22.7 -5.0,-22.4 -5.5,-22.0 -6.1,-21.7 -6.4,-21.5M-10.8,-21.5 -11.1,-22.0 -11.4,-22.5 -11.4,-22.8M-0.8,-22.7 -0.2,-22.3 0.2,-21.8 0.6,-21.5M15.6,-21.5 15.8,-22.1 16.0,-22.8M1.6,-22.7 2.0,-22.3 2.5,-21.8 2.8,-21.5M13.1,-21.6 13.4,-22.1 13.5,-22.7 13.5,-22.8M-4.6,-22.7 -5.1,-22.4 -5.7,-22.0 -6.2,-21.7 -6.6,-21.5M-10.7,-21.5 -11.1,-22.0 -11.3,-22.6 -11.4,-22.8M-0.8,-22.7 -0.3,-22.2 0.1,-21.8 0.4,-21.5M15.7,-21.5 16.0,-22.2 16.2,-22.8M2.0,-22.7 2.5,-22.3 3.0,-21.9 3.4,-21.5M12.6,-21.6 12.9,-22.1 13.0,-22.8 13.0,-22.8M-3.1,-22.7 -3.6,-22.3 -4.1,-21.9 -4.6,-21.5 -4.7,-21.5M-11.7,-21.5 -12.0,-22.1 -12.2,-22.7 -12.2,-22.8M0.9,-22.7 1.4,-22.3 1.8,-21.9 2.3,-21.4M13.6,-21.5 13.8,-22.2 14.0,-22.8M-6.3,-22.7 -6.9,-22.4 -7.5,-22.1 -8.1,-21.9 -8.7,-21.8 -9.4,-21.8 -10.0,-21.9 -10.5,-22.2 -10.8,-22.7 -10.9,-22.8M-1.6,-22.7 -1.1,-22.3 -0.7,-21.9 -0.3,-21.5M16.9,-21.6 17.2,-22.4 17.4,-22.9" stroke="#34d086"/><path d="M34.7,-23.5 34.9,-24.3M6.4,-24.0 6.8,-23.5 7.0,-22.9 7.0,-22.7M10.3,-22.8 10.0,-23.3 9.5,-23.7 9.0,-24.0M6.3,-24.0 5.6,-23.8 5.0,-23.5 4.5,-23.2 4.0,-22.9 3.8,-22.7M-23.1,-23.1 -23.3,-23.8 -23.4,-24.2M4.2,-24.0 3.7,-23.6 3.3,-23.2 2.8,-22.8 2.8,-22.7M-21.4,-23.0 -21.6,-23.7 -21.7,-24.3M4.5,-24.0 5.0,-23.6 5.5,-23.2 6.0,-22.8 6.0,-22.8M9.6,-22.8 9.2,-23.3 8.7,-23.6 8.1,-23.7 7.4,-23.7 6.8,-23.5 6.2,-23.4 5.6,-23.1 5.1,-22.8 5.1,-22.7M20.4,-22.8 20.6,-23.7 20.7,-24.3M-1.1,-24.0 -1.6,-23.6 -2.0,-23.1 -2.4,-22.7M-12.7,-22.8 -12.8,-23.4 -12.7,-24.0 -12.7,-24.1M0.7,-24.0 1.2,-23.6 1.7,-23.2 2.3,-22.7M12.8,-22.8 12.8,-23.4 12.8,-24.0 12.7,-24.1M-0.8,-24.0 -1.3,-23.6 -1.8,-23.2 -2.4,-22.8 -2.5,-22.7M-12.6,-22.8 -12.7,-23.5 -12.6,-24.1M0.5,-24.0 1.0,-23.6 1.5,-23.2 2.1,-22.8 2.2,-22.7M12.9,-22.8 12.9,-23.4 12.9,-24.1M-1.1,-24.0 -1.6,-23.6 -2.2,-23.2 -2.7,-22.7M-12.4,-22.8 -12.4,-23.4 -12.3,-24.1M-0.1,-24.0 0.4,-23.6 1.0,-23.1 1.5,-22.7M13.5,-22.8 13.5,-23.4 13.5,-24.1M-2.8,-24.0 -3.3,-23.6 -3.8,-23.2 -4.4,-22.8 -4.5,-22.7M-11.4,-22.8 -11.5,-23.4 -11.3,-24.1M-2.4,-24.0 -1.9,-23.6 -1.4,-23.3 -0.9,-22.9 -0.8,-22.7M16.0,-22.8 16.1,-23.4 16.2,-24.1M0.1,-24.0 0.6,-23.5 1.1,-23.1 1.6,-22.7M13.5,-22.8 13.6,-23.5 13.6,-24.1M-2.9,-24.0 -3.4,-23.6 -4.0,-23.2 -4.5,-22.8 -4.6,-22.7M-11.4,-22.8 -11.4,-23.4 -11.3,-24.0 -11.2,-24.1M-2.5,-24.0 -2.0,-23.7 -1.5,-23.3 -1.1,-22.9 -0.8,-22.7M16.2,-22.8 16.3,-23.5 16.4,-24.2M0.6,-24.0 1.1,-23.5 1.6,-23.1 2.0,-22.7M13.0,-22.8 13.1,-23.5 13.0,-24.1M-1.4,-24.0 -1.9,-23.6 -2.4,-23.3 -2.9,-22.8 -3.1,-22.7M-12.2,-22.8 -12.2,-23.5 -12.1,-24.1M-0.7,-24.0 -0.1,-23.6 0.4,-23.1 0.9,-22.7M14.0,-22.8 14.1,-23.5 14.1,-24.1M-4.3,-24.0 -4.8,-23.6 -5.4,-23.3 -6.0,-22.9 -6.3,-22.7M-10.9,-22.8 -11.0,-23.4 -10.9,-24.0 -10.9,-24.0M-3.3,-24.0 -2.7,-23.6 -2.2,-23.2 -1.7,-22.8 -1.6,-22.7M17.4,-22.9 17.5,-23.5 17.6,-24.1" stroke="#2cd092"/><path d="M34.9,-24.3 35.1,-25.1 35.2,-26.0M5.5,-25.3 5.9,-24.8 6.2,-24.3 6.4,-24.0M9.0,-24.0 8.4,-24.2 7.8,-24.2 7.1,-24.2 6.5,-24.1 6.3,-24.0M-23.4,-24.2 -23.5,-25.0 -23.6,-25.3M6.5,-25.3 5.9,-25.0 5.3,-24.7 4.8,-24.4 4.3,-24.1 4.2,-24.0M-21.7,-24.3 -21.8,-25.0 -21.8,-25.3M3.1,-25.2 3.6,-24.8 4.1,-24.3 4.5,-24.0M20.7,-24.3 20.8,-24.9 20.9,-25.5M0.4,-25.3 -0.0,-24.9 -0.6,-24.4 -1.1,-24.0M-12.7,-24.1 -12.5,-24.7 -12.2,-25.3 -12.1,-25.4M-1.3,-25.3 -0.7,-24.9 -0.2,-24.6 0.4,-24.2 0.7,-24.0M12.7,-24.1 12.6,-24.7 12.3,-25.3 12.2,-25.4M1.1,-25.2 0.5,-24.9 -0.0,-24.5 -0.6,-24.1 -0.8,-24.0M-12.6,-24.1 -12.4,-24.7 -12.1,-25.2 -12.1,-25.3M-1.4,-25.2 -0.8,-24.9 -0.2,-24.5 0.3,-24.1 0.5,-24.0M12.9,-24.1 12.7,-24.7 12.4,-25.3M0.7,-25.2 0.2,-24.9 -0.4,-24.5 -0.9,-24.1 -1.1,-24.0M-12.3,-24.1 -12.1,-24.7 -11.8,-25.3 -11.7,-25.3M-2.1,-25.2 -1.5,-24.9 -1.0,-24.6 -0.4,-24.2 -0.1,-24.0M13.5,-24.1 13.4,-24.7 13.2,-25.3M-0.8,-25.3 -1.4,-24.9 -2.0,-24.5 -2.5,-24.1 -2.8,-24.0M-11.3,-24.1 -11.0,-24.6 -10.5,-25.1 -10.2,-25.3M-4.8,-25.3 -4.2,-25.0 -3.6,-24.7 -3.0,-24.4 -2.5,-24.1 -2.4,-24.0M16.2,-24.1 16.2,-24.8 16.1,-25.4M-9.6,-25.3 -10.2,-25.2 -10.8,-25.2 -11.0,-25.3M-1.7,-25.2 -1.2,-24.9 -0.7,-24.6 -0.1,-24.1 0.1,-24.0M13.6,-24.1 13.5,-24.7 13.2,-25.4M-1.0,-25.3 -1.6,-24.9 -2.1,-24.5 -2.7,-24.1 -2.9,-24.0M-11.2,-24.1 -10.9,-24.6 -10.5,-25.0 -10.0,-25.3M-4.9,-25.3 -4.3,-25.0 -3.7,-24.7 -3.2,-24.4 -2.6,-24.1 -2.5,-24.0M16.4,-24.2 16.4,-24.9 16.3,-25.4M-1.1,-25.3 -0.6,-24.9 -0.1,-24.5 0.4,-24.1 0.6,-24.0M13.0,-24.1 12.9,-24.7 12.6,-25.3M0.5,-25.3 -0.1,-24.9 -0.7,-24.5 -1.2,-24.1 -1.4,-24.0M-12.1,-24.1 -11.9,-24.7 -11.5,-25.2 -11.4,-25.3M-2.8,-25.3 -2.2,-25.0 -1.7,-24.7 -1.2,-24.3 -0.7,-24.0M14.1,-24.1 14.0,-24.8 13.8,-25.4M-2.4,-25.2 -3.0,-24.9 -3.6,-24.5 -4.1,-24.1 -4.3,-24.0M-10.9,-24.0 -10.5,-24.6 -10.0,-25.0 -9.5,-25.2 -9.3,-25.3M-6.1,-25.3 -5.5,-25.1 -4.9,-24.8 -4.2,-24.6 -3.6,-24.2 -3.3,-24.0M17.6,-24.1 17.6,-24.8 17.6,-25.4" stroke="#25d09f"/><path d="M35.2,-26.0 35.3,-26.9M4.4,-26.5 4.9,-26.0 5.3,-25.5 5.5,-25.3M-23.6,-25.3 -23.6,-26.1 -23.7,-26.9M8.2,-26.5 8.7,-26.2 8.2,-25.8 7.6,-25.6 7.0,-25.5 6.5,-25.3M-21.8,-25.3 -21.9,-26.0 -21.9,-26.7M1.5,-26.5 2.0,-26.1 2.5,-25.7 3.0,-25.3 3.1,-25.2M20.9,-25.5 20.9,-26.1 20.8,-26.7M2.2,-26.5 1.6,-26.1 1.1,-25.8 0.6,-25.4 0.4,-25.3M-12.1,-25.4 -11.7,-25.9 -11.2,-26.3 -10.8,-26.6M-4.0,-26.6 -3.3,-26.3 -2.7,-26.0 -2.0,-25.7 -1.4,-25.3 -1.3,-25.3M12.2,-25.4 11.8,-25.9 11.3,-26.3 10.9,-26.6M3.6,-26.5 3.0,-26.2 2.3,-25.9 1.7,-25.6 1.1,-25.2M-12.1,-25.3 -11.7,-25.8 -11.2,-26.2 -10.7,-26.5 -10.6,-26.6M-4.1,-26.5 -3.5,-26.3 -2.8,-26.0 -2.2,-25.7 -1.6,-25.4 -1.4,-25.2M12.4,-25.3 12.0,-25.9 11.5,-26.3 11.2,-26.6M3.3,-26.6 2.6,-26.3 2.0,-25.9 1.3,-25.6 0.7,-25.2M-11.7,-25.3 -11.3,-25.8 -10.7,-26.2 -10.2,-26.5 -9.9,-26.6M-5.1,-26.5 -4.5,-26.3 -3.9,-26.1 -3.2,-25.8 -2.6,-25.5 -2.1,-25.2M13.2,-25.3 12.9,-25.9 12.4,-26.4 12.3,-26.6M1.3,-26.5 0.8,-26.2 0.2,-25.9 -0.3,-25.6 -0.8,-25.3M-10.2,-25.3 -9.6,-25.6 -8.9,-25.8 -8.3,-25.9 -7.6,-25.9 -6.9,-25.8 -6.3,-25.7 -5.7,-25.6 -5.1,-25.4 -4.8,-25.3M16.1,-25.4 16.0,-26.1 15.8,-26.6M-6.6,-26.5 -7.1,-26.2 -7.7,-25.9 -8.3,-25.7 -8.9,-25.5 -9.6,-25.3M-11.0,-25.3 -11.4,-25.8 -11.2,-26.4 -11.0,-26.6M-4.0,-26.5 -3.4,-26.2 -2.9,-26.0 -2.3,-25.6 -1.8,-25.3 -1.7,-25.2M13.2,-25.4 12.9,-25.9 12.4,-26.5 12.4,-26.6M1.2,-26.5 0.6,-26.2 0.1,-25.9 -0.4,-25.6 -1.0,-25.3M-10.0,-25.3 -9.5,-25.6 -8.8,-25.7 -8.2,-25.8 -7.5,-25.8 -6.8,-25.8 -6.2,-25.6 -5.6,-25.5 -5.0,-25.3 -4.9,-25.3M16.3,-25.4 16.2,-26.1 16.1,-26.6M-7.2,-26.5 -7.9,-26.2 -8.5,-26.0 -9.1,-25.7 -9.8,-25.5 -10.4,-25.5 -11.0,-25.5 -11.5,-25.9 -11.4,-26.5 -11.4,-26.6M-3.3,-26.5 -2.7,-26.2 -2.1,-25.9 -1.6,-25.5 -1.1,-25.3M12.6,-25.3 12.2,-25.8 11.8,-26.3 11.4,-26.6M2.8,-26.5 2.3,-26.3 1.6,-25.9 1.0,-25.6 0.5,-25.3M-11.4,-25.3 -10.9,-25.7 -10.4,-26.1 -9.7,-26.3 -9.1,-26.5 -8.9,-26.6M-6.4,-26.5 -5.7,-26.4 -5.1,-26.3 -4.5,-26.1 -3.9,-25.8 -3.3,-25.6 -2.8,-25.3M13.8,-25.4 13.6,-25.9 13.2,-26.5 13.1,-26.6M-0.2,-26.5 -0.8,-26.2 -1.3,-25.9 -1.9,-25.6 -2.4,-25.2M-9.3,-25.3 -8.7,-25.4 -8.0,-25.5 -7.4,-25.5 -6.8,-25.4 -6.1,-25.3M17.6,-25.4 17.5,-26.0 17.4,-26.6" stroke="#20cfaa"/><path d="M35.3,-26.9 35.4,-27.7 35.5,-28.6M3.2,-27.7 3.7,-27.3 4.1,-26.8 4.4,-26.5M-23.7,-26.9 -23.6,-27.8 -23.6,-28.2M6.5,-27.8 7.0,-27.4 7.5,-27.0 8.0,-26.6 8.2,-26.5M-21.9,-26.7 -21.8,-27.4 -21.7,-28.0M-0.3,-27.7 0.2,-27.4 0.8,-27.0 1.4,-26.6 1.5,-26.5M20.8,-26.7 20.8,-27.3 20.7,-28.0M4.7,-27.8 4.1,-27.5 3.5,-27.2 3.0,-26.9 2.4,-26.6 2.2,-26.5M-10.8,-26.6 -10.1,-26.8 -9.5,-27.1 -8.9,-27.2 -8.2,-27.2 -7.6,-27.3 -6.9,-27.2 -6.2,-27.1 -5.5,-27.0 -4.8,-26.8 -4.1,-26.6 -4.0,-26.6M10.9,-26.6 10.2,-26.9 9.6,-27.1 9.0,-27.2 8.3,-27.3 7.7,-27.3 7.0,-27.3 6.3,-27.2 5.6,-27.1 4.9,-26.9 4.2,-26.7 3.6,-26.5M-10.6,-26.6 -10.0,-26.8 -9.3,-27.0 -8.7,-27.1 -8.0,-27.2 -7.4,-27.2 -6.7,-27.2 -6.0,-27.1 -5.4,-26.9 -4.7,-26.7 -4.1,-26.5M11.2,-26.6 10.6,-26.9 9.9,-27.2 9.3,-27.3 8.7,-27.4 8.0,-27.5 7.3,-27.5 6.6,-27.4 5.9,-27.3 5.2,-27.2 4.4,-27.0 3.7,-26.7 3.3,-26.6M-9.9,-26.6 -9.2,-26.8 -8.5,-26.9 -7.9,-26.9 -7.3,-26.9 -6.7,-26.8 -6.0,-26.7 -5.4,-26.6 -5.1,-26.5M12.3,-26.6 11.8,-27.0 11.3,-27.3 10.7,-27.6 10.1,-27.8M4.7,-27.8 4.1,-27.6 3.4,-27.4 2.8,-27.2 2.2,-26.9 1.6,-26.6 1.3,-26.5M15.8,-26.6 15.5,-27.3 15.2,-27.9M-4.0,-27.8 -4.7,-27.5 -5.4,-27.1 -6.0,-26.8 -6.6,-26.5M-11.0,-26.6 -10.5,-26.9 -9.9,-27.2 -9.3,-27.3 -8.6,-27.4 -8.0,-27.5 -7.3,-27.4 -6.6,-27.3 -6.0,-27.2 -5.4,-27.0 -4.8,-26.8 -4.3,-26.6 -4.0,-26.5M12.4,-26.6 11.9,-27.0 11.4,-27.4 10.8,-27.7 10.2,-27.9M4.5,-27.8 3.8,-27.6 3.2,-27.4 2.5,-27.1 1.9,-26.9 1.3,-26.6 1.2,-26.5M16.1,-26.6 15.8,-27.3 15.4,-28.0M-4.8,-27.7 -5.4,-27.4 -6.1,-27.1 -6.7,-26.8 -7.2,-26.5M-11.4,-26.6 -10.9,-27.0 -10.4,-27.3 -9.7,-27.6 -9.0,-27.7 -8.4,-27.7 -7.7,-27.7 -7.0,-27.7 -6.4,-27.6 -5.8,-27.4 -5.2,-27.2 -4.5,-27.0 -3.9,-26.8 -3.3,-26.5M11.4,-26.6 10.8,-26.9 10.3,-27.2 9.7,-27.4 9.0,-27.5 8.3,-27.6 7.6,-27.6 6.9,-27.6 6.2,-27.5 5.6,-27.4 5.0,-27.3 4.4,-27.1 3.8,-26.9 3.2,-26.7 2.8,-26.5M-8.9,-26.6 -8.3,-26.6 -7.6,-26.7 -6.8,-26.6 -6.4,-26.5M13.1,-26.6 12.7,-27.1 12.2,-27.5 11.7,-27.9M2.5,-27.8 1.9,-27.5 1.2,-27.3 0.6,-26.9 -0.0,-26.6 -0.2,-26.5M17.4,-26.6 17.2,-27.3 17.0,-27.9M-8.9,-27.8 -9.6,-27.5 -10.2,-27.4 -10.8,-27.2 -11.4,-27.2 -12.1,-27.3 -12.4,-27.8" stroke="#20cdb0"/><path d="M35.5,-28.6 35.5,-29.5M1.7,-29.1 2.2,-28.6 2.7,-28.2 3.2,-27.7M-23.6,-28.2 -23.5,-29.0 -23.4,-29.4M4.6,-29.1 5.1,-28.7 5.7,-28.3 6.2,-28.0 6.5,-27.8M-21.7,-28.0 -21.6,-28.7 -21.5,-29.1M-2.7,-29.0 -2.1,-28.8 -1.5,-28.5 -1.0,-28.1 -0.5,-27.8 -0.3,-27.7M20.7,-28.0 20.5,-28.6 20.3,-29.2M8.6,-29.0 9.2,-28.7 9.7,-28.5 10.3,-28.3 9.8,-28.6 9.1,-28.7 8.5,-28.7 7.8,-28.6 7.2,-28.5 6.5,-28.4 5.9,-28.2 5.3,-28.0 4.7,-27.8M10.1,-27.8 9.4,-28.0 8.7,-28.1 8.1,-28.2 7.5,-28.2 6.8,-28.2 6.2,-28.1 5.5,-28.0 4.9,-27.8 4.7,-27.8M15.2,-27.9 14.7,-28.5 14.2,-29.1M-1.5,-29.0 -2.2,-28.7 -2.7,-28.5 -3.3,-28.2 -3.9,-27.9 -4.0,-27.8M10.2,-27.9 9.6,-28.1 8.8,-28.2 8.2,-28.2 7.6,-28.3 6.9,-28.2 6.3,-28.2 5.6,-28.1 4.9,-27.9 4.5,-27.8M15.4,-28.0 15.0,-28.6 14.4,-29.2M-2.1,-29.1 -2.7,-28.8 -3.3,-28.5 -3.9,-28.2 -4.4,-27.9 -4.8,-27.7M11.7,-27.9 11.0,-28.2 10.5,-28.4 9.9,-28.6 9.2,-28.7 8.5,-28.8 7.9,-28.9 7.2,-28.8 6.4,-28.8 5.7,-28.7 5.0,-28.6 4.3,-28.4 3.6,-28.2 2.9,-27.9 2.5,-27.8M17.0,-27.9 16.7,-28.5 16.3,-29.1 16.2,-29.3M-6.1,-29.0 -6.7,-28.7 -7.4,-28.4 -8.1,-28.1 -8.7,-27.8 -8.9,-27.8" stroke="#20cbb7"/><path d="M35.5,-29.5 35.5,-30.4M0.1,-30.3 0.6,-30.0 1.0,-29.6 1.6,-29.1 1.7,-29.1M-23.4,-29.4 -23.2,-30.2 -23.0,-30.6M2.7,-30.3 3.4,-29.9 3.9,-29.5 4.5,-29.2 4.6,-29.1M-21.5,-29.1 -21.3,-29.8 -21.0,-30.4M-10.7,-30.3 -11.3,-30.2 -11.2,-30.3M-6.3,-30.3 -5.7,-30.2 -5.1,-30.0 -4.5,-29.8 -3.9,-29.6 -3.3,-29.3 -2.7,-29.0M20.3,-29.2 20.1,-29.8 19.8,-30.4M6.2,-30.3 6.8,-30.0 7.3,-29.7 8.0,-29.3 8.6,-29.0M14.2,-29.1 13.7,-29.5 13.2,-29.8 12.7,-30.2 12.3,-30.4M1.6,-30.3 0.9,-30.0 0.2,-29.8 -0.5,-29.5 -1.1,-29.2 -1.5,-29.0M14.4,-29.2 13.9,-29.6 13.4,-30.0 12.9,-30.3 12.7,-30.4M1.0,-30.3 0.3,-30.1 -0.4,-29.8 -1.0,-29.5 -1.7,-29.2 -2.1,-29.1M16.2,-29.3 15.8,-29.8 15.3,-30.3 15.1,-30.5M-3.3,-30.3 -4.0,-30.0 -4.7,-29.7 -5.3,-29.4 -5.9,-29.1 -6.1,-29.0" stroke="#20c9bd"/><path d="M35.5,-30.4 35.5,-31.4 35.4,-32.3M-1.8,-31.6 -1.3,-31.2 -0.7,-30.9 -0.2,-30.5 0.1,-30.3M-23.0,-30.6 -22.7,-31.4 -22.6,-31.8M0.5,-31.6 1.1,-31.3 1.6,-31.0 2.3,-30.6 2.7,-30.3M-21.0,-30.4 -20.7,-31.1 -20.3,-31.8M-8.0,-31.6 -8.6,-31.3 -9.1,-31.0 -9.7,-30.7 -10.3,-30.5 -10.7,-30.3M-11.2,-30.3 -10.6,-30.5 -9.9,-30.7 -9.3,-30.7 -8.6,-30.7 -7.9,-30.6 -7.3,-30.5 -6.5,-30.4 -6.3,-30.3M19.8,-30.4 19.5,-31.0 19.1,-31.6 18.9,-31.9M-12.1,-31.6 -12.9,-31.4 -13.5,-31.4 -14.2,-31.4 -14.8,-31.5 -15.0,-31.7M4.0,-31.5 4.6,-31.2 5.1,-30.9 5.7,-30.6 6.2,-30.3M12.3,-30.4 11.7,-30.6 11.0,-30.8 10.4,-31.0 9.7,-31.2 9.0,-31.3 8.2,-31.3 7.5,-31.3 6.7,-31.3 6.0,-31.3 5.2,-31.2 4.5,-31.0 3.7,-30.9 3.0,-30.7 2.3,-30.5 1.6,-30.3M12.7,-30.4 12.1,-30.7 11.5,-30.9 10.8,-31.1 10.1,-31.3 9.4,-31.4 8.6,-31.5 7.9,-31.6 7.1,-31.6 6.3,-31.5 5.5,-31.4 4.8,-31.3 4.0,-31.2 3.2,-31.0 2.5,-30.8 1.7,-30.6 1.0,-30.3M15.1,-30.5 14.5,-31.0 13.9,-31.4 13.4,-31.6M0.0,-31.6 -0.8,-31.3 -1.6,-31.0 -2.4,-30.7 -3.1,-30.4 -3.3,-30.3" stroke="#21c7c1"/><path d="M35.4,-32.3 35.3,-33.2M-4.1,-32.8 -3.5,-32.5 -3.0,-32.2 -2.4,-31.9 -1.8,-31.6M-22.6,-31.8 -22.2,-32.6 -22.0,-33.0M-2.2,-32.8 -1.6,-32.6 -1.0,-32.3 -0.4,-32.0 0.1,-31.7 0.5,-31.6M-20.3,-31.8 -19.9,-32.4 -19.5,-33.0M12.6,-32.9 13.2,-32.7 13.8,-32.6 14.5,-32.6 15.2,-32.6 15.9,-32.8 15.9,-32.9M-5.5,-32.8 -6.2,-32.5 -6.7,-32.2 -7.3,-31.9 -8.0,-31.6M18.9,-31.9 18.5,-32.4 18.0,-32.9M-8.6,-32.8 -9.4,-32.5 -10.1,-32.2 -10.9,-32.0 -11.5,-31.8 -12.1,-31.6M-15.0,-31.7 -15.3,-32.2 -15.1,-32.9M1.4,-32.8 2.1,-32.5 2.7,-32.1 3.4,-31.8 4.0,-31.5M13.4,-31.6 12.7,-32.0 11.9,-32.3 11.2,-32.5 10.3,-32.7 9.5,-32.9 9.2,-32.9M5.3,-32.9 4.7,-32.8 4.1,-32.7 3.5,-32.6 2.9,-32.4 2.3,-32.3 1.7,-32.1 0.8,-31.9 0.0,-31.6" stroke="#23c5c3"/><path d="M35.3,-33.2 35.1,-34.1M-7.3,-34.1 -6.6,-33.9 -6.0,-33.6 -5.3,-33.4 -4.7,-33.1 -4.1,-32.8M-22.0,-33.0 -21.5,-33.7 -20.9,-34.5M-10.8,-34.1 -11.5,-33.8 -12.2,-33.6 -12.7,-33.6 -12.2,-34.0 -11.7,-34.1M-6.6,-34.1 -6.0,-34.0 -5.4,-33.9 -4.7,-33.7 -4.1,-33.5 -3.5,-33.3 -2.8,-33.1 -2.2,-32.8M-19.5,-33.0 -19.0,-33.6 -18.4,-34.2M8.7,-34.1 9.4,-33.9 10.0,-33.7 10.5,-33.5 11.4,-33.2 12.1,-33.0 12.6,-32.9M15.9,-32.9 16.3,-33.5 16.1,-34.1 16.1,-34.2M-3.0,-34.0 -3.7,-33.7 -4.4,-33.3 -5.1,-33.0 -5.5,-32.8M18.0,-32.9 17.5,-33.4 16.9,-33.9 16.3,-34.3M-5.1,-34.1 -5.8,-33.9 -6.5,-33.6 -7.1,-33.4 -7.7,-33.1 -8.3,-32.9 -8.6,-32.8M-15.1,-32.9 -14.7,-33.4 -14.1,-33.9 -13.5,-34.2M-1.9,-34.1 -1.1,-33.8 -0.3,-33.5 0.4,-33.2 1.1,-32.9 1.4,-32.8M9.2,-32.9 8.3,-33.0 7.4,-33.0 6.8,-33.0 6.2,-33.0 5.6,-32.9 5.3,-32.9" stroke="#25c3c5"/><path d="M35.1,-34.1 34.9,-35.1 34.7,-36.0M-9.5,-35.4 -9.2,-34.9 -8.6,-34.6 -7.9,-34.4 -7.3,-34.1M-20.9,-34.5 -20.3,-35.2 -20.0,-35.5M12.3,-35.4 13.0,-35.2 13.5,-35.0 14.4,-34.8 15.1,-34.7 15.8,-34.6 16.5,-34.7 17.2,-34.8 17.7,-35.1 18.0,-35.4M-7.9,-35.4 -8.6,-35.1 -9.3,-34.8 -9.8,-34.5 -10.5,-34.2 -10.8,-34.1M-11.7,-34.1 -11.0,-34.3 -10.3,-34.3 -9.7,-34.4 -9.0,-34.4 -8.2,-34.3 -7.4,-34.2 -6.8,-34.2 -6.6,-34.1M-18.4,-34.2 -17.8,-34.7 -17.1,-35.2 -16.8,-35.4M5.6,-35.3 6.3,-35.0 7.1,-34.8 7.8,-34.5 8.4,-34.3 8.7,-34.1M16.1,-34.2 15.7,-34.8 15.2,-35.2 14.8,-35.5M0.3,-35.4 -0.3,-35.1 -0.8,-34.9 -1.7,-34.6 -2.5,-34.3 -3.0,-34.0M16.3,-34.3 15.7,-34.7 15.0,-35.1 14.3,-35.4M-1.5,-35.4 -2.3,-35.1 -3.0,-34.9 -3.7,-34.6 -4.5,-34.4 -5.1,-34.1M-13.5,-34.2 -12.9,-34.5 -12.1,-34.8 -11.5,-34.9 -10.8,-35.1 -10.1,-35.2 -9.4,-35.2 -8.6,-35.2 -7.9,-35.2 -7.1,-35.2 -6.2,-35.1 -5.4,-34.9 -4.6,-34.8 -3.8,-34.6 -3.0,-34.4 -2.2,-34.1 -1.9,-34.1" stroke="#27c1c7"/><path d="M34.7,-36.0 34.4,-36.9M-8.5,-36.7 -9.0,-36.2 -9.4,-35.7 -9.5,-35.4M-20.0,-35.5 -19.3,-36.2 -18.5,-36.8M8.7,-36.6 9.5,-36.3 10.3,-36.1 11.0,-35.8 11.7,-35.6 12.3,-35.4M18.0,-35.4 18.0,-36.1 17.8,-36.7M-5.3,-36.6 -5.9,-36.3 -6.4,-36.1 -7.2,-35.7 -7.9,-35.4M-16.8,-35.4 -16.1,-35.9 -15.3,-36.3 -14.5,-36.6 -14.1,-36.8M1.5,-36.6 2.4,-36.4 3.2,-36.1 4.1,-35.8 4.8,-35.6 5.6,-35.3M14.8,-35.5 14.1,-35.9 13.5,-36.1 12.9,-36.4 12.2,-36.6 11.7,-36.7M5.2,-36.7 4.6,-36.5 4.0,-36.4 3.3,-36.3 2.7,-36.1 2.1,-35.9 1.5,-35.8 0.9,-35.6 0.3,-35.4M14.3,-35.4 13.6,-35.7 12.8,-36.0 12.0,-36.2 11.2,-36.4 10.4,-36.6 9.5,-36.7M4.3,-36.6 3.5,-36.5 2.6,-36.4 1.8,-36.2 0.9,-36.0 0.1,-35.8 -0.7,-35.6 -1.5,-35.4" stroke="#30b5cb"/><path d="M34.4,-36.9 34.1,-37.8 33.7,-38.8M-6.8,-37.9 -7.4,-37.5 -7.9,-37.1 -8.5,-36.7M-18.5,-36.8 -17.7,-37.3 -16.9,-37.8 -16.4,-38.1M5.2,-37.8 6.1,-37.5 7.0,-37.2 7.9,-36.9 8.7,-36.6M17.8,-36.7 17.4,-37.2 16.9,-37.8 16.5,-38.1M-2.1,-37.9 -2.8,-37.6 -3.4,-37.3 -4.1,-37.1 -4.7,-36.8 -5.3,-36.6M-14.1,-36.8 -13.3,-37.1 -12.4,-37.4 -11.5,-37.6 -10.6,-37.7 -9.7,-37.9 -8.7,-37.9M-5.4,-37.9 -4.4,-37.8 -3.5,-37.7 -2.5,-37.6 -1.6,-37.4 -0.7,-37.2 0.2,-37.0 1.1,-36.8 1.5,-36.6M11.7,-36.7 10.9,-36.8 10.1,-36.9 9.2,-37.0 8.3,-37.0 7.7,-36.9 7.1,-36.9 6.5,-36.8 5.8,-36.8 5.2,-36.7M9.5,-36.7 8.7,-36.8 7.8,-36.8 7.0,-36.8 6.1,-36.8 5.2,-36.7 4.3,-36.6" stroke="#3da4cf"/><path d="M33.7,-38.8 33.3,-39.7M-4.8,-39.1 -5.5,-38.7 -6.0,-38.4 -6.6,-38.0 -6.8,-37.9M-16.4,-38.1 -15.5,-38.5 -14.5,-38.9 -13.5,-39.2M0.8,-39.1 1.8,-38.8 2.8,-38.6 3.8,-38.3 4.8,-38.0 5.2,-37.8M16.5,-38.1 15.9,-38.4 15.3,-38.8 14.5,-39.1 14.2,-39.2M1.9,-39.1 1.1,-38.9 0.4,-38.7 -0.3,-38.5 -1.1,-38.2 -1.8,-38.0 -2.1,-37.9M-8.7,-37.9 -7.8,-38.0 -6.8,-38.0 -5.9,-38.0 -5.4,-37.9" stroke="#4490ca"/><path d="M33.3,-39.7 32.8,-40.6M-2.4,-40.4 -3.2,-40.0 -3.9,-39.6 -4.6,-39.2 -4.8,-39.1M-13.5,-39.2 -12.5,-39.5 -11.4,-39.7 -10.3,-39.9 -9.2,-40.0 -8.1,-40.1 -7.0,-40.1 -5.8,-40.1 -4.7,-40.0 -3.6,-39.9 -2.5,-39.7 -1.4,-39.6 -0.3,-39.3 0.8,-39.1M14.2,-39.2 13.6,-39.4 13.0,-39.6 12.4,-39.7 11.7,-39.9 11.0,-40.0 10.3,-40.0 9.6,-40.1 8.9,-40.1 8.1,-40.1 7.3,-40.0 6.6,-40.0 5.8,-39.9 5.0,-39.8 4.2,-39.6 3.4,-39.5 2.7,-39.3 1.9,-39.1" stroke="#4a79c2"/><path d="M32.8,-40.6 32.3,-41.4 31.8,-42.3M0.4,-41.7 -0.2,-41.4 -0.8,-41.2 -1.3,-40.9 -1.9,-40.7 -2.4,-40.4" stroke="#4f63b9"/><path d="M31.8,-42.3 31.2,-43.2M3.8,-42.9 3.1,-42.7 2.5,-42.5 1.9,-42.3 1.3,-42.0 0.7,-41.8 0.4,-41.7" stroke="#575bb6"/><path d="M31.2,-43.2 30.5,-44.0 29.8,-44.8M10.6,-44.2 9.9,-44.2 9.1,-44.1 8.3,-44.0 7.4,-43.8 6.8,-43.7 6.2,-43.6 5.6,-43.4 5.0,-43.3 4.4,-43.1 3.8,-42.9" stroke="#5f54b4"/><path d="M29.8,-44.8 29.1,-45.6M12.2,-45.5 12.8,-45.2 13.4,-44.8 13.0,-44.4 12.2,-44.3 11.5,-44.3 10.8,-44.3 10.6,-44.2" stroke="#684eb2"/><path d="M29.1,-45.6 28.3,-46.3 27.5,-47.0M9.8,-46.7 10.3,-46.5 11.1,-46.1 11.8,-45.7 12.2,-45.5" stroke="#7048b0"/><path d="M27.5,-47.0 26.7,-47.7 25.8,-48.4M-21.4,-47.9 -22.1,-47.7 -22.8,-47.5 -23.5,-47.4 -24.1,-47.2 -24.8,-47.1 -25.9,-47.0 -27.0,-46.9 -27.9,-46.9 -28.7,-47.1 -29.4,-47.3 -30.0,-47.7 -30.4,-48.1M7.0,-48.0 7.8,-47.7 8.5,-47.4 9.1,-47.0 9.8,-46.7" stroke="#8148b2"/><path d="M25.8,-48.4 24.8,-49.0 23.9,-49.6M-17.4,-49.1 -18.3,-48.8 -19.1,-48.5 -19.9,-48.3 -20.7,-48.1 -21.4,-47.9M-30.4,-48.1 -30.8,-48.6 -30.9,-49.2 -31.0,-49.5M4.1,-49.2 5.0,-48.9 5.8,-48.5 6.6,-48.2 7.0,-48.0" stroke="#9248b4"/><path d="M23.9,-49.6 22.9,-50.2 21.8,-50.7M-12.8,-50.5 -13.8,-50.2 -14.7,-49.9 -15.7,-49.6 -16.5,-49.3 -17.4,-49.1M-31.0,-49.5 -30.9,-50.2 -30.9,-50.6M0.3,-50.5 1.3,-50.2 2.3,-49.9 3.2,-49.6 4.1,-49.2" stroke="#a248b6"/><path d="M21.8,-50.7 20.8,-51.2 19.7,-51.6 18.6,-52.0M-8.7,-51.7 -9.8,-51.4 -10.8,-51.1 -11.8,-50.8 -12.8,-50.5M-30.9,-50.6 -30.6,-51.4 -30.2,-52.2M-16.6,-51.8 -17.4,-51.5 -18.0,-51.3 -18.6,-51.2 -18.0,-51.6 -17.4,-51.8 -17.2,-51.8M-4.8,-51.8 -3.8,-51.6 -2.7,-51.4 -1.7,-51.1 -0.7,-50.8 0.3,-50.5" stroke="#b148b8"/><path d="M18.6,-52.0 17.4,-52.4 16.3,-52.7 15.1,-53.0 13.9,-53.2M-3.1,-52.9 -4.3,-52.7 -5.4,-52.5 -6.5,-52.2 -7.6,-51.9 -8.7,-51.7M-30.2,-52.2 -29.6,-53.1 -29.3,-53.5M-13.2,-53.0 -14.1,-52.7 -14.9,-52.4 -15.7,-52.1 -16.3,-51.9 -16.6,-51.8M-17.2,-51.8 -16.4,-52.0 -15.8,-52.1 -15.1,-52.3 -14.4,-52.3 -13.6,-52.4 -12.7,-52.5 -11.8,-52.5 -10.9,-52.5 -10.0,-52.5 -9.0,-52.4 -8.0,-52.3 -6.9,-52.2 -5.9,-52.0 -4.8,-51.8" stroke="#b74ab6"/><path d="M13.9,-53.2 12.7,-53.4 11.5,-53.6 10.3,-53.7 9.0,-53.8 7.8,-53.9 6.6,-53.9 5.3,-53.9 4.1,-53.8 2.9,-53.7 1.7,-53.6 0.5,-53.5 -0.7,-53.3 -1.9,-53.1 -3.1,-52.9M-29.3,-53.5 -28.5,-54.4M19.3,-54.3 20.3,-54.1 21.2,-53.8 22.1,-53.6 22.8,-53.5 23.6,-53.5 24.3,-53.7 24.5,-54.3 24.5,-54.5M-10.2,-54.2 -11.3,-53.8 -12.3,-53.4 -13.2,-53.0" stroke="#be4db3"/><path d="M-28.5,-54.4 -28.0,-54.8 -27.5,-55.2 -27.0,-55.7M15.6,-55.6 16.3,-55.3 16.9,-55.1 17.5,-54.9 18.2,-54.7 18.7,-54.5 19.3,-54.3M24.5,-54.5 24.1,-55.0 23.4,-55.5 23.1,-55.7M-6.5,-55.5 -7.1,-55.3 -7.8,-55.1 -8.4,-54.9 -9.0,-54.7 -9.6,-54.4 -10.2,-54.2" stroke="#c44fb1"/><path d="M-27.0,-55.7 -26.4,-56.1 -25.8,-56.5 -25.2,-56.9 -24.5,-57.3M11.8,-56.8 12.6,-56.5 13.4,-56.3 14.1,-56.0 14.9,-55.8 15.6,-55.6M23.1,-55.7 22.5,-56.1 21.7,-56.5 20.9,-56.9 20.4,-57.1M-2.3,-56.8 -3.0,-56.6 -3.7,-56.4 -4.4,-56.2 -5.1,-56.0 -5.8,-55.8 -6.5,-55.5" stroke="#c952af"/><path d="M-24.5,-57.3 -23.8,-57.6 -23.0,-58.0 -22.2,-58.3M7.5,-58.1 8.4,-57.9 9.3,-57.6 10.1,-57.3 11.0,-57.1 11.8,-56.8M20.4,-57.1 19.4,-57.4 18.3,-57.7 17.7,-57.9 17.1,-58.0 16.4,-58.1 15.8,-58.2M3.8,-58.1 3.0,-58.0 2.3,-57.8 1.5,-57.7 0.7,-57.5 -0.0,-57.3 -0.8,-57.2 -1.5,-57.0 -2.3,-56.8" stroke="#cb57ad"/><path d="M-22.2,-58.3 -21.4,-58.6 -20.6,-58.9 -19.7,-59.2 -18.8,-59.5M2.7,-59.3 3.7,-59.1 4.6,-58.9 5.6,-58.6 6.5,-58.4 7.5,-58.1M15.8,-58.2 15.1,-58.3 14.4,-58.4 13.7,-58.5 13.0,-58.5 12.3,-58.6 11.6,-58.6 10.8,-58.6 10.1,-58.6 9.3,-58.6 8.5,-58.6 7.7,-58.5 7.0,-58.5 6.2,-58.4 5.4,-58.3 4.6,-58.2 3.8,-58.1" stroke="#cd5cab"/><path d="M-18.8,-59.5 -17.9,-59.7 -16.9,-59.9 -16.0,-60.1 -15.0,-60.3 -14.0,-60.4 -13.0,-60.5 -11.9,-60.6 -10.9,-60.6 -9.9,-60.7 -8.8,-60.7 -7.8,-60.7 -6.7,-60.6 -5.6,-60.6 -4.6,-60.5 -3.5,-60.4 -2.5,-60.2 -1.4,-60.1 -0.4,-59.9 0.6,-59.7 1.7,-59.5 2.7,-59.3" stroke="#cf61a9"/></g></defs>
<use href="#b5" transform="translate(413.4,325.3)"/>
<line x1="469.3" y1="325.3" x2="540.3" y2="325.3" stroke="#999" stroke-width="0.7" />
<line x1="502.2" y1="263.6" x2="502.2" y2="326" stroke="#999" stroke-width="0.7" />
<path d="M470.84 325.6V325M472.8 325.6V325M474.76 325.6V325M476.72 325.6V325M478.68 325.6V325M480.64 325.6V325M482.6 325.6V325M484.56 325.6V325M486.52 325.6V325M488.48 325.6V325M490.44 325.6V325M492.4 325.6V325M494.36 325.6V325M496.32 325.6V325M498.28 325.6V325M500.24 325.6V325M502.2 325.6V325M504.16 325.6V325M506.12 325.6V325M508.08 325.6V325M510.04 325.6V325M512 325.6V325M513.96 325.6V325M515.92 325.6V325M517.88 325.6V325M519.84 325.6V325M521.8 325.6V325M523.76 325.6V325M525.72 325.6V325M527.68 325.6V325M529.64 325.6V325M531.6 325.6V325M533.56 325.6V325M535.52 325.6V325M537.48 325.6V325M539.44 325.6V325M501.9 325.3H502.5M501.9 323.3H502.5M501.9 321.3H502.5M501.9 319.3H502.5M501.9 317.3H502.5M501.9 315.3H502.5M501.9 313.3H502.5M501.9 311.3H502.5M501.9 309.3H502.5M501.9 307.3H502.5M501.9 305.3H502.5M501.9 303.3H502.5M501.9 301.3H502.5M501.9 299.3H502.5M501.9 297.3H502.5M501.9 295.3H502.5M501.9 293.3H502.5M501.9 291.3H502.5M501.9 289.3H502.5M501.9 287.3H502.5M501.9 285.3H502.5M501.9 283.3H502.5M501.9 281.3H502.5M501.9 279.3H502.5M501.9 277.3H502.5M501.9 275.3H502.5M501.9 273.3H502.5M501.9 271.3H502.5M501.9 269.3H502.5M501.9 267.3H502.5M501.9 265.3H502.5M472.8 325.3V324.3M482.6 325.3V324.3M492.4 325.3V324.3M512 325.3V324.3M521.8 325.3V324.3M531.6 325.3V324.3M502.2 315.3H503.2M502.2 305.3H503.2M502.2 295.3H503.2M502.2 285.3H503.2M502.2 275.3H503.2M502.2 265.3H503.2" stroke="#444" stroke-width="0.6" fill="none"/>
<text x="472.8" y="330.6" font-size="5" text-anchor="middle" fill="#111" font-weight="normal" stroke="#111" stroke-width="0.11" >&#8722;30</text>
<text x="482.6" y="330.6" font-size="5" text-anchor="middle" fill="#111" font-weight="normal" stroke="#111" stroke-width="0.11" >&#8722;20</text>
<text x="492.4" y="330.6" font-size="5" text-anchor="middle" fill="#111" font-weight="normal" stroke="#111" stroke-width="0.11" >&#8722;10</text>
<text x="512" y="330.6" font-size="5" text-anchor="middle" fill="#111" font-weight="normal" stroke="#111" stroke-width="0.11" >10</text>
<text x="521.8" y="330.6" font-size="5" text-anchor="middle" fill="#111" font-weight="normal" stroke="#111" stroke-width="0.11" >20</text>
<text x="531.6" y="330.6" font-size="5" text-anchor="middle" fill="#111" font-weight="normal" stroke="#111" stroke-width="0.11" >30</text>
<text x="500.5" y="316.95" font-size="5" text-anchor="end" fill="#111" font-weight="normal" stroke="#111" stroke-width="0.11" >10</text>
<text x="500.5" y="306.95" font-size="5" text-anchor="end" fill="#111" font-weight="normal" stroke="#111" stroke-width="0.11" >20</text>
<text x="500.5" y="296.95" font-size="5" text-anchor="end" fill="#111" font-weight="normal" stroke="#111" stroke-width="0.11" >30</text>
<text x="500.5" y="286.95" font-size="5" text-anchor="end" fill="#111" font-weight="normal" stroke="#111" stroke-width="0.11" >40</text>
<text x="500.5" y="276.95" font-size="5" text-anchor="end" fill="#111" font-weight="normal" stroke="#111" stroke-width="0.11" >50</text>
<text x="500.5" y="266.95" font-size="5" text-anchor="end" fill="#111" font-weight="normal" stroke="#111" stroke-width="0.11" >60</text>
<text x="502.2" y="260.5" font-size="5" text-anchor="middle" fill="#111" font-weight="normal" stroke="#111" stroke-width="0.11" >z2(t)</text>
<text x="542.8" y="326.95" font-size="4.8" text-anchor="start" fill="#111" font-weight="normal" stroke="#111" stroke-width="0.11" >y2(t)</text>
<use href="#b5" transform="translate(502.2,325.3)"/>
<path d="M19,278 Q17.8,278 17.8,279.5 L17.8,281.8 Q17.8,282.8 16.6,282.8 Q17.8,282.8 17.8,283.8 L17.8,286.1 Q17.8,287.6 19,287.6" fill="none" stroke="#9a9a9a" stroke-width="0.65"/>
<path d="M193.2,278 Q194.4,278 194.4,279.5 L194.4,281.9 Q194.4,282.9 195.6,282.9 Q194.4,282.9 194.4,283.9 L194.4,286.3 Q194.4,287.8 193.2,287.8" fill="none" stroke="#9a9a9a" stroke-width="0.65"/>
<path d="M199.2,280.2 Q198,280.2 198,281.7 L198,284.2 Q198,285.2 196.8,285.2 Q198,285.2 198,286.2 L198,288.7 Q198,290.2 199.2,290.2" fill="none" stroke="#9a9a9a" stroke-width="0.65"/>
<path d="M373.2,280.2 Q374.4,280.2 374.4,281.7 L374.4,284.2 Q374.4,285.2 375.6,285.2 Q374.4,285.2 374.4,286.2 L374.4,288.7 Q374.4,290.2 373.2,290.2" fill="none" stroke="#9a9a9a" stroke-width="0.65"/>
<path d="M379,290 Q377.8,290 377.8,291.5 L377.8,293.8 Q377.8,294.8 376.6,294.8 Q377.8,294.8 377.8,295.8 L377.8,298.1 Q377.8,299.6 379,299.6" fill="none" stroke="#9a9a9a" stroke-width="0.65"/>
<path d="M552.8,289.6 Q554,289.6 554,291.1 L554,293.6 Q554,294.6 555.2,294.6 Q554,294.6 554,295.6 L554,298.1 Q554,299.6 552.8,299.6" fill="none" stroke="#9a9a9a" stroke-width="0.65"/>
<path d="M105.1,282.5 q0.5,0.2 0.2,1.1 q-0.3,0.8 -1.1,1.2" fill="none" stroke="#333" stroke-width="1.1" stroke-linecap="round"/>
<path d="M285,285.8 q0.5,0.2 0.2,1.1 q-0.3,0.8 -1.1,1.2" fill="none" stroke="#333" stroke-width="1.1" stroke-linecap="round"/>
<path d="M464.8,295 q0.5,0.2 0.2,1.1 q-0.3,0.8 -1.1,1.2" fill="none" stroke="#333" stroke-width="1.1" stroke-linecap="round"/>
</svg></body></html>
